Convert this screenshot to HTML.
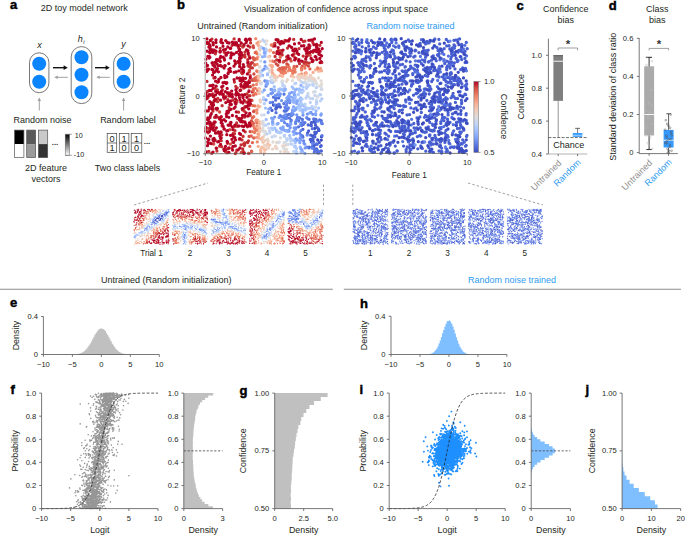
<!DOCTYPE html>
<html><head><meta charset="utf-8"><style>
html,body{margin:0;padding:0;background:#fff;width:685px;height:535px;overflow:hidden}
svg{display:block}
text{font-family:"Liberation Sans",sans-serif}
</style></head><body>
<svg width="685" height="535" viewBox="0 0 685 535">
<rect width="685" height="535" fill="#fff"/>
<text x="10.00" y="9.30" font-size="13" text-anchor="start" fill="#000" font-weight="bold" stroke="#000" stroke-width="0.45">a</text>
<text x="40.80" y="10.90" font-size="9" text-anchor="start" fill="#231f20">2D toy model network</text>
<rect x="29.50" y="52.80" width="19.40" height="39.90" fill="#fff" stroke="#555" stroke-width="0.8" rx="9.7"/>
<circle cx="39.2" cy="63.8" r="7" fill="#0a84ff"/>
<circle cx="39.2" cy="81.7" r="7" fill="#0a84ff"/>
<rect x="71.20" y="46.60" width="20.60" height="57.00" fill="#fff" stroke="#555" stroke-width="0.8" rx="10.299999999999997"/>
<circle cx="81.5" cy="57.2" r="7" fill="#0a84ff"/>
<circle cx="81.5" cy="74.7" r="7" fill="#0a84ff"/>
<circle cx="81.5" cy="92.2" r="7" fill="#0a84ff"/>
<rect x="113.70" y="52.80" width="19.80" height="39.90" fill="#fff" stroke="#555" stroke-width="0.8" rx="9.899999999999999"/>
<circle cx="123.6" cy="63.8" r="7" fill="#0a84ff"/>
<circle cx="123.6" cy="81.7" r="7" fill="#0a84ff"/>
<line x1="53.00" y1="67.70" x2="65.28" y2="67.70" stroke="#111" stroke-width="1.4"/>
<path d="M67.80 67.70L63.60 65.30L63.60 70.10Z" fill="#111"/>
<line x1="95.00" y1="67.70" x2="107.28" y2="67.70" stroke="#111" stroke-width="1.4"/>
<path d="M109.80 67.70L105.60 65.30L105.60 70.10Z" fill="#111"/>
<line x1="67.80" y1="77.30" x2="56.36" y2="77.30" stroke="#a0a0a0" stroke-width="1.0"/>
<path d="M54.20 77.30L57.80 75.50L57.80 79.10Z" fill="#a0a0a0"/>
<line x1="109.80" y1="77.30" x2="98.36" y2="77.30" stroke="#a0a0a0" stroke-width="1.0"/>
<path d="M96.20 77.30L99.80 75.50L99.80 79.10Z" fill="#a0a0a0"/>
<line x1="39.30" y1="110.50" x2="39.30" y2="99.66" stroke="#a0a0a0" stroke-width="1.0"/>
<path d="M39.30 97.50L37.50 101.10L41.10 101.10Z" fill="#a0a0a0"/>
<line x1="123.60" y1="110.50" x2="123.60" y2="99.66" stroke="#a0a0a0" stroke-width="1.0"/>
<path d="M123.60 97.50L121.80 101.10L125.40 101.10Z" fill="#a0a0a0"/>
<text x="39.40" y="48.20" font-size="9" text-anchor="middle" fill="#231f20" font-style="italic">x</text>
<text x="80.20" y="41.60" font-size="9" text-anchor="middle" fill="#231f20" font-style="italic">h</text>
<text x="84.00" y="43.80" font-size="6" text-anchor="middle" fill="#231f20" font-style="italic">i</text>
<text x="123.60" y="47.20" font-size="9" text-anchor="middle" fill="#231f20" font-style="italic">y</text>
<text x="42.60" y="122.50" font-size="9" text-anchor="middle" fill="#231f20">Random noise</text>
<text x="127.90" y="122.50" font-size="9" text-anchor="middle" fill="#231f20">Random label</text>
<rect x="14.60" y="130.10" width="9.30" height="14.00" fill="#000"/>
<rect x="14.60" y="144.10" width="9.30" height="13.50" fill="#fff"/>
<rect x="14.60" y="130.10" width="9.30" height="27.50" fill="none" stroke="#555" stroke-width="0.7"/>
<rect x="26.70" y="130.10" width="8.90" height="14.00" fill="#5a5a5a"/>
<rect x="26.70" y="144.10" width="8.90" height="13.50" fill="#9b9b9b"/>
<rect x="26.70" y="130.10" width="8.90" height="27.50" fill="none" stroke="#555" stroke-width="0.7"/>
<rect x="38.40" y="130.10" width="9.30" height="14.00" fill="#c9c9c9"/>
<rect x="38.40" y="144.10" width="9.30" height="13.50" fill="#333"/>
<rect x="38.40" y="130.10" width="9.30" height="27.50" fill="none" stroke="#555" stroke-width="0.7"/>
<text x="55.00" y="145.00" font-size="8" text-anchor="middle" fill="#333" font-weight="bold">...</text>
<defs><linearGradient id="gk" x1="0" y1="0" x2="0" y2="1"><stop offset="0" stop-color="#000"/><stop offset="1" stop-color="#fff"/></linearGradient></defs>
<rect x="65.20" y="134.30" width="4.40" height="21.00" fill="url(#gk)" stroke="#666" stroke-width="0.5"/>
<line x1="65.20" y1="134.30" x2="71.90" y2="134.30" stroke="#666" stroke-width="0.6"/>
<line x1="65.20" y1="155.30" x2="71.90" y2="155.30" stroke="#666" stroke-width="0.6"/>
<text x="74.80" y="137.80" font-size="7.2" text-anchor="start" fill="#231f20">10</text>
<text x="73.80" y="157.30" font-size="7.2" text-anchor="start" fill="#231f20">-10</text>
<text x="46.00" y="171.30" font-size="9" text-anchor="middle" fill="#231f20">2D feature</text>
<text x="46.00" y="181.50" font-size="9" text-anchor="middle" fill="#231f20">vectors</text>
<rect x="107.20" y="133.60" width="9.50" height="18.70" fill="#fff" stroke="#444" stroke-width="0.7"/>
<line x1="107.20" y1="143.00" x2="116.70" y2="143.00" stroke="#444" stroke-width="0.7"/>
<text x="111.95" y="141.80" font-size="9.2" text-anchor="middle" fill="#231f20">0</text>
<text x="111.95" y="151.20" font-size="9.2" text-anchor="middle" fill="#231f20">1</text>
<rect x="119.30" y="133.60" width="9.60" height="18.70" fill="#fff" stroke="#444" stroke-width="0.7"/>
<line x1="119.30" y1="143.00" x2="128.90" y2="143.00" stroke="#444" stroke-width="0.7"/>
<text x="124.10" y="141.80" font-size="9.2" text-anchor="middle" fill="#231f20">1</text>
<text x="124.10" y="151.20" font-size="9.2" text-anchor="middle" fill="#231f20">0</text>
<rect x="131.20" y="133.60" width="10.60" height="18.70" fill="#fff" stroke="#444" stroke-width="0.7"/>
<line x1="131.20" y1="143.00" x2="141.80" y2="143.00" stroke="#444" stroke-width="0.7"/>
<text x="136.50" y="141.80" font-size="9.2" text-anchor="middle" fill="#231f20">1</text>
<text x="136.50" y="151.20" font-size="9.2" text-anchor="middle" fill="#231f20">0</text>
<text x="147.00" y="143.60" font-size="8" text-anchor="middle" fill="#333" font-weight="bold">...</text>
<text x="127.50" y="171.00" font-size="9" text-anchor="middle" fill="#231f20">Two class labels</text>
<text x="177.00" y="9.20" font-size="13" text-anchor="start" fill="#000" font-weight="bold" stroke="#000" stroke-width="0.45">b</text>
<text x="336.00" y="12.30" font-size="9" text-anchor="middle" fill="#231f20">Visualization of confidence across input space</text>
<text x="262.50" y="28.90" font-size="9" text-anchor="middle" fill="#231f20">Untrained (Random initialization)</text>
<text x="410.50" y="28.90" font-size="9" text-anchor="middle" fill="#2f9bf0">Random noise trained</text>
<path d="M277.0 148.6h0M319.8 85.8h0M276.1 80.3h0M318.5 78.0h0M276.6 142.6h0M282.7 81.0h0M259.9 66.7h0M260.2 54.7h0M264.7 134.7h0M288.2 152.6h0M321.7 84.1h0M307.1 78.6h0M274.5 81.4h0M285.2 149.9h0M260.1 50.5h0M267.5 139.2h0M259.5 67.2h0M292.5 80.6h0M263.5 136.9h0M286.4 81.6h0M267.7 143.3h0M286.5 149.5h0M265.4 131.3h0M321.1 81.0h0M315.6 81.4h0M322.0 89.3h0M262.9 141.5h0M280.5 151.5h0M262.9 128.1h0M302.9 77.7h0M299.5 78.1h0M269.7 72.0h0M286.0 151.6h0M273.0 142.0h0M284.6 142.3h0" stroke="#e2dad5" stroke-width="3.30" stroke-linecap="round"/>
<path d="M321.5 136.7h0M313.9 121.7h0M318.8 130.4h0M273.5 105.1h0M311.1 125.3h0M317.7 140.0h0M315.2 134.0h0M312.8 135.9h0M276.3 108.0h0M276.2 105.5h0M316.2 132.4h0M314.8 128.4h0M321.3 140.1h0" stroke="#3b4cc0" stroke-width="3.30" stroke-linecap="round"/>
<path d="M278.4 50.4h0M321.8 62.5h0M278.1 39.9h0M243.1 136.4h0M246.9 94.0h0M205.9 67.0h0M207.0 81.4h0M279.0 41.9h0M244.2 107.9h0M230.2 48.3h0M208.8 151.4h0M244.9 117.1h0M306.2 62.0h0M249.7 124.6h0M217.1 109.9h0M249.2 71.9h0M296.1 58.7h0M212.8 94.0h0M249.5 105.4h0M288.7 58.7h0M211.9 39.1h0M309.3 48.2h0M251.6 62.7h0M221.2 140.7h0M319.9 45.3h0M233.0 100.2h0M243.8 45.9h0M223.5 94.5h0M304.1 63.3h0M246.5 102.2h0M248.8 86.8h0M316.2 51.4h0M236.8 62.5h0M218.7 117.4h0M244.7 144.8h0M220.8 132.5h0M230.2 122.9h0M249.6 70.3h0M241.0 144.8h0M237.2 87.8h0M306.5 53.9h0M248.5 66.2h0M242.7 148.9h0M214.9 88.3h0M217.8 59.6h0M234.5 133.7h0M227.8 99.7h0M220.7 41.7h0M249.1 66.6h0M221.7 146.7h0M283.9 61.4h0M237.8 118.7h0M235.0 130.6h0M244.3 145.6h0M208.6 128.5h0M235.8 86.5h0M286.4 60.2h0M304.9 41.2h0M307.0 50.5h0M216.6 148.4h0M207.4 91.5h0M249.9 95.7h0M244.4 84.3h0M213.4 124.0h0M239.3 139.2h0M224.2 129.1h0M238.6 47.9h0M242.3 73.7h0M213.9 96.5h0M243.8 88.1h0M239.7 64.1h0M309.2 63.1h0M215.5 100.5h0M250.3 86.7h0M244.9 106.7h0M215.5 63.2h0M220.3 51.8h0M253.0 80.0h0M312.4 61.5h0M224.1 98.8h0M242.8 47.0h0M215.2 129.9h0M309.9 45.9h0M235.3 153.6h0M250.6 42.9h0M287.5 48.1h0M247.2 142.3h0M250.3 39.1h0M220.1 48.3h0M227.0 152.7h0M210.3 143.1h0M233.6 136.6h0M303.2 56.1h0M250.2 75.7h0M213.9 78.1h0M217.6 82.3h0M242.6 122.0h0M252.4 67.9h0M227.4 143.3h0M284.9 40.4h0M294.0 54.1h0M232.1 45.5h0M222.4 90.0h0M321.1 61.9h0M214.2 121.9h0M293.7 39.4h0M279.4 54.2h0M245.2 131.8h0M248.1 62.1h0M247.7 59.7h0M243.0 150.9h0M282.2 54.9h0M221.8 134.8h0M317.2 45.3h0M214.6 117.4h0M212.4 106.9h0M236.6 100.5h0M231.9 148.3h0M224.2 52.2h0M236.3 125.1h0M249.0 95.9h0M284.2 41.8h0M303.8 62.0h0M243.5 56.2h0M215.4 53.8h0M228.3 148.7h0M303.3 41.5h0M288.5 41.2h0M237.9 93.7h0M299.5 63.7h0M250.3 67.4h0M244.4 153.0h0M238.6 112.2h0M240.8 90.0h0M281.8 52.4h0M250.5 64.4h0M299.0 48.7h0M225.9 96.6h0M233.2 133.3h0M235.4 44.9h0M208.1 119.3h0M219.6 146.2h0M244.6 143.0h0M279.5 61.9h0M210.5 50.0h0M250.0 47.1h0M252.4 62.8h0M226.7 116.5h0M236.9 102.1h0M290.2 58.8h0M217.8 98.5h0M220.1 93.3h0M245.0 57.0h0M250.4 39.9h0M222.0 125.8h0M247.7 142.6h0M240.0 45.5h0M287.5 57.0h0M207.8 98.1h0M280.8 50.7h0M244.7 55.1h0M236.0 152.6h0M214.5 99.9h0M225.2 151.3h0M208.2 132.8h0M235.5 42.3h0M239.9 78.4h0M250.9 100.2h0M286.7 56.9h0M274.9 43.5h0M307.2 63.0h0M249.9 102.1h0M236.6 123.0h0M312.9 52.3h0M236.8 150.2h0M249.3 56.5h0M214.0 125.3h0M307.9 55.3h0M278.6 60.4h0M213.1 109.5h0M212.3 50.6h0M234.2 126.8h0M234.1 38.9h0M205.6 128.7h0M244.2 111.1h0M243.7 143.8h0M242.0 139.9h0M275.1 56.5h0M207.2 42.5h0M245.3 86.3h0M213.6 140.9h0M241.5 72.5h0M227.8 92.6h0M248.8 99.7h0M211.7 153.3h0M276.7 59.9h0M216.9 151.1h0M312.8 42.4h0M237.0 126.3h0M217.4 89.9h0M245.0 52.1h0M217.6 101.7h0M229.1 107.6h0M232.2 54.5h0M242.6 109.9h0M211.2 128.7h0M234.4 82.0h0M248.0 65.4h0M222.1 105.7h0M229.1 96.1h0M212.9 111.2h0M252.3 91.9h0M215.7 51.6h0M248.5 140.9h0" stroke="#c43032" stroke-width="3.30" stroke-linecap="round"/>
<path d="M318.5 129.0h0M272.0 110.4h0M308.6 131.0h0M311.3 122.7h0M313.0 139.5h0M307.5 133.1h0M280.4 107.0h0M315.2 122.8h0M287.0 109.1h0M313.4 142.0h0M313.1 145.6h0M314.8 136.9h0M311.3 141.8h0M315.0 149.9h0M318.8 130.4h0M316.5 148.8h0M313.6 147.4h0M313.2 137.4h0M310.3 139.5h0M309.2 147.1h0M321.2 145.7h0M314.8 132.2h0M317.7 152.8h0M285.8 111.1h0M315.9 119.4h0M315.5 125.2h0M311.8 122.6h0M275.8 109.0h0M308.2 124.9h0M312.5 139.0h0M286.0 115.1h0M278.6 97.9h0M310.7 135.2h0M321.3 151.0h0M320.5 146.5h0M301.4 123.4h0M316.0 132.8h0M311.2 125.7h0M278.9 104.3h0M302.9 129.3h0M317.1 127.4h0M319.3 142.5h0M314.4 145.2h0M278.1 106.6h0M317.1 144.3h0" stroke="#485fd1" stroke-width="3.30" stroke-linecap="round"/>
<path d="M302.4 135.9h0M283.9 119.1h0M275.9 98.5h0M284.2 111.0h0M289.7 102.5h0M272.6 102.3h0M312.3 128.7h0M314.4 149.1h0M317.8 150.7h0M281.0 116.5h0M273.5 97.2h0M299.9 117.9h0M322.0 135.7h0M321.3 120.7h0M287.5 115.0h0M289.4 118.1h0M317.5 152.0h0M279.0 104.4h0M316.2 150.2h0M314.3 152.2h0M287.9 99.5h0M307.9 118.8h0M316.2 121.0h0M319.1 151.7h0M286.9 110.0h0M313.7 119.0h0M298.6 126.8h0M302.4 119.4h0M284.0 94.2h0M316.5 143.8h0M309.2 119.3h0M319.6 119.9h0M287.5 109.2h0M303.4 124.4h0M319.0 152.9h0M302.9 137.2h0M280.2 115.6h0M304.9 122.6h0M301.6 125.6h0M298.8 121.0h0M297.4 117.7h0M276.0 112.7h0M315.6 119.5h0M291.2 120.2h0M289.0 114.3h0M312.1 146.9h0M309.0 147.9h0M322.2 123.7h0M283.8 103.6h0M275.6 100.2h0" stroke="#5572df" stroke-width="3.30" stroke-linecap="round"/>
<path d="M296.1 127.8h0M303.6 140.8h0M312.4 148.3h0M298.6 117.6h0M270.6 108.1h0M306.7 117.7h0M300.9 135.2h0M286.5 105.2h0M290.8 121.6h0M307.2 135.0h0M321.4 123.1h0M299.7 133.2h0M307.0 147.1h0M281.9 120.3h0M318.0 121.2h0M276.6 95.1h0M291.5 113.7h0M285.7 108.5h0M270.2 102.6h0M295.6 123.6h0M286.8 102.6h0M284.5 122.6h0M302.8 121.9h0M287.1 124.4h0M286.5 118.4h0M275.1 105.0h0M312.5 143.5h0M291.3 115.7h0M264.9 81.0h0M286.7 117.1h0M295.6 122.0h0M292.9 114.5h0M287.8 125.6h0M266.0 86.2h0M300.9 130.6h0M284.0 116.4h0M300.8 124.5h0M284.9 118.7h0M296.7 119.8h0M284.9 107.1h0M288.4 107.9h0M281.8 116.8h0" stroke="#6384eb" stroke-width="3.30" stroke-linecap="round"/>
<path d="M278.9 94.5h0M286.3 130.6h0M307.4 114.1h0M300.1 138.0h0M290.2 127.6h0M305.2 147.9h0M281.4 129.0h0M293.9 131.7h0M289.5 101.3h0M303.0 115.1h0M271.1 89.5h0M293.1 114.1h0M295.6 129.1h0M300.9 138.2h0M288.6 99.0h0M294.3 110.6h0M280.3 94.0h0M278.1 93.7h0M274.6 117.1h0M296.5 133.5h0M270.8 93.6h0M264.3 68.9h0M295.9 133.4h0M289.0 100.0h0M310.9 112.4h0M290.2 100.3h0M292.5 111.8h0M264.8 61.9h0M320.9 115.1h0M281.6 100.6h0M285.8 101.7h0M312.8 114.3h0M275.4 95.4h0M271.3 93.7h0M281.5 120.4h0M279.7 95.9h0M272.7 92.6h0M304.8 144.2h0M285.1 115.0h0M294.2 128.0h0M296.8 114.8h0M289.7 124.8h0M279.1 117.5h0M303.9 143.3h0M288.9 96.4h0M287.8 97.3h0" stroke="#7295f4" stroke-width="3.30" stroke-linecap="round"/>
<path d="M256.8 126.1h0M256.2 52.0h0M257.6 71.6h0M255.7 38.7h0M257.7 120.6h0M256.5 84.4h0M255.5 130.0h0M283.9 69.3h0M255.9 120.5h0M292.7 73.4h0M256.9 113.0h0M305.1 73.3h0M280.9 70.3h0M318.4 69.7h0M254.2 110.7h0M293.5 68.4h0M257.3 141.9h0M258.1 134.1h0M283.5 72.2h0M285.7 72.7h0M257.1 64.4h0M283.4 73.8h0M288.4 70.8h0M257.5 81.0h0M256.9 110.0h0" stroke="#f08b6e" stroke-width="3.30" stroke-linecap="round"/>
<path d="M264.9 56.2h0M264.7 53.4h0M298.1 94.7h0M279.6 132.5h0M302.5 110.3h0M296.2 108.2h0M278.8 92.0h0M293.8 134.6h0M302.0 109.9h0M295.1 101.0h0M288.3 131.2h0M295.2 97.5h0M284.7 88.1h0M285.6 89.3h0M316.0 110.8h0M284.4 90.7h0M287.0 131.3h0M293.1 102.0h0M301.0 90.4h0M285.0 130.6h0M262.5 56.8h0M274.6 89.8h0M302.9 112.6h0M293.4 99.6h0M302.5 151.6h0M274.9 90.7h0M282.7 128.8h0M272.7 123.8h0M293.4 97.8h0M272.4 121.5h0M296.6 89.2h0M294.4 92.4h0M294.5 102.1h0M277.1 124.2h0M300.9 85.3h0M282.9 90.1h0M262.6 75.4h0M276.8 130.8h0M300.2 147.1h0M264.5 50.5h0M295.4 90.1h0M300.6 148.4h0" stroke="#90b2fe" stroke-width="3.30" stroke-linecap="round"/>
<path d="M272.0 137.0h0M269.9 132.9h0M308.0 93.5h0M315.1 91.7h0M264.2 114.8h0M270.6 77.2h0M308.8 96.9h0M287.5 138.8h0M260.8 61.1h0M316.9 87.0h0M312.7 83.3h0M315.3 107.0h0M274.3 136.0h0M315.2 95.7h0M282.2 82.7h0M313.4 85.2h0M268.8 128.2h0M317.9 96.3h0M300.7 81.1h0M310.3 98.5h0M301.0 81.7h0M321.2 89.3h0M261.3 46.9h0M314.7 95.3h0M305.9 83.8h0M306.0 82.4h0M316.4 100.2h0M261.4 83.1h0M275.4 136.2h0M263.2 122.7h0" stroke="#cbd8ee" stroke-width="3.30" stroke-linecap="round"/>
<path d="M274.9 77.8h0M259.8 81.4h0M269.8 65.2h0M260.1 106.6h0M269.7 145.2h0M262.5 137.4h0M276.9 77.0h0M265.7 149.6h0M291.6 75.6h0M264.4 152.8h0M265.1 140.6h0M260.1 100.2h0M263.8 147.9h0M259.1 88.9h0M268.3 148.0h0M272.3 75.2h0M299.7 77.0h0M277.2 77.3h0M258.8 46.1h0M293.9 77.1h0M273.4 75.8h0" stroke="#f2c9b4" stroke-width="3.30" stroke-linecap="round"/>
<path d="M298.6 99.8h0M300.8 110.0h0M292.2 86.9h0M276.8 131.7h0M312.9 109.1h0M274.7 128.1h0M300.9 102.5h0M300.4 99.7h0M266.6 67.9h0M293.1 140.3h0M300.4 106.4h0M293.5 88.7h0M272.9 124.5h0M301.0 152.1h0M299.7 91.3h0M299.4 89.0h0M306.4 108.8h0M295.3 142.5h0M300.6 97.8h0M267.4 73.8h0M278.9 89.4h0M289.7 135.6h0M267.5 74.7h0M296.7 100.4h0M296.9 140.6h0M295.0 96.1h0M276.3 130.9h0M307.9 108.6h0M297.6 107.1h0M274.9 128.3h0M305.4 110.0h0M304.9 108.7h0M302.8 90.4h0M304.9 107.0h0M299.4 104.9h0M302.9 105.2h0M280.3 89.0h0M265.5 108.1h0M299.1 89.3h0M274.2 86.7h0M281.6 89.7h0M266.2 119.5h0M267.6 81.4h0" stroke="#9fbfff" stroke-width="3.30" stroke-linecap="round"/>
<path d="M258.3 81.1h0M258.3 42.2h0M272.1 67.1h0M256.5 137.5h0M321.3 70.8h0M256.8 119.9h0M320.5 68.5h0M255.4 131.0h0M256.9 119.9h0M257.8 120.7h0M257.9 56.9h0M258.1 105.9h0M301.5 73.8h0M270.5 50.4h0M292.6 74.1h0M306.0 72.7h0M257.3 76.5h0M258.0 137.4h0M257.4 122.2h0M257.0 59.2h0M257.5 71.6h0M256.9 43.3h0" stroke="#f59d7e" stroke-width="3.30" stroke-linecap="round"/>
<path d="M248.5 153.3h0M254.3 59.9h0M253.5 47.5h0M308.4 66.1h0M302.3 66.1h0M253.9 74.0h0M288.0 65.0h0M249.4 80.4h0M277.9 65.3h0M274.2 61.3h0M252.5 122.6h0M253.0 57.7h0M252.0 100.4h0M253.2 46.0h0M274.0 44.2h0M253.6 111.6h0M283.2 62.1h0M219.6 112.0h0M232.7 141.9h0M252.3 80.3h0M248.9 153.4h0M310.2 55.3h0M249.7 115.6h0M250.3 115.4h0M293.3 56.0h0M251.7 151.4h0M296.8 66.3h0M291.1 60.9h0M230.3 144.1h0M229.9 129.7h0M247.4 126.8h0M273.2 46.2h0M249.1 136.4h0M250.1 131.6h0M213.7 144.0h0M286.9 63.9h0M250.8 124.7h0M249.3 70.8h0M253.3 123.5h0M251.4 121.0h0M225.9 55.0h0M253.9 59.6h0M306.0 64.6h0M249.7 105.0h0M276.2 63.8h0M252.8 123.0h0M241.2 152.5h0" stroke="#d24b40" stroke-width="3.30" stroke-linecap="round"/>
<path d="M260.7 150.0h0M260.8 152.0h0M258.9 134.9h0M269.7 56.3h0M258.5 54.4h0M259.8 129.0h0M259.0 88.8h0M258.3 45.2h0M257.1 130.7h0M271.2 65.5h0M257.6 127.8h0M279.9 75.6h0M282.5 76.2h0M321.2 70.7h0M259.3 123.3h0M258.9 71.6h0M258.5 107.0h0M258.2 146.4h0M272.5 72.8h0M315.5 69.8h0M272.6 65.9h0M313.1 72.4h0M269.8 50.2h0M259.0 138.2h0M306.3 73.6h0M272.0 70.4h0" stroke="#f7ad90" stroke-width="3.30" stroke-linecap="round"/>
<path d="M253.4 126.1h0M255.4 93.4h0M284.4 71.2h0M271.3 45.0h0M285.0 69.0h0M272.6 61.2h0M293.1 72.3h0M254.5 132.6h0M254.8 64.9h0M256.9 80.1h0M304.9 66.7h0M279.7 68.5h0M286.9 66.6h0M256.2 130.1h0M278.3 69.7h0M255.5 77.7h0M254.9 105.9h0M280.1 71.0h0M301.4 67.8h0M301.6 69.9h0M317.6 68.0h0M253.8 116.7h0M256.7 122.9h0M282.2 67.6h0M291.3 70.6h0M256.1 94.1h0M256.7 70.9h0M255.3 88.3h0M281.6 68.3h0M304.8 68.2h0M289.2 67.4h0M289.4 68.9h0M292.8 71.5h0M281.4 72.6h0M253.2 88.9h0M254.5 128.4h0M294.8 69.2h0M252.4 131.6h0M257.6 90.6h0M256.8 53.6h0M295.2 72.0h0M256.7 58.7h0M285.7 68.8h0" stroke="#e9785d" stroke-width="3.30" stroke-linecap="round"/>
<path d="M274.4 75.0h0M258.7 78.1h0M270.1 60.8h0M301.1 75.7h0M310.4 75.4h0M298.8 74.7h0M258.6 77.5h0M261.4 139.3h0M318.5 71.3h0M259.1 93.5h0M259.6 132.0h0M259.4 126.7h0M304.9 75.3h0M258.8 75.9h0M267.9 144.4h0M291.3 76.2h0M263.1 142.2h0M259.3 121.6h0M269.7 51.0h0M264.7 150.1h0M259.0 88.8h0M260.8 149.9h0M282.1 76.3h0M259.5 48.9h0M261.8 147.1h0" stroke="#f6bda2" stroke-width="3.30" stroke-linecap="round"/>
<path d="M259.8 48.1h0M307.6 77.5h0M260.0 90.7h0M300.3 78.0h0M272.5 149.1h0M298.8 79.5h0M275.5 146.1h0M287.5 79.6h0M259.8 82.3h0M285.5 145.3h0M263.2 130.9h0M313.3 78.2h0M264.6 145.1h0M269.1 69.3h0M260.4 102.1h0M277.6 142.1h0M260.4 41.5h0M268.4 147.1h0M267.7 147.9h0M299.9 77.1h0M263.2 140.1h0M305.1 79.2h0M282.7 146.0h0M259.9 71.1h0M300.2 76.7h0M284.3 151.7h0M268.1 141.0h0M312.6 79.9h0M260.3 73.6h0M266.9 40.9h0M261.4 123.5h0M297.3 76.9h0M259.7 54.4h0M310.1 77.8h0M275.8 148.0h0M304.4 77.9h0M260.5 130.6h0M314.8 79.6h0M268.3 57.0h0M276.3 147.3h0M310.8 76.0h0M266.6 146.0h0" stroke="#ecd3c5" stroke-width="3.30" stroke-linecap="round"/>
<path d="M316.7 102.5h0M266.3 50.5h0M277.8 132.2h0M280.3 132.5h0M295.3 145.9h0M302.1 99.2h0M305.2 107.3h0M296.7 152.2h0M264.3 103.6h0M272.7 129.5h0M309.9 108.3h0M265.7 53.2h0M307.5 86.7h0M312.3 107.8h0M294.7 146.8h0M290.4 137.9h0M272.7 82.7h0M281.1 132.2h0M262.5 92.1h0M299.8 92.2h0M298.3 94.6h0M263.7 98.5h0M296.4 151.7h0M301.3 103.9h0M267.0 68.2h0M284.2 135.6h0M294.8 139.6h0M296.4 148.4h0M303.0 87.2h0M263.4 99.6h0M302.6 91.1h0M291.1 139.3h0M294.7 146.1h0M295.7 83.3h0M302.0 92.5h0M271.6 128.2h0M284.6 135.3h0M299.8 110.0h0M268.5 123.8h0M318.6 108.1h0M265.8 49.0h0M306.5 88.3h0M307.5 108.2h0M296.5 153.3h0M299.5 108.0h0M271.0 82.2h0M270.7 80.8h0M303.2 90.8h0M321.9 98.8h0" stroke="#afcafc" stroke-width="3.30" stroke-linecap="round"/>
<path d="M263.4 125.2h0M308.7 79.9h0M266.1 44.2h0M272.4 80.2h0M269.4 70.6h0M283.5 148.0h0M316.7 83.7h0M288.0 144.5h0M310.3 80.5h0M279.4 142.1h0M321.2 87.0h0M317.6 97.0h0M259.8 54.8h0M278.2 142.5h0M284.0 142.8h0M263.6 125.3h0M263.0 121.3h0M264.5 131.3h0M313.4 92.0h0M304.9 81.8h0M261.6 115.1h0M263.5 131.0h0M314.0 82.4h0M262.7 121.4h0M285.7 143.7h0M308.9 80.8h0M312.9 81.6h0M280.4 137.8h0M260.5 73.1h0M271.8 76.7h0M260.8 84.0h0M281.9 81.3h0" stroke="#d7dce3" stroke-width="3.30" stroke-linecap="round"/>
<path d="M284.4 136.3h0M316.2 87.7h0M320.0 94.4h0M290.7 140.7h0M306.0 98.0h0M312.9 85.0h0M316.5 103.8h0M290.8 143.9h0M306.0 87.0h0M284.6 86.5h0M282.9 84.6h0M294.8 83.7h0M269.7 130.9h0M286.7 138.9h0M320.4 100.8h0M308.3 84.9h0M262.9 39.8h0M309.4 84.9h0M261.3 75.9h0M265.9 125.2h0M263.5 97.6h0M305.1 104.2h0M282.8 85.8h0M307.1 95.9h0M310.3 102.5h0M287.0 140.4h0M264.3 41.4h0M261.6 47.5h0M320.7 94.8h0M303.0 82.8h0M267.1 133.8h0M312.6 98.6h0M293.8 151.3h0M261.0 72.3h0M292.0 144.3h0M312.0 106.3h0" stroke="#bed2f6" stroke-width="3.30" stroke-linecap="round"/>
<path d="M240.4 53.2h0M205.9 59.2h0M240.8 121.7h0M235.1 102.5h0M230.5 135.3h0M209.5 94.4h0M206.7 131.6h0M236.6 52.4h0M216.0 91.4h0M247.6 84.8h0M212.2 109.1h0M220.7 56.4h0M315.9 49.7h0M227.8 46.9h0M209.8 52.8h0M243.0 67.2h0M208.2 110.9h0M208.9 139.6h0M294.8 49.1h0M223.0 46.3h0M228.5 111.9h0M226.3 113.9h0M245.1 122.4h0M213.3 104.2h0M234.7 60.9h0M229.0 147.9h0M241.2 43.0h0M212.5 106.3h0M294.7 59.9h0M312.2 61.4h0M234.9 125.1h0M227.2 88.4h0M209.9 85.7h0M224.7 75.7h0M207.8 118.0h0M299.1 43.2h0M218.5 81.6h0M220.4 65.4h0M301.7 61.2h0M243.6 70.6h0M306.8 50.9h0M224.2 150.6h0M220.9 77.5h0M248.8 91.6h0M230.5 125.2h0M243.9 101.1h0M214.8 67.1h0M214.4 65.9h0M220.6 138.4h0M220.6 144.3h0M241.2 57.8h0M216.6 70.0h0M236.4 92.0h0M292.9 50.5h0M220.0 132.5h0M289.7 39.0h0M315.2 56.7h0M209.2 56.5h0M249.9 58.1h0M221.4 66.2h0M216.0 40.0h0M219.0 133.3h0M242.0 117.8h0M234.1 108.3h0M231.9 139.3h0M209.2 95.8h0M219.7 133.4h0M226.8 76.6h0M236.4 93.0h0M238.4 94.3h0M232.3 42.1h0M229.6 95.4h0M210.0 117.4h0M288.1 55.9h0M240.6 134.4h0M216.0 42.6h0M238.3 61.4h0M212.9 69.9h0M207.1 43.4h0M228.2 52.6h0M228.4 101.4h0M209.3 108.8h0M239.5 120.0h0M249.4 123.0h0M249.0 90.9h0M228.9 117.3h0M211.9 69.4h0M212.6 75.1h0M234.1 79.6h0M235.5 98.9h0M229.1 43.0h0M239.1 118.5h0M235.3 145.9h0M221.3 116.7h0M235.4 103.3h0M221.2 137.8h0M225.6 121.1h0M226.8 134.7h0M226.8 82.7h0M313.4 50.9h0M316.8 51.7h0M209.1 58.1h0M312.4 39.8h0M244.6 94.7h0M207.5 70.4h0M240.9 102.2h0M205.7 63.1h0M234.0 137.3h0M215.2 122.1h0M241.9 81.3h0M239.6 66.5h0M208.4 42.9h0M231.0 122.5h0M225.5 146.4h0M291.7 47.5h0M219.9 51.9h0M213.1 85.2h0M206.0 93.7h0M213.9 123.2h0M224.7 82.4h0M248.9 91.4h0M304.7 48.9h0M210.5 115.4h0M225.3 97.6h0M246.7 40.7h0M221.6 121.0h0M211.4 128.8h0M220.5 100.2h0M247.0 86.2h0M238.2 149.8h0M244.0 66.8h0M235.2 107.1h0M309.1 48.0h0M241.6 69.0h0M234.9 137.6h0M216.1 115.5h0M213.1 88.3h0M296.9 51.1h0M250.5 103.9h0M232.2 126.8h0M243.1 80.5h0M227.1 141.5h0M240.0 80.5h0M209.3 107.2h0M246.0 83.5h0M276.1 39.7h0M243.7 153.2h0M209.4 90.4h0M214.2 130.4h0M208.9 47.0h0M234.0 43.1h0M216.2 117.1h0M208.3 139.2h0M223.5 49.8h0M244.5 115.4h0M215.4 62.1h0M316.7 59.6h0M207.1 51.2h0M213.1 138.8h0M226.0 149.6h0M233.9 54.0h0M242.4 121.4h0M211.7 94.9h0M316.6 44.5h0M219.9 136.2h0M211.9 124.6h0M239.9 78.1h0M225.6 49.3h0M239.2 61.3h0M238.9 70.8h0M249.7 113.4h0M283.6 42.9h0M320.1 51.3h0M307.0 52.7h0M228.7 93.9h0M220.3 61.5h0M206.9 123.4h0M221.0 132.0h0M221.3 39.7h0M208.7 119.1h0M215.4 99.4h0M218.0 60.4h0M221.4 91.3h0M211.1 90.5h0M227.0 111.4h0M240.9 84.4h0M301.5 45.9h0M206.0 110.9h0M239.1 50.7h0M215.0 140.0h0M222.6 94.6h0M240.0 90.5h0M292.3 55.1h0M212.2 85.5h0M236.4 116.3h0M227.9 112.0h0M211.5 103.0h0M277.1 51.7h0M220.2 58.1h0M240.1 56.2h0M213.0 42.6h0M215.5 94.9h0M235.9 89.7h0M215.1 71.8h0M239.6 50.1h0M306.3 56.8h0M322.2 48.7h0M247.9 116.0h0M210.7 126.5h0M289.4 45.8h0M214.1 72.3h0M277.2 39.8h0M245.5 82.4h0M281.4 43.2h0M221.5 42.6h0M279.6 53.5h0M243.5 72.2h0M236.2 95.2h0M212.5 62.7h0M242.9 77.9h0M215.1 77.4h0M215.6 91.3h0M278.2 47.6h0M243.0 97.5h0M245.7 83.8h0M207.4 96.3h0M231.0 109.3h0M220.2 51.1h0M288.8 40.2h0M247.8 62.7h0M221.7 87.0h0M221.0 120.0h0M301.2 39.5h0M276.9 53.4h0M248.6 81.9h0M299.0 59.6h0M315.9 57.0h0M244.8 116.1h0M223.5 97.1h0M248.4 105.2h0M230.8 95.2h0M216.1 108.5h0M241.3 118.6h0M221.5 42.5h0M217.7 141.8h0M246.1 106.8h0M223.9 149.2h0M227.5 142.0h0M206.7 71.4h0M235.3 63.9h0M213.4 96.7h0M228.1 125.1h0M242.2 108.7h0M217.6 132.9h0M241.5 121.3h0M240.1 61.3h0M246.1 112.8h0M205.6 137.9h0M227.3 42.5h0M233.0 146.4h0M227.6 130.7h0M207.8 141.8h0M305.7 58.9h0M298.7 54.4h0M295.1 58.0h0M250.2 100.4h0M243.1 70.4h0M206.0 127.2h0M231.3 53.0h0M224.1 128.9h0M249.4 82.4h0M235.5 139.9h0M209.5 131.4h0M225.4 91.7h0M245.5 78.3h0M234.1 72.3h0M213.3 44.8h0M236.3 111.9h0M209.8 101.7h0M228.9 152.3h0M211.5 50.0h0M224.9 77.5h0M232.2 94.5h0M208.1 122.8h0M239.2 39.4h0M223.2 57.1h0M228.3 72.6h0M228.9 69.5h0M216.2 86.2h0M224.1 119.7h0M229.3 93.1h0M241.9 126.1h0M233.3 44.2h0M213.3 130.1h0M237.9 45.9h0M216.0 51.2h0M217.4 108.3h0M308.9 44.9h0M311.1 58.4h0M232.6 150.0h0M243.4 130.3h0M206.9 96.3h0M214.2 50.1h0M246.5 50.0h0M245.4 39.8h0M230.8 101.0h0M239.8 59.2h0M216.5 46.9h0M250.2 126.0h0M239.5 133.5h0M311.1 51.6h0M247.4 73.9h0M246.2 42.6h0M245.3 87.1h0M239.5 57.9h0M244.2 100.4h0M321.3 42.4h0M209.7 45.0h0M288.7 58.5h0M297.2 53.2h0M246.8 106.5h0M232.4 115.5h0M218.0 65.6h0M236.6 94.0h0M234.0 66.2h0M311.2 58.5h0M291.6 47.4h0M213.0 65.1h0M240.0 99.9h0M239.4 97.5h0M224.7 65.7h0M241.0 86.3h0M222.3 123.8h0M248.3 102.5h0M232.3 135.1h0M281.5 41.4h0M231.1 55.6h0M232.4 97.0h0M228.8 63.6h0M214.1 138.4h0M206.9 38.9h0M241.9 95.0h0M209.9 57.3h0M207.5 145.7h0M242.0 54.6h0M229.9 104.6h0M218.8 79.4h0M215.5 133.0h0M218.7 141.5h0M248.7 108.8h0M229.6 93.7h0M210.0 49.1h0M278.2 52.8h0M207.9 56.4h0M213.0 139.8h0M208.2 143.5h0M226.3 55.0h0M245.7 123.9h0M321.0 61.6h0M222.7 43.1h0M245.8 39.2h0M215.6 81.2h0M295.8 49.2h0M248.0 45.8h0M248.2 54.1h0M226.8 131.0h0M233.6 142.4h0M243.3 64.6h0M239.7 49.4h0M321.6 55.8h0M225.2 65.7h0M212.7 50.0h0M231.7 91.1h0M246.5 125.2h0M240.0 148.0h0M235.1 44.0h0M206.2 70.0h0M318.8 54.0h0M237.5 45.1h0M239.1 40.6h0M217.6 92.7h0M218.2 131.9h0M232.8 42.9h0M210.7 128.0h0M217.5 68.6h0M231.2 96.3h0M243.7 126.5h0M225.7 40.6h0M316.5 47.0h0M240.5 78.7h0M223.0 82.7h0M213.0 152.1h0M313.8 50.5h0M210.4 122.9h0M226.0 53.2h0M221.2 122.7h0M320.1 62.6h0M213.5 72.3h0M239.9 138.7h0M207.6 119.7h0M306.0 51.1h0M228.1 112.9h0M310.5 40.2h0M314.5 38.9h0M207.5 65.5h0M223.2 126.4h0M275.0 45.9h0M306.9 50.2h0M238.8 126.0h0M307.2 47.9h0M248.3 53.0h0M235.7 94.4h0M217.1 63.9h0M225.8 102.6h0M298.6 61.0h0M230.7 57.9h0M294.1 51.2h0M224.1 68.0h0M212.8 52.4h0M246.9 97.3h0M231.3 104.5h0M279.5 60.3h0M206.5 43.0h0M230.5 71.4h0M236.0 72.0h0M218.5 71.8h0M309.6 52.7h0M205.5 131.2h0M318.6 51.9h0M226.2 83.5h0M238.9 94.7h0M313.1 60.4h0M237.1 78.0h0M216.2 148.1h0M294.5 43.9h0M210.4 136.1h0M244.0 44.7h0M242.9 103.1h0M236.5 43.0h0M208.5 69.2h0M209.8 52.2h0M308.8 40.3h0M227.6 93.3h0M318.5 48.9h0M219.8 94.0h0M219.6 119.0h0M214.2 140.9h0M230.1 68.4h0M235.8 104.1h0M286.3 40.8h0M283.0 50.1h0M212.1 62.9h0M289.0 45.9h0M244.8 121.8h0M230.3 104.0h0M224.2 58.4h0M228.5 125.3h0M232.9 129.7h0M242.5 115.3h0M226.6 116.6h0M303.9 45.7h0M239.3 54.4h0M213.3 127.4h0M222.9 86.1h0M280.2 44.0h0M250.3 77.7h0M218.3 92.5h0M216.4 127.8h0M278.2 41.8h0M222.4 94.0h0M313.9 44.7h0M319.9 54.7h0M213.5 104.9h0M209.9 122.2h0M241.3 52.6h0M211.3 113.7h0M228.1 73.7h0M230.7 48.3h0M239.6 62.9h0M214.1 101.2h0M211.3 104.2h0M249.2 39.1h0M216.5 59.7h0M211.3 143.7h0M319.8 58.5h0M247.5 126.2h0M224.5 60.0h0M210.2 46.5h0M206.1 151.9h0M210.4 40.5h0M228.8 110.7h0M247.9 50.6h0M306.5 50.9h0M206.3 98.8h0M219.5 92.8h0M226.8 76.8h0M230.4 48.4h0M210.0 124.5h0M243.5 86.5h0" stroke="#b40426" stroke-width="3.30" stroke-linecap="round"/>
<path d="M264.3 90.0h0M273.0 119.2h0M268.8 109.1h0M293.1 131.8h0M263.5 48.4h0M283.6 129.6h0M289.6 93.5h0M292.4 109.9h0M266.7 81.1h0M300.7 140.2h0M288.8 130.1h0M293.6 106.9h0M266.3 84.5h0M297.3 101.6h0M288.7 95.9h0M283.1 120.4h0M264.4 52.7h0M290.9 124.1h0M289.0 131.0h0M265.2 66.2h0M309.8 112.9h0M280.7 128.2h0M315.7 114.8h0M294.3 94.7h0M296.0 138.9h0M272.8 122.4h0M296.7 103.4h0M268.2 112.5h0M315.6 113.7h0M283.1 127.0h0M271.6 118.2h0M299.9 140.6h0M267.5 83.9h0M272.2 89.8h0M301.8 149.7h0M295.8 109.6h0M304.9 153.3h0M321.2 113.8h0M293.4 110.5h0M268.1 95.4h0M286.8 98.2h0M291.2 97.1h0M299.8 142.7h0M297.1 139.8h0M278.1 123.3h0M266.0 100.0h0M262.8 70.1h0M291.7 92.4h0" stroke="#81a4fb" stroke-width="3.30" stroke-linecap="round"/>
<path d="M280.1 68.3h0M252.4 142.6h0M255.2 52.6h0M294.2 66.5h0M254.5 58.4h0M252.8 105.6h0M251.2 136.0h0M252.4 117.9h0M253.3 90.8h0M251.5 151.1h0M254.6 64.9h0M280.3 57.2h0M254.0 78.9h0M253.2 85.1h0M309.9 68.9h0M249.8 146.3h0M282.7 69.2h0M283.1 68.0h0M254.9 80.5h0M253.8 138.0h0M285.2 67.6h0M253.4 95.2h0M273.6 52.6h0M252.9 122.8h0M253.6 58.7h0" stroke="#df634e" stroke-width="3.30" stroke-linecap="round"/>
<line x1="205.30" y1="38.60" x2="205.30" y2="153.70" stroke="#c2c2c2" stroke-width="1.4"/>
<line x1="205.30" y1="153.70" x2="322.30" y2="153.70" stroke="#555555" stroke-width="0.8"/>
<line x1="203.10" y1="153.70" x2="205.30" y2="153.70" stroke="#555555" stroke-width="0.8"/>
<text x="199.70" y="156.30" font-size="7.6" text-anchor="end" fill="#231f20">−10</text>
<line x1="205.30" y1="153.70" x2="205.30" y2="155.90" stroke="#555555" stroke-width="0.8"/>
<text x="205.30" y="165.30" font-size="7.6" text-anchor="middle" fill="#231f20">−10</text>
<line x1="203.10" y1="96.15" x2="205.30" y2="96.15" stroke="#555555" stroke-width="0.8"/>
<text x="199.70" y="98.75" font-size="7.6" text-anchor="end" fill="#231f20">0</text>
<line x1="263.80" y1="153.70" x2="263.80" y2="155.90" stroke="#555555" stroke-width="0.8"/>
<text x="263.80" y="165.30" font-size="7.6" text-anchor="middle" fill="#231f20">0</text>
<line x1="203.10" y1="38.60" x2="205.30" y2="38.60" stroke="#555555" stroke-width="0.8"/>
<text x="199.70" y="41.20" font-size="7.6" text-anchor="end" fill="#231f20">10</text>
<line x1="322.30" y1="153.70" x2="322.30" y2="155.90" stroke="#555555" stroke-width="0.8"/>
<text x="322.30" y="165.30" font-size="7.6" text-anchor="middle" fill="#231f20">10</text>
<text x="263.80" y="175.20" font-size="8.2" text-anchor="middle" fill="#231f20">Feature 1</text>
<text x="184.60" y="95.90" font-size="8.6" text-anchor="middle" fill="#231f20" transform="rotate(-90 184.60 95.90)">Feature 2</text>
<path d="M441.2 127.5h0M409.7 89.9h0M405.3 48.1h0M394.0 153.0h0M358.0 108.9h0M464.8 85.7h0M366.4 56.4h0M354.6 139.3h0M351.7 67.0h0M399.8 59.8h0M437.4 86.7h0M398.9 47.5h0M359.1 104.0h0M380.3 60.9h0M389.8 107.7h0M448.7 140.5h0M386.7 43.0h0M439.9 59.8h0M355.6 85.6h0M445.4 77.9h0M364.2 81.5h0M421.9 142.4h0M389.1 70.5h0M451.9 50.9h0M366.6 77.4h0M394.3 91.5h0M360.1 65.8h0M456.4 122.5h0M441.3 58.6h0M434.9 39.0h0M439.4 66.4h0M414.8 70.6h0M457.9 108.9h0M438.3 131.5h0M384.0 94.1h0M424.1 91.8h0M452.6 132.8h0M464.9 45.3h0M415.4 60.8h0M430.8 145.0h0M451.8 117.5h0M433.2 64.9h0M408.0 137.1h0M402.4 79.9h0M429.9 87.9h0M411.1 149.4h0M354.2 42.9h0M371.2 146.2h0M405.2 128.8h0M351.8 93.5h0M415.1 130.7h0M418.8 97.0h0M394.4 91.2h0M392.2 40.7h0M445.0 117.7h0M438.8 106.7h0M366.4 41.7h0M445.6 106.2h0M405.9 101.9h0M439.5 110.4h0M421.4 39.7h0M362.3 148.1h0M409.7 103.4h0M365.6 136.0h0M452.1 52.6h0M418.9 104.9h0M455.0 108.2h0M429.3 142.6h0M367.0 39.7h0M354.5 118.9h0M367.1 91.2h0M451.5 108.6h0M466.4 70.8h0M358.0 85.4h0M357.3 102.9h0M385.6 56.1h0M358.8 42.6h0M457.5 61.5h0M381.5 89.6h0M396.1 42.9h0M455.4 139.3h0M422.5 39.8h0M408.4 121.1h0M448.4 56.1h0M388.5 77.8h0M367.4 86.8h0M366.7 119.8h0M397.0 150.8h0M443.8 126.6h0M444.1 59.6h0M409.9 131.0h0M386.8 118.3h0M466.2 70.6h0M369.6 148.9h0M460.8 114.6h0M359.9 121.6h0M391.6 112.6h0M413.2 144.1h0M443.9 54.4h0M404.7 123.1h0M424.2 89.2h0M358.2 106.7h0M394.9 82.3h0M432.4 124.2h0M411.3 124.9h0M377.8 94.3h0M403.9 106.8h0M369.8 119.5h0M429.5 41.8h0M359.9 50.1h0M392.0 50.0h0M361.1 53.8h0M464.1 152.6h0M385.4 59.1h0M431.7 118.2h0M385.1 57.8h0M355.5 45.0h0M446.5 103.7h0M442.3 53.2h0M378.0 115.3h0M445.9 81.0h0M457.6 79.8h0M384.9 97.3h0M453.3 124.7h0M437.7 80.5h0M396.0 64.3h0M438.7 68.3h0M368.0 123.6h0M447.7 151.3h0M417.8 72.7h0M441.0 109.4h0M429.5 135.3h0M352.7 38.9h0M387.5 54.5h0M375.2 93.5h0M423.5 52.7h0M425.0 95.8h0M358.8 139.5h0M436.5 115.5h0M408.8 99.5h0M402.7 141.6h0M394.6 136.2h0M393.5 45.8h0M385.6 45.5h0M466.6 55.8h0M407.0 47.5h0M363.4 92.5h0M449.9 143.9h0M438.1 114.3h0M376.8 96.2h0M389.3 126.3h0M358.8 151.8h0M449.5 77.8h0M404.8 121.4h0M452.0 50.2h0M452.3 62.9h0M393.8 53.0h0M371.4 102.4h0M443.8 60.9h0M417.2 76.6h0M422.5 77.2h0M394.8 56.5h0M451.0 83.6h0M446.0 85.2h0M444.5 104.7h0M364.2 71.7h0M371.6 55.0h0M371.8 83.4h0M404.5 88.7h0M458.2 60.4h0M451.1 64.5h0M379.9 126.6h0M355.5 52.2h0M387.6 139.7h0M420.4 56.4h0M420.8 136.0h0M398.2 122.8h0M445.9 124.3h0M373.2 93.1h0M463.5 48.9h0M427.4 76.2h0M431.6 40.8h0M415.1 71.9h0M394.3 99.5h0M448.1 105.0h0M374.1 125.1h0M372.3 116.4h0M359.0 127.2h0M422.0 59.8h0M402.4 59.2h0M425.5 44.0h0M402.9 80.9h0M368.1 93.9h0M440.4 71.9h0M441.9 119.6h0M422.1 130.5h0M385.2 62.9h0M409.9 50.5h0M394.7 39.1h0M367.7 105.5h0M440.6 90.0h0M411.6 119.3h0M361.5 51.6h0" stroke="#5572df" stroke-width="3.30" stroke-linecap="round"/>
<path d="M423.7 50.4h0M386.0 53.1h0M443.7 99.7h0M386.3 121.4h0M466.8 62.4h0M376.1 135.0h0M422.3 148.4h0M355.2 94.3h0M424.2 94.4h0M408.8 125.0h0M431.5 130.4h0M447.6 135.7h0M382.2 52.3h0M410.3 56.1h0M425.4 68.2h0M361.7 91.3h0M410.1 53.4h0M388.6 136.2h0M446.0 109.8h0M429.7 136.1h0M402.3 125.9h0M452.7 77.4h0M460.9 49.6h0M417.3 136.7h0M373.5 46.9h0M415.3 132.7h0M453.8 79.7h0M398.9 125.9h0M354.0 110.7h0M400.9 93.3h0M452.5 113.9h0M392.4 93.8h0M440.0 49.0h0M368.7 46.2h0M352.8 81.3h0M443.2 94.5h0M374.2 111.7h0M371.9 113.7h0M461.3 87.6h0M390.6 122.2h0M461.7 102.4h0M465.0 94.2h0M400.7 52.6h0M429.7 71.1h0M424.3 41.9h0M374.7 147.6h0M375.8 48.3h0M405.2 81.3h0M424.9 132.3h0M435.9 140.4h0M457.2 61.3h0M453.1 93.3h0M354.6 151.1h0M380.5 124.9h0M353.5 117.7h0M460.1 91.6h0M422.1 131.4h0M417.8 148.8h0M450.3 147.6h0M443.8 117.4h0M451.4 61.9h0M366.1 65.4h0M453.7 130.8h0M417.8 80.1h0M427.9 80.9h0M446.8 61.2h0M369.9 150.3h0M395.2 124.4h0M404.1 77.9h0M362.8 109.7h0M376.1 125.0h0M389.4 100.9h0M360.6 67.0h0M366.3 144.1h0M386.7 57.8h0M423.1 131.9h0M362.3 69.9h0M429.4 110.8h0M358.6 93.8h0M382.0 91.9h0M438.1 50.5h0M365.7 132.2h0M444.0 79.4h0M425.6 132.2h0M434.9 102.3h0M395.0 105.2h0M355.0 56.5h0M414.1 108.9h0M395.4 58.0h0M367.1 66.1h0M466.5 136.4h0M433.9 58.7h0M458.1 139.2h0M361.8 40.0h0M364.7 133.1h0M457.4 128.5h0M440.5 145.6h0M406.1 149.7h0M387.6 117.6h0M454.4 48.2h0M379.8 108.2h0M365.4 133.2h0M451.1 97.8h0M372.4 76.5h0M366.9 140.4h0M377.9 42.1h0M375.2 95.3h0M408.9 48.4h0M355.8 117.2h0M420.8 145.8h0M378.6 100.0h0M447.4 66.0h0M433.3 55.9h0M430.3 68.9h0M386.2 134.2h0M389.4 45.9h0M369.1 94.3h0M361.7 42.6h0M418.0 61.1h0M432.8 79.5h0M461.6 103.6h0M399.3 73.9h0M448.1 114.9h0M428.9 129.4h0M415.2 65.1h0M358.7 69.8h0M352.9 43.4h0M405.6 106.4h0M416.5 89.3h0M403.7 81.0h0M420.0 127.9h0M374.1 101.2h0M438.3 72.2h0M405.2 82.2h0M425.7 106.8h0M416.0 107.9h0M437.6 109.7h0M405.3 66.7h0M409.6 114.6h0M447.2 109.7h0M449.3 63.3h0M403.1 71.6h0M355.1 108.7h0M429.8 86.4h0M385.1 119.8h0M392.1 102.0h0M394.3 86.7h0M461.2 51.3h0M394.9 122.8h0M453.9 96.7h0M408.6 130.7h0M447.3 99.0h0M440.3 100.8h0M394.5 90.7h0M374.5 117.1h0M357.7 69.3h0M358.4 75.0h0M379.7 79.5h0M394.9 80.3h0M381.1 98.7h0M374.7 43.0h0M384.7 118.3h0M380.9 145.7h0M400.2 64.8h0M433.6 130.9h0M367.0 116.5h0M440.4 97.4h0M458.4 78.0h0M438.3 113.9h0M381.0 103.2h0M366.9 137.6h0M371.3 120.9h0M462.9 150.4h0M406.2 151.7h0M404.3 134.7h0M382.4 62.4h0M372.5 82.6h0M398.3 105.5h0M446.0 134.9h0M458.4 50.8h0M428.8 147.7h0M428.2 84.5h0M440.8 128.9h0M461.9 51.7h0M364.4 117.2h0M354.9 58.0h0M457.4 39.8h0M461.8 83.6h0M390.1 94.5h0M353.3 70.3h0M431.7 105.1h0M450.0 66.7h0M390.2 144.5h0M366.5 132.2h0M386.4 102.0h0M458.9 121.4h0M450.3 107.1h0M351.5 63.1h0M379.6 137.0h0M460.2 122.6h0M432.7 138.5h0M445.8 139.9h0M415.0 56.2h0M387.4 81.2h0M403.9 54.4h0M385.1 66.4h0M425.0 68.4h0M434.0 129.9h0M436.0 121.4h0M405.6 54.7h0M403.2 120.3h0M436.9 47.5h0M382.8 87.7h0M410.0 144.8h0M406.2 61.0h0M451.6 53.9h0M394.0 66.1h0M359.6 123.0h0M445.5 99.5h0M403.8 42.2h0M388.3 148.6h0M396.7 135.8h0M360.6 88.2h0M426.3 116.2h0M417.5 67.0h0M419.6 61.2h0M446.0 137.9h0M414.4 69.2h0M430.9 89.2h0M363.5 59.5h0M458.5 141.8h0M380.1 133.5h0M449.8 48.9h0M356.2 115.2h0M458.2 145.3h0M371.0 97.5h0M412.0 67.8h0M438.3 140.0h0M441.9 151.9h0M404.1 77.4h0M367.3 120.7h0M357.2 128.5h0M366.2 100.0h0M392.5 86.0h0M389.6 66.7h0M380.8 107.0h0M454.2 48.0h0M387.2 68.9h0M380.5 137.4h0M402.0 84.2h0M433.9 98.8h0M361.9 115.3h0M460.1 149.6h0M457.8 83.2h0M358.9 88.1h0M436.8 75.5h0M467.0 135.4h0M442.1 51.0h0M403.7 45.2h0M460.4 106.8h0M394.6 66.5h0M396.0 103.7h0M367.3 146.4h0M429.2 61.3h0M377.8 126.6h0M383.4 118.5h0M355.1 107.0h0M391.6 83.4h0M419.6 135.7h0M433.2 144.2h0M463.8 130.2h0M380.6 130.4h0M466.3 120.5h0M461.5 148.5h0M411.7 84.4h0M432.7 114.8h0M355.2 90.3h0M389.8 145.3h0M354.7 47.0h0M401.7 129.9h0M433.4 152.3h0M379.6 43.1h0M455.4 80.4h0M354.3 128.2h0M354.1 138.9h0M390.1 115.2h0M361.2 62.0h0M429.7 90.6h0M461.7 59.6h0M425.6 93.8h0M352.9 51.1h0M431.6 60.2h0M442.5 101.5h0M371.7 149.3h0M379.5 54.0h0M397.9 117.7h0M433.9 95.7h0M452.1 50.5h0M466.2 86.9h0M461.6 44.5h0M398.5 57.7h0M423.6 69.6h0M446.1 151.8h0M432.3 131.1h0M413.7 146.9h0M400.9 77.6h0M385.5 78.0h0M371.2 49.3h0M405.2 54.7h0M384.8 61.2h0M384.5 70.7h0M428.9 42.9h0M465.1 51.3h0M444.8 133.0h0M463.8 130.1h0M423.4 93.6h0M374.4 93.8h0M366.0 61.4h0M458.3 137.1h0M352.6 123.1h0M401.0 129.8h0M428.3 120.2h0M397.5 100.2h0M456.2 125.1h0M434.6 117.9h0M409.8 52.7h0M369.9 128.9h0M361.1 99.2h0M419.9 116.9h0M363.7 60.3h0M410.5 140.3h0M416.6 65.4h0M441.7 133.2h0M411.1 53.2h0M405.6 100.0h0M384.2 47.9h0M387.9 73.6h0M398.7 46.0h0M466.7 84.0h0M359.7 96.3h0M372.6 111.2h0M446.7 45.9h0M389.3 88.0h0M462.7 139.8h0M452.2 78.5h0M385.3 64.1h0M384.7 50.7h0M360.7 139.7h0M438.3 101.8h0M368.2 94.5h0M385.6 90.3h0M437.5 55.0h0M440.5 142.2h0M454.3 63.0h0M452.1 146.8h0M434.2 130.8h0M419.8 81.3h0M446.2 90.3h0M410.6 66.1h0M453.4 84.7h0M395.8 86.5h0M419.3 44.2h0M445.8 97.7h0M463.1 121.0h0M361.2 63.1h0M453.0 118.6h0M366.0 51.7h0M408.3 39.8h0M361.2 94.8h0M457.3 107.6h0M388.3 47.0h0M361.0 129.7h0M360.8 71.7h0M385.2 50.1h0M454.9 45.9h0M380.9 153.3h0M439.8 146.6h0M451.4 56.8h0M392.7 142.0h0M435.6 137.7h0M395.7 39.1h0M416.1 93.5h0M461.2 120.8h0M467.2 48.7h0M393.4 115.8h0M372.7 152.4h0M454.5 84.7h0M429.2 69.2h0M409.2 147.6h0M409.7 68.9h0M413.1 147.7h0M460.2 133.7h0M398.7 90.6h0M434.6 45.8h0M436.7 113.5h0M359.9 72.2h0M431.0 108.4h0M434.2 99.8h0M399.1 111.4h0M402.3 119.7h0M391.1 82.3h0M426.7 43.2h0M367.2 42.6h0M428.5 62.0h0M424.9 53.5h0M389.0 72.1h0M430.3 130.3h0M358.2 62.6h0M445.1 77.0h0M360.8 77.3h0M418.1 82.5h0M403.0 127.6h0M435.4 100.1h0M437.7 111.6h0M361.3 91.1h0M454.3 146.8h0M440.8 123.4h0M412.7 73.7h0M425.2 75.5h0M395.7 75.6h0M391.2 83.7h0M404.5 88.8h0M376.7 109.1h0M359.7 78.0h0M454.9 112.7h0M365.9 51.0h0M365.3 111.9h0M401.4 120.3h0M446.6 67.7h0M446.3 39.5h0M422.2 53.3h0M465.5 68.4h0M426.0 128.0h0M458.7 118.7h0M432.1 102.5h0M427.8 76.1h0M405.1 131.7h0M397.9 67.9h0M373.1 143.1h0M404.9 126.5h0M460.9 57.0h0M426.3 131.9h0M446.7 69.8h0M437.9 73.3h0M447.5 119.2h0M429.2 94.0h0M369.2 97.0h0M393.9 105.0h0M450.1 75.2h0M361.9 108.3h0M461.5 143.5h0M439.1 54.0h0M410.2 61.8h0M466.0 114.9h0M367.2 42.5h0M450.3 79.1h0M400.8 130.8h0M391.7 106.7h0M368.1 89.9h0M373.1 141.7h0M426.9 100.5h0M380.9 63.8h0M407.9 91.9h0M404.2 75.8h0M466.1 61.8h0M359.1 96.6h0M378.3 141.6h0M373.8 124.9h0M462.6 67.9h0M450.2 73.2h0M387.8 108.5h0M402.3 119.7h0M400.1 64.9h0M406.8 75.8h0M426.2 70.2h0M363.3 132.6h0M438.9 39.4h0M430.5 149.6h0M385.7 61.2h0M458.5 85.1h0M390.7 131.5h0M450.0 81.7h0M466.2 145.4h0M393.6 62.1h0M397.7 80.2h0M405.3 71.0h0M378.6 146.2h0M373.3 130.4h0M399.3 116.5h0M353.6 141.5h0M445.0 92.1h0M414.1 128.0h0M450.8 58.8h0M407.0 114.9h0M367.5 134.5h0M462.2 45.3h0M429.8 122.4h0M394.4 153.1h0M360.3 117.2h0M388.7 70.3h0M439.5 94.5h0M395.2 115.4h0M408.9 130.7h0M404.4 71.5h0M438.5 55.9h0M434.9 135.4h0M381.1 139.6h0M397.2 151.1h0M427.4 67.5h0M425.6 57.2h0M355.3 131.2h0M382.2 100.4h0M371.1 91.5h0M391.1 78.2h0M412.8 74.6h0M379.7 72.2h0M436.5 70.5h0M359.1 44.8h0M381.9 111.7h0M441.8 103.2h0M355.6 101.5h0M374.5 152.0h0M357.3 50.0h0M459.8 132.0h0M399.7 110.5h0M370.5 77.4h0M432.8 109.0h0M353.8 122.6h0M377.5 148.0h0M368.9 57.0h0M373.9 72.5h0M361.9 86.1h0M441.9 100.2h0M408.9 97.5h0M381.9 124.9h0M442.1 140.3h0M375.0 93.0h0M387.4 125.8h0M450.2 104.0h0M403.6 105.7h0M428.0 85.7h0M383.5 45.8h0M398.7 85.0h0M361.7 51.1h0M363.1 108.2h0M454.0 44.9h0M456.1 58.4h0M403.6 146.1h0M462.7 152.5h0M431.0 110.9h0M448.9 61.9h0M389.0 56.1h0M459.1 82.2h0M460.7 113.5h0M428.3 126.8h0M417.0 118.0h0M457.9 114.1h0M390.9 39.8h0M376.5 100.8h0M362.2 46.8h0M448.1 137.0h0M395.7 125.8h0M385.0 133.2h0M392.9 73.8h0M408.1 121.2h0M391.7 42.6h0M460.9 119.2h0M436.3 60.8h0M448.4 41.5h0M402.1 70.8h0M441.6 151.4h0M460.6 125.0h0M455.0 68.9h0M389.8 100.3h0M448.1 112.4h0M444.7 63.6h0M405.6 50.5h0M395.8 67.3h0M425.4 115.4h0M412.9 83.8h0M466.3 42.4h0M412.9 139.0h0M456.9 122.4h0M392.4 106.3h0M389.9 152.7h0M400.7 88.2h0M438.6 99.5h0M415.8 50.4h0M382.2 93.8h0M431.0 143.4h0M462.9 96.1h0M379.6 66.1h0M412.4 68.1h0M456.3 58.4h0M436.8 47.3h0M358.8 65.0h0M405.0 67.1h0M385.5 99.7h0M446.9 149.4h0M450.0 122.4h0M386.3 89.8h0M427.1 52.4h0M455.4 98.4h0M457.6 138.7h0M370.4 65.7h0M386.6 86.2h0M408.9 136.7h0M444.1 48.7h0M452.2 95.8h0M371.6 96.5h0M377.9 134.8h0M395.3 146.1h0M405.8 73.5h0M426.8 41.4h0M454.0 80.6h0M455.4 102.4h0M443.9 120.7h0M420.7 95.2h0M442.6 117.5h0M378.8 133.1h0M381.0 44.9h0M353.9 119.1h0M365.3 145.9h0M460.6 69.7h0M416.6 93.6h0M431.7 81.5h0M390.2 142.8h0M374.4 63.5h0M424.8 61.9h0M356.3 50.0h0M395.5 47.1h0M420.2 90.6h0M446.2 81.6h0M421.3 112.5h0M359.9 138.1h0M406.9 123.3h0M387.5 94.9h0M375.5 129.4h0M355.6 57.3h0M392.9 126.5h0M372.4 116.3h0M442.4 76.8h0M353.3 145.4h0M436.5 76.1h0M375.5 104.4h0M364.5 79.3h0M361.2 132.8h0M440.1 96.0h0M428.0 69.1h0M432.3 140.1h0M382.5 102.0h0M394.2 108.6h0M355.8 49.1h0M466.2 113.6h0M435.4 58.7h0M426.8 120.2h0M363.5 98.3h0M353.7 56.4h0M441.6 148.1h0M409.7 41.4h0M450.0 68.1h0M418.0 92.5h0M354.0 143.2h0M371.9 55.0h0M405.2 54.3h0M410.3 80.9h0M391.3 123.7h0M434.6 68.9h0M436.3 139.1h0M367.7 125.5h0M368.4 43.1h0M391.3 39.2h0M438.6 97.7h0M393.2 142.3h0M361.3 81.1h0M451.1 72.6h0M432.7 56.9h0M413.5 95.2h0M393.7 54.1h0M440.8 121.8h0M379.3 142.1h0M388.8 64.5h0M353.6 98.0h0M385.3 49.3h0M370.8 65.7h0M403.5 133.8h0M465.7 94.7h0M377.3 91.0h0M432.0 98.0h0M392.1 125.0h0M385.6 147.7h0M380.7 44.0h0M352.0 69.9h0M442.8 106.9h0M420.3 128.0h0M428.7 72.1h0M436.5 96.9h0M417.6 75.1h0M383.0 45.1h0M426.1 50.7h0M384.6 40.6h0M363.9 131.6h0M395.6 131.4h0M390.2 55.1h0M428.4 67.9h0M438.0 71.4h0M359.5 143.8h0M440.9 83.2h0M381.6 152.3h0M413.1 143.0h0M444.9 142.4h0M408.5 141.9h0M430.3 114.8h0M450.5 109.8h0M465.5 146.2h0M400.4 80.4h0M356.4 127.7h0M363.2 68.5h0M459.8 95.1h0M446.5 123.2h0M360.2 99.8h0M370.9 151.1h0M458.0 81.5h0M439.6 92.2h0M371.4 40.6h0M447.2 92.4h0M386.0 78.6h0M448.2 82.7h0M458.8 50.4h0M356.1 122.7h0M396.3 124.4h0M371.7 53.1h0M354.0 132.5h0M439.4 127.8h0M381.1 42.3h0M366.9 122.5h0M465.1 62.6h0M359.2 72.3h0M394.8 70.8h0M385.4 138.5h0M353.4 119.5h0M451.1 51.1h0M430.5 67.5h0M373.7 112.7h0M455.6 40.2h0M402.6 64.3h0M459.6 38.9h0M368.9 126.2h0M420.2 43.5h0M452.3 47.9h0M395.4 102.0h0M416.9 128.0h0M382.2 122.8h0M381.3 94.2h0M415.0 50.9h0M442.3 139.5h0M429.9 135.0h0M405.9 73.0h0M458.0 52.2h0M445.0 109.8h0M412.5 133.5h0M439.3 51.1h0M369.8 67.9h0M457.6 98.4h0M382.4 149.9h0M421.6 107.8h0M435.0 124.6h0M358.5 52.4h0M459.8 79.5h0M421.5 105.3h0M392.4 97.2h0M376.9 104.3h0M410.1 149.8h0M424.8 60.2h0M461.0 132.6h0M352.3 43.0h0M381.6 71.9h0M439.0 151.0h0M460.7 81.3h0M457.2 146.6h0M454.7 52.7h0M433.0 125.4h0M413.8 123.5h0M351.3 130.9h0M359.7 125.1h0M411.4 86.1h0M453.0 55.3h0M463.7 51.9h0M462.2 127.1h0M446.0 130.4h0M400.0 128.2h0M451.1 82.3h0M424.4 117.3h0M439.9 69.1h0M467.0 89.2h0M399.3 59.6h0M415.2 50.2h0M408.3 141.2h0M382.7 77.9h0M395.2 104.9h0M397.8 131.4h0M429.2 116.2h0M404.2 46.0h0M423.9 60.3h0M439.7 43.9h0M358.9 109.3h0M461.4 100.1h0M461.2 132.2h0M358.1 50.6h0M398.9 95.1h0M459.9 128.2h0M463.6 107.9h0M411.3 99.8h0M454.1 147.6h0M356.2 135.9h0M421.5 63.7h0M406.9 82.9h0M425.8 151.2h0M408.3 127.9h0M351.4 128.4h0M403.1 90.5h0M406.2 149.6h0M406.5 72.2h0M389.7 110.9h0M411.1 49.0h0M353.0 42.5h0M404.5 137.9h0M453.9 40.3h0M418.9 52.6h0M390.8 86.2h0M365.5 93.8h0M359.3 140.6h0M365.3 118.8h0M387.1 72.5h0M359.9 140.6h0M433.7 70.7h0M437.2 144.0h0M381.3 103.9h0M448.0 77.6h0M402.8 122.0h0M444.6 78.0h0M428.3 50.1h0M449.0 143.0h0M357.8 62.8h0M390.3 121.6h0M375.9 103.9h0M369.9 58.3h0M464.3 142.2h0M357.5 153.0h0M459.4 144.9h0M430.1 118.5h0M431.2 151.3h0M451.6 88.2h0M388.1 115.1h0M413.7 57.0h0M425.6 88.9h0M408.0 75.3h0M452.6 108.0h0M449.1 45.7h0M439.1 77.0h0M384.9 54.3h0M407.2 146.9h0M441.6 153.0h0M462.1 144.0h0M410.9 107.9h0M398.4 122.6h0M402.9 71.6h0M395.8 77.6h0M364.0 92.4h0M362.1 127.6h0M467.2 123.5h0M402.4 109.8h0M416.4 82.1h0M421.6 147.1h0M374.8 107.5h0M359.3 104.7h0M377.8 54.5h0M444.3 89.2h0M356.9 128.4h0M386.9 52.5h0M357.1 113.5h0M373.7 73.6h0M451.4 73.5h0M376.3 48.3h0M448.3 90.7h0M357.1 104.0h0M430.2 106.9h0M393.5 65.3h0M362.2 59.6h0M429.1 103.4h0M433.6 107.7h0M357.1 143.4h0M374.8 95.9h0M464.9 58.4h0M455.9 75.9h0M419.6 86.6h0M370.2 59.9h0M355.9 46.5h0M426.8 89.6h0M351.9 151.6h0M397.8 91.8h0M429.8 142.0h0M436.9 92.2h0M430.9 68.7h0M393.4 50.6h0M412.0 145.7h0M445.8 148.1h0M365.2 92.6h0M372.4 76.7h0M427.0 116.6h0M376.0 48.3h0M389.1 86.3h0M417.4 70.3h0M433.0 97.2h0" stroke="#485fd1" stroke-width="3.30" stroke-linecap="round"/>
<path d="M351.7 59.1h0M380.7 102.3h0M423.4 39.9h0M352.5 131.3h0M393.1 84.7h0M421.4 80.2h0M397.9 142.3h0M463.6 128.7h0M429.2 118.9h0M417.3 110.2h0M355.5 52.8h0M405.5 90.5h0M388.5 67.1h0M463.5 77.9h0M419.7 74.9h0M445.3 137.7h0M435.4 127.4h0M411.7 50.5h0M411.5 44.2h0M421.3 98.4h0M420.2 77.7h0M358.3 106.2h0M457.5 148.0h0M372.9 88.3h0M370.4 75.6h0M444.3 43.2h0M390.5 116.9h0M426.7 128.8h0M416.6 44.9h0M447.6 110.1h0M418.4 119.0h0M366.3 138.1h0M401.6 51.9h0M394.7 71.8h0M439.1 131.5h0M460.2 56.6h0M441.4 108.1h0M417.9 102.2h0M434.7 101.2h0M357.7 39.1h0M377.5 139.1h0M354.9 95.6h0M382.0 92.9h0M397.1 62.6h0M453.5 66.0h0M439.0 134.4h0M457.9 84.9h0M383.9 61.4h0M434.8 93.3h0M436.0 143.7h0M459.4 148.9h0M373.8 52.5h0M446.3 75.6h0M451.1 86.9h0M415.9 77.1h0M400.0 132.3h0M401.2 38.7h0M399.9 58.3h0M446.1 102.3h0M412.1 81.0h0M423.2 65.3h0M372.5 134.5h0M422.2 76.9h0M455.5 75.3h0M444.0 74.6h0M375.8 122.7h0M360.9 121.9h0M440.0 83.6h0M395.1 70.2h0M432.3 108.9h0M386.6 144.6h0M376.6 122.3h0M365.6 51.8h0M358.8 85.1h0M461.9 86.9h0M370.4 82.3h0M397.9 122.4h0M373.5 99.5h0M402.0 137.2h0M452.3 134.8h0M410.1 134.4h0M383.7 149.5h0M459.8 136.7h0M431.9 138.6h0M456.3 141.6h0M404.4 88.7h0M466.4 122.9h0M461.0 110.6h0M438.7 88.6h0M388.7 80.4h0M372.8 141.2h0M432.1 66.6h0M418.3 124.3h0M389.2 152.9h0M359.9 130.2h0M361.9 116.9h0M369.2 49.8h0M422.9 141.9h0M381.3 86.4h0M358.9 138.6h0M409.8 152.5h0M402.5 130.5h0M387.9 121.2h0M460.2 95.5h0M357.4 94.7h0M418.0 129.3h0M405.8 41.5h0M357.7 124.4h0M353.2 91.4h0M395.4 95.6h0M462.7 96.8h0M389.9 84.2h0M458.7 147.2h0M444.9 91.2h0M395.1 113.2h0M359.2 123.7h0M423.5 142.2h0M384.9 138.9h0M366.7 131.7h0M462.5 151.7h0M444.6 88.9h0M424.3 104.2h0M436.1 123.9h0M400.3 105.8h0M425.4 70.9h0M461.3 150.0h0M356.8 90.4h0M386.5 84.3h0M351.8 110.7h0M465.4 100.6h0M452.6 86.6h0M382.0 116.1h0M459.3 151.9h0M373.6 111.8h0M427.2 120.1h0M361.2 100.3h0M390.4 106.6h0M422.4 51.6h0M433.2 99.3h0M365.9 58.1h0M421.9 95.0h0M406.9 139.1h0M409.0 125.1h0M398.5 79.9h0M369.8 98.6h0M432.7 48.1h0M463.5 71.2h0M365.8 48.3h0M356.1 142.9h0M427.5 82.6h0M356.5 126.2h0M464.1 151.4h0M441.1 133.2h0M404.5 93.4h0M379.2 136.4h0M455.9 112.2h0M415.6 102.5h0M381.8 95.0h0M423.5 47.6h0M432.1 109.8h0M388.5 97.3h0M353.1 96.1h0M363.3 82.2h0M408.6 139.9h0M388.1 121.8h0M434.0 40.2h0M393.3 62.6h0M394.1 81.8h0M390.4 115.9h0M430.1 40.4h0M376.4 95.1h0M402.3 112.8h0M377.7 45.5h0M363.4 141.5h0M458.4 91.8h0M352.5 71.3h0M387.0 121.1h0M424.7 54.2h0M351.4 137.6h0M427.9 145.7h0M431.0 101.5h0M373.0 42.5h0M393.2 59.6h0M402.1 122.7h0M388.5 150.6h0M454.2 119.1h0M427.4 54.9h0M407.9 56.7h0M440.2 57.9h0M395.7 100.2h0M463.5 69.6h0M447.9 121.7h0M455.3 55.3h0M377.0 52.9h0M369.8 128.6h0M403.2 120.4h0M395.8 115.2h0M443.5 94.5h0M441.2 138.6h0M418.1 122.1h0M401.5 94.0h0M464.6 119.7h0M413.6 112.3h0M442.0 66.2h0M429.6 151.4h0M403.3 56.9h0M384.8 39.4h0M399.5 78.8h0M369.9 52.2h0M374.5 69.4h0M448.6 124.1h0M409.1 98.4h0M394.5 95.8h0M378.9 44.1h0M359.1 129.9h0M378.2 149.7h0M388.9 130.1h0M352.7 96.1h0M373.9 148.4h0M419.9 89.6h0M456.2 51.5h0M390.8 87.0h0M445.1 140.3h0M433.7 41.2h0M383.4 93.5h0M376.0 143.8h0M413.5 140.7h0M434.0 58.4h0M413.6 147.7h0M446.7 73.7h0M363.7 65.5h0M384.2 112.0h0M420.4 104.9h0M457.6 143.2h0M421.1 108.8h0M417.5 89.7h0M446.7 125.3h0M393.8 102.3h0M412.3 40.9h0M376.7 55.5h0M378.0 96.9h0M440.0 139.3h0M397.8 62.7h0M466.2 89.2h0M450.1 153.0h0M421.6 130.7h0M364.4 141.2h0M426.9 68.2h0M418.5 46.2h0M437.8 74.0h0M365.8 93.1h0M448.1 87.0h0M428.0 128.6h0M434.4 67.3h0M423.9 97.7h0M432.0 116.9h0M418.0 123.6h0M406.7 46.9h0M390.5 56.9h0M395.9 39.9h0M455.2 77.7h0M447.7 90.9h0M466.0 61.5h0M417.9 65.8h0M441.0 49.2h0M457.9 135.6h0M455.8 135.0h0M372.5 130.8h0M417.7 121.3h0M421.1 147.7h0M453.0 108.5h0M358.5 50.0h0M463.9 53.9h0M439.9 145.8h0M430.9 72.7h0M466.3 150.7h0M441.8 89.1h0M378.4 42.9h0M460.6 119.3h0M436.5 119.9h0M426.7 72.5h0M399.2 137.7h0M461.6 47.0h0M368.7 82.6h0M434.2 114.1h0M432.1 63.9h0M439.7 101.9h0M385.5 78.3h0M396.4 100.0h0M353.3 65.4h0M432.0 56.9h0M420.4 45.9h0M405.9 130.3h0M398.8 123.3h0M450.0 108.5h0M384.4 125.8h0M362.8 63.8h0M425.7 137.6h0M398.6 88.7h0M447.9 90.3h0M376.3 57.8h0M450.1 106.9h0M431.8 149.2h0M442.0 114.6h0M410.8 131.0h0M444.8 76.9h0M458.2 72.3h0M396.8 120.7h0M422.4 124.0h0M456.2 125.5h0M402.7 76.4h0M376.2 71.3h0M466.2 80.9h0M424.2 104.1h0M428.7 73.7h0M448.0 129.0h0M403.4 137.1h0M423.4 123.0h0M384.5 94.5h0M362.0 147.8h0M379.7 38.9h0M389.5 44.7h0M388.5 103.0h0M382.1 43.0h0M354.3 69.1h0M389.3 143.5h0M428.1 90.0h0M375.7 68.3h0M373.5 92.5h0M402.2 53.6h0M406.2 83.9h0M434.2 45.9h0M457.1 106.2h0M378.5 129.5h0M427.2 81.2h0M405.0 48.9h0M408.2 70.1h0M418.3 141.7h0M362.6 150.8h0M423.4 106.4h0M457.9 42.4h0M368.6 86.0h0M382.6 126.0h0M363.1 89.8h0M390.6 52.1h0M444.6 107.8h0M423.5 41.8h0M418.7 75.7h0M458.9 44.7h0M464.9 54.7h0M363.3 101.5h0M388.1 109.7h0M380.0 81.9h0M408.6 122.5h0M416.1 80.6h0M355.7 122.0h0M359.8 101.0h0M402.1 58.7h0M421.0 100.0h0M393.0 126.0h0M358.7 111.0h0M399.0 58.7h0M356.2 40.5h0M466.3 139.8h0M466.9 98.7h0M374.4 110.5h0M434.2 96.3h0M451.6 50.9h0M352.1 98.6h0M355.7 124.2h0M394.0 140.6h0M386.8 152.2h0M413.0 81.2h0M402.4 43.3h0" stroke="#3b4cc0" stroke-width="3.30" stroke-linecap="round"/>
<path d="M385.5 80.4h0M424.7 141.9h0M450.0 41.2h0M351.8 127.0h0M445.4 76.6h0M431.2 114.9h0M438.6 110.4h0M445.4 146.8h0" stroke="#6384eb" stroke-width="3.30" stroke-linecap="round"/>
<path d="M415.1 144.9h0" stroke="#7295f4" stroke-width="3.30" stroke-linecap="round"/>
<line x1="351.10" y1="38.60" x2="351.10" y2="153.40" stroke="#555555" stroke-width="0.8"/>
<line x1="351.10" y1="153.40" x2="467.30" y2="153.40" stroke="#555555" stroke-width="0.8"/>
<line x1="348.90" y1="153.40" x2="351.10" y2="153.40" stroke="#555555" stroke-width="0.8"/>
<text x="345.50" y="156.00" font-size="7.6" text-anchor="end" fill="#231f20">−10</text>
<line x1="351.10" y1="153.40" x2="351.10" y2="155.60" stroke="#555555" stroke-width="0.8"/>
<text x="351.10" y="165.00" font-size="7.6" text-anchor="middle" fill="#231f20">−10</text>
<line x1="348.90" y1="96.00" x2="351.10" y2="96.00" stroke="#555555" stroke-width="0.8"/>
<text x="345.50" y="98.60" font-size="7.6" text-anchor="end" fill="#231f20">0</text>
<line x1="409.20" y1="153.40" x2="409.20" y2="155.60" stroke="#555555" stroke-width="0.8"/>
<text x="409.20" y="165.00" font-size="7.6" text-anchor="middle" fill="#231f20">0</text>
<line x1="348.90" y1="38.60" x2="351.10" y2="38.60" stroke="#555555" stroke-width="0.8"/>
<text x="345.50" y="41.20" font-size="7.6" text-anchor="end" fill="#231f20">10</text>
<line x1="467.30" y1="153.40" x2="467.30" y2="155.60" stroke="#555555" stroke-width="0.8"/>
<text x="467.30" y="165.00" font-size="7.6" text-anchor="middle" fill="#231f20">10</text>
<text x="409.20" y="177.50" font-size="8.2" text-anchor="middle" fill="#231f20">Feature 1</text>
<defs><linearGradient id="gcw" x1="0" y1="1" x2="0" y2="0"><stop offset="0.00" stop-color="#3b4cc0"/><stop offset="0.10" stop-color="#5977e3"/><stop offset="0.20" stop-color="#7b9ff9"/><stop offset="0.30" stop-color="#9ebeff"/><stop offset="0.40" stop-color="#c0d4f5"/><stop offset="0.50" stop-color="#dddcdc"/><stop offset="0.60" stop-color="#f2cbb7"/><stop offset="0.70" stop-color="#f7ac8e"/><stop offset="0.80" stop-color="#ee8468"/><stop offset="0.90" stop-color="#d65244"/><stop offset="1.00" stop-color="#b40426"/></linearGradient></defs>
<rect x="473.90" y="81.60" width="4.50" height="70.80" fill="url(#gcw)" stroke="#666" stroke-width="0.5"/>
<line x1="478.40" y1="81.60" x2="480.60" y2="81.60" stroke="#555555" stroke-width="0.6"/>
<line x1="478.40" y1="152.40" x2="480.60" y2="152.40" stroke="#555555" stroke-width="0.6"/>
<text x="484.00" y="84.30" font-size="7.6" text-anchor="start" fill="#231f20">1.0</text>
<text x="484.00" y="155.20" font-size="7.6" text-anchor="start" fill="#231f20">0.5</text>
<text x="501.20" y="116.50" font-size="9" text-anchor="middle" fill="#231f20" transform="rotate(90 501.20 116.50)">Confidence</text>
<text x="516.50" y="9.80" font-size="13" text-anchor="start" fill="#000" font-weight="bold" stroke="#000" stroke-width="0.45">c</text>
<text x="565.70" y="12.40" font-size="9" text-anchor="middle" fill="#231f20">Confidence</text>
<text x="565.70" y="22.80" font-size="9" text-anchor="middle" fill="#231f20">bias</text>
<line x1="548.40" y1="38.70" x2="548.40" y2="154.00" stroke="#555555" stroke-width="0.8"/>
<line x1="548.40" y1="154.00" x2="587.40" y2="154.00" stroke="#aaaaaa" stroke-width="0.9"/>
<line x1="546.00" y1="154.00" x2="548.40" y2="154.00" stroke="#555555" stroke-width="0.8"/>
<text x="542.00" y="156.60" font-size="7.6" text-anchor="end" fill="#231f20">0.4</text>
<line x1="546.00" y1="121.10" x2="548.40" y2="121.10" stroke="#555555" stroke-width="0.8"/>
<text x="542.00" y="123.70" font-size="7.6" text-anchor="end" fill="#231f20">0.6</text>
<line x1="546.00" y1="88.20" x2="548.40" y2="88.20" stroke="#555555" stroke-width="0.8"/>
<text x="542.00" y="90.80" font-size="7.6" text-anchor="end" fill="#231f20">0.8</text>
<line x1="546.00" y1="55.30" x2="548.40" y2="55.30" stroke="#555555" stroke-width="0.8"/>
<text x="542.00" y="57.90" font-size="7.6" text-anchor="end" fill="#231f20">1.0</text>
<line x1="558.20" y1="154.00" x2="558.20" y2="156.20" stroke="#555555" stroke-width="0.8"/>
<line x1="577.60" y1="154.00" x2="577.60" y2="156.20" stroke="#555555" stroke-width="0.8"/>
<line x1="558.20" y1="100.87" x2="558.20" y2="137.55" stroke="#8a8a8a" stroke-width="0.9"/>
<rect x="553.40" y="55.30" width="9.60" height="45.57" fill="#7f7f7f"/>
<line x1="553.40" y1="55.70" x2="563.00" y2="55.70" stroke="#555" stroke-width="0.9"/>
<line x1="553.40" y1="61.22" x2="563.00" y2="61.22" stroke="#fff" stroke-width="0.9"/>
<line x1="577.60" y1="128.34" x2="577.60" y2="133.11" stroke="#555" stroke-width="0.8"/>
<line x1="575.20" y1="128.34" x2="580.00" y2="128.34" stroke="#555" stroke-width="0.9"/>
<rect x="572.80" y="133.11" width="9.50" height="3.68" fill="#1e90ff"/>
<line x1="572.80" y1="135.20" x2="582.30" y2="135.20" stroke="#fff" stroke-width="0.7"/>
<line x1="548.40" y1="137.55" x2="587.40" y2="137.55" stroke="#333" stroke-width="0.7" stroke-dasharray="3,1.4"/>
<text x="568.80" y="147.80" font-size="9" text-anchor="middle" fill="#231f20">Chance</text>
<path d="M558.1 50.4V48.0H577.6V50.4" fill="none" stroke="#777" stroke-width="0.7"/>
<text x="568.00" y="47.60" font-size="11.5" text-anchor="middle" fill="#333" font-weight="bold">*</text>
<text x="524.00" y="96.80" font-size="9" text-anchor="middle" fill="#231f20" transform="rotate(-90 524.00 96.80)">Confidence</text>
<text x="562.00" y="163.60" font-size="9" text-anchor="end" fill="#8e8e8e" transform="rotate(-45 562.00 163.60)">Untrained</text>
<text x="581.20" y="163.00" font-size="9" text-anchor="end" fill="#2f9bf0" transform="rotate(-45 581.20 163.00)">Random</text>
<text x="608.80" y="9.80" font-size="13" text-anchor="start" fill="#000" font-weight="bold" stroke="#000" stroke-width="0.45">d</text>
<text x="657.30" y="12.40" font-size="9" text-anchor="middle" fill="#231f20">Class</text>
<text x="657.30" y="22.80" font-size="9" text-anchor="middle" fill="#231f20">bias</text>
<line x1="639.20" y1="38.00" x2="639.20" y2="153.60" stroke="#555555" stroke-width="0.8"/>
<line x1="639.20" y1="153.60" x2="677.80" y2="153.60" stroke="#555555" stroke-width="0.8"/>
<line x1="636.80" y1="152.60" x2="639.20" y2="152.60" stroke="#555555" stroke-width="0.8"/>
<text x="633.40" y="155.20" font-size="7.6" text-anchor="end" fill="#231f20">0</text>
<line x1="636.80" y1="114.50" x2="639.20" y2="114.50" stroke="#555555" stroke-width="0.8"/>
<text x="633.40" y="117.10" font-size="7.6" text-anchor="end" fill="#231f20">0.2</text>
<line x1="636.80" y1="76.40" x2="639.20" y2="76.40" stroke="#555555" stroke-width="0.8"/>
<text x="633.40" y="79.00" font-size="7.6" text-anchor="end" fill="#231f20">0.4</text>
<line x1="636.80" y1="38.30" x2="639.20" y2="38.30" stroke="#555555" stroke-width="0.8"/>
<text x="633.40" y="40.90" font-size="7.6" text-anchor="end" fill="#231f20">0.6</text>
<line x1="649.10" y1="153.60" x2="649.10" y2="155.80" stroke="#555555" stroke-width="0.8"/>
<line x1="668.60" y1="153.60" x2="668.60" y2="155.80" stroke="#555555" stroke-width="0.8"/>
<rect x="644.20" y="66.30" width="9.90" height="69.15" fill="#aaaaaa"/>
<line x1="649.10" y1="57.35" x2="649.10" y2="66.30" stroke="#333" stroke-width="1.0"/>
<line x1="646.10" y1="57.35" x2="652.00" y2="57.35" stroke="#333" stroke-width="1.1"/>
<line x1="649.10" y1="135.45" x2="649.10" y2="149.55" stroke="#333" stroke-width="1.0"/>
<line x1="646.30" y1="149.55" x2="651.90" y2="149.55" stroke="#333" stroke-width="1.0"/>
<line x1="644.20" y1="114.50" x2="654.10" y2="114.50" stroke="#fff" stroke-width="0.9"/>
<rect x="663.60" y="129.93" width="10.00" height="17.53" fill="#3399ff"/>
<line x1="668.60" y1="113.74" x2="668.60" y2="129.93" stroke="#333" stroke-width="0.8"/>
<line x1="666.30" y1="113.74" x2="670.90" y2="113.74" stroke="#333" stroke-width="0.8"/>
<line x1="668.60" y1="147.46" x2="668.60" y2="152.60" stroke="#333" stroke-width="0.8"/>
<line x1="663.60" y1="140.22" x2="673.60" y2="140.22" stroke="#fff" stroke-width="0.9"/>
<circle cx="646.6" cy="57.3" r="0.9" fill="none" stroke="#bbb" stroke-width="0.5"/>
<circle cx="652.0" cy="61.2" r="0.9" fill="none" stroke="#bbb" stroke-width="0.5"/>
<circle cx="646.5" cy="65.0" r="0.9" fill="none" stroke="#bbb" stroke-width="0.5"/>
<circle cx="652.5" cy="68.8" r="0.9" fill="none" stroke="#bbb" stroke-width="0.5"/>
<circle cx="651.5" cy="89.7" r="0.9" fill="none" stroke="#bbb" stroke-width="0.5"/>
<circle cx="648.7" cy="103.1" r="0.9" fill="none" stroke="#bbb" stroke-width="0.5"/>
<circle cx="651.6" cy="105.0" r="0.9" fill="none" stroke="#bbb" stroke-width="0.5"/>
<circle cx="646.1" cy="110.7" r="0.9" fill="none" stroke="#bbb" stroke-width="0.5"/>
<circle cx="649.5" cy="112.6" r="0.9" fill="none" stroke="#bbb" stroke-width="0.5"/>
<circle cx="648.1" cy="116.4" r="0.9" fill="none" stroke="#bbb" stroke-width="0.5"/>
<circle cx="647.7" cy="118.3" r="0.9" fill="none" stroke="#bbb" stroke-width="0.5"/>
<circle cx="651.9" cy="124.0" r="0.9" fill="none" stroke="#bbb" stroke-width="0.5"/>
<circle cx="645.9" cy="127.8" r="0.9" fill="none" stroke="#bbb" stroke-width="0.5"/>
<circle cx="651.6" cy="133.5" r="0.9" fill="none" stroke="#bbb" stroke-width="0.5"/>
<circle cx="646.2" cy="135.5" r="0.9" fill="none" stroke="#bbb" stroke-width="0.5"/>
<circle cx="650.3" cy="137.4" r="0.9" fill="none" stroke="#bbb" stroke-width="0.5"/>
<circle cx="647.6" cy="143.1" r="0.9" fill="none" stroke="#bbb" stroke-width="0.5"/>
<circle cx="649.3" cy="145.0" r="0.9" fill="none" stroke="#bbb" stroke-width="0.5"/>
<circle cx="652.1" cy="148.8" r="0.9" fill="none" stroke="#bbb" stroke-width="0.5"/>
<circle cx="670.7" cy="114.5" r="0.9" fill="none" stroke="#555" stroke-width="0.5"/>
<circle cx="665.8" cy="120.2" r="0.9" fill="none" stroke="#555" stroke-width="0.5"/>
<circle cx="667.2" cy="124.0" r="0.9" fill="none" stroke="#555" stroke-width="0.5"/>
<circle cx="668.5" cy="125.9" r="0.9" fill="none" stroke="#555" stroke-width="0.5"/>
<circle cx="670.1" cy="127.8" r="0.9" fill="none" stroke="#555" stroke-width="0.5"/>
<circle cx="665.1" cy="129.7" r="0.9" fill="none" stroke="#555" stroke-width="0.5"/>
<circle cx="671.1" cy="131.6" r="0.9" fill="none" stroke="#555" stroke-width="0.5"/>
<circle cx="671.0" cy="133.5" r="0.9" fill="none" stroke="#555" stroke-width="0.5"/>
<circle cx="671.8" cy="135.5" r="0.9" fill="none" stroke="#555" stroke-width="0.5"/>
<circle cx="666.5" cy="135.5" r="0.9" fill="none" stroke="#555" stroke-width="0.5"/>
<circle cx="666.6" cy="137.4" r="0.9" fill="none" stroke="#555" stroke-width="0.5"/>
<circle cx="670.9" cy="139.3" r="0.9" fill="none" stroke="#555" stroke-width="0.5"/>
<circle cx="668.7" cy="139.3" r="0.9" fill="none" stroke="#555" stroke-width="0.5"/>
<circle cx="666.8" cy="141.2" r="0.9" fill="none" stroke="#555" stroke-width="0.5"/>
<circle cx="665.2" cy="143.1" r="0.9" fill="none" stroke="#555" stroke-width="0.5"/>
<circle cx="666.6" cy="143.1" r="0.9" fill="none" stroke="#555" stroke-width="0.5"/>
<circle cx="669.8" cy="145.0" r="0.9" fill="none" stroke="#555" stroke-width="0.5"/>
<circle cx="670.2" cy="146.9" r="0.9" fill="none" stroke="#555" stroke-width="0.5"/>
<circle cx="667.6" cy="148.8" r="0.9" fill="none" stroke="#555" stroke-width="0.5"/>
<circle cx="671.5" cy="150.7" r="0.9" fill="none" stroke="#555" stroke-width="0.5"/>
<circle cx="668.7" cy="150.7" r="0.9" fill="none" stroke="#555" stroke-width="0.5"/>
<circle cx="668.7" cy="152.6" r="0.9" fill="none" stroke="#555" stroke-width="0.5"/>
<circle cx="667.9" cy="152.6" r="0.9" fill="none" stroke="#555" stroke-width="0.5"/>
<path d="M649.1 50.4V48.4H668.6V50.4" fill="none" stroke="#777" stroke-width="0.7"/>
<text x="659.00" y="47.80" font-size="11.5" text-anchor="middle" fill="#333" font-weight="bold">*</text>
<text x="616.00" y="96.80" font-size="9" text-anchor="middle" fill="#231f20" transform="rotate(-90 616.00 96.80)">Standard deviation of class ratio</text>
<text x="652.90" y="163.40" font-size="9" text-anchor="end" fill="#8e8e8e" transform="rotate(-45 652.90 163.40)">Untrained</text>
<text x="672.40" y="162.80" font-size="9" text-anchor="end" fill="#2f9bf0" transform="rotate(-45 672.40 162.80)">Random</text>
<path d="M162.9 215.9h0M161.4 216.4h0M155.2 220.9h0M159.1 220.2h0M162.2 216.5h0M155.5 219.7h0M161.4 218.3h0M164.8 213.1h0M156.8 220.9h0M158.8 218.5h0M154.8 222.7h0M164.3 214.6h0M154.9 220.6h0M151.9 224.7h0M156.9 221.4h0M160.7 219.3h0M157.7 221.8h0M160.1 219.8h0M156.3 219.0h0M156.9 218.3h0M158.9 218.7h0M161.4 215.5h0M166.3 213.0h0M159.7 217.3h0M158.6 218.8h0M162.5 215.3h0M161.4 218.4h0M157.5 218.5h0M159.1 216.8h0M157.2 217.5h0M165.0 214.3h0M162.6 218.1h0M161.3 216.7h0M160.5 218.7h0M162.9 214.0h0M160.2 220.4h0M158.6 218.6h0M161.4 218.4h0M159.8 215.7h0M153.9 222.9h0M155.6 219.9h0" stroke="#3b4cc0" stroke-width="1.20" stroke-linecap="round"/>
<path d="M159.1 215.9h0M154.3 218.2h0M167.4 212.9h0M156.4 218.0h0M154.7 220.1h0M153.9 221.9h0M158.1 217.2h0M166.3 214.1h0M165.0 215.4h0M167.6 212.4h0M156.7 223.2h0M166.3 212.2h0M164.1 214.3h0M149.4 226.5h0M153.0 221.2h0M166.7 213.4h0M155.5 223.6h0M164.8 214.7h0M144.5 230.1h0M154.8 224.1h0M146.3 228.0h0M165.2 215.1h0" stroke="#4f69d9" stroke-width="1.20" stroke-linecap="round"/>
<path d="M165.9 212.2h0M152.9 222.7h0M152.4 222.0h0M147.3 227.0h0M151.8 223.0h0M162.6 219.7h0M146.0 228.9h0M155.0 217.7h0M145.6 228.7h0M158.4 216.3h0M168.0 211.9h0M163.2 217.3h0M166.7 214.4h0M168.5 211.1h0M146.8 227.7h0M165.7 212.8h0M153.5 219.7h0M153.0 222.0h0M165.1 216.4h0M153.7 221.8h0M152.0 222.9h0" stroke="#6485ec" stroke-width="1.20" stroke-linecap="round"/>
<path d="M144.9 228.6h0M134.2 237.4h0M140.1 232.9h0M168.8 212.7h0M152.1 222.7h0M168.9 211.6h0M166.1 211.5h0M155.5 217.5h0M146.8 229.8h0M158.2 222.4h0M155.7 216.6h0M148.2 225.9h0M153.5 219.9h0M153.5 220.0h0M157.8 215.3h0M152.9 220.4h0M135.0 237.2h0M165.4 218.4h0M151.4 227.0h0M159.1 214.3h0M134.3 236.5h0M149.5 227.1h0M155.9 223.6h0M159.2 214.1h0M135.3 236.3h0M168.7 209.7h0M151.9 226.9h0M150.9 224.6h0M147.4 228.8h0M146.1 230.3h0M161.0 213.7h0" stroke="#7b9ff9" stroke-width="1.20" stroke-linecap="round"/>
<path d="M141.2 232.4h0M147.8 229.0h0M136.7 234.3h0M141.1 231.2h0M148.3 225.8h0M160.4 214.4h0M155.6 216.5h0M142.3 231.7h0M142.2 232.1h0M167.4 215.1h0M166.4 215.5h0M158.0 215.2h0M149.9 227.9h0M143.1 231.6h0M152.7 219.4h0M137.7 234.6h0M139.1 232.9h0M163.2 220.4h0M141.1 233.1h0M163.7 219.8h0M166.4 211.2h0M147.1 225.9h0M166.8 215.3h0M135.7 235.4h0M161.5 221.1h0" stroke="#93b5fe" stroke-width="1.20" stroke-linecap="round"/>
<path d="M153.3 218.2h0M138.8 232.8h0M135.5 237.5h0M164.1 218.9h0M162.8 211.4h0M142.8 232.0h0M146.3 230.3h0M134.8 236.2h0M138.2 235.4h0M161.0 212.6h0M151.0 228.6h0M157.2 214.4h0M142.3 232.3h0M134.6 235.5h0M136.4 236.1h0M147.5 225.3h0M141.7 232.9h0M165.4 218.5h0M152.5 227.3h0M154.7 216.4h0M148.1 224.3h0M136.9 235.2h0M150.6 222.6h0M149.1 223.8h0M147.2 230.3h0M150.5 228.0h0M154.4 225.4h0M140.4 232.3h0M144.3 232.0h0M162.9 221.4h0M150.1 228.9h0M163.6 210.4h0M135.1 238.0h0M156.4 225.0h0M152.3 219.3h0" stroke="#aac7fd" stroke-width="1.20" stroke-linecap="round"/>
<path d="M145.4 232.7h0M166.3 217.0h0M166.1 210.1h0M139.6 235.3h0M167.3 209.7h0M146.1 226.8h0M143.6 228.1h0M153.8 216.8h0M139.4 235.0h0M156.5 214.7h0M158.6 224.7h0M156.4 214.7h0M147.8 232.4h0M152.1 229.1h0M150.1 221.3h0M166.1 217.7h0M159.2 212.1h0M152.3 227.8h0M156.8 225.1h0M152.1 219.7h0M168.2 216.6h0M163.9 211.0h0M157.8 224.8h0M153.6 216.0h0M148.9 229.8h0M156.8 213.5h0M161.4 222.8h0M147.7 232.3h0M148.8 229.9h0M153.3 227.2h0M149.3 230.1h0M160.4 212.0h0M151.6 227.9h0M144.4 227.6h0M135.6 233.9h0M168.1 215.7h0M148.4 231.4h0" stroke="#c0d4f5" stroke-width="1.20" stroke-linecap="round"/>
<path d="M142.0 236.0h0M162.6 210.5h0M158.9 211.9h0M144.9 233.4h0M147.2 231.6h0M148.5 223.9h0M151.1 219.8h0M144.6 225.5h0M156.4 213.4h0M141.3 234.3h0M161.1 223.9h0M158.4 212.5h0M142.3 234.0h0M135.4 241.5h0M164.0 210.3h0M134.9 233.8h0M135.3 238.8h0M145.5 225.5h0M151.0 218.4h0M141.0 234.9h0M149.5 219.1h0M150.3 229.1h0M163.9 222.3h0M164.1 221.2h0M150.2 220.2h0M164.8 220.6h0M162.6 222.0h0M153.6 214.6h0M144.0 233.6h0M168.2 216.7h0M160.0 223.9h0M162.8 223.2h0M142.6 227.5h0" stroke="#d4dbe6" stroke-width="1.20" stroke-linecap="round"/>
<path d="M148.7 232.6h0M150.3 219.2h0M143.6 225.4h0M156.8 225.6h0M147.4 223.3h0M141.2 236.2h0M155.3 213.6h0M141.1 228.7h0M140.3 236.4h0M146.2 224.1h0M161.1 224.1h0M154.4 226.9h0M150.2 218.6h0M141.2 228.8h0M137.1 238.3h0M149.9 219.9h0M148.2 221.7h0M143.3 233.6h0M158.9 225.1h0M153.0 216.1h0M151.6 229.5h0M160.4 210.9h0M144.0 225.1h0M143.3 226.2h0M156.3 226.7h0M152.3 215.1h0M148.2 233.6h0M151.2 230.3h0M149.1 220.1h0M137.6 239.0h0M153.4 227.3h0M161.9 224.1h0M143.4 226.7h0M153.6 227.8h0M149.7 218.9h0M154.3 213.2h0M142.4 228.2h0M139.8 230.0h0M160.2 224.7h0M138.8 229.7h0M160.5 210.4h0M136.3 240.5h0M158.2 227.0h0M155.6 211.9h0" stroke="#e5d8d1" stroke-width="1.20" stroke-linecap="round"/>
<path d="M137.6 240.4h0M158.1 212.0h0M154.1 213.0h0M153.7 228.5h0M159.3 210.2h0M147.4 219.0h0M149.9 214.5h0M150.5 233.4h0M142.6 227.6h0M137.2 242.5h0M135.4 241.2h0M139.5 243.4h0M156.3 212.8h0M163.4 223.5h0M148.3 219.3h0M144.6 234.9h0M149.8 233.7h0M134.0 233.3h0M137.9 240.4h0M147.4 233.3h0M143.7 226.2h0M153.5 229.9h0M165.6 222.9h0M156.7 227.5h0M147.1 235.3h0M141.0 228.0h0M160.5 225.6h0M149.3 217.3h0M157.2 211.4h0M144.3 235.8h0M141.8 236.1h0M142.6 235.1h0M168.1 219.1h0M135.5 242.7h0M144.1 235.4h0M139.0 239.0h0M139.9 236.9h0M149.2 219.0h0" stroke="#f2cbb7" stroke-width="1.20" stroke-linecap="round"/>
<path d="M148.1 233.9h0M166.5 221.3h0M156.4 228.6h0M135.8 232.5h0M146.8 218.0h0M137.2 229.4h0M167.0 219.8h0M149.1 216.3h0M138.5 242.5h0M167.5 220.9h0M156.9 228.3h0M155.4 212.3h0M154.6 230.0h0M136.2 243.3h0M146.5 222.8h0M138.1 229.6h0M167.8 220.3h0M142.6 239.3h0M151.3 231.1h0M156.8 227.8h0M139.8 241.6h0M140.3 241.4h0M142.6 221.7h0M167.4 221.0h0M157.2 228.8h0M141.6 239.8h0M157.4 211.3h0M136.6 241.5h0M146.2 236.3h0M146.4 235.3h0M153.7 228.7h0M141.5 242.1h0M168.1 218.6h0M155.7 211.0h0M154.8 212.3h0M135.6 243.2h0M161.3 209.6h0M144.8 223.8h0M147.4 235.4h0M155.9 227.7h0M151.5 235.2h0M158.9 209.4h0M154.1 229.4h0M154.2 213.7h0M141.6 227.3h0M156.0 212.0h0M146.3 219.5h0M148.5 236.5h0M134.4 244.1h0M139.1 229.6h0M142.1 226.2h0M152.6 230.4h0M147.9 221.5h0M165.0 223.8h0" stroke="#f7b89c" stroke-width="1.20" stroke-linecap="round"/>
<path d="M146.0 237.8h0M156.2 229.0h0M157.2 229.9h0M139.5 227.2h0M143.7 241.5h0M148.0 235.8h0M143.4 243.5h0M138.0 229.4h0M149.3 215.0h0M155.9 230.8h0M163.4 226.4h0M141.8 224.6h0M137.5 242.9h0M138.5 243.0h0M146.8 215.6h0M153.4 232.2h0M141.6 226.1h0M153.8 229.2h0M146.7 214.1h0M159.8 227.0h0M153.6 231.2h0M136.5 243.4h0M166.2 223.6h0M136.9 243.6h0M157.5 231.4h0M164.2 224.6h0M164.7 224.4h0M153.2 211.6h0M152.4 212.4h0M166.7 222.1h0M141.8 225.8h0M157.8 228.2h0M166.3 222.1h0M164.5 227.0h0M136.7 229.9h0M142.7 238.6h0M139.7 243.4h0M146.4 218.9h0M156.3 210.5h0M141.8 242.7h0M134.5 231.8h0M139.8 228.6h0M152.3 212.3h0" stroke="#f5a081" stroke-width="1.20" stroke-linecap="round"/>
<path d="M151.0 236.9h0M155.8 209.8h0M163.3 228.0h0M142.8 222.7h0M134.1 229.5h0M154.7 210.3h0M140.8 223.3h0M154.0 233.5h0M147.6 211.3h0M142.3 224.7h0M144.9 218.0h0M153.8 233.0h0M142.6 218.4h0M149.1 237.9h0M144.8 217.8h0M153.7 231.6h0M163.1 226.9h0M145.6 240.0h0M153.5 210.9h0M158.3 232.9h0M166.4 224.1h0M146.8 240.2h0M157.5 228.7h0M153.9 211.1h0M145.8 217.2h0M135.2 229.2h0M164.8 226.3h0M153.4 232.5h0M148.2 239.1h0M140.6 222.5h0M151.1 235.9h0M148.9 213.3h0M146.9 241.5h0M156.8 232.1h0M159.5 227.7h0M152.1 211.2h0M155.1 232.0h0M148.5 238.1h0M154.7 229.8h0M141.5 223.2h0M143.7 218.6h0M150.4 235.7h0M166.6 225.1h0" stroke="#ee8468" stroke-width="1.20" stroke-linecap="round"/>
<path d="M146.5 241.7h0M160.2 229.4h0M155.4 233.2h0M162.7 232.4h0M154.9 234.8h0M162.5 231.1h0M156.7 236.6h0M138.5 223.5h0M143.6 219.1h0M158.1 230.6h0M153.6 235.3h0M148.1 212.6h0M160.4 229.3h0M167.2 226.8h0M155.6 237.4h0M144.4 212.8h0M144.0 216.7h0M134.4 217.7h0M166.9 237.4h0M149.3 241.6h0M148.3 211.0h0M159.5 232.5h0M147.1 213.7h0M146.4 211.9h0M152.3 210.2h0M150.1 210.9h0M134.3 230.2h0M161.9 233.8h0M143.6 220.4h0M155.9 236.2h0M155.3 209.6h0M150.5 211.4h0M144.1 220.2h0M152.2 235.3h0M151.6 239.8h0M159.6 233.3h0M139.0 224.4h0M166.7 228.6h0M135.1 210.8h0M140.3 223.3h0M135.4 228.4h0M147.1 211.6h0M157.9 237.4h0M153.8 233.9h0M149.3 210.8h0M141.2 220.8h0M143.3 219.1h0M153.3 236.2h0M156.4 233.8h0M146.3 213.6h0M144.0 243.2h0M167.2 226.9h0M139.6 222.1h0M147.0 240.7h0M145.5 243.5h0M151.3 209.7h0M147.2 240.2h0M144.0 218.8h0M157.5 231.1h0M143.3 244.0h0M141.0 221.2h0M157.3 231.9h0M137.1 222.1h0M160.4 230.6h0M142.9 222.5h0M164.9 229.2h0M164.1 226.8h0M152.6 209.3h0M150.2 239.0h0M156.4 230.3h0M139.6 223.0h0M162.4 228.7h0M140.0 224.9h0M160.5 231.6h0M156.7 242.4h0M160.9 229.6h0M156.8 234.2h0M139.5 219.7h0M167.5 222.6h0M156.5 232.7h0M146.2 243.3h0M144.8 241.9h0M145.1 212.0h0M146.9 239.2h0M151.0 210.5h0M163.5 237.3h0M151.6 239.6h0" stroke="#e0654f" stroke-width="1.20" stroke-linecap="round"/>
<path d="M149.4 242.1h0M167.7 242.2h0M137.5 211.0h0M141.4 215.7h0M164.8 231.4h0M153.4 238.7h0M168.6 231.0h0M168.3 239.7h0M155.5 233.0h0M159.2 232.6h0M156.7 243.3h0M136.8 227.0h0M138.1 210.0h0M136.7 220.3h0M139.4 212.5h0M142.5 216.2h0M146.0 213.2h0M167.3 227.6h0M140.7 220.6h0M134.8 220.3h0M167.4 235.3h0M168.3 242.1h0M141.2 210.8h0M165.9 237.7h0M140.1 220.6h0M143.5 213.0h0M140.0 218.7h0M138.1 216.7h0M165.6 231.8h0M141.3 210.2h0M165.5 230.5h0M151.8 237.8h0M163.4 229.1h0M164.1 231.0h0M140.1 220.1h0M165.3 229.4h0M147.8 242.4h0M138.7 220.9h0M166.1 236.6h0M145.0 215.7h0M168.1 243.8h0M146.5 242.4h0M158.3 232.1h0M159.4 235.4h0M150.5 243.3h0M162.5 232.1h0M135.0 217.6h0M168.5 224.5h0M135.4 225.1h0M158.5 241.3h0M155.5 237.4h0M155.4 243.4h0M166.0 237.7h0M159.2 232.9h0M151.7 236.2h0M168.7 236.1h0M149.2 241.4h0M140.2 212.1h0M141.6 212.0h0M159.1 236.6h0M162.6 232.9h0M163.8 233.0h0M168.0 230.5h0M140.9 216.4h0M134.2 225.5h0M167.2 225.4h0M163.8 243.7h0M143.2 220.3h0M153.9 232.2h0M144.3 210.5h0M158.1 233.6h0M166.0 240.8h0M136.7 225.0h0M167.0 226.9h0M136.2 224.1h0M138.8 225.0h0M165.7 228.8h0M155.0 243.4h0M163.5 232.4h0M134.2 222.4h0M157.8 241.9h0M161.2 239.1h0M137.4 220.2h0M139.1 214.8h0M158.3 233.1h0M143.9 213.7h0M135.6 227.6h0M167.1 233.7h0M148.7 209.4h0M160.6 234.0h0M154.8 237.0h0M147.7 241.5h0M162.1 233.3h0M135.7 217.2h0M147.4 243.4h0M147.5 242.2h0M168.1 228.0h0M168.2 228.0h0M156.8 235.0h0M141.2 220.6h0M158.3 233.8h0M168.8 238.9h0M167.8 230.6h0M137.9 218.6h0M161.4 231.0h0M142.7 218.3h0M140.8 217.7h0M155.5 235.8h0M140.3 213.9h0M151.8 243.1h0M150.7 237.7h0M153.8 236.9h0M144.4 210.4h0M145.5 210.6h0M139.7 218.2h0M141.5 222.5h0M144.5 209.4h0M168.7 240.4h0M156.1 234.5h0M141.6 214.8h0M165.7 236.5h0M138.3 210.2h0M163.0 237.3h0" stroke="#cc403a" stroke-width="1.20" stroke-linecap="round"/>
<path d="M149.2 242.1h0M134.4 219.2h0M166.1 232.6h0M158.5 239.9h0M157.6 239.2h0M138.7 209.3h0M135.9 220.0h0M137.2 211.2h0M160.9 233.8h0M163.9 234.7h0M141.7 215.4h0M139.0 213.5h0M168.7 241.5h0M158.4 243.2h0M167.8 233.0h0M156.6 241.8h0M158.5 237.6h0M158.9 242.2h0M135.4 212.3h0M164.3 242.7h0M167.2 242.2h0M142.5 215.4h0M133.9 221.4h0M161.2 236.9h0M162.7 244.0h0M155.3 240.2h0M162.9 242.6h0M166.8 240.0h0M165.5 236.8h0M141.2 209.2h0M143.5 210.2h0M144.0 212.0h0M162.9 238.4h0M160.9 244.1h0M153.7 240.2h0M168.1 236.1h0M138.3 217.0h0M157.9 242.3h0M162.2 237.7h0M140.3 211.3h0M138.6 214.8h0M168.7 227.5h0M166.7 241.9h0M168.6 242.9h0M167.4 230.2h0M139.1 214.2h0M162.0 241.8h0M150.1 243.1h0M164.3 230.6h0M166.0 233.7h0M137.6 216.1h0M168.1 236.0h0M136.8 219.8h0M140.8 213.9h0M157.9 242.8h0M143.3 210.0h0M157.9 240.6h0M159.5 235.4h0M168.3 235.0h0M135.1 212.9h0M159.3 236.9h0M153.7 242.3h0M162.5 238.6h0M139.9 212.2h0M136.7 222.9h0M160.9 239.4h0M166.0 242.1h0M157.5 239.2h0M151.7 209.3h0M137.2 209.3h0M156.9 243.5h0M152.5 239.8h0M168.0 232.9h0M160.0 237.9h0M166.9 235.5h0M167.0 229.2h0M167.0 241.1h0M169.0 240.7h0M139.3 218.8h0M143.5 216.0h0M159.2 238.3h0M159.0 240.7h0M164.1 242.9h0M149.3 241.0h0M167.9 233.1h0M141.3 215.9h0M161.9 237.1h0M168.1 236.9h0M161.5 233.9h0M154.5 240.6h0M157.2 235.0h0M166.3 233.5h0M163.4 234.6h0M166.6 243.2h0M163.1 236.9h0M168.1 231.2h0M154.6 238.8h0M159.5 244.0h0M135.8 217.4h0M162.8 239.9h0M156.8 239.7h0M138.5 220.9h0M140.2 211.4h0M167.1 236.0h0M151.1 243.6h0M136.2 213.2h0M163.8 242.3h0M138.0 217.6h0M156.2 241.4h0M141.1 216.8h0M157.6 233.8h0M158.8 236.2h0M140.8 213.4h0M149.3 209.7h0M162.8 237.0h0M138.0 216.4h0M160.2 242.5h0M168.0 236.6h0M166.5 236.3h0M153.6 241.2h0M134.3 210.2h0M162.1 241.0h0M159.6 233.6h0M145.5 210.8h0M138.2 210.7h0M157.9 239.8h0M139.1 215.6h0M152.7 240.3h0M156.8 239.8h0M137.4 211.9h0M135.5 211.2h0M134.5 212.9h0M139.3 211.9h0M168.5 234.0h0M137.3 219.1h0M167.6 236.4h0M141.7 222.5h0M164.3 233.5h0M135.5 220.1h0M154.7 242.2h0M147.6 209.6h0M151.7 242.8h0M137.4 212.4h0" stroke="#b40426" stroke-width="1.20" stroke-linecap="round"/>
<path d="M184.5 234.5h0M183.9 239.5h0M184.7 226.1h0M179.7 226.3h0M205.1 231.9h0M187.0 226.2h0M184.5 238.1h0M205.2 232.0h0" stroke="#4f69d9" stroke-width="1.20" stroke-linecap="round"/>
<path d="M191.8 227.3h0M183.9 241.1h0M185.0 236.1h0M196.7 229.1h0M185.4 234.1h0M204.5 231.8h0M184.4 235.8h0M183.5 236.8h0M200.7 230.3h0M199.8 229.6h0M184.4 234.8h0M181.7 226.8h0M183.6 237.2h0M184.5 225.9h0M184.9 229.4h0M199.0 229.3h0M184.5 237.3h0M183.8 243.7h0M173.9 226.3h0M185.4 229.6h0M192.3 226.6h0M184.5 242.2h0" stroke="#6485ec" stroke-width="1.20" stroke-linecap="round"/>
<path d="M183.0 226.3h0M185.7 244.0h0M184.3 225.3h0M197.3 227.5h0M184.9 240.9h0M185.5 235.1h0M188.5 226.6h0M184.3 226.8h0M186.1 228.5h0M182.8 239.0h0M175.7 226.6h0M174.7 226.8h0M206.7 233.0h0M192.1 228.0h0M201.4 230.2h0M202.1 231.6h0M174.9 224.9h0M190.3 228.6h0M183.7 226.1h0M183.7 236.0h0M202.8 230.3h0M195.6 228.6h0M185.3 225.7h0M186.2 225.4h0M201.0 229.4h0M194.4 227.0h0M183.7 232.0h0M182.3 224.6h0M192.5 226.4h0M185.2 228.4h0M202.2 229.6h0M205.7 232.9h0M191.4 227.8h0M185.9 232.7h0M195.3 228.7h0M185.5 227.4h0M203.6 230.4h0M180.5 226.5h0M204.4 231.0h0M199.9 228.7h0M201.7 229.5h0M184.6 235.6h0" stroke="#7b9ff9" stroke-width="1.20" stroke-linecap="round"/>
<path d="M203.8 232.4h0M185.8 238.3h0M185.4 235.2h0M186.6 229.8h0M186.8 229.9h0M194.9 225.8h0M173.9 227.4h0M191.1 225.7h0M175.2 224.6h0M179.4 225.1h0M183.5 233.4h0M202.5 229.4h0M188.6 227.8h0M172.9 225.3h0M206.6 233.8h0M185.4 226.2h0M188.3 227.4h0M201.1 229.2h0M183.9 232.1h0M190.4 227.5h0M197.9 227.0h0M196.2 229.3h0M190.7 226.5h0M185.3 240.6h0M200.2 228.9h0M190.7 228.1h0M187.0 227.4h0M200.0 230.8h0M183.2 228.4h0M177.2 226.7h0M183.0 244.0h0M184.6 224.6h0" stroke="#93b5fe" stroke-width="1.20" stroke-linecap="round"/>
<path d="M174.4 225.3h0M186.6 236.9h0M204.7 230.4h0M185.0 224.8h0M193.1 225.4h0M185.3 242.9h0M197.6 226.9h0M173.5 227.7h0M181.0 227.6h0M202.6 229.4h0M195.9 225.9h0M177.3 228.6h0M203.6 229.4h0M204.2 230.2h0M183.4 224.7h0M192.4 229.8h0M177.1 224.1h0M190.0 228.0h0M186.5 237.8h0M175.3 228.6h0M202.6 233.8h0M186.2 235.2h0M189.9 224.8h0M190.8 225.8h0M177.0 227.6h0M199.4 230.8h0M183.1 234.7h0M182.3 235.2h0M179.0 228.4h0M182.8 236.4h0M183.3 224.8h0M200.9 227.0h0M185.2 226.9h0M186.4 237.0h0M186.1 237.0h0M186.1 235.0h0M175.0 224.6h0M186.2 231.0h0" stroke="#aac7fd" stroke-width="1.20" stroke-linecap="round"/>
<path d="M190.3 229.4h0M188.5 224.1h0M182.1 237.3h0M202.0 227.9h0M182.4 238.3h0M187.1 223.4h0M186.0 241.5h0M192.5 224.7h0M182.0 236.0h0M197.4 225.6h0M203.4 233.1h0M206.1 234.7h0M175.1 224.3h0M204.0 228.8h0M174.3 229.4h0M191.5 229.0h0M186.5 223.5h0M205.2 228.8h0M182.6 234.4h0M188.9 228.8h0M188.0 224.1h0M186.8 241.8h0M186.7 242.1h0M186.5 223.2h0M205.9 229.8h0M172.8 228.9h0M186.6 232.6h0M206.7 230.1h0M185.7 238.7h0M187.9 223.9h0M186.6 238.4h0M176.9 228.1h0M197.7 231.0h0M190.6 223.7h0M187.4 232.2h0M206.1 234.4h0" stroke="#c0d4f5" stroke-width="1.20" stroke-linecap="round"/>
<path d="M202.2 233.5h0M190.4 230.1h0M188.0 235.6h0M179.3 223.3h0M181.6 237.6h0M189.9 223.5h0M182.0 236.5h0M173.2 224.1h0M182.7 229.3h0M199.7 232.5h0M173.6 229.3h0M187.4 231.1h0M198.1 232.2h0M188.0 230.7h0M191.4 229.1h0M197.5 224.3h0M181.3 229.2h0M203.8 227.2h0M185.2 224.0h0M187.0 242.1h0M202.8 233.0h0M202.6 227.1h0M205.2 229.1h0M172.7 229.4h0M200.7 227.0h0M198.7 225.2h0M181.0 241.0h0M185.9 222.8h0M183.0 230.9h0M193.7 230.2h0M197.1 224.9h0M196.0 230.5h0M180.5 238.8h0M198.4 224.7h0M181.7 235.8h0M182.2 239.9h0M183.5 223.8h0M200.8 232.9h0M187.2 237.2h0M191.3 224.0h0M191.4 224.5h0M202.2 234.0h0M205.2 235.1h0M182.3 232.3h0M181.0 236.4h0" stroke="#d4dbe6" stroke-width="1.20" stroke-linecap="round"/>
<path d="M173.6 230.1h0M179.3 222.7h0M175.6 230.3h0M194.9 230.7h0M207.5 236.9h0M175.3 224.3h0M173.9 223.5h0M174.9 222.5h0M205.0 227.5h0M193.8 223.1h0M201.3 224.8h0M187.9 239.5h0M195.9 232.1h0M181.5 231.1h0M203.2 227.6h0M205.5 236.3h0M177.6 230.1h0M207.5 236.3h0M203.8 235.3h0M180.8 241.6h0M192.8 224.2h0M196.7 224.3h0M189.2 240.7h0M186.5 222.3h0M181.7 232.2h0M202.7 225.6h0M174.5 223.9h0M178.9 223.0h0M177.3 222.4h0M204.8 235.3h0M188.3 233.2h0M194.6 231.3h0M174.2 222.9h0M177.2 230.8h0M192.9 223.0h0" stroke="#e5d8d1" stroke-width="1.20" stroke-linecap="round"/>
<path d="M180.0 221.5h0M179.8 234.2h0M173.1 222.3h0M177.1 230.7h0M202.8 234.9h0M177.2 222.5h0M196.1 223.4h0M184.3 221.3h0M204.7 226.7h0M188.1 239.6h0M190.2 222.5h0M203.1 225.7h0M188.6 235.5h0M194.7 223.7h0M180.6 237.1h0M180.5 221.8h0M204.9 236.4h0M203.2 235.5h0M188.6 235.3h0M173.5 222.7h0M199.7 222.1h0M181.8 232.6h0M175.3 222.5h0M190.9 231.2h0M204.5 226.2h0M176.3 231.3h0M203.7 236.3h0M177.3 223.8h0M189.3 232.6h0M197.6 233.3h0M203.5 225.9h0M177.4 222.5h0M179.8 239.5h0M187.2 222.7h0M199.9 222.4h0M180.6 240.6h0M204.0 235.7h0M195.7 222.1h0M190.0 236.9h0M180.5 221.9h0M181.0 232.9h0M190.4 232.5h0M204.4 235.3h0M202.7 224.1h0M179.6 234.1h0M173.9 230.8h0M193.4 231.8h0" stroke="#f2cbb7" stroke-width="1.20" stroke-linecap="round"/>
<path d="M184.8 220.2h0M203.0 225.0h0M188.9 231.6h0M201.4 222.1h0M205.1 227.2h0M202.5 224.9h0M175.4 230.0h0M189.8 242.2h0M195.0 233.4h0M198.6 222.7h0M173.3 219.7h0M194.8 221.8h0M199.7 234.7h0M190.6 239.6h0M178.7 242.5h0M200.8 234.7h0M188.9 234.9h0M174.9 231.4h0M174.0 232.0h0M198.8 221.5h0M197.8 221.3h0M199.9 223.8h0M204.7 236.5h0M178.3 240.0h0M189.3 241.9h0M178.3 231.7h0M206.7 228.0h0M197.3 222.8h0M176.0 231.6h0M177.2 221.3h0M176.6 220.2h0M201.0 222.4h0M199.9 221.7h0M190.2 240.2h0M201.6 221.4h0M179.8 233.2h0M191.9 222.9h0M185.6 219.9h0M179.7 237.9h0M202.4 235.3h0M194.2 222.7h0M197.0 220.8h0M205.2 237.6h0M201.6 221.7h0" stroke="#f7b89c" stroke-width="1.20" stroke-linecap="round"/>
<path d="M179.0 221.3h0M178.5 242.1h0M178.9 235.9h0M199.0 219.1h0M191.7 220.3h0M176.6 220.7h0M192.1 233.1h0M202.4 236.0h0M190.4 236.4h0M194.2 222.6h0M178.5 234.6h0M174.0 220.9h0M199.2 234.2h0M191.9 220.0h0M182.5 219.7h0M199.0 221.2h0M189.8 242.9h0M203.5 225.5h0M196.6 220.5h0M188.1 219.1h0M189.2 241.4h0M178.6 219.0h0M179.1 243.0h0M176.6 220.3h0M193.9 221.7h0M201.7 222.6h0M205.1 224.7h0M190.2 232.2h0M186.0 221.4h0M179.2 231.4h0M196.7 233.6h0M190.9 233.4h0M203.6 239.2h0M198.9 236.5h0M190.7 239.8h0M178.3 234.1h0M199.6 238.4h0M190.6 236.5h0M190.5 220.9h0M199.4 220.4h0M176.8 231.9h0M177.9 237.9h0M172.6 233.0h0M173.0 219.3h0M184.2 219.4h0M204.2 224.3h0M189.8 232.1h0M204.5 239.2h0M189.8 243.9h0M203.8 237.8h0M184.9 219.8h0M186.4 218.7h0M207.0 239.1h0M179.5 220.5h0M189.0 221.6h0M198.4 235.4h0M200.8 215.5h0M194.9 220.9h0M205.8 238.7h0" stroke="#f5a081" stroke-width="1.20" stroke-linecap="round"/>
<path d="M201.4 218.6h0M177.3 231.8h0M203.0 222.0h0M175.5 241.3h0M173.2 220.0h0M200.1 236.9h0M178.1 243.1h0M192.4 234.4h0M195.3 221.0h0M189.0 219.2h0M189.2 217.3h0M176.4 241.0h0M191.1 236.4h0M204.2 238.4h0M174.2 240.1h0M203.5 217.9h0M198.7 219.3h0M202.0 217.4h0M203.0 241.4h0M175.9 239.6h0M182.2 218.5h0M177.2 243.0h0M176.3 243.4h0M176.5 232.9h0M175.7 237.6h0M203.4 239.3h0M192.9 233.9h0M175.5 231.6h0M173.0 232.5h0M186.9 216.0h0M174.5 243.3h0M201.7 219.2h0M175.5 243.2h0M185.7 215.5h0M191.5 241.8h0M176.7 242.0h0M194.4 220.6h0M205.5 221.1h0M198.8 222.0h0M207.0 224.5h0M190.9 242.1h0M177.2 238.8h0M204.3 220.9h0M178.8 238.8h0M200.1 237.7h0M193.3 234.7h0M194.8 236.6h0M176.8 233.4h0M174.5 234.0h0M192.5 220.4h0M192.3 219.8h0M192.2 243.0h0M204.7 237.4h0M204.6 222.0h0M195.6 233.5h0M172.6 233.3h0M202.4 237.7h0M194.8 233.9h0M203.0 238.8h0M205.8 225.3h0M205.1 239.7h0M201.9 221.1h0M177.9 236.5h0M195.0 235.3h0M200.9 218.6h0M192.3 219.4h0M200.9 238.3h0M179.2 231.8h0M176.8 233.3h0M195.4 235.2h0M197.6 218.0h0" stroke="#ee8468" stroke-width="1.20" stroke-linecap="round"/>
<path d="M185.0 217.3h0M197.4 218.7h0M175.4 238.6h0M177.0 243.0h0M193.3 215.3h0M203.4 219.4h0M196.7 220.5h0M183.6 217.5h0M199.8 237.1h0M178.1 214.6h0M181.9 218.0h0M181.7 218.6h0M172.5 234.5h0M177.8 237.7h0M195.6 217.5h0M195.9 216.7h0M192.6 239.5h0M174.8 209.6h0M177.3 233.5h0M197.4 238.8h0M197.6 236.8h0M193.8 215.4h0M182.3 219.9h0M193.6 214.9h0M195.4 239.4h0M193.7 217.1h0M195.7 220.4h0M193.2 214.1h0M197.9 237.4h0M178.1 216.8h0M192.8 242.2h0M174.8 234.2h0M180.7 216.7h0M175.1 234.8h0M201.4 217.6h0M195.9 217.5h0M174.3 209.4h0M205.8 240.5h0M181.9 217.1h0M200.7 241.1h0M176.6 240.2h0M178.2 218.3h0M192.7 241.3h0M193.4 239.5h0M194.9 240.4h0M193.9 239.4h0M184.9 217.8h0M172.8 238.6h0M181.9 212.9h0M195.4 240.0h0M177.6 216.3h0M197.5 212.9h0M201.1 240.1h0M191.3 219.6h0M188.6 213.1h0M174.5 234.3h0M205.6 220.6h0M193.5 241.5h0M191.3 243.9h0M175.9 240.3h0M199.4 217.7h0M175.6 242.5h0M190.0 219.5h0M204.7 239.1h0M184.1 217.0h0M197.9 217.1h0M176.6 239.4h0M174.5 217.0h0M186.3 218.1h0M175.4 233.9h0M192.4 211.9h0M176.1 243.5h0M202.1 239.3h0M192.1 217.6h0M199.5 239.0h0M191.5 241.9h0M201.8 213.4h0M173.3 234.8h0M174.6 215.4h0M174.5 234.8h0M199.7 240.7h0M193.5 237.6h0M202.8 218.4h0M183.2 216.1h0M205.5 242.4h0M204.3 242.3h0M180.0 217.2h0M197.3 234.6h0M174.9 240.8h0M192.6 219.5h0M174.8 238.2h0M191.2 242.6h0M176.2 243.3h0M193.0 234.9h0M175.6 219.5h0M177.3 216.3h0M180.8 218.6h0M195.7 237.3h0M193.6 241.1h0M187.3 215.6h0" stroke="#e0654f" stroke-width="1.20" stroke-linecap="round"/>
<path d="M206.7 218.3h0M179.3 211.3h0M183.4 212.0h0M204.1 215.1h0M191.7 215.9h0M204.0 211.2h0M205.2 215.8h0M177.1 215.3h0M206.6 212.8h0M172.9 241.1h0M178.3 215.7h0M207.0 214.4h0M190.1 209.3h0M204.2 241.2h0M179.8 213.0h0M177.7 216.0h0M202.6 209.5h0M186.4 212.4h0M196.5 218.5h0M203.9 217.9h0M184.0 209.8h0M200.6 241.0h0M175.3 217.1h0M192.9 212.6h0M198.0 213.9h0M180.9 210.6h0M202.9 241.1h0M180.3 216.9h0M195.0 238.7h0M205.4 215.8h0M199.4 214.2h0M204.2 240.7h0M206.1 218.2h0M199.0 217.0h0M189.7 216.2h0M205.8 214.9h0M200.0 211.9h0M185.6 214.6h0M205.5 217.9h0M191.2 217.3h0M173.1 214.0h0M189.7 216.5h0M182.5 216.9h0M205.4 215.7h0M181.6 214.2h0M173.6 240.1h0M200.9 213.0h0M187.7 217.0h0M181.8 217.0h0M207.1 214.3h0M190.7 211.1h0M196.4 239.5h0M184.4 216.8h0M203.0 239.1h0M199.6 216.0h0M205.7 241.9h0M198.9 215.4h0M201.6 217.5h0M207.5 218.6h0M181.6 212.9h0M203.7 243.2h0M195.3 236.4h0M196.6 241.0h0M201.0 242.5h0M176.7 213.3h0M175.5 210.1h0M179.0 216.9h0M196.9 210.8h0M174.2 241.8h0M201.3 243.8h0M206.6 241.5h0M183.4 214.4h0M188.5 216.1h0M204.8 214.2h0M206.1 214.7h0M192.2 217.7h0M175.6 213.1h0M175.0 217.9h0M172.8 214.8h0M194.3 239.2h0M184.9 211.9h0M176.6 212.6h0M192.5 210.8h0M192.4 213.3h0M199.3 237.2h0M203.4 213.7h0M203.2 241.1h0M207.4 222.4h0M193.3 238.1h0M203.3 216.0h0M184.5 215.0h0M205.6 221.4h0M196.5 241.5h0M180.1 209.6h0M195.7 243.4h0M191.8 211.5h0M194.9 214.1h0M187.9 211.9h0M195.3 237.2h0M189.9 214.7h0M173.8 215.0h0M179.0 210.9h0M185.8 217.9h0M194.9 240.9h0M183.0 214.9h0M176.5 211.4h0M179.9 212.8h0M186.6 210.3h0M199.0 213.9h0M199.4 241.5h0M205.6 209.7h0M199.4 238.7h0M197.7 238.4h0M193.9 213.7h0M192.5 209.6h0M183.4 211.9h0M189.9 216.4h0M189.9 211.9h0M175.1 214.4h0M173.8 238.9h0M197.3 241.1h0M185.4 216.8h0" stroke="#cc403a" stroke-width="1.20" stroke-linecap="round"/>
<path d="M181.0 210.7h0M178.0 210.3h0M197.4 243.0h0M174.7 235.3h0M204.1 215.7h0M206.9 216.9h0M207.5 212.2h0M200.6 211.0h0M172.8 239.1h0M192.8 210.0h0M195.6 238.6h0M196.0 211.0h0M177.0 216.5h0M185.4 211.1h0M205.7 215.3h0M182.4 210.0h0M200.3 242.0h0M190.8 209.6h0M198.1 243.4h0M192.4 212.1h0M193.1 212.3h0M199.7 243.2h0M174.7 209.8h0M205.1 215.5h0M173.4 212.4h0M192.3 212.1h0M196.8 212.7h0M191.3 211.6h0M204.4 212.4h0M205.5 212.5h0M197.9 210.0h0M178.9 209.6h0M197.5 212.5h0M180.0 209.4h0M184.6 210.3h0M179.9 215.0h0M203.5 243.9h0M192.9 209.6h0M173.6 243.9h0M198.0 214.7h0M205.9 212.9h0M200.7 215.1h0M188.6 212.6h0M189.5 214.0h0M191.8 209.6h0M190.9 212.3h0M178.2 211.0h0M207.3 222.7h0M205.3 214.4h0M181.6 213.0h0M194.9 239.1h0M197.1 209.1h0M192.5 215.3h0M182.7 210.4h0M180.1 210.3h0M199.5 239.6h0M186.5 216.5h0M200.9 211.3h0M205.7 211.1h0M207.3 219.7h0M205.4 214.1h0M198.4 240.7h0M192.7 209.8h0M196.1 213.0h0M204.7 213.8h0M177.1 210.7h0M206.5 212.2h0M177.4 211.2h0M187.4 209.8h0M203.9 216.3h0M197.2 213.4h0M197.1 241.5h0M181.2 215.8h0M206.0 213.2h0M205.1 212.3h0M184.3 210.0h0M173.5 216.7h0M195.7 238.5h0M202.8 214.0h0M202.3 218.1h0M178.9 210.6h0M192.3 210.2h0M197.4 243.6h0M201.3 210.7h0M205.8 209.6h0M190.8 211.5h0M183.5 213.0h0M206.7 222.0h0M187.8 213.0h0M195.9 241.6h0M183.2 213.1h0M183.0 214.4h0M194.8 210.7h0M193.5 214.2h0M204.9 209.5h0M190.2 212.5h0M207.5 213.4h0M179.7 213.9h0M204.4 210.1h0M199.6 209.6h0M201.7 211.9h0M172.9 214.6h0M198.1 212.5h0M193.7 210.8h0M188.8 210.8h0M172.6 212.9h0M193.7 215.1h0M184.8 212.1h0M177.6 212.9h0M205.4 210.4h0M195.7 212.2h0M200.4 212.3h0M173.3 213.0h0M187.3 215.2h0M174.1 211.2h0M189.7 215.0h0M187.1 211.5h0M193.6 210.0h0M197.4 244.1h0" stroke="#b40426" stroke-width="1.20" stroke-linecap="round"/>
<path d="M226.1 221.9h0M212.9 219.4h0" stroke="#3b4cc0" stroke-width="1.20" stroke-linecap="round"/>
<path d="M221.0 222.8h0M217.5 228.8h0M220.0 222.4h0M243.9 230.7h0M213.2 231.2h0M214.0 220.2h0M216.6 221.3h0M216.6 221.3h0M216.5 222.1h0M217.6 222.2h0M211.6 219.0h0M232.8 227.0h0M230.9 226.8h0" stroke="#4f69d9" stroke-width="1.20" stroke-linecap="round"/>
<path d="M229.1 223.9h0M222.3 223.0h0M224.0 215.1h0M238.2 228.0h0M219.8 222.0h0M232.5 228.1h0M211.2 219.4h0M236.1 226.4h0M230.9 227.1h0M229.7 226.3h0M230.2 226.7h0M223.2 210.1h0M224.9 223.3h0M214.7 221.5h0M234.4 228.7h0M219.2 222.5h0M225.6 222.4h0M215.3 219.6h0M219.4 221.8h0M230.0 226.6h0M226.3 222.8h0M223.4 210.0h0M220.9 223.1h0M234.7 228.0h0M238.6 228.0h0M223.8 209.5h0M216.5 230.2h0M219.6 228.5h0M213.5 219.3h0M217.9 222.1h0M235.7 228.3h0M223.0 210.0h0M225.6 223.9h0M219.1 222.7h0M211.6 219.0h0M223.4 209.1h0M223.4 210.2h0M227.6 221.9h0M220.5 222.4h0M231.4 226.8h0M224.5 213.1h0M222.1 222.5h0M214.3 219.6h0M225.3 217.6h0" stroke="#6485ec" stroke-width="1.20" stroke-linecap="round"/>
<path d="M221.6 222.9h0M215.6 229.4h0M224.5 214.2h0M233.9 226.1h0M228.2 224.0h0M227.9 224.6h0M220.0 227.5h0M245.3 230.6h0M223.4 224.4h0M231.0 226.8h0M225.0 215.6h0M218.4 230.2h0M218.7 222.5h0M223.1 222.6h0M227.1 223.5h0M223.3 213.9h0M212.2 220.1h0M236.6 229.5h0M215.0 219.4h0M215.6 221.2h0M223.8 223.0h0M223.8 225.3h0M241.0 230.7h0M222.3 228.2h0M225.3 223.8h0M215.2 222.4h0M240.7 227.7h0M241.8 231.3h0M213.3 232.6h0M216.8 230.7h0M215.5 222.0h0M232.3 227.7h0M227.2 221.2h0M226.0 225.4h0M214.2 231.9h0M218.7 229.6h0M212.2 220.7h0M222.2 211.2h0M232.8 226.6h0M223.4 211.9h0M224.3 227.1h0M229.0 224.4h0M224.3 227.6h0M236.6 228.6h0M222.2 224.2h0" stroke="#7b9ff9" stroke-width="1.20" stroke-linecap="round"/>
<path d="M233.5 228.6h0M221.8 209.9h0M223.5 214.7h0M238.6 230.6h0M226.3 217.4h0M229.2 226.4h0M223.6 217.4h0M237.7 229.9h0M223.6 218.8h0M241.2 228.8h0M228.5 227.1h0M221.8 210.1h0M234.4 229.0h0M221.7 226.8h0M213.9 221.1h0M218.1 227.0h0M213.3 220.7h0M224.8 228.4h0M237.5 230.5h0M245.1 229.6h0M212.5 230.5h0M218.9 230.3h0M211.9 233.6h0M245.3 230.3h0M226.8 218.7h0M235.7 225.8h0M227.8 219.4h0M214.0 228.7h0M244.2 228.9h0M214.7 218.8h0M224.0 217.4h0M214.3 228.9h0M212.1 230.8h0M222.5 222.0h0M227.0 221.4h0M233.7 228.5h0M226.7 216.5h0M225.1 221.2h0M223.7 226.0h0M221.4 224.6h0M237.9 229.4h0M237.6 229.8h0M230.1 227.3h0M226.0 216.4h0M217.6 227.4h0M215.7 231.7h0M216.0 231.7h0M239.8 230.8h0M214.0 229.4h0M227.4 223.8h0M224.1 222.5h0" stroke="#93b5fe" stroke-width="1.20" stroke-linecap="round"/>
<path d="M234.5 225.6h0M238.4 230.1h0M224.8 222.7h0M225.0 227.2h0M222.5 214.1h0M236.9 230.3h0M217.2 231.7h0M230.8 228.3h0M215.4 223.8h0M245.2 233.1h0M225.3 226.1h0M230.1 227.9h0M220.1 230.2h0M218.6 231.0h0M213.3 222.2h0M228.4 223.4h0M230.3 227.0h0M223.2 221.9h0M227.1 215.6h0M225.5 213.3h0M215.6 223.3h0M229.3 222.9h0M217.6 227.1h0M214.2 218.1h0M218.1 230.9h0M235.2 229.7h0M222.1 213.1h0M229.4 223.2h0M226.2 215.8h0M219.9 220.4h0M225.5 228.2h0M216.4 223.8h0M238.7 226.1h0M244.2 229.1h0M227.6 220.2h0M241.4 227.6h0M223.0 217.7h0M218.5 231.1h0M217.3 219.2h0M242.9 232.5h0M225.5 227.5h0M238.3 230.7h0" stroke="#aac7fd" stroke-width="1.20" stroke-linecap="round"/>
<path d="M215.4 218.0h0M217.7 224.4h0M213.8 233.7h0M214.8 227.2h0M232.1 223.7h0M225.9 228.6h0M231.7 229.6h0M242.7 228.4h0M234.7 224.3h0M232.6 223.2h0M217.9 224.6h0M231.2 224.8h0M230.7 223.0h0M236.1 224.5h0M225.4 209.8h0M240.9 227.5h0M245.9 228.6h0M222.5 230.2h0M211.3 229.3h0M241.0 232.1h0M213.9 227.3h0M238.5 226.3h0M211.7 233.8h0M219.6 224.8h0M211.7 235.0h0M236.3 224.0h0M216.7 232.5h0M222.8 217.5h0M214.7 227.5h0M215.0 233.5h0M244.5 233.5h0M215.2 223.5h0M234.4 229.8h0M242.4 228.0h0M222.1 229.9h0M232.6 224.5h0M244.2 233.0h0M245.6 234.2h0M221.1 211.0h0M221.2 220.1h0M241.2 227.2h0M221.1 210.1h0M218.9 231.9h0" stroke="#c0d4f5" stroke-width="1.20" stroke-linecap="round"/>
<path d="M237.7 231.7h0M219.6 219.6h0M213.1 217.1h0M243.4 226.5h0M217.7 232.6h0M216.1 226.4h0M214.0 227.4h0M226.3 210.3h0M222.3 220.2h0M229.0 221.2h0M229.2 228.3h0M222.5 219.3h0M234.7 224.9h0M211.3 223.0h0M211.1 222.2h0M245.2 229.1h0M234.8 231.1h0M212.6 234.0h0M229.3 222.0h0M228.5 217.1h0M239.8 225.4h0M234.2 223.4h0M222.9 220.4h0M228.9 228.5h0M214.9 225.3h0M213.1 233.8h0M229.2 218.8h0M244.1 228.0h0M213.6 227.9h0M222.5 231.0h0M229.4 221.0h0M236.2 231.0h0M211.7 223.0h0M232.1 230.3h0M237.8 231.5h0" stroke="#d4dbe6" stroke-width="1.20" stroke-linecap="round"/>
<path d="M229.8 217.8h0M244.3 226.4h0M218.9 233.9h0M244.8 225.4h0M218.0 233.5h0M219.9 231.8h0M211.9 226.2h0M231.4 230.6h0M220.7 233.0h0M229.2 215.5h0M229.6 220.6h0M221.8 214.6h0M227.5 229.8h0M234.7 230.8h0M231.1 230.1h0M224.9 230.2h0M217.0 225.7h0M229.7 230.0h0M243.5 225.0h0M218.7 211.6h0M224.8 230.2h0M216.3 233.0h0M244.4 234.3h0M238.5 223.9h0M239.3 232.7h0M223.0 219.7h0M239.0 232.9h0M239.1 231.7h0M218.5 217.7h0M233.7 231.4h0M232.3 220.7h0M237.9 223.1h0M239.2 223.5h0M219.9 211.6h0M218.4 219.0h0M219.7 210.4h0M212.1 215.9h0M213.0 224.9h0M231.6 230.4h0M219.3 210.0h0M229.4 216.5h0M215.7 235.1h0M219.9 218.5h0M230.3 221.9h0M232.2 230.8h0M214.6 225.2h0M212.7 235.6h0M215.6 225.3h0M223.8 231.5h0M221.1 232.7h0M211.1 223.1h0M218.6 225.0h0M218.0 232.6h0" stroke="#e5d8d1" stroke-width="1.20" stroke-linecap="round"/>
<path d="M219.3 213.6h0M227.0 209.9h0M238.4 223.1h0M214.8 215.2h0M245.4 234.8h0M220.6 213.7h0M217.4 217.3h0M212.9 236.1h0M230.8 214.4h0M241.0 233.9h0M231.7 221.3h0M240.2 223.9h0M229.4 218.3h0M219.6 212.4h0M212.6 226.2h0M219.6 218.0h0M219.5 210.6h0M245.6 235.2h0M220.5 217.0h0M214.5 226.0h0M228.6 214.1h0M235.4 222.0h0M212.8 223.8h0M235.1 222.6h0M231.0 216.8h0M236.9 233.9h0M240.9 234.5h0M222.6 231.8h0M212.8 235.3h0M240.4 234.2h0M231.7 216.3h0M230.6 231.1h0M218.0 216.3h0M212.1 226.3h0M238.8 224.6h0M214.2 216.3h0M232.2 230.9h0M228.2 228.7h0M238.2 217.5h0M220.5 215.3h0M215.9 234.1h0M221.5 232.1h0M241.5 225.3h0M218.8 234.6h0M212.4 215.7h0" stroke="#f2cbb7" stroke-width="1.20" stroke-linecap="round"/>
<path d="M218.9 233.6h0M215.4 214.6h0M242.3 235.3h0M235.9 220.7h0M229.2 213.2h0M227.9 231.5h0M211.6 225.6h0M232.0 216.1h0M225.6 231.4h0M222.6 232.2h0M240.5 222.6h0M231.2 231.9h0M230.2 212.1h0M231.9 219.6h0M238.7 233.7h0M233.1 232.0h0M233.6 217.1h0M233.1 220.1h0M217.6 216.1h0M231.2 217.4h0M230.2 213.9h0M217.5 215.0h0M230.5 216.3h0M234.0 214.0h0M234.9 218.9h0M231.1 219.2h0M233.6 217.1h0M211.8 225.5h0M219.3 215.5h0M237.1 220.2h0M219.0 234.1h0M235.5 233.0h0M218.5 210.8h0M238.2 232.8h0M219.1 212.6h0M240.9 223.0h0M229.5 211.8h0M234.7 218.2h0M219.4 211.9h0M240.4 234.9h0M240.4 236.8h0M240.0 219.2h0M233.3 214.5h0M216.3 235.9h0M218.9 234.5h0M219.8 217.8h0M229.2 231.2h0M243.9 236.7h0M243.9 223.4h0" stroke="#f7b89c" stroke-width="1.20" stroke-linecap="round"/>
<path d="M217.3 213.4h0M243.3 224.8h0M233.7 220.0h0M221.7 233.0h0M227.8 230.5h0M218.9 234.8h0M230.2 231.6h0M219.2 215.4h0M215.0 236.6h0M215.1 236.7h0M229.3 209.1h0M227.5 230.2h0M232.9 234.6h0M231.1 213.1h0M233.5 232.4h0M243.9 223.0h0M217.7 234.9h0M243.1 236.6h0M232.5 210.1h0M244.6 237.6h0M232.8 232.8h0M240.9 223.4h0M240.7 235.7h0M217.3 236.5h0M244.7 237.1h0M238.4 234.3h0M214.8 213.9h0M235.4 233.6h0M242.8 218.7h0M241.3 222.0h0M238.4 210.4h0M231.0 211.2h0M214.9 235.8h0M236.1 234.8h0M243.5 236.7h0M243.1 222.1h0M237.1 234.1h0M244.7 236.0h0M229.9 211.9h0M233.3 234.0h0M217.9 209.4h0M217.2 215.1h0M212.3 213.3h0M221.4 234.0h0M237.4 235.9h0M239.5 217.2h0M227.8 210.4h0M237.9 219.0h0M238.2 220.8h0M213.3 212.3h0M222.8 233.7h0M233.6 213.6h0M224.4 233.4h0M213.4 237.3h0M236.1 233.0h0M229.6 213.9h0M233.5 218.9h0M219.9 234.6h0M240.7 222.0h0M239.1 220.2h0M230.9 213.1h0M238.4 233.9h0M238.3 216.6h0M218.8 213.5h0M231.4 233.3h0" stroke="#f5a081" stroke-width="1.20" stroke-linecap="round"/>
<path d="M245.2 217.1h0M243.3 223.0h0M233.2 210.8h0M242.3 218.3h0M235.3 212.7h0M218.4 237.7h0M223.5 231.9h0M233.7 214.5h0M211.0 241.4h0M241.9 217.5h0M230.7 210.2h0M232.2 234.9h0M215.7 214.6h0M216.6 210.2h0M225.2 235.2h0M244.8 218.1h0M240.5 210.2h0M238.9 237.2h0M212.2 213.3h0M242.9 219.5h0M236.2 216.2h0M242.4 238.8h0M244.8 222.8h0M217.3 236.5h0M235.2 217.0h0M241.5 217.2h0M214.6 213.8h0M230.6 213.4h0M231.9 234.8h0M226.9 232.7h0M234.7 213.8h0M244.8 221.2h0M220.1 235.3h0M215.3 213.6h0M229.2 209.9h0M242.7 218.8h0M240.9 219.8h0M237.6 235.9h0M224.8 234.2h0M231.8 209.3h0M229.3 233.1h0M232.6 235.2h0M235.9 214.1h0M241.1 217.9h0M238.3 236.8h0M229.0 236.7h0M233.8 213.3h0M239.7 215.9h0M226.5 232.9h0M237.8 214.5h0M223.2 233.4h0M217.6 211.3h0M237.2 216.4h0M211.5 212.1h0M220.8 237.7h0M214.0 237.8h0M239.2 237.9h0M239.3 218.2h0M239.1 236.7h0M238.2 216.5h0M240.4 217.3h0M216.8 236.1h0M237.9 219.1h0M216.1 210.1h0M226.5 232.8h0M214.2 237.8h0M238.0 218.0h0M236.6 235.5h0M236.6 209.9h0M233.0 212.4h0M231.3 235.4h0M238.8 217.6h0M227.4 233.5h0M236.3 236.0h0M227.9 235.1h0M239.5 237.9h0M214.2 213.0h0M234.9 237.3h0M231.1 209.8h0" stroke="#ee8468" stroke-width="1.20" stroke-linecap="round"/>
<path d="M240.2 216.7h0M244.1 240.8h0M211.5 211.3h0M243.1 239.0h0M240.3 212.6h0M220.2 237.1h0M214.5 240.7h0M213.9 241.3h0M237.6 212.8h0M228.7 235.7h0M233.4 234.0h0M240.2 214.9h0M242.1 215.8h0M228.7 233.9h0M238.5 213.2h0M217.8 237.6h0M235.4 236.0h0M211.2 210.2h0M218.0 238.5h0M217.6 237.7h0M214.8 238.3h0M222.3 233.9h0M244.1 215.2h0M235.2 236.6h0M213.4 211.8h0M213.6 239.2h0M241.8 238.5h0M232.4 209.7h0M214.7 238.2h0M229.2 237.5h0M213.0 239.5h0M240.3 240.9h0M240.0 212.8h0M223.9 238.2h0M213.4 242.4h0M226.4 236.7h0M214.9 236.8h0M233.7 243.6h0M232.1 233.9h0M230.3 237.3h0M215.8 213.0h0M225.3 235.6h0M240.0 215.9h0M239.1 213.1h0M233.7 211.9h0M244.8 220.5h0M212.7 239.0h0M214.3 211.7h0M225.5 239.2h0M220.0 236.7h0M213.4 242.2h0M242.8 211.6h0M219.9 236.7h0M219.0 239.3h0M233.4 211.1h0M220.0 238.5h0M220.0 236.3h0M233.3 234.1h0M223.5 237.9h0M232.0 209.2h0M233.0 210.2h0M245.0 214.3h0M231.1 239.0h0M237.5 237.1h0M215.8 212.4h0M226.8 232.9h0M225.3 236.9h0M242.9 217.1h0M211.9 239.6h0M221.6 238.0h0M219.5 239.3h0M236.2 213.0h0M235.9 212.6h0M242.1 214.1h0M211.6 241.1h0M244.0 241.6h0M243.1 219.4h0M219.5 236.5h0M244.6 239.7h0M238.8 239.8h0M237.4 211.8h0M235.4 237.3h0M242.9 219.4h0M235.2 217.4h0M221.8 236.3h0M238.4 211.3h0M237.2 211.7h0M222.3 238.5h0M243.8 217.9h0M234.6 210.1h0M242.2 237.9h0M246.1 212.4h0M245.1 219.9h0M216.4 211.5h0M236.0 239.3h0M215.3 212.0h0M244.4 243.4h0M244.5 212.4h0M216.4 239.2h0M216.0 212.7h0M215.8 238.6h0M243.0 238.5h0M238.9 236.4h0M246.0 222.5h0M220.9 236.7h0" stroke="#e0654f" stroke-width="1.20" stroke-linecap="round"/>
<path d="M219.0 241.3h0M235.7 243.1h0M229.5 243.7h0M236.2 242.5h0M227.8 238.2h0M240.8 214.0h0M236.4 239.5h0M217.6 240.3h0M244.4 214.5h0M239.2 241.4h0M218.8 239.7h0M242.1 211.9h0M219.0 240.3h0M221.7 237.7h0M212.8 244.1h0M216.9 240.0h0M232.4 240.9h0M236.6 239.3h0M243.2 242.3h0M241.6 242.5h0M219.2 239.2h0M230.0 235.0h0M234.9 243.2h0M240.8 214.4h0M224.5 238.5h0M230.9 242.2h0M217.5 237.5h0M243.5 216.4h0M243.0 211.2h0M220.4 239.8h0M240.1 212.4h0M231.0 237.2h0M238.4 241.0h0M239.8 210.1h0M233.6 213.5h0M234.9 237.2h0M228.2 235.3h0M234.6 240.2h0M212.9 241.2h0M234.9 209.6h0M232.6 242.4h0M241.8 213.8h0M212.1 210.5h0M234.9 209.9h0M237.6 242.3h0M239.2 242.4h0M223.7 242.0h0M221.8 237.2h0M236.9 209.3h0M244.6 210.4h0M242.9 209.8h0M228.2 242.5h0M215.9 209.1h0M222.3 240.9h0M214.2 243.4h0M228.5 241.2h0M234.0 239.1h0M242.4 212.8h0M215.1 240.7h0M245.6 218.3h0M224.5 237.3h0M225.5 238.6h0M226.7 239.8h0M239.3 236.6h0M227.4 244.1h0M233.4 243.6h0M243.5 211.1h0M236.0 239.8h0M234.3 238.4h0M244.3 243.3h0M239.6 242.8h0M226.0 242.4h0M217.2 240.9h0M245.0 241.7h0M211.0 240.7h0M220.4 242.2h0M226.5 238.6h0M234.7 239.0h0M242.5 210.5h0M216.8 241.7h0M227.8 242.7h0M239.3 243.2h0M239.5 239.1h0M246.1 242.2h0M221.8 243.6h0M239.7 212.5h0M224.9 237.2h0M235.9 238.7h0M226.1 242.3h0M237.6 213.0h0M238.5 238.4h0M242.5 238.1h0" stroke="#cc403a" stroke-width="1.20" stroke-linecap="round"/>
<path d="M242.3 243.6h0M219.0 240.5h0M235.5 243.9h0M220.8 242.8h0M245.8 209.6h0M232.8 242.1h0M230.6 240.5h0M238.0 242.7h0M233.8 243.9h0M226.6 242.0h0M219.3 243.7h0M227.1 241.3h0M230.6 238.8h0M219.7 243.9h0M227.8 243.5h0M222.7 241.4h0M232.9 240.4h0M216.2 243.7h0M236.6 243.3h0M235.1 238.3h0M243.8 211.9h0M217.2 241.9h0M231.5 242.6h0M236.7 239.4h0M228.6 238.9h0M222.3 242.9h0M245.6 209.9h0M213.4 243.7h0M239.5 241.2h0M219.1 242.1h0M225.0 242.5h0M237.0 242.6h0M232.2 243.4h0M242.3 241.1h0M226.3 242.3h0M237.3 244.1h0M234.6 239.4h0M223.6 240.4h0M226.8 240.9h0M241.8 243.5h0M217.7 240.2h0M239.3 240.3h0M219.9 242.1h0M226.5 239.2h0M230.9 243.6h0M241.6 241.0h0M229.1 243.2h0M243.4 243.1h0M233.2 241.1h0M226.1 242.6h0M228.2 242.9h0M219.7 243.2h0M233.4 241.0h0M237.3 240.9h0M224.6 242.0h0M230.2 243.9h0M243.0 241.9h0" stroke="#b40426" stroke-width="1.20" stroke-linecap="round"/>
<path d="M283.9 214.0h0" stroke="#3b4cc0" stroke-width="1.20" stroke-linecap="round"/>
<path d="M272.8 225.2h0M283.8 213.9h0M269.3 229.7h0M283.7 214.2h0M266.2 234.6h0M267.6 229.5h0M264.4 237.9h0M282.6 214.1h0M273.7 223.6h0M269.6 228.1h0M280.9 216.5h0M269.9 228.0h0M267.0 233.7h0M280.5 216.8h0M282.3 215.0h0" stroke="#4f69d9" stroke-width="1.20" stroke-linecap="round"/>
<path d="M264.2 236.5h0M264.7 235.6h0M266.8 234.2h0M283.5 215.4h0M272.3 226.7h0M270.4 229.9h0M278.0 218.7h0M273.5 224.9h0M278.2 218.5h0M266.6 235.1h0M276.5 220.4h0M276.2 221.3h0M265.3 236.4h0M284.5 213.0h0M279.6 216.5h0M266.8 231.5h0M271.9 225.0h0M266.0 235.8h0M263.8 236.9h0M282.4 214.5h0M266.5 235.9h0M283.5 213.7h0M271.2 228.1h0M270.3 230.5h0M282.2 216.4h0M270.1 228.8h0M270.8 228.2h0M278.0 218.1h0M284.2 212.6h0" stroke="#6485ec" stroke-width="1.20" stroke-linecap="round"/>
<path d="M272.2 226.9h0M275.7 221.6h0M265.9 237.8h0M277.3 218.9h0M264.1 234.9h0M262.9 238.4h0M273.5 226.6h0M276.1 224.3h0M267.5 236.8h0M273.7 226.4h0M284.3 214.3h0M267.4 230.1h0M280.2 219.4h0M277.3 220.1h0M272.6 227.8h0M265.3 232.0h0M283.5 213.1h0M269.3 233.1h0M272.2 223.9h0M263.2 236.8h0M268.4 231.8h0M279.2 218.4h0M283.9 212.2h0" stroke="#7b9ff9" stroke-width="1.20" stroke-linecap="round"/>
<path d="M284.3 211.6h0M267.0 237.4h0M269.3 232.6h0M273.5 226.6h0M266.3 237.5h0M273.4 227.3h0M278.6 221.9h0M277.7 217.1h0M279.0 215.7h0M280.6 219.2h0M271.8 229.6h0M268.6 235.3h0M268.8 233.2h0M266.3 238.0h0M262.7 237.1h0M266.9 230.0h0M270.1 224.8h0M278.8 221.2h0M262.4 238.4h0M278.3 222.0h0M273.1 222.1h0M278.1 216.9h0M271.5 232.1h0M266.7 230.0h0M265.9 238.9h0M267.4 231.3h0M284.4 214.9h0" stroke="#93b5fe" stroke-width="1.20" stroke-linecap="round"/>
<path d="M277.1 215.9h0M279.5 215.1h0M272.9 228.7h0M269.4 234.7h0M274.6 226.4h0M264.9 232.4h0M279.1 214.2h0M263.6 235.5h0M265.3 232.3h0M269.4 235.4h0M281.4 219.7h0M275.9 225.6h0M279.8 214.3h0M262.9 234.7h0M283.0 217.4h0M262.2 239.2h0M269.2 234.2h0M279.1 222.1h0M281.3 213.4h0M266.2 239.3h0M267.1 228.8h0M275.7 225.5h0M269.5 235.6h0M277.7 216.3h0M268.3 236.6h0M282.6 212.8h0M271.2 232.4h0M283.1 216.5h0M267.4 228.2h0M277.7 223.3h0M274.8 225.3h0M272.9 221.6h0M283.9 217.5h0M266.3 238.7h0M262.5 237.7h0M262.3 239.2h0M261.4 237.1h0" stroke="#aac7fd" stroke-width="1.20" stroke-linecap="round"/>
<path d="M273.4 221.9h0M270.1 234.9h0M261.5 237.5h0M264.3 232.4h0M261.4 236.8h0M275.1 228.1h0M270.8 233.7h0M269.9 223.9h0M270.1 235.9h0M280.5 211.7h0M279.3 222.5h0M261.2 238.0h0M276.9 224.2h0M268.3 225.0h0M267.1 227.8h0M269.6 236.1h0M270.7 234.2h0M277.4 223.8h0M274.6 218.5h0M268.4 236.6h0M273.1 230.7h0M281.3 221.9h0M277.6 216.1h0M282.5 219.8h0M271.4 232.1h0M284.6 218.1h0M269.2 223.4h0M268.4 224.7h0" stroke="#c0d4f5" stroke-width="1.20" stroke-linecap="round"/>
<path d="M269.8 223.0h0M278.0 224.9h0M263.9 233.5h0M267.3 226.4h0M275.1 216.9h0M263.9 229.8h0M280.3 221.2h0M268.1 237.9h0M271.3 235.4h0M282.8 210.3h0M267.4 225.5h0M270.1 221.6h0M263.6 228.9h0M269.7 222.4h0M264.9 230.1h0M267.8 240.0h0M262.7 240.1h0M274.4 229.4h0M263.7 241.1h0M272.0 235.3h0M275.9 213.5h0M271.5 231.9h0M275.3 217.7h0M283.7 219.7h0M267.2 226.1h0M263.7 242.1h0M261.5 236.6h0M261.4 234.5h0M271.5 233.2h0M265.2 241.1h0M264.6 227.6h0M282.5 211.5h0M269.4 238.3h0M281.4 221.5h0M281.0 211.7h0M278.2 214.6h0M279.8 223.2h0M271.4 221.4h0M283.9 219.5h0M270.4 238.0h0M263.2 231.8h0M262.8 231.7h0M271.5 222.7h0" stroke="#d4dbe6" stroke-width="1.20" stroke-linecap="round"/>
<path d="M269.0 240.1h0M268.9 221.3h0M283.2 220.2h0M262.3 232.1h0M275.1 232.7h0M264.4 243.5h0M264.5 224.6h0M268.3 240.7h0M265.5 241.6h0M272.5 218.5h0M280.4 224.6h0M264.2 241.7h0M277.6 214.6h0M275.0 217.7h0M277.6 226.3h0M273.4 216.3h0M271.5 220.2h0M275.6 230.4h0M268.1 237.3h0M261.4 234.3h0M260.4 236.5h0M277.2 215.0h0M275.4 231.7h0M276.6 212.9h0M272.5 239.9h0M276.4 232.6h0M280.3 222.3h0M280.7 223.6h0M281.5 209.6h0M281.6 221.0h0M278.8 210.5h0M275.8 214.3h0M261.5 232.9h0M271.1 235.5h0M280.3 223.6h0M272.2 234.3h0M272.6 219.9h0M259.5 237.6h0M267.7 242.3h0M270.6 235.5h0M263.8 229.0h0M277.2 227.1h0M260.7 235.2h0M274.7 214.5h0M261.2 235.9h0M276.2 213.8h0M261.0 234.7h0" stroke="#e5d8d1" stroke-width="1.20" stroke-linecap="round"/>
<path d="M275.5 213.4h0M272.8 218.1h0M283.2 222.0h0M261.1 242.3h0M273.9 233.0h0M259.7 236.3h0M266.3 225.4h0M270.7 237.6h0M275.3 215.1h0M279.7 224.8h0M279.4 226.5h0M266.5 241.9h0M267.0 243.1h0M268.2 240.8h0M264.5 226.8h0M259.7 235.4h0M284.1 220.2h0M267.8 241.8h0M263.5 230.1h0M275.9 230.2h0M268.4 221.1h0M268.2 240.9h0M270.7 241.7h0M275.1 237.2h0M265.9 242.0h0M277.3 232.9h0M263.1 243.3h0M272.6 217.9h0M283.0 222.2h0M260.4 237.2h0M273.3 235.9h0M281.9 223.6h0M261.0 235.4h0M279.5 224.8h0M264.5 228.1h0M264.1 229.5h0M266.7 224.1h0M274.2 235.5h0M273.8 236.0h0M275.7 214.0h0M273.6 235.0h0M271.2 241.0h0M277.2 239.1h0M270.1 221.5h0" stroke="#f2cbb7" stroke-width="1.20" stroke-linecap="round"/>
<path d="M265.5 225.3h0M277.9 227.8h0M278.4 238.0h0M272.9 236.4h0M258.2 237.3h0M259.7 233.7h0M278.7 210.0h0M272.8 218.2h0M263.0 228.3h0M278.9 231.5h0M273.0 216.6h0M261.8 227.9h0M281.3 238.5h0M274.1 239.5h0M258.3 232.7h0M275.1 238.9h0M269.3 242.1h0M271.8 217.2h0M260.0 230.0h0M272.5 214.4h0M283.9 222.0h0M269.8 220.0h0M267.1 222.1h0M274.8 238.2h0M262.9 225.9h0M269.8 241.6h0M268.7 240.5h0M278.7 209.2h0M281.3 241.3h0M278.9 228.5h0M264.8 224.7h0M282.8 226.6h0M274.3 212.2h0M273.6 235.4h0M259.0 235.0h0M257.2 239.4h0M271.5 241.5h0M280.6 237.6h0M281.3 226.6h0M271.1 218.4h0M275.4 231.1h0M270.3 240.4h0M277.1 236.9h0M267.6 243.2h0M272.6 213.7h0M281.0 225.2h0M259.6 227.9h0M271.3 219.0h0M267.4 222.8h0M270.7 241.0h0M275.7 233.1h0M274.4 237.1h0M281.7 226.2h0M268.6 220.2h0M257.9 236.0h0M280.5 227.1h0M280.3 229.2h0M274.5 234.4h0M278.3 231.7h0M268.2 219.7h0M278.4 210.3h0M258.9 233.2h0M262.6 226.3h0M274.0 236.6h0M276.6 234.9h0M283.7 223.1h0M265.5 222.5h0M279.0 237.2h0M263.2 226.5h0M267.3 242.8h0M267.4 242.7h0M263.1 227.6h0M270.6 239.5h0M279.0 231.0h0M257.9 238.0h0M271.1 240.2h0" stroke="#f7b89c" stroke-width="1.20" stroke-linecap="round"/>
<path d="M256.3 235.1h0M263.1 224.1h0M278.0 234.8h0M271.8 214.9h0M259.7 227.2h0M258.9 235.4h0M258.7 240.7h0M271.5 244.1h0M276.3 210.3h0M266.2 221.5h0M270.8 243.5h0M284.3 240.6h0M274.0 238.8h0M276.0 240.6h0M277.6 238.8h0M280.9 236.0h0M274.7 242.6h0M282.5 227.1h0M276.1 235.9h0M283.1 224.7h0M261.5 243.3h0M280.3 235.6h0M262.1 225.1h0M278.8 232.0h0M266.1 219.1h0M273.9 213.1h0M277.9 231.4h0M273.8 213.5h0M276.1 239.8h0M269.2 217.4h0M280.9 232.5h0M260.9 231.2h0M284.2 224.5h0M271.6 241.6h0M256.0 237.4h0M257.4 233.7h0M280.4 238.8h0M282.5 225.2h0M262.3 224.7h0M280.0 235.7h0M256.8 233.1h0M281.6 239.1h0M281.4 237.8h0M279.9 241.6h0M257.6 226.5h0M269.6 242.7h0M269.4 244.0h0M280.4 227.6h0M281.6 235.0h0M278.4 240.6h0M261.3 229.6h0M282.6 236.1h0M273.3 213.3h0M283.7 230.5h0M276.8 236.3h0M279.8 234.9h0M276.9 231.8h0M268.1 219.9h0M278.5 233.8h0M279.5 237.9h0M274.7 237.7h0M281.3 229.0h0M283.7 240.9h0M269.4 243.2h0M282.5 224.2h0M274.2 211.5h0M281.6 240.0h0M276.6 210.1h0M269.5 242.5h0M258.1 238.4h0M284.0 232.9h0M279.4 237.2h0M272.6 210.9h0M265.5 225.5h0M275.5 236.0h0M274.8 233.5h0M278.3 234.5h0M257.0 226.1h0M260.4 228.4h0M279.8 228.7h0M281.8 225.5h0" stroke="#f5a081" stroke-width="1.20" stroke-linecap="round"/>
<path d="M256.9 231.3h0M264.7 220.2h0M259.0 225.3h0M282.7 238.2h0M281.4 241.2h0M278.9 240.2h0M274.2 243.7h0M254.0 238.4h0M283.1 240.5h0M255.6 234.5h0M270.9 243.3h0M267.6 219.0h0M250.4 231.5h0M282.5 243.9h0M273.3 211.1h0M268.3 213.5h0M282.0 230.3h0M281.1 232.8h0M266.5 220.0h0M268.5 217.8h0M284.4 240.8h0M272.1 213.4h0M252.8 233.3h0M258.0 234.3h0M278.1 238.5h0M276.0 238.6h0M258.1 226.8h0M284.6 233.9h0M258.8 242.8h0M259.2 223.5h0M281.3 231.6h0M259.0 226.1h0M272.2 214.4h0M283.6 235.4h0M263.2 223.3h0M258.1 230.0h0M271.9 211.0h0M271.0 242.5h0M256.9 243.6h0M257.1 231.1h0M262.8 219.4h0M256.7 225.7h0M255.6 243.7h0M262.5 221.9h0M254.3 239.5h0M256.7 231.1h0M282.7 238.8h0M282.7 240.8h0M283.9 227.2h0M270.0 216.9h0M281.7 230.2h0M268.1 215.9h0M270.7 216.3h0M275.2 243.7h0M282.3 239.8h0M282.9 237.6h0M282.1 237.1h0M256.6 226.8h0M283.4 223.5h0M283.3 241.6h0M281.4 231.3h0M280.7 232.4h0M259.4 222.5h0M276.9 241.8h0M277.4 240.1h0M255.3 233.9h0M284.3 232.6h0M279.5 243.0h0M267.8 219.3h0M281.7 228.4h0M255.4 230.3h0M283.1 229.2h0M274.5 209.9h0M254.4 242.5h0M261.0 243.9h0M257.3 234.2h0M255.4 237.8h0M255.9 241.3h0M265.7 220.7h0M280.3 241.1h0M256.2 241.4h0M262.3 223.9h0M283.2 229.2h0M281.9 238.6h0M279.4 236.0h0M255.8 227.5h0M282.5 233.5h0M281.5 238.8h0M276.1 209.4h0M255.8 241.0h0" stroke="#ee8468" stroke-width="1.20" stroke-linecap="round"/>
<path d="M254.6 229.5h0M261.4 222.3h0M253.4 237.8h0M255.1 215.5h0M274.0 243.9h0M255.7 224.2h0M268.4 218.8h0M251.2 231.2h0M282.3 232.4h0M254.0 238.0h0M254.3 234.3h0M268.3 214.6h0M254.7 243.6h0M255.6 236.7h0M256.0 230.6h0M256.3 223.4h0M284.4 241.5h0M256.5 225.3h0M268.8 215.2h0M254.7 226.1h0M255.2 236.6h0M263.4 221.0h0M255.6 230.7h0M283.3 243.3h0M254.7 228.6h0M258.4 228.7h0M282.4 238.8h0M283.1 238.9h0M261.2 220.1h0M261.3 217.8h0M277.0 240.1h0M249.5 234.6h0M252.2 223.1h0M266.4 217.7h0M255.1 240.2h0M256.5 232.4h0M258.3 216.5h0M266.5 220.9h0M263.7 210.0h0M280.5 243.3h0M253.9 235.1h0M271.5 210.6h0M254.5 234.9h0M264.4 213.5h0M253.6 235.5h0M266.9 215.8h0M253.7 236.5h0M268.1 211.8h0M256.4 223.2h0M284.3 232.4h0M259.6 221.5h0M283.6 231.7h0M258.4 226.0h0M249.8 243.5h0M254.1 234.3h0M260.4 216.2h0M266.0 209.2h0M260.6 215.0h0M260.7 211.5h0M254.7 223.4h0M283.6 229.8h0M261.1 222.6h0M256.9 222.8h0M283.6 241.4h0M253.5 239.5h0M277.5 243.7h0M266.3 216.3h0M258.7 226.1h0M269.5 215.7h0M257.2 229.9h0M256.0 223.5h0M255.4 241.9h0M254.6 241.7h0M253.8 209.9h0M284.2 242.4h0M252.8 233.0h0M271.5 212.6h0M262.8 220.9h0M282.0 232.9h0M251.8 234.6h0M254.4 235.2h0M264.0 218.4h0M255.5 225.4h0M271.9 210.0h0M264.9 217.1h0M256.3 241.9h0M259.8 221.3h0M269.7 214.0h0" stroke="#e0654f" stroke-width="1.20" stroke-linecap="round"/>
<path d="M259.0 218.0h0M252.2 223.9h0M260.4 214.2h0M263.4 209.9h0M254.1 226.9h0M265.2 209.8h0M262.3 215.7h0M259.6 213.3h0M255.8 216.2h0M249.9 229.0h0M251.9 243.5h0M258.0 223.4h0M249.9 234.4h0M254.2 242.5h0M257.0 219.9h0M265.7 214.3h0M250.8 232.7h0M250.4 211.1h0M256.5 214.9h0M252.6 243.4h0M251.9 228.6h0M256.0 226.4h0M265.3 210.4h0M256.9 225.3h0M250.1 231.5h0M257.0 221.0h0M252.0 235.5h0M253.6 240.8h0M254.6 218.3h0M254.0 232.2h0M250.8 235.9h0M252.1 225.9h0M251.9 231.2h0M250.5 226.4h0M257.0 219.4h0M252.2 224.9h0M267.9 215.9h0M263.8 218.4h0M251.3 219.7h0M250.3 210.2h0M256.6 222.0h0M251.2 239.9h0M253.0 242.5h0M260.1 217.8h0M251.6 232.2h0M257.3 220.8h0M251.2 233.6h0M254.5 215.5h0M263.6 216.3h0M254.1 219.9h0M269.2 209.1h0M252.8 226.0h0M264.6 219.3h0M266.8 213.7h0M252.7 222.5h0M249.7 211.9h0M251.6 228.4h0M283.0 243.2h0M250.6 235.1h0M259.6 211.7h0M268.4 211.6h0M253.3 237.4h0M250.3 229.9h0M271.1 210.6h0M253.5 223.8h0M263.2 210.7h0M260.1 217.4h0M255.9 222.6h0M259.3 219.6h0M259.9 221.7h0M250.2 230.4h0M272.5 209.1h0M263.5 212.4h0M259.2 220.8h0M258.1 220.2h0M259.5 221.3h0M251.1 225.5h0M264.9 218.3h0M255.2 211.9h0M266.3 212.3h0M249.9 241.3h0M249.8 238.3h0M256.7 209.3h0M261.4 214.4h0M259.9 221.8h0M253.9 217.5h0M251.6 238.2h0" stroke="#cc403a" stroke-width="1.20" stroke-linecap="round"/>
<path d="M254.2 243.7h0M262.5 214.9h0M250.7 223.6h0M258.5 214.7h0M256.8 210.0h0M254.0 227.1h0M254.9 220.3h0M253.4 218.2h0M249.6 243.2h0M250.4 214.6h0M257.1 218.3h0M251.7 221.1h0M253.7 218.4h0M265.3 215.0h0M253.6 239.5h0M261.1 217.7h0M250.7 227.7h0M255.9 210.8h0M253.3 218.1h0M262.4 215.0h0M262.1 213.6h0M251.8 215.3h0M250.6 209.8h0M252.9 212.8h0M254.1 220.4h0M267.3 210.2h0M250.0 211.6h0M250.7 213.3h0M256.9 219.8h0M258.3 222.7h0M256.1 216.3h0M252.5 229.0h0M264.8 218.4h0M249.6 223.2h0M249.4 212.9h0M250.4 212.5h0M249.8 221.4h0M250.5 216.3h0M258.9 211.9h0M258.7 209.5h0M259.3 211.3h0M265.8 213.8h0M265.0 217.2h0M250.1 213.9h0M263.3 209.7h0M260.3 210.8h0M256.5 214.6h0M249.5 225.0h0M252.2 229.9h0M265.7 212.7h0M253.0 224.1h0M249.6 240.1h0M252.0 215.5h0M252.4 221.8h0M258.5 217.0h0M267.9 214.9h0M250.2 221.0h0M252.0 235.4h0M265.6 210.6h0M263.4 215.4h0M268.0 212.7h0M253.6 209.5h0M251.8 233.9h0M256.6 217.2h0M259.4 213.2h0M256.3 211.3h0M254.9 218.6h0M250.8 241.1h0M258.3 211.7h0M256.6 215.2h0M252.1 214.6h0M252.7 210.2h0M252.2 221.8h0M252.7 230.8h0M250.2 224.4h0M255.2 215.4h0M251.6 213.2h0M256.4 224.7h0M249.8 223.4h0M250.0 220.2h0M254.7 219.1h0M253.7 212.7h0M264.8 211.0h0M254.9 211.1h0M261.6 212.4h0M254.9 212.7h0M256.7 212.3h0M252.6 230.8h0M264.1 212.9h0M264.7 210.9h0M251.2 222.9h0M254.5 229.7h0M251.3 223.3h0M266.5 210.3h0M250.1 224.3h0M250.7 235.8h0M256.5 211.8h0M251.6 210.3h0M253.0 213.6h0M252.9 213.5h0M252.5 238.3h0M257.6 213.2h0M250.1 230.9h0M255.5 219.6h0" stroke="#b40426" stroke-width="1.20" stroke-linecap="round"/>
<path d="M317.1 220.4h0M296.5 218.4h0M290.1 220.6h0M298.9 214.0h0M319.5 217.3h0M317.1 220.5h0M289.2 216.6h0M291.7 216.9h0M293.6 215.6h0M320.9 215.2h0" stroke="#3b4cc0" stroke-width="1.20" stroke-linecap="round"/>
<path d="M297.3 217.9h0M296.6 216.4h0M319.8 216.3h0M296.0 212.9h0M315.7 220.3h0M321.6 213.6h0M292.4 210.1h0M290.2 218.3h0M291.1 213.8h0M287.9 218.9h0M289.9 215.8h0M322.6 212.1h0M313.8 222.6h0M298.1 219.2h0M295.6 216.9h0M319.4 217.8h0M309.3 226.1h0M295.4 216.6h0M293.7 215.3h0M292.8 221.9h0M300.0 221.6h0M290.0 212.8h0M299.6 212.5h0M294.8 209.7h0M306.9 226.4h0M295.3 214.3h0M291.6 219.4h0M295.5 211.8h0M321.9 213.8h0M294.1 219.2h0M317.2 221.0h0M317.5 218.8h0M303.8 224.5h0M314.6 220.8h0M296.3 218.5h0M299.5 214.9h0M293.5 209.9h0M295.3 216.0h0M293.8 210.5h0M298.3 223.1h0M290.8 212.9h0M303.6 223.7h0M296.4 219.3h0M301.7 221.9h0M296.8 219.1h0M289.8 211.3h0" stroke="#4f69d9" stroke-width="1.20" stroke-linecap="round"/>
<path d="M297.7 215.8h0M295.1 220.4h0M315.9 222.6h0M296.8 221.1h0M308.5 226.3h0M296.8 219.1h0M298.3 219.1h0M295.7 219.4h0M294.7 215.4h0M313.3 221.3h0M291.4 212.3h0M319.9 214.3h0M304.6 225.8h0M316.8 218.7h0M300.0 209.2h0M297.6 222.1h0M292.2 218.7h0M303.6 223.7h0M300.1 222.5h0M288.8 212.9h0M290.1 213.3h0M289.5 218.8h0M294.3 218.9h0M293.5 211.1h0M288.6 221.2h0M291.8 219.5h0M295.0 218.8h0M300.1 216.3h0M298.4 214.4h0M297.4 213.7h0M316.1 220.6h0M293.0 219.1h0M290.0 216.5h0M291.3 213.3h0M289.3 215.6h0M293.8 221.7h0M292.8 214.3h0M298.3 218.1h0M288.9 220.3h0M298.9 210.1h0M289.8 220.6h0M295.8 222.0h0M294.7 213.4h0M300.1 209.4h0M292.9 219.6h0M302.5 221.8h0M292.3 219.0h0M307.9 225.9h0M310.1 223.5h0M292.6 210.7h0M294.8 211.9h0M298.3 214.7h0M298.2 212.3h0M296.2 220.9h0M288.5 218.3h0M296.3 222.6h0M321.2 216.1h0M312.2 224.4h0M299.3 214.9h0M293.7 218.4h0M298.9 218.5h0M295.3 211.1h0M294.3 210.3h0M292.1 217.2h0" stroke="#6485ec" stroke-width="1.20" stroke-linecap="round"/>
<path d="M322.8 213.6h0M306.7 225.0h0M295.8 215.1h0M292.4 213.5h0M291.6 220.7h0M295.0 213.2h0M314.7 220.9h0M294.3 218.3h0M294.0 219.0h0M311.9 222.7h0M308.2 224.9h0M294.1 218.9h0M321.4 216.5h0M299.0 211.0h0M298.3 215.8h0M306.9 227.5h0M311.6 225.8h0M297.3 210.4h0M312.2 224.4h0M305.0 225.8h0M288.2 212.2h0M293.1 218.1h0M292.5 209.6h0M294.7 210.2h0M294.3 213.0h0M314.5 223.5h0M290.1 220.9h0M311.1 223.0h0M315.6 219.0h0M294.1 216.4h0M289.7 222.7h0M296.9 212.8h0M296.1 214.1h0M290.9 218.3h0M289.5 212.3h0M292.2 222.9h0M288.8 221.6h0M316.9 218.1h0M299.6 211.7h0M292.6 214.8h0M297.0 219.5h0M321.0 212.7h0M294.5 217.6h0M290.2 211.6h0M297.2 216.7h0M301.2 221.2h0M295.2 223.0h0M295.9 215.3h0" stroke="#7b9ff9" stroke-width="1.20" stroke-linecap="round"/>
<path d="M322.5 211.1h0M316.9 218.4h0M302.9 221.9h0M304.2 222.2h0M316.1 219.8h0M315.5 224.2h0M300.9 224.2h0M314.2 224.1h0M305.9 226.6h0M322.2 211.1h0M311.9 225.8h0M314.1 220.9h0M309.7 226.5h0M323.0 210.5h0M317.8 223.0h0M313.6 220.2h0M322.2 215.7h0M313.7 224.3h0M317.6 216.5h0M310.9 227.0h0M294.7 214.8h0M306.4 227.9h0M318.8 221.4h0M307.5 228.4h0M305.5 226.9h0M318.8 220.3h0" stroke="#93b5fe" stroke-width="1.20" stroke-linecap="round"/>
<path d="M322.2 217.0h0M304.9 223.1h0M316.2 217.6h0M311.9 220.6h0M304.8 221.4h0M307.1 223.5h0M305.1 223.0h0M322.8 210.0h0M317.0 216.2h0M320.0 221.6h0M319.6 212.1h0M310.3 222.9h0M304.3 221.9h0M302.6 221.3h0M315.2 217.0h0M301.0 218.7h0M321.0 218.6h0M318.7 221.4h0M305.2 222.2h0M306.1 223.8h0M304.5 221.7h0M302.6 220.2h0M315.3 217.4h0M302.1 220.0h0M309.8 227.9h0M302.6 219.9h0M306.0 228.5h0M308.6 228.0h0M317.8 222.8h0M320.5 213.0h0M321.4 216.8h0M317.1 215.0h0" stroke="#aac7fd" stroke-width="1.20" stroke-linecap="round"/>
<path d="M303.9 220.8h0M318.0 223.1h0M307.9 223.4h0M322.0 210.5h0M319.8 222.2h0M317.5 223.8h0M315.4 226.0h0M316.6 215.1h0M322.6 210.0h0M311.5 226.7h0M299.9 223.8h0M299.7 224.1h0M322.1 210.9h0M317.8 213.4h0M312.6 219.5h0M305.9 221.7h0M310.1 227.6h0M313.8 219.6h0M303.9 219.2h0M320.5 211.9h0M319.3 221.7h0M311.2 228.4h0M306.5 229.3h0M313.1 219.2h0" stroke="#c0d4f5" stroke-width="1.20" stroke-linecap="round"/>
<path d="M315.5 225.1h0M302.4 219.1h0M306.6 221.5h0M309.9 220.4h0M318.6 211.7h0M302.2 218.7h0M302.2 218.4h0M313.3 217.5h0M303.8 218.6h0M318.0 223.7h0M316.0 225.7h0M312.6 218.5h0M303.3 217.9h0M316.7 224.6h0M318.8 223.7h0M314.4 216.7h0M321.4 209.9h0M302.0 217.9h0M308.3 221.3h0M318.7 223.4h0M310.6 220.3h0M314.2 216.6h0M318.3 212.7h0M302.2 218.6h0M307.9 229.8h0M310.9 220.2h0" stroke="#d4dbe6" stroke-width="1.20" stroke-linecap="round"/>
<path d="M302.6 227.7h0M306.5 220.8h0M314.2 216.0h0M306.6 219.4h0M310.3 215.2h0M313.1 227.5h0M300.1 223.4h0M320.0 221.8h0M317.1 211.9h0M298.0 225.1h0M306.4 221.1h0M313.3 213.3h0M322.8 219.5h0M318.8 223.7h0M305.4 219.4h0M308.4 219.3h0M318.2 212.8h0M314.2 215.9h0M321.6 220.5h0M305.3 219.4h0M310.6 217.4h0M306.2 222.3h0M316.1 214.2h0M312.1 215.3h0M310.9 220.8h0M314.3 214.8h0M311.6 216.0h0" stroke="#e5d8d1" stroke-width="1.20" stroke-linecap="round"/>
<path d="M317.9 210.9h0M316.6 212.1h0M300.7 215.7h0M312.6 213.5h0M309.6 217.4h0M309.7 230.0h0M317.0 226.2h0M306.5 230.8h0M313.2 227.5h0M312.9 214.5h0M319.0 210.2h0M311.7 217.0h0M311.1 229.7h0M317.6 211.2h0M315.6 212.0h0M312.6 212.5h0M319.0 224.6h0M307.6 218.6h0M316.2 227.3h0M305.2 219.9h0M313.7 212.0h0M304.3 214.5h0M296.6 224.3h0M311.6 212.7h0M302.2 228.7h0M306.9 222.1h0M306.3 219.2h0M313.7 212.3h0M306.2 230.3h0M305.5 216.2h0M307.8 214.1h0M311.6 215.7h0M309.5 231.5h0M303.5 215.4h0M298.7 225.8h0M322.8 219.2h0M311.5 229.1h0M321.0 221.4h0M318.0 212.3h0M320.8 223.2h0M301.5 226.7h0M302.1 227.4h0" stroke="#f2cbb7" stroke-width="1.20" stroke-linecap="round"/>
<path d="M301.2 228.4h0M313.6 210.2h0M304.3 230.8h0M314.7 231.9h0M307.7 218.2h0M307.3 213.2h0M305.0 217.1h0M321.0 223.9h0M303.3 215.8h0M308.6 214.8h0M305.0 214.4h0M304.2 215.0h0M318.7 209.1h0M319.8 226.6h0M303.3 214.0h0M321.2 224.3h0M296.1 223.6h0M314.0 210.1h0M304.2 216.2h0M314.8 213.1h0M312.6 229.1h0M315.8 227.2h0M302.3 214.4h0M317.6 230.6h0M308.5 216.4h0M297.2 224.3h0M304.9 217.4h0M313.5 232.1h0M318.4 226.4h0M300.2 213.4h0M302.2 214.7h0M316.7 234.2h0M307.2 231.7h0M306.7 231.6h0M303.0 229.9h0M302.6 215.7h0M307.3 214.8h0M307.2 232.0h0M314.0 212.0h0M312.6 211.6h0M305.7 214.8h0M299.4 226.5h0M317.0 227.5h0M318.5 227.7h0M304.4 230.5h0M309.9 233.1h0M313.2 209.8h0M305.7 231.2h0M309.1 211.9h0M307.5 210.8h0M302.6 229.8h0" stroke="#f7b89c" stroke-width="1.20" stroke-linecap="round"/>
<path d="M304.9 210.9h0M306.9 214.3h0M315.4 229.7h0M306.9 214.8h0M298.3 226.6h0M304.9 230.5h0M311.3 230.4h0M313.9 233.6h0M301.7 213.1h0M311.0 232.9h0M321.4 225.0h0M314.0 210.0h0M317.5 231.5h0M316.1 230.0h0M320.2 235.1h0M309.8 211.7h0M319.2 229.1h0M310.7 231.8h0M296.5 226.8h0M299.9 228.1h0M314.3 239.7h0M301.8 229.8h0M320.5 226.2h0M314.2 211.9h0M315.1 235.6h0M317.6 236.8h0M321.5 223.2h0M319.3 230.2h0M303.3 231.2h0M308.3 232.7h0M320.5 225.2h0M307.2 218.9h0M315.6 231.9h0M313.0 209.4h0M307.6 214.6h0M308.8 214.2h0M309.0 211.5h0M299.2 228.2h0M316.5 237.2h0M320.1 238.5h0M305.2 211.5h0M317.9 227.0h0M307.8 232.5h0M317.6 228.6h0M307.9 219.4h0M304.8 213.5h0M311.3 236.9h0M309.8 211.3h0M300.9 228.3h0M312.3 232.5h0M302.4 230.6h0" stroke="#f5a081" stroke-width="1.20" stroke-linecap="round"/>
<path d="M314.7 235.0h0M320.7 233.3h0M320.8 231.6h0M306.0 211.6h0M301.8 212.1h0M304.2 212.5h0M297.4 226.7h0M321.4 235.3h0M319.6 231.6h0M313.3 236.6h0M315.5 235.9h0M322.3 237.6h0M300.5 230.7h0M297.0 226.8h0M321.8 228.9h0M312.8 240.5h0M315.6 232.4h0M305.1 214.1h0M308.1 213.0h0M319.7 233.2h0M310.1 209.3h0M317.6 236.3h0M312.8 238.5h0M306.1 211.7h0M316.4 234.0h0M308.4 233.5h0M293.0 226.7h0M306.8 235.1h0M303.3 212.0h0M320.0 236.0h0M308.1 234.3h0M314.9 237.1h0M309.1 209.5h0M302.0 229.1h0M316.4 228.9h0M321.7 225.8h0M306.6 209.6h0M314.9 229.7h0M318.4 227.6h0M322.1 227.0h0M306.3 214.3h0M318.3 229.8h0M303.0 233.6h0M321.3 224.6h0M308.8 210.0h0M314.0 234.2h0M314.9 239.3h0M306.7 213.2h0M309.1 234.1h0M313.9 233.2h0M313.5 235.3h0M317.1 234.1h0M316.9 235.7h0M307.2 212.8h0M321.2 234.7h0M307.6 235.4h0M311.2 237.3h0M319.5 239.2h0M313.0 231.9h0M314.6 234.6h0M302.0 229.6h0M314.0 234.1h0M322.0 231.4h0M322.7 228.8h0M322.4 225.5h0M321.2 229.4h0M303.9 233.5h0M311.4 238.2h0M305.9 233.3h0M315.6 232.8h0M299.2 228.8h0M302.4 230.9h0M300.0 229.1h0M316.3 233.9h0M314.9 236.0h0M303.0 236.2h0M302.1 229.7h0M312.9 238.2h0M311.0 209.5h0" stroke="#ee8468" stroke-width="1.20" stroke-linecap="round"/>
<path d="M300.2 240.3h0M292.8 228.5h0M320.5 233.0h0M311.7 234.7h0M316.9 238.3h0M321.5 235.2h0M293.9 224.3h0M306.4 212.2h0M319.7 229.0h0M319.6 237.2h0M290.2 224.5h0M320.6 229.8h0M305.3 235.8h0M288.2 223.4h0M311.2 235.9h0M310.6 237.6h0M308.1 242.5h0M320.1 238.4h0M308.9 235.2h0M311.9 238.3h0M319.6 232.0h0M302.9 234.0h0M296.7 227.7h0M309.5 232.9h0M321.0 230.8h0M321.1 229.2h0M314.1 235.7h0M289.2 232.2h0M316.2 241.8h0M313.5 238.9h0M320.7 239.2h0M310.0 238.1h0M315.7 231.9h0M320.8 232.8h0M301.5 237.3h0M296.0 230.6h0M302.2 209.3h0M301.0 211.3h0M319.3 240.6h0M297.7 238.6h0M298.5 230.2h0M315.0 231.6h0M307.0 236.7h0M322.2 226.6h0M315.5 239.4h0M303.1 234.3h0M290.0 225.8h0M302.3 233.3h0M306.6 210.8h0M301.2 211.6h0M311.5 238.9h0M301.2 210.1h0M297.4 230.6h0M320.1 229.5h0M289.6 231.6h0M300.4 232.8h0M307.2 242.6h0M298.1 228.7h0M322.7 226.2h0M303.8 235.6h0M321.6 238.4h0M315.6 236.3h0M303.5 210.1h0M315.6 230.9h0M321.2 236.2h0M294.4 226.7h0M300.9 233.1h0M309.5 209.2h0M313.8 241.6h0M316.8 241.3h0M317.9 235.3h0M304.3 210.9h0M317.3 241.4h0M298.3 232.8h0M293.7 227.0h0M300.7 231.1h0M309.8 238.5h0M299.3 230.1h0M314.7 238.2h0M306.4 234.5h0M321.3 227.7h0M293.8 224.8h0M300.6 235.0h0" stroke="#e0654f" stroke-width="1.20" stroke-linecap="round"/>
<path d="M290.5 234.8h0M304.3 242.1h0M299.6 233.0h0M293.0 228.4h0M295.0 237.9h0M291.5 225.8h0M291.2 233.7h0M289.3 232.2h0M306.6 241.3h0M305.4 237.1h0M300.6 240.8h0M294.4 226.5h0M313.6 241.4h0M295.2 239.9h0M322.4 243.7h0M291.1 230.1h0M315.3 242.9h0M299.9 233.5h0M298.6 240.2h0M299.2 238.9h0M321.8 236.8h0M315.9 237.8h0M295.1 236.0h0M298.0 233.5h0M297.1 238.5h0M312.7 243.5h0M299.5 232.1h0M297.8 233.6h0M301.1 238.8h0M289.8 232.9h0M293.4 241.0h0M322.0 231.0h0M295.0 233.5h0M312.1 240.1h0M308.0 243.7h0M296.6 235.1h0M319.6 239.8h0M294.2 238.1h0M322.3 241.4h0M323.0 235.4h0M291.1 228.6h0M301.0 243.4h0M315.9 237.0h0M322.9 227.6h0M312.7 237.8h0M299.5 241.9h0M293.5 234.7h0M321.2 243.5h0M302.3 237.7h0M289.6 236.1h0M297.9 239.7h0M315.7 243.4h0M290.7 224.7h0M309.4 236.1h0M321.9 239.6h0M311.7 242.7h0M313.6 243.9h0M300.4 239.4h0M299.0 236.5h0M307.2 242.5h0M291.4 226.9h0M317.9 239.2h0M296.8 231.0h0M295.2 238.5h0M297.5 234.4h0M290.8 224.3h0M308.3 239.0h0M295.8 239.0h0M290.2 243.3h0M296.9 243.6h0M292.6 229.7h0M294.3 239.1h0M295.5 241.7h0M292.0 243.7h0M289.2 235.8h0M299.8 236.6h0M305.3 237.7h0M311.4 238.8h0M315.0 242.4h0M306.3 238.0h0M293.5 232.1h0M288.7 236.9h0M311.7 243.2h0M294.9 239.5h0M313.9 237.8h0M288.9 223.4h0M301.4 241.1h0M318.6 239.4h0M294.0 230.5h0M316.3 239.1h0M310.9 238.6h0M291.4 227.9h0M312.0 241.2h0M291.3 233.9h0M301.1 239.8h0M290.7 244.0h0M292.9 243.0h0M298.3 238.7h0M320.0 242.8h0M288.9 236.2h0M289.4 240.9h0M296.5 232.9h0M309.8 242.1h0M317.6 241.4h0" stroke="#cc403a" stroke-width="1.20" stroke-linecap="round"/>
<path d="M289.0 232.9h0M297.9 241.8h0M295.4 238.6h0M291.2 230.6h0M302.7 237.8h0M294.9 242.6h0M309.3 243.1h0M292.9 229.2h0M292.7 242.3h0M292.0 240.9h0M299.5 237.7h0M302.1 239.9h0M306.6 237.9h0M293.0 240.5h0M294.1 242.0h0M293.8 237.2h0M291.3 241.6h0M295.5 243.1h0M308.5 239.6h0M297.7 232.1h0M300.3 241.6h0M288.7 232.9h0M291.3 235.6h0M289.9 229.2h0M306.6 239.1h0M293.0 241.8h0M295.0 239.5h0M298.1 239.5h0M302.8 238.2h0M302.4 242.7h0M288.9 228.5h0M294.7 242.0h0M307.5 241.4h0M288.7 236.0h0M296.2 242.9h0M293.0 241.7h0M300.1 243.5h0M301.5 240.8h0M288.9 236.3h0M296.5 238.3h0M291.0 231.4h0M292.3 238.2h0M290.6 231.2h0M289.5 236.6h0M289.7 233.3h0M290.3 241.1h0M297.4 239.1h0M290.4 230.3h0M294.1 240.2h0M307.0 240.0h0M322.6 243.6h0M289.5 227.7h0M289.9 231.8h0M300.5 243.1h0M305.5 240.4h0M293.9 241.8h0M289.3 239.1h0M288.0 231.6h0M291.7 241.7h0M303.2 237.8h0M290.9 230.5h0M293.8 234.1h0M307.1 244.1h0M296.8 237.8h0M298.2 242.2h0M303.6 239.3h0M300.1 240.5h0M296.7 242.0h0M306.1 236.1h0M292.6 236.4h0M290.9 242.3h0M297.0 244.1h0M291.7 238.2h0M289.1 240.0h0M305.6 240.3h0M289.9 237.4h0M299.9 243.3h0M290.4 237.4h0M293.2 242.7h0M310.1 243.4h0M318.0 241.5h0M293.4 236.1h0M303.3 240.1h0M317.0 242.7h0M302.5 240.1h0M287.9 235.5h0M304.9 244.1h0M298.7 236.7h0M303.6 243.6h0M311.0 243.0h0M293.0 242.4h0M291.5 238.4h0M304.9 243.1h0M289.4 231.4h0M294.1 237.2h0M290.0 243.7h0M299.9 240.4h0M310.1 243.0h0M303.4 240.1h0M296.4 242.0h0M296.6 236.2h0M318.7 240.9h0M288.2 229.6h0M306.4 243.3h0M297.7 237.6h0M288.4 239.2h0M288.6 231.7h0" stroke="#b40426" stroke-width="1.20" stroke-linecap="round"/>
<path d="M374.4 219.9h0M381.9 222.8h0M386.9 236.2h0M371.6 237.9h0M363.3 240.9h0M358.7 229.2h0M365.1 237.5h0M371.8 217.8h0M367.3 216.3h0M372.6 235.8h0M372.3 221.0h0M377.9 218.5h0M381.1 218.9h0M377.8 241.2h0M353.6 242.8h0M372.3 235.1h0M353.9 225.2h0M362.5 213.6h0M382.5 211.2h0M376.0 241.8h0M383.9 238.4h0M372.4 238.5h0M378.5 230.9h0M372.6 221.0h0M383.2 226.1h0M353.6 210.7h0M370.9 243.1h0M353.1 240.7h0M381.7 239.7h0M377.0 226.8h0M359.9 230.9h0M358.9 220.0h0M368.0 219.6h0M364.1 230.6h0M380.6 221.2h0M371.7 215.7h0M374.8 225.5h0M388.0 228.4h0M363.9 216.1h0M379.5 217.8h0M381.0 218.5h0M357.6 240.9h0M355.7 240.4h0M373.2 224.5h0M369.1 235.0h0M383.8 228.7h0M381.9 234.1h0M365.7 219.0h0M370.4 238.3h0M362.3 226.9h0M354.2 237.2h0M358.1 221.5h0M358.6 234.6h0M361.3 229.1h0M355.3 222.1h0M362.9 219.5h0M354.4 216.2h0M371.1 219.4h0M360.8 241.5h0M365.3 221.9h0M362.1 213.4h0M373.0 226.6h0M353.8 218.5h0M362.6 243.4h0M380.5 219.7h0M363.3 227.6h0M380.4 219.6h0M374.3 223.3h0M379.1 209.9h0M382.7 227.0h0M375.9 233.3h0M374.1 229.6h0M377.5 226.0h0M365.8 211.9h0M362.2 240.0h0M363.1 226.1h0M375.1 232.5h0M354.4 232.7h0M360.8 213.9h0M374.6 216.1h0M362.0 214.1h0M381.7 210.9h0M370.2 242.4h0M370.9 219.1h0M382.4 223.6h0M364.5 243.8h0M377.6 214.1h0M377.9 232.2h0M354.0 243.4h0M357.8 233.7h0M377.0 217.3h0M356.0 243.3h0M361.1 232.8h0M370.6 236.1h0" stroke="#3b4cc0" stroke-width="1.20" stroke-linecap="round"/>
<path d="M377.7 215.2h0M376.0 239.9h0M381.7 228.7h0M358.0 214.1h0M374.2 235.8h0M353.2 229.1h0M386.2 228.0h0M356.1 230.0h0M363.3 216.5h0M364.2 241.5h0M382.9 218.4h0M360.9 213.7h0M362.0 220.6h0M379.4 233.8h0M366.7 224.7h0M356.0 210.0h0M380.4 240.6h0M359.9 217.4h0M383.6 242.0h0M357.1 217.5h0M361.4 212.2h0M367.3 214.9h0M365.9 231.5h0M374.9 238.5h0M375.5 220.0h0M362.4 233.3h0M372.6 226.8h0M381.0 240.2h0M382.1 234.5h0M385.1 211.8h0M379.7 243.8h0M372.2 216.6h0M383.1 244.0h0M383.6 241.7h0M381.3 226.7h0M358.8 235.6h0M359.0 241.0h0M363.6 221.5h0M355.5 212.8h0M385.3 223.3h0M376.3 209.2h0M367.9 223.4h0M369.9 226.9h0M353.6 210.5h0M360.3 231.9h0M368.7 219.2h0M361.6 211.0h0M381.7 229.8h0M383.9 212.4h0M364.7 234.3h0M360.3 223.0h0M368.2 240.1h0M378.4 216.0h0M379.1 213.4h0M378.9 242.6h0M355.3 233.0h0M385.6 214.1h0M381.4 234.0h0M381.1 230.9h0M375.4 239.7h0M362.0 237.0h0M355.2 236.2h0M355.5 238.6h0M367.4 214.4h0M358.9 243.4h0M364.1 213.2h0M366.3 222.0h0M374.1 238.8h0M358.9 221.0h0M379.0 221.6h0M362.3 233.3h0M361.3 226.0h0M380.7 242.4h0M376.7 241.7h0M362.2 213.2h0M381.0 233.0h0M381.1 231.1h0M377.1 232.7h0M368.2 234.3h0M356.8 237.1h0M371.0 218.8h0M386.7 235.3h0M364.0 239.7h0M373.5 231.0h0M375.4 220.3h0M364.9 235.9h0M354.8 220.6h0M384.9 236.1h0M373.9 235.6h0M360.1 230.8h0M385.7 209.6h0M380.2 238.8h0M362.7 237.9h0M385.1 228.6h0M354.5 226.8h0M373.9 231.7h0M374.6 243.7h0M374.6 212.7h0M386.2 224.7h0M385.2 238.2h0M359.5 240.9h0M365.1 215.8h0M353.8 212.0h0M385.2 233.0h0M365.5 238.2h0M363.7 242.1h0M370.3 230.3h0M355.3 226.9h0M370.5 239.5h0M369.7 222.0h0M357.2 236.3h0M384.2 216.4h0M354.6 238.7h0M375.7 238.7h0M366.2 215.4h0M353.7 226.5h0M363.7 214.2h0M354.7 213.3h0M382.2 219.8h0M367.1 215.2h0M361.9 219.8h0M377.6 210.7h0M370.6 226.4h0M373.9 217.7h0M382.4 209.3h0M386.3 235.7h0M362.8 241.8h0M385.4 210.2h0M386.4 239.1h0M380.3 221.5h0M385.2 217.0h0M370.8 235.7h0M362.1 224.6h0M387.5 209.3h0M366.0 242.9h0M378.9 234.9h0M387.5 241.4h0M386.0 220.5h0M358.0 212.0h0M376.7 236.3h0M374.9 242.7h0M384.8 211.8h0M372.7 237.8h0M374.6 226.1h0M375.6 220.2h0M358.3 224.1h0M369.1 238.1h0M353.9 215.0h0M358.2 236.2h0M369.1 227.2h0M355.0 226.4h0M365.4 220.8h0M363.6 219.2h0M369.3 232.4h0M354.0 227.1h0M376.9 239.0h0M359.1 227.6h0M384.9 224.5h0M354.3 224.0h0M386.2 229.4h0M356.6 230.3h0M357.6 238.6h0M384.2 220.1h0M359.4 235.5h0M384.2 219.7h0M359.3 232.7h0M360.5 217.3h0M362.5 217.3h0M363.4 235.1h0M376.4 212.2h0M364.9 241.7h0M380.9 232.3h0M384.4 226.9h0M385.5 227.5h0M377.6 212.1h0M379.0 231.2h0M387.6 214.0h0M383.8 219.8h0M368.8 220.9h0M378.8 229.2h0M355.6 214.3h0M376.4 220.6h0M367.5 227.7h0M370.0 223.1h0M368.1 242.3h0M368.3 216.0h0M368.1 232.7h0M359.8 225.3h0M355.0 236.6h0M378.4 242.8h0M353.6 226.4h0M364.7 218.5h0M357.4 241.0h0M362.4 236.2h0M359.4 218.7h0M368.2 219.8h0M368.9 229.0h0M366.3 240.9h0M386.4 211.1h0M387.9 244.0h0M356.6 237.8h0M375.6 236.0h0M381.3 240.0h0M365.8 218.9h0M353.1 217.6h0M387.9 211.8h0" stroke="#445acc" stroke-width="1.20" stroke-linecap="round"/>
<path d="M355.0 221.6h0M362.6 228.6h0M382.9 226.5h0M358.2 243.3h0M366.0 217.5h0M376.8 235.6h0M381.9 233.3h0M353.3 222.0h0M359.1 236.8h0M377.0 241.3h0M381.4 214.9h0M362.1 214.1h0M367.0 238.7h0M387.3 212.0h0M372.6 212.2h0M362.8 241.0h0M364.9 231.7h0M387.0 233.2h0M360.4 218.2h0M386.8 232.5h0M369.1 226.3h0M360.4 240.7h0M381.5 230.3h0M358.4 212.5h0M353.2 231.4h0M384.8 241.6h0M378.6 212.7h0M366.4 224.1h0M364.7 234.1h0M353.2 210.9h0M366.4 222.9h0M363.8 226.2h0M357.5 232.2h0M367.4 235.0h0M381.5 211.2h0M364.2 243.9h0M372.3 240.1h0M384.4 227.4h0M356.0 239.2h0M372.3 209.1h0M360.5 217.5h0M354.1 226.9h0M367.5 232.3h0M370.7 243.5h0M372.3 239.4h0M380.9 236.8h0M371.0 239.1h0M387.2 234.2h0M361.0 227.7h0M387.9 232.7h0M355.1 228.9h0M365.3 212.4h0M387.3 210.0h0M380.6 219.8h0M358.0 228.2h0M369.5 240.3h0M362.1 235.5h0M375.1 235.1h0M381.8 215.0h0M359.3 239.9h0M385.8 210.4h0M361.3 239.8h0M375.2 214.9h0M382.5 213.2h0M359.8 210.8h0M378.4 213.0h0M358.8 232.7h0M366.2 224.2h0M353.1 218.9h0M383.9 240.2h0M373.1 243.0h0M358.3 235.9h0M354.6 210.6h0M381.8 220.0h0M381.0 211.6h0M380.7 232.9h0M379.3 225.7h0M372.3 241.7h0M358.2 222.8h0M377.4 224.7h0M383.0 242.1h0M381.2 235.5h0M368.6 235.7h0M379.4 210.7h0M377.4 217.4h0M374.1 239.5h0M371.1 216.4h0M376.0 213.9h0M382.0 232.1h0M382.8 228.0h0M387.3 229.5h0M377.2 213.3h0M371.8 237.1h0M374.5 222.7h0M366.9 233.7h0M379.0 221.3h0M362.0 216.4h0M376.6 229.4h0M380.3 216.6h0M374.0 223.4h0M359.8 232.6h0M380.6 210.5h0M361.9 210.9h0M378.0 226.8h0M373.6 230.8h0M372.6 215.8h0M385.7 220.9h0M380.7 230.1h0M363.1 239.0h0M367.9 225.7h0M360.5 222.9h0M365.3 219.5h0M387.6 239.5h0M379.8 228.0h0M361.8 227.6h0M370.9 230.8h0M381.0 223.3h0M366.8 221.3h0M357.4 234.7h0M386.2 242.3h0M353.4 223.1h0M367.5 224.2h0M366.4 243.1h0M361.5 218.9h0M382.4 216.0h0M361.3 227.2h0M370.7 242.5h0M354.9 229.9h0M375.8 230.7h0M383.3 228.3h0M381.5 240.6h0M356.9 241.0h0M381.4 226.0h0M372.4 211.2h0M371.8 213.0h0M360.4 210.0h0M360.8 229.7h0M356.2 209.2h0M367.9 233.4h0M378.5 211.2h0M363.3 217.9h0M377.6 218.1h0M363.5 220.8h0M367.0 235.9h0M371.0 209.8h0M371.7 240.7h0M381.8 227.3h0M356.2 213.4h0M372.0 237.1h0M355.3 237.8h0M372.7 238.4h0M383.9 226.0h0M358.1 243.8h0M383.2 244.0h0M356.3 233.5h0M369.3 227.4h0M353.7 237.8h0M373.5 231.2h0M388.0 234.6h0M368.5 213.0h0M364.7 212.1h0M367.5 214.1h0M357.4 209.4h0M386.1 236.3h0M358.1 231.6h0M384.7 235.9h0M364.4 216.0h0M379.6 235.1h0M376.5 223.7h0M357.3 238.1h0M366.1 214.9h0M379.2 216.1h0M359.1 241.8h0M377.5 237.5h0M357.6 232.3h0M364.0 221.1h0M367.4 223.3h0M358.7 234.0h0M386.5 238.9h0M365.9 222.4h0M375.6 211.3h0M371.3 243.7h0M373.8 221.1h0M360.7 221.4h0M386.6 211.2h0M379.8 209.9h0" stroke="#4e68d8" stroke-width="1.20" stroke-linecap="round"/>
<path d="M382.5 223.7h0M354.9 225.1h0M364.1 214.0h0M383.7 221.4h0M384.6 224.6h0M366.8 236.7h0M363.1 226.2h0M383.0 220.4h0M385.0 230.0h0M368.1 222.3h0M377.9 219.6h0M385.3 241.0h0M383.4 227.6h0M368.6 222.5h0M377.5 217.1h0M355.5 242.5h0M374.5 224.4h0M355.5 236.8h0M379.1 225.9h0M360.6 225.9h0M385.2 229.3h0M381.2 214.2h0M386.7 211.7h0M366.1 225.0h0M370.4 237.7h0M377.4 219.7h0M376.7 221.7h0M379.8 224.0h0M380.9 217.4h0M354.8 235.3h0M381.9 241.1h0M364.5 232.1h0M374.6 220.6h0M355.2 212.2h0M357.6 236.2h0M368.8 209.7h0M380.7 218.9h0M367.9 210.0h0M375.8 238.7h0M367.7 236.1h0M356.7 215.6h0M378.7 222.2h0M361.4 243.2h0M352.8 213.1h0M371.0 237.1h0M359.0 232.5h0M380.7 210.8h0M360.2 212.2h0M370.4 238.8h0M375.8 219.6h0M370.3 244.0h0M384.5 216.8h0M384.6 239.8h0M354.8 227.4h0M368.2 229.4h0M364.0 242.5h0M367.7 215.3h0M375.6 213.0h0M365.5 238.8h0M359.2 212.6h0M357.1 243.7h0M370.0 228.4h0M378.7 225.3h0M366.6 218.5h0M379.7 241.1h0M377.0 224.7h0M381.2 227.2h0M354.6 238.9h0M368.1 237.4h0M357.6 217.5h0M364.9 231.9h0M376.2 223.7h0M371.8 213.6h0M370.3 229.2h0M382.2 216.4h0M356.0 243.9h0M357.2 222.1h0M372.4 243.5h0M369.7 215.6h0M357.5 216.6h0M387.6 243.4h0M368.7 221.0h0M353.4 211.8h0M358.8 217.1h0M384.2 216.1h0M381.6 225.7h0M356.7 216.7h0M357.8 230.7h0M360.4 239.3h0M377.9 213.5h0M377.5 234.9h0M380.1 236.8h0M363.7 241.5h0M353.3 232.0h0M382.6 217.1h0M360.6 229.1h0M381.3 229.7h0M362.6 238.4h0M373.4 211.0h0M373.7 221.1h0M368.5 233.5h0M363.7 224.0h0M364.6 235.2h0M371.3 225.8h0M370.6 241.2h0M353.5 213.8h0M385.4 242.8h0M364.0 217.9h0M354.3 229.8h0M367.2 242.0h0M366.8 216.5h0M386.7 214.4h0M357.4 242.9h0M381.6 236.1h0M376.3 216.9h0M360.0 213.5h0M374.1 212.2h0M356.9 243.3h0M362.1 218.4h0M376.3 228.4h0M378.6 211.3h0M380.2 219.5h0M353.9 231.7h0M377.2 210.0h0M353.4 241.8h0M363.5 220.5h0M354.6 216.8h0" stroke="#5875e1" stroke-width="1.20" stroke-linecap="round"/>
<path d="M353.6 224.5h0M377.0 209.3h0M385.4 212.6h0M357.3 215.1h0M384.6 237.4h0M357.9 211.7h0M356.9 216.5h0M376.9 237.5h0M355.2 214.2h0M385.8 241.1h0M380.6 221.4h0M374.2 213.7h0M355.2 211.8h0M360.5 231.3h0M379.0 213.1h0M375.1 228.5h0M384.0 229.0h0M372.0 232.5h0M378.7 221.0h0M372.7 231.2h0M379.4 232.9h0M363.9 231.8h0M364.4 239.6h0M382.8 231.4h0M374.0 224.5h0M356.3 236.4h0M362.0 211.1h0M380.8 219.7h0M385.8 212.5h0M374.6 228.2h0M359.2 225.1h0M359.5 231.4h0M357.8 240.5h0M371.3 219.7h0M379.7 209.5h0M374.4 218.1h0M357.6 229.2h0M359.5 236.3h0M380.9 210.8h0M354.1 225.4h0M362.5 234.7h0M362.9 210.6h0M355.2 216.1h0M353.3 221.5h0M359.3 239.8h0M373.4 233.2h0M365.9 244.0h0M385.5 236.1h0M387.4 225.2h0M385.1 214.6h0M358.3 239.5h0M382.1 242.4h0M367.4 231.9h0M372.5 213.1h0M382.2 242.1h0M374.3 240.7h0M375.9 223.6h0M376.7 237.4h0M387.3 219.8h0M371.0 217.4h0M365.9 240.3h0M361.8 231.4h0M362.7 233.4h0M355.9 223.2h0M369.7 212.7h0M369.0 224.9h0M365.1 225.0h0M375.1 216.0h0M387.8 239.3h0M385.5 219.2h0M362.9 213.1h0M362.5 217.7h0M367.3 226.9h0M379.5 211.5h0M369.9 243.0h0M360.7 218.7h0M377.1 221.4h0M373.6 228.8h0M362.8 239.9h0M384.2 236.1h0M361.1 237.1h0M384.3 238.8h0M372.0 214.6h0M358.0 243.8h0M358.9 209.9h0M367.5 236.2h0M355.1 211.0h0M374.1 240.8h0M383.4 238.1h0M360.4 240.3h0M388.0 221.6h0M362.7 228.7h0M359.9 240.2h0M362.6 222.2h0M362.5 224.2h0M372.9 214.5h0M357.4 242.9h0M355.5 239.2h0" stroke="#6384eb" stroke-width="1.20" stroke-linecap="round"/>
<path d="M385.1 229.9h0M368.3 239.3h0M354.5 231.1h0M376.0 216.0h0M370.7 234.1h0M376.0 231.0h0M378.5 232.2h0M355.4 222.1h0M384.3 216.2h0M371.1 233.6h0M374.3 224.7h0M386.2 216.7h0M385.6 234.6h0M368.6 220.8h0M363.4 214.1h0M385.1 231.5h0M364.4 234.8h0M364.3 239.2h0M375.8 240.1h0M377.7 243.2h0M370.3 227.4h0M367.1 218.2h0M355.4 214.7h0M362.0 228.3h0M372.6 221.6h0M360.3 225.0h0M377.7 227.5h0M362.1 235.2h0M366.4 233.5h0M367.2 218.0h0M359.0 214.7h0M383.6 224.1h0M369.5 218.1h0M365.3 236.9h0M387.1 228.2h0M370.9 230.4h0M375.5 217.2h0M376.4 236.6h0M384.8 212.9h0M363.8 231.9h0M360.7 222.0h0M383.7 229.2h0M370.1 238.8h0M383.1 223.4h0M386.2 237.2h0M372.3 215.6h0M380.5 218.0h0M372.2 219.6h0M354.1 221.2h0M359.7 217.8h0M383.7 240.5h0M354.7 239.5h0M385.9 243.1h0M369.5 220.6h0" stroke="#6e90f2" stroke-width="1.20" stroke-linecap="round"/>
<path d="M356.5 238.9h0M363.1 237.3h0M355.1 241.3h0M368.5 240.4h0M358.9 229.5h0M357.1 238.3h0M359.7 237.1h0M353.7 243.5h0M380.8 218.1h0M354.5 224.2h0M372.3 240.0h0M366.0 241.5h0M387.5 215.7h0M372.9 238.8h0M363.1 244.1h0M377.5 214.0h0M386.7 236.9h0M380.2 230.0h0M363.3 234.6h0M365.3 241.5h0M376.1 235.7h0M366.4 232.6h0M385.0 220.8h0M385.1 225.7h0M379.1 236.4h0M377.5 239.5h0M367.8 237.4h0" stroke="#799cf8" stroke-width="1.20" stroke-linecap="round"/>
<path d="M378.8 224.3h0M377.9 215.6h0M383.3 216.1h0M385.4 240.9h0M355.6 243.8h0M384.3 236.5h0M387.8 226.5h0M381.8 210.8h0M366.6 223.0h0M364.2 239.8h0M356.7 237.6h0M372.2 228.7h0M353.3 229.0h0M386.7 238.8h0M357.9 213.0h0" stroke="#84a7fc" stroke-width="1.20" stroke-linecap="round"/>
<path d="M426.6 235.0h0M426.1 220.6h0M397.2 220.6h0M394.5 231.4h0M408.6 213.8h0M396.8 235.5h0M398.0 230.9h0M414.6 212.4h0M419.0 216.8h0M401.2 224.3h0M425.2 232.1h0M419.3 218.5h0M407.2 221.8h0M394.6 233.7h0M412.1 213.4h0M401.0 231.5h0M409.0 237.9h0M417.3 235.8h0M423.1 242.0h0M409.1 218.0h0M393.5 213.6h0M396.1 209.3h0M406.2 236.8h0M398.6 228.3h0M395.1 227.9h0M424.0 212.8h0M398.0 222.4h0M426.0 226.8h0M393.9 214.1h0M407.4 227.9h0M418.3 220.0h0M426.4 237.0h0M402.9 230.4h0M422.6 231.7h0M424.8 210.7h0M418.5 231.0h0M392.9 214.8h0M392.4 222.8h0M408.6 227.4h0M406.2 212.7h0M406.8 225.7h0M424.7 221.0h0M423.5 233.8h0M395.3 219.8h0M418.8 237.5h0M402.4 212.2h0M424.2 223.8h0M407.1 226.1h0M426.5 230.6h0M394.7 219.0h0M417.8 220.9h0M412.0 239.0h0M405.2 236.5h0M425.5 229.5h0M424.1 227.3h0M413.0 235.6h0M414.5 221.5h0M404.7 224.7h0M414.4 243.0h0M402.7 228.3h0M395.1 227.9h0M394.3 232.4h0M407.0 239.5h0M403.0 213.4h0M420.0 221.4h0M399.8 224.5h0M411.0 212.5h0M392.4 234.6h0M421.3 209.2h0M413.7 234.5h0M393.6 209.1h0M393.4 233.9h0M410.4 234.6h0M397.8 212.0h0M416.9 230.7h0M421.0 228.7h0M411.9 232.9h0M401.2 230.4h0M394.6 213.3h0M417.0 232.0h0M397.7 216.2h0M418.8 217.8h0M408.5 235.0h0M411.6 222.9h0M404.4 228.7h0M426.2 209.7h0M408.1 233.8h0M408.0 213.1h0M410.2 222.5h0M392.3 236.1h0M423.3 223.4h0M415.6 232.5h0M420.9 238.6h0M423.5 225.0h0M414.3 234.6h0M403.1 222.1h0M399.9 236.7h0M406.3 241.5h0M411.3 229.5h0M405.1 237.4h0M419.1 238.3h0M425.7 240.3h0" stroke="#3b4cc0" stroke-width="1.20" stroke-linecap="round"/>
<path d="M408.0 222.7h0M393.5 213.1h0M404.9 230.9h0M397.9 238.9h0M395.5 221.6h0M414.7 215.0h0M400.1 231.3h0M407.2 243.3h0M400.9 211.5h0M397.4 213.6h0M398.9 219.1h0M391.8 219.3h0M418.5 236.1h0M416.0 221.9h0M409.6 232.5h0M394.0 235.8h0M425.8 232.9h0M395.3 233.0h0M393.2 241.3h0M406.6 210.4h0M409.6 238.0h0M404.6 226.2h0M391.7 237.5h0M421.2 224.5h0M407.9 239.5h0M424.9 219.2h0M422.1 209.7h0M404.7 221.3h0M426.2 209.6h0M404.8 210.2h0M413.2 219.8h0M396.3 218.7h0M418.0 220.8h0M419.9 231.8h0M425.9 240.9h0M392.0 241.6h0M414.2 236.3h0M404.8 235.5h0M398.7 219.8h0M424.0 231.1h0M403.5 211.6h0M408.5 235.5h0M413.9 233.2h0M424.3 222.1h0M423.2 225.3h0M411.6 216.0h0M395.3 209.3h0M420.5 238.2h0M402.7 232.0h0M414.7 215.1h0M395.5 237.8h0M414.7 210.2h0M405.1 214.0h0M398.0 227.6h0M415.1 227.0h0M426.5 222.2h0M398.3 232.7h0M425.5 241.9h0M404.7 235.9h0M396.2 231.4h0M414.2 230.9h0M402.8 227.2h0M400.5 231.0h0M421.9 214.2h0M396.0 244.0h0M394.0 217.8h0M399.8 214.4h0M420.0 221.7h0M422.9 224.0h0M420.9 234.2h0M415.4 215.1h0M415.9 228.8h0M421.9 237.1h0M399.6 238.0h0M404.7 216.5h0M418.6 239.3h0M423.4 243.4h0M401.1 230.8h0M405.8 239.3h0M397.8 232.7h0M401.2 233.4h0M401.4 216.4h0M398.9 231.0h0M412.1 227.9h0M404.9 217.4h0M411.2 237.5h0M393.7 228.2h0M409.0 226.5h0M402.0 226.0h0M392.1 239.9h0M410.8 228.3h0M421.8 242.5h0M397.0 222.7h0M414.5 223.8h0M393.1 228.5h0M410.7 239.3h0M402.8 243.4h0M426.2 241.6h0M412.4 224.3h0M423.9 218.1h0M411.8 233.3h0M417.7 237.4h0M425.9 217.7h0M396.4 229.5h0M406.7 230.1h0M413.5 231.1h0M392.7 238.3h0M403.2 227.7h0M399.8 241.1h0M415.7 231.5h0M391.5 233.0h0M403.7 212.5h0M393.3 213.2h0M396.9 221.4h0M395.9 232.3h0M414.0 228.2h0M424.7 227.8h0M422.0 213.4h0M406.6 242.3h0M400.7 221.9h0M405.1 239.0h0M404.3 229.6h0M411.3 235.4h0M395.8 218.1h0M400.7 228.2h0M418.8 209.4h0M423.8 240.2h0M397.7 209.9h0M416.6 218.4h0M414.2 211.6h0M422.8 232.5h0M416.3 209.3h0M398.9 224.3h0M405.6 214.2h0M391.6 242.7h0M407.8 213.7h0M402.9 231.8h0M407.8 223.1h0M403.3 222.0h0M417.2 232.2h0M419.2 227.8h0M392.8 213.3h0M393.5 222.2h0M407.5 215.0h0M398.1 237.0h0M410.5 210.6h0M405.6 235.4h0M425.0 224.3h0M410.8 219.9h0M425.8 231.9h0M416.7 239.6h0M420.1 215.9h0M424.8 229.0h0M396.3 228.4h0M410.2 238.8h0M396.3 243.0h0M419.1 234.4h0M408.6 212.2h0M405.5 240.5h0M403.4 230.7h0M392.0 215.0h0M412.4 224.4h0M412.9 209.1h0M399.2 222.9h0M408.4 241.5h0M422.2 213.7h0M422.4 241.7h0M417.6 241.1h0M418.0 241.4h0M401.2 236.4h0M395.9 236.0h0M394.3 225.3h0M423.8 238.9h0M425.1 223.3h0M405.0 214.7h0M401.5 227.7h0M398.2 211.2h0M402.0 224.1h0M394.7 227.1h0M422.2 216.5h0M420.5 236.1h0M400.5 236.6h0M406.8 215.1h0M398.2 210.5h0M414.6 232.0h0M394.0 215.0h0M398.7 214.7h0M426.1 234.2h0M423.2 213.5h0M393.8 228.8h0M419.2 244.1h0M405.8 221.3h0M419.0 212.9h0M412.6 236.3h0M422.7 238.7h0M410.3 231.7h0M420.1 222.3h0M408.9 223.0h0M418.1 239.6h0M421.4 215.3h0M403.3 226.3h0M423.3 217.9h0M400.6 239.5h0M418.8 209.3h0M414.9 216.8h0M420.5 228.8h0" stroke="#445acc" stroke-width="1.20" stroke-linecap="round"/>
<path d="M418.6 220.3h0M425.7 220.0h0M407.0 225.0h0M422.3 212.7h0M422.1 229.7h0M392.9 224.1h0M400.1 210.1h0M412.2 234.9h0M414.8 226.0h0M403.2 221.6h0M392.9 217.7h0M426.1 243.5h0M395.5 242.3h0M404.6 225.4h0M410.0 212.4h0M392.2 235.5h0M425.5 239.4h0M404.1 239.7h0M412.1 242.0h0M413.4 216.8h0M403.7 222.9h0M405.4 237.3h0M410.7 219.8h0M396.5 220.7h0M399.7 225.8h0M411.2 243.1h0M421.3 223.2h0M395.9 236.4h0M391.9 234.5h0M420.8 214.8h0M425.2 217.9h0M406.6 241.0h0M422.0 220.7h0M395.2 223.1h0M420.8 230.1h0M426.4 221.7h0M417.8 224.3h0M402.0 209.4h0M410.5 243.0h0M418.4 239.3h0M407.0 232.1h0M391.5 236.3h0M417.5 214.3h0M394.8 215.7h0M418.6 228.5h0M413.2 237.1h0M404.6 218.7h0M410.6 224.6h0M397.7 229.2h0M394.2 231.7h0M416.5 222.8h0M411.8 239.6h0M391.9 214.7h0M410.6 221.9h0M420.1 230.5h0M414.2 225.9h0M392.3 222.5h0M409.4 243.9h0M420.6 217.0h0M420.7 242.8h0M416.7 209.4h0M394.7 226.3h0M422.7 224.1h0M398.7 232.1h0M393.3 227.6h0M419.7 223.0h0M419.8 238.7h0M400.7 238.8h0M409.8 233.2h0M392.8 210.1h0M393.7 225.8h0M413.9 237.5h0M397.1 212.0h0M422.4 235.6h0M393.0 226.4h0M418.8 213.6h0M397.3 238.1h0M415.8 226.1h0M417.5 238.0h0M421.8 229.0h0M405.0 239.2h0M391.6 236.1h0M395.5 226.4h0M404.7 236.7h0M392.6 230.1h0M410.4 218.8h0M395.9 227.1h0M407.0 218.8h0M399.1 209.8h0M400.3 213.5h0M412.9 209.6h0M418.2 227.5h0M412.4 214.1h0M404.5 218.4h0M420.5 240.3h0M412.3 227.6h0M418.1 226.7h0M397.5 237.0h0M420.8 236.4h0M399.3 212.3h0M397.7 229.4h0M423.4 216.1h0M410.5 237.9h0M415.5 229.2h0M401.1 223.2h0M404.2 229.2h0M392.7 226.0h0M414.1 226.6h0M418.9 242.3h0M396.3 229.9h0M413.9 229.0h0M416.6 233.5h0M419.3 241.5h0M392.9 229.7h0M415.5 210.0h0M417.3 212.8h0M404.3 227.8h0M407.3 218.2h0M408.8 241.2h0M418.6 240.4h0M404.6 213.1h0M396.0 242.9h0M400.0 211.2h0M426.2 237.5h0M393.6 220.0h0M405.0 242.5h0M420.3 222.6h0M405.6 236.9h0M395.8 214.8h0M426.1 210.3h0M423.3 210.3h0M391.9 225.9h0M406.4 234.1h0M410.3 218.2h0M410.3 212.9h0M423.2 223.9h0M421.6 236.8h0M411.3 242.0h0M420.6 239.4h0M416.2 237.4h0M418.9 210.6h0M416.9 217.0h0M404.6 211.4h0M411.2 222.1h0M404.3 235.8h0M412.5 210.5h0M421.0 211.6h0M396.1 233.4h0M395.6 236.7h0M398.3 234.1h0M396.0 225.1h0M424.6 238.3h0M398.9 238.9h0M409.6 223.1h0M396.9 224.3h0M408.4 211.2h0M423.5 215.8h0M414.1 216.3h0M420.3 226.5h0M394.5 231.1h0M425.8 216.5h0M405.4 230.8h0M409.6 210.8h0M421.5 210.9h0M412.0 231.0h0M425.3 241.5h0M392.8 217.9h0M394.8 237.9h0" stroke="#4e68d8" stroke-width="1.20" stroke-linecap="round"/>
<path d="M403.3 234.5h0M409.7 216.8h0M405.1 222.1h0M402.2 234.3h0M413.7 231.9h0M393.7 237.6h0M406.3 222.1h0M400.0 219.5h0M420.8 229.0h0M391.9 223.4h0M402.2 215.1h0M424.3 243.9h0M423.5 222.1h0M395.0 212.4h0M414.7 225.6h0M422.4 239.2h0M422.0 232.8h0M418.7 234.7h0M422.4 236.1h0M402.2 243.1h0M410.6 236.1h0M423.0 217.5h0M406.1 236.0h0M425.6 222.2h0M418.3 227.7h0M399.6 238.4h0M396.8 221.1h0M399.0 214.1h0M425.0 233.4h0M416.9 222.9h0M409.1 224.5h0M395.1 228.2h0M397.3 237.5h0M410.5 228.6h0M394.5 221.3h0M418.2 231.2h0M397.1 236.7h0M419.6 237.6h0M416.3 231.6h0M415.9 232.4h0M425.8 222.5h0M400.0 227.9h0M416.6 243.9h0M426.0 242.8h0M401.3 237.8h0M415.4 239.8h0M394.0 228.3h0M392.1 216.7h0M421.2 214.0h0M403.3 220.1h0M396.2 226.9h0M420.0 221.1h0M422.9 239.9h0M403.1 220.9h0M419.9 223.7h0M412.5 210.2h0M398.6 244.1h0M408.5 236.7h0M392.2 241.2h0M411.0 214.1h0M401.2 236.1h0M412.3 209.8h0M410.9 217.9h0M401.3 222.4h0M392.3 221.9h0M410.6 223.9h0M410.1 215.8h0M414.7 223.2h0M410.2 222.2h0M400.6 218.6h0M425.5 240.3h0M418.0 214.1h0M413.7 218.2h0M425.5 234.4h0M422.8 228.6h0M417.3 210.1h0M417.7 231.1h0M422.9 226.9h0M400.7 233.0h0M415.4 233.4h0M415.2 221.5h0M411.6 224.3h0M417.1 218.6h0M392.5 218.2h0M404.1 214.5h0M408.5 226.2h0M419.3 216.8h0M408.5 224.2h0M412.9 216.9h0M418.7 216.7h0M401.7 240.7h0M394.4 239.0h0M403.8 210.0h0M410.7 242.5h0M425.7 240.7h0M415.1 235.8h0M408.9 243.2h0M395.4 222.3h0M404.9 226.7h0M412.6 214.9h0M405.5 229.2h0M395.3 222.4h0M413.6 213.8h0M398.2 213.7h0M416.8 238.3h0M400.2 211.0h0M396.7 218.8h0M391.7 240.3h0M414.8 235.8h0M418.3 211.0h0M397.0 216.8h0M418.0 226.0h0M401.8 221.8h0M406.4 231.2h0M414.0 240.7h0M418.1 244.0h0M413.1 212.4h0M397.0 243.7h0M400.8 214.4h0M422.6 225.6h0M419.4 228.7h0M397.6 235.4h0M422.2 225.6h0M400.5 214.8h0M396.6 216.6h0M415.7 235.6h0M395.5 238.0h0M424.4 229.0h0M416.6 220.9h0M393.6 216.0h0M422.3 214.7h0M404.5 229.7h0M402.6 224.2h0M419.8 235.9h0M410.7 240.6h0M399.7 237.3h0M413.6 230.5h0M394.6 228.2h0M408.0 228.5h0M394.5 217.1h0M418.0 231.6h0" stroke="#5875e1" stroke-width="1.20" stroke-linecap="round"/>
<path d="M398.4 209.3h0M412.6 209.3h0M414.9 226.0h0M403.4 218.0h0M397.2 225.1h0M393.5 210.5h0M407.6 221.6h0M399.8 229.7h0M426.4 227.6h0M408.7 243.0h0M399.4 214.4h0M412.4 221.3h0M398.7 235.0h0M395.5 211.9h0M403.7 223.5h0M408.9 240.0h0M392.4 229.9h0M409.9 222.3h0M403.2 235.8h0M412.3 224.9h0M419.2 239.7h0M402.6 221.2h0M422.7 227.1h0M408.0 234.6h0M405.1 220.0h0M418.8 232.8h0M413.1 230.1h0M398.4 235.4h0M406.8 240.3h0M409.3 236.7h0M393.9 231.1h0M400.2 242.7h0M412.2 237.7h0M393.8 222.3h0M401.6 211.0h0M396.0 231.4h0M410.8 231.8h0M411.5 222.1h0M415.6 209.4h0M401.8 223.1h0M391.7 242.0h0M410.7 227.4h0M421.8 235.6h0M397.3 214.8h0M407.4 217.9h0M411.8 224.3h0M421.4 236.6h0M392.2 228.3h0M405.5 213.9h0M407.0 242.1h0M408.2 230.5h0M408.4 210.1h0M410.3 228.7h0M409.3 228.5h0M402.9 225.2h0M416.8 225.6h0M396.2 231.5h0M421.6 234.4h0M424.2 227.6h0M393.8 214.7h0M423.9 229.0h0M415.2 209.5h0M406.4 238.0h0M401.9 241.7h0M395.6 242.7h0M416.9 219.8h0M392.1 229.0h0M426.6 216.7h0M418.9 210.8h0M418.1 216.7h0M407.5 218.3h0M418.7 230.7h0M405.0 224.7h0M397.6 220.1h0M408.3 213.9h0M400.7 233.6h0M415.2 230.3h0M400.9 220.8h0M420.2 221.4h0M419.1 216.1h0M411.2 218.8h0M399.7 213.9h0M404.8 240.2h0M399.4 236.9h0M413.0 225.0h0M393.8 241.1h0M404.1 220.0h0" stroke="#6384eb" stroke-width="1.20" stroke-linecap="round"/>
<path d="M426.2 226.7h0M407.2 210.0h0M396.0 242.2h0M422.2 241.2h0M415.2 224.9h0M424.0 232.6h0M403.5 215.0h0M424.2 234.4h0M398.3 219.7h0M405.2 234.7h0M412.8 218.1h0M423.2 226.5h0M417.7 228.6h0M425.9 219.2h0M399.1 221.8h0M393.1 209.6h0M424.1 233.0h0M425.3 239.3h0M412.7 237.9h0M392.7 231.9h0M400.9 231.8h0M415.5 213.0h0M408.5 217.6h0M420.9 233.8h0M402.1 230.5h0M407.2 214.5h0M402.8 243.5h0M420.3 234.5h0M418.0 232.5h0M422.0 211.9h0M415.3 220.4h0M417.4 218.6h0M425.2 240.2h0M419.2 230.7h0M411.1 215.4h0M402.9 226.6h0M393.1 243.1h0M395.1 233.7h0M406.4 220.5h0M413.0 237.8h0M391.8 222.3h0M418.9 219.7h0M411.4 211.7h0M410.0 225.6h0M408.7 212.4h0M392.2 225.9h0M409.6 212.1h0M394.1 212.9h0M418.3 239.0h0M424.3 240.4h0M420.3 229.9h0" stroke="#6e90f2" stroke-width="1.20" stroke-linecap="round"/>
<path d="M421.6 221.8h0M394.4 229.9h0M400.8 243.2h0M398.4 225.0h0M399.7 216.8h0M394.2 209.8h0M400.8 236.3h0M418.3 235.1h0M416.6 210.0h0M400.8 216.3h0M420.4 221.6h0M422.3 210.2h0M404.1 213.0h0M425.5 215.0h0M410.0 228.1h0M417.4 218.4h0M394.3 235.2h0M391.4 214.6h0M407.1 232.9h0M394.8 209.6h0M409.0 228.7h0M394.3 218.3h0M416.6 213.1h0M419.8 229.0h0M421.8 222.5h0M426.6 237.3h0M413.1 215.7h0M397.4 238.0h0M411.8 228.4h0M416.7 243.3h0" stroke="#799cf8" stroke-width="1.20" stroke-linecap="round"/>
<path d="M407.1 236.3h0M398.4 228.3h0M426.6 222.4h0M423.6 232.4h0M416.0 220.5h0M417.6 235.1h0M400.4 231.2h0M423.9 220.9h0M408.1 223.0h0M407.4 230.9h0M421.0 219.4h0M408.6 226.8h0M407.1 238.5h0M421.6 219.0h0M414.6 236.0h0M417.0 242.6h0M416.0 241.5h0M418.5 238.9h0M402.1 215.5h0M419.4 242.1h0M420.0 239.5h0" stroke="#84a7fc" stroke-width="1.20" stroke-linecap="round"/>
<path d="M432.3 210.1h0M437.5 211.2h0M444.5 234.9h0M435.0 239.9h0M463.2 216.4h0M442.1 240.2h0M431.9 237.9h0M464.7 238.0h0M450.2 222.2h0M439.0 226.5h0M449.9 218.3h0M461.3 215.1h0M431.2 240.8h0M431.0 238.4h0M464.9 234.9h0M460.3 223.4h0M451.3 216.7h0M431.6 212.6h0M461.1 209.4h0M463.0 221.7h0M436.0 210.1h0M454.4 227.2h0M454.6 225.8h0M444.6 243.0h0M448.2 226.2h0M430.7 219.6h0M454.7 230.4h0M432.5 224.5h0M463.8 242.7h0M462.0 239.2h0M444.2 226.2h0M448.5 237.5h0M458.4 239.6h0M434.8 216.5h0M440.2 236.5h0M440.9 221.7h0M450.3 235.4h0M438.3 227.6h0M430.3 231.0h0M435.2 242.8h0M450.0 235.5h0M452.8 239.0h0M432.1 233.7h0M463.4 213.8h0M443.4 243.5h0M446.5 232.0h0M464.8 235.8h0M434.6 239.5h0M441.9 236.1h0M448.6 227.5h0M460.9 223.9h0M451.7 232.7h0M441.7 235.9h0M444.2 226.7h0M460.7 213.6h0M457.7 223.2h0M454.8 218.3h0M437.4 236.8h0M437.5 215.2h0M437.1 223.9h0M453.4 209.6h0M462.2 217.1h0M465.0 237.1h0M447.3 224.5h0M451.1 215.5h0M457.8 241.8h0M444.5 218.6h0M456.0 220.4h0M458.1 222.4h0M463.3 239.8h0M436.4 210.3h0M439.7 224.8h0M442.8 213.4h0M434.0 229.7h0M432.4 228.3h0M431.1 231.2h0M463.8 215.9h0M438.8 227.9h0M437.2 231.8h0M435.2 223.9h0M464.5 234.5h0M462.3 216.6h0M456.7 227.0h0M447.5 242.0h0M447.8 218.5h0M433.1 213.4h0M444.1 223.5h0M461.0 220.0h0M438.6 221.2h0M456.2 235.1h0M447.1 214.5h0M457.2 241.3h0M445.3 217.9h0M441.6 212.4h0M462.6 228.9h0M432.2 243.8h0M459.7 224.1h0M432.7 217.8h0M444.2 243.2h0M452.4 223.9h0M463.1 221.5h0M430.8 214.9h0M456.5 222.5h0M464.6 243.8h0M452.3 225.5h0M447.6 243.7h0M441.7 232.7h0M462.4 227.3h0M433.6 225.6h0M437.8 234.4h0M451.5 230.3h0M435.4 236.1h0M443.1 243.0h0M459.7 218.6h0M434.9 221.9h0M462.6 235.9h0" stroke="#3b4cc0" stroke-width="1.20" stroke-linecap="round"/>
<path d="M464.3 216.3h0M437.0 232.9h0M436.2 224.2h0M437.0 223.7h0M441.6 243.9h0M454.4 217.4h0M446.3 210.6h0M448.3 227.5h0M443.2 239.0h0M451.1 211.9h0M433.0 219.7h0M434.9 243.9h0M458.5 222.8h0M463.4 222.7h0M443.0 229.1h0M457.4 232.1h0M452.4 230.0h0M455.3 230.7h0M444.5 209.8h0M453.6 212.9h0M453.0 221.4h0M464.0 234.5h0M451.0 228.5h0M448.9 212.2h0M439.8 238.7h0M436.5 241.4h0M430.4 220.4h0M456.9 240.4h0M456.3 223.1h0M435.6 223.1h0M441.9 240.8h0M460.2 220.2h0M441.2 241.6h0M438.7 210.4h0M463.5 242.7h0M431.1 231.4h0M458.8 242.0h0M457.0 224.6h0M441.4 224.5h0M461.3 223.5h0M443.9 216.1h0M437.5 215.4h0M446.2 215.2h0M462.7 222.3h0M432.6 217.6h0M453.8 230.4h0M451.6 221.0h0M433.2 243.1h0M430.7 216.9h0M433.7 222.2h0M440.3 229.0h0M452.9 233.7h0M464.1 232.2h0M434.2 216.9h0M437.3 219.7h0M431.8 213.0h0M448.9 240.3h0M454.7 241.5h0M439.9 223.1h0M441.0 233.5h0M454.1 233.9h0M460.2 217.2h0M455.4 227.2h0M437.1 241.5h0M458.3 214.1h0M460.6 212.0h0M461.2 214.6h0M434.8 234.5h0M434.6 235.7h0M463.2 243.1h0M443.1 237.9h0M464.4 213.6h0M437.2 221.1h0M458.2 227.9h0M462.5 209.1h0M442.2 244.0h0M449.7 238.1h0M440.7 230.1h0M446.5 236.7h0M440.5 240.0h0M448.3 214.7h0M444.8 209.9h0M451.8 219.3h0M442.5 228.1h0M447.9 222.6h0M453.5 211.9h0M435.1 235.6h0M448.4 242.0h0M447.5 225.3h0M462.5 216.4h0M435.6 226.9h0M453.8 223.5h0M443.3 224.6h0M443.4 229.9h0M459.0 223.2h0M448.7 217.2h0M456.7 241.4h0M464.3 231.8h0M434.7 236.1h0M452.8 209.1h0M430.2 217.5h0M440.2 226.2h0M432.3 221.2h0M458.5 215.8h0M430.4 226.1h0M461.1 211.7h0M458.7 232.5h0M459.1 220.7h0M452.1 224.7h0M451.9 242.4h0M456.0 211.6h0M439.6 213.7h0M447.4 220.0h0M432.5 218.4h0M451.0 225.8h0M451.3 212.8h0M465.0 226.2h0M441.1 212.1h0M435.4 228.3h0M441.4 213.7h0M440.0 241.9h0M464.5 213.0h0M444.5 209.7h0M444.6 227.6h0M461.9 229.7h0M461.2 241.2h0M442.3 242.6h0M443.5 219.2h0M449.3 223.7h0M456.4 237.6h0M464.7 236.9h0M450.0 217.2h0M456.3 219.2h0M444.6 225.0h0M438.9 227.7h0M464.1 209.3h0M437.6 228.9h0M430.1 233.2h0M453.4 230.6h0M438.1 236.9h0M457.9 227.1h0M441.3 221.3h0M446.9 210.5h0M455.3 226.0h0M463.8 212.6h0M459.5 222.2h0M459.3 243.2h0M460.4 215.6h0M447.5 232.9h0M460.9 226.2h0M445.7 235.8h0M439.4 222.6h0M433.0 223.8h0M457.1 235.7h0M446.8 221.2h0M455.2 226.0h0M438.5 230.1h0M445.3 243.3h0M432.1 235.7h0M458.4 236.4h0M448.6 222.2h0M455.1 229.0h0M444.6 233.8h0M451.8 236.6h0M455.1 222.0h0M448.0 213.7h0M446.5 215.8h0M456.4 213.7h0M439.1 212.1h0M438.0 224.2h0M452.4 242.1h0M460.5 223.8h0M460.0 229.9h0M451.0 220.7h0M463.6 217.1h0M459.1 221.7h0M437.8 217.2h0M442.7 233.1h0M443.3 220.6h0M454.7 236.6h0M442.7 218.7h0M435.3 218.3h0M456.5 233.6h0M432.0 226.2h0M439.8 233.5h0M445.6 237.2h0" stroke="#445acc" stroke-width="1.20" stroke-linecap="round"/>
<path d="M456.9 240.9h0M440.7 224.8h0M436.7 215.1h0M463.9 233.6h0M444.3 226.3h0M433.0 219.7h0M452.3 209.7h0M447.2 222.4h0M443.9 239.6h0M444.8 220.3h0M462.7 231.2h0M435.4 228.4h0M441.9 212.3h0M464.5 212.6h0M437.4 217.2h0M443.8 234.9h0M443.0 215.7h0M444.0 240.5h0M443.9 224.3h0M449.5 211.5h0M444.2 227.3h0M437.3 238.4h0M452.8 242.6h0M442.2 231.0h0M435.4 233.4h0M452.9 234.4h0M463.6 217.3h0M451.5 238.7h0M442.2 237.9h0M441.6 230.1h0M434.5 218.5h0M460.6 216.4h0M436.0 218.8h0M441.8 211.7h0M443.9 217.2h0M440.2 232.7h0M430.8 240.6h0M445.0 213.6h0M454.9 230.1h0M455.1 227.6h0M459.4 241.5h0M462.6 221.5h0M453.7 242.3h0M435.3 241.2h0M449.1 217.9h0M451.6 216.0h0M458.4 226.3h0M433.1 234.1h0M461.6 237.5h0M447.0 218.3h0M461.3 237.2h0M441.8 214.8h0M431.3 218.1h0M437.9 242.4h0M464.8 228.5h0M464.8 219.8h0M460.2 231.2h0M431.8 215.8h0M435.6 228.6h0M447.0 228.1h0M431.9 212.8h0M435.0 242.9h0M463.2 235.3h0M438.5 224.1h0M439.3 211.6h0M461.5 210.7h0M431.2 212.1h0M446.8 209.4h0M452.4 212.9h0M456.3 214.7h0M449.6 242.7h0M432.3 235.9h0M457.5 232.2h0M446.5 212.1h0M447.9 213.9h0M431.6 228.4h0M456.2 217.8h0M448.7 210.8h0M437.4 242.3h0M453.6 229.5h0M440.1 243.7h0M440.3 229.4h0M435.7 230.1h0M463.5 221.2h0M455.9 217.7h0M463.9 231.5h0M454.9 238.7h0M439.4 227.6h0M445.6 232.7h0M440.2 212.9h0M462.6 230.3h0M439.4 236.8h0M451.8 218.7h0M460.0 227.7h0M448.6 238.2h0M456.4 241.3h0M456.5 211.1h0M442.6 227.9h0M460.4 211.9h0M436.1 235.5h0M462.0 222.1h0M461.1 214.8h0M459.1 227.1h0M435.0 226.1h0M459.2 243.9h0M462.8 243.9h0M449.6 227.6h0M449.3 211.9h0M451.2 243.6h0M431.7 224.5h0M451.9 228.6h0M452.2 221.7h0M451.8 233.0h0M458.2 211.4h0M447.9 212.7h0M447.3 225.1h0M464.2 235.5h0M435.2 236.2h0M441.7 223.1h0M444.9 241.2h0M440.3 227.0h0M430.2 242.1h0M438.3 230.2h0M446.9 229.3h0M432.0 212.5h0M448.4 223.9h0M455.6 227.8h0M436.1 234.0h0M441.8 227.4h0M437.6 241.2h0M445.5 233.0h0M457.7 219.2h0M434.3 239.7h0M451.9 222.9h0M458.3 242.5h0M456.7 213.8h0M439.4 238.4h0M451.0 241.1h0M454.7 214.5h0M450.4 216.7h0M449.0 211.4h0M440.2 220.4h0M437.1 213.7h0M451.7 212.0h0M449.7 225.9h0M460.6 242.6h0M433.4 236.3h0M436.8 228.8h0M445.0 225.3h0M440.2 227.0h0M453.6 221.3h0M454.6 212.6h0M437.9 239.5h0M447.7 217.5h0M431.0 213.4h0M443.7 212.9h0M445.0 235.2h0M452.8 211.3h0M446.9 211.3h0M449.3 228.2h0M464.7 236.2h0M458.2 220.2h0M452.2 232.6h0M433.1 228.9h0M441.8 226.5h0M460.4 209.7h0M431.6 236.6h0M444.4 233.1h0M456.5 225.9h0M452.9 238.8h0M439.4 215.3h0M461.5 231.9h0M463.8 243.4h0M462.6 232.0h0M448.2 224.8h0M439.0 235.4h0M460.1 237.0h0M432.7 211.7h0M450.2 226.9h0M463.6 235.2h0M446.0 238.3h0M436.7 230.9h0M463.6 210.5h0M456.1 226.9h0M444.3 226.4h0M454.7 216.0h0M435.9 231.3h0M454.8 216.4h0M442.2 218.0h0" stroke="#4e68d8" stroke-width="1.20" stroke-linecap="round"/>
<path d="M460.9 221.7h0M444.7 220.2h0M460.7 217.6h0M443.4 222.8h0M464.2 209.6h0M438.9 217.9h0M460.2 233.6h0M440.8 209.7h0M451.8 220.6h0M451.3 237.6h0M449.9 225.7h0M438.1 243.9h0M444.7 237.4h0M443.3 242.1h0M446.3 236.5h0M451.4 234.9h0M464.8 241.3h0M438.3 238.9h0M434.1 229.3h0M442.1 209.3h0M463.3 238.8h0M460.5 225.3h0M431.2 239.4h0M463.7 226.6h0M445.7 228.5h0M443.8 230.5h0M447.5 228.5h0M432.4 240.7h0M446.8 243.9h0M432.7 215.3h0M454.4 223.0h0M448.9 225.6h0M458.5 212.3h0M440.6 218.1h0M454.5 220.9h0M457.5 220.3h0M444.3 210.8h0M443.7 224.4h0M453.1 237.7h0M452.9 222.0h0M448.6 215.4h0M445.8 223.9h0M458.1 219.8h0M441.0 224.8h0M445.0 209.9h0M455.2 223.3h0M435.9 219.2h0M461.1 232.0h0M444.5 218.4h0M451.9 223.7h0M438.4 217.4h0M431.3 224.7h0M430.5 241.2h0M446.3 214.5h0M438.6 242.4h0M442.1 222.3h0M439.0 212.3h0M463.0 240.2h0M463.9 217.1h0M450.6 217.3h0M446.3 215.0h0M453.7 239.1h0M445.0 234.6h0M446.8 212.9h0M443.2 220.9h0M457.5 224.1h0M451.8 227.5h0M453.3 238.6h0M438.5 219.5h0M454.7 229.0h0M456.1 215.3h0M452.6 215.7h0M464.6 215.5h0M452.7 213.5h0M463.5 220.7h0M440.4 229.9h0M446.8 228.1h0M452.7 238.4h0M446.3 220.4h0M433.5 227.1h0M462.1 218.0h0M430.5 220.7h0M449.1 218.2h0M433.5 228.7h0M432.8 217.8h0M461.1 213.4h0M454.2 242.5h0M458.5 215.2h0M462.3 218.9h0M439.2 210.7h0M432.4 211.4h0M451.1 210.4h0M438.4 240.6h0M451.9 241.9h0M438.0 222.0h0M431.0 243.3h0M452.4 234.7h0M444.8 228.5h0M433.8 232.3h0M446.2 240.0h0M450.8 230.6h0M451.4 222.8h0M449.9 229.2h0M449.0 222.1h0M463.5 232.1h0M442.6 223.2h0M454.7 243.7h0M433.0 221.9h0M454.7 218.9h0M454.6 238.6h0M455.3 233.0h0M463.7 228.7h0M449.4 234.6h0M461.0 224.8h0M430.8 236.3h0M444.3 227.9h0M449.1 237.7h0M439.1 235.6h0M442.5 215.3h0M443.7 218.0h0M435.9 229.0h0M461.4 225.8h0M434.0 218.8h0" stroke="#5875e1" stroke-width="1.20" stroke-linecap="round"/>
<path d="M443.2 218.3h0M462.6 241.8h0M431.7 224.6h0M432.0 230.4h0M451.4 231.5h0M454.0 214.4h0M455.0 235.1h0M438.9 233.8h0M435.8 233.8h0M451.4 231.5h0M439.3 228.4h0M444.4 217.8h0M434.4 228.8h0M457.0 230.9h0M453.0 230.7h0M446.6 231.9h0M445.5 234.5h0M436.1 233.8h0M457.1 213.0h0M439.4 238.6h0M431.1 233.5h0M438.3 216.4h0M436.1 221.5h0M434.2 215.3h0M458.3 241.6h0M445.3 215.7h0M461.4 240.6h0M444.0 220.5h0M445.4 211.8h0M432.7 224.9h0M441.0 242.3h0M442.3 211.9h0M434.1 237.9h0M461.7 216.8h0M435.6 236.3h0M442.0 216.8h0M460.2 209.7h0M456.7 240.2h0M446.8 242.8h0M436.7 231.7h0M460.3 224.2h0M452.8 229.4h0M462.1 233.4h0M450.4 239.6h0M455.2 240.2h0M437.4 242.3h0M438.1 231.6h0M459.5 220.5h0M453.3 222.1h0M451.9 242.0h0M431.0 210.9h0M450.7 215.2h0M456.3 229.7h0M443.0 238.3h0M440.3 240.5h0M450.9 235.4h0M453.8 237.9h0M445.4 239.6h0M446.7 243.8h0M440.4 228.0h0M459.9 229.3h0M462.5 221.3h0M440.0 225.8h0M462.2 215.2h0M462.0 212.1h0M436.5 215.2h0M458.4 229.7h0M447.4 228.1h0M446.1 240.4h0M440.2 236.0h0M432.0 237.8h0M445.0 242.0h0M438.8 239.7h0M430.8 235.0h0M434.6 228.1h0M457.3 214.0h0M463.3 239.4h0M444.8 209.7h0M450.7 231.1h0M460.1 225.8h0M451.8 229.7h0M460.5 232.6h0M447.4 232.8h0M436.2 225.6h0M433.8 218.6h0M447.8 242.1h0M435.6 243.7h0M445.7 235.8h0" stroke="#6384eb" stroke-width="1.20" stroke-linecap="round"/>
<path d="M445.9 224.2h0M454.6 210.4h0M432.5 241.2h0M450.8 241.0h0M437.7 223.3h0M462.7 233.1h0M459.9 228.1h0M456.8 238.1h0M442.2 222.9h0M459.9 240.6h0M460.6 217.6h0M449.2 241.4h0M458.2 226.3h0M434.9 216.6h0M437.7 211.4h0M436.3 225.4h0M438.0 223.4h0M444.6 238.2h0M453.3 215.0h0M458.5 217.3h0M444.8 240.1h0M440.2 235.0h0M430.8 212.5h0M464.8 236.8h0M436.3 223.2h0M457.0 217.8h0M459.2 219.4h0M437.9 213.5h0M464.7 229.9h0M435.9 213.5h0M449.5 214.9h0M439.9 242.2h0M437.2 219.3h0M433.5 242.5h0M462.4 210.7h0M458.3 238.1h0M460.9 232.5h0M438.8 212.6h0M464.2 229.7h0M451.9 238.5h0M439.1 210.4h0M462.7 210.5h0M440.4 215.9h0M439.3 240.4h0M456.0 234.6h0M459.0 212.9h0M458.6 219.5h0M438.4 212.3h0M440.5 223.1h0M435.7 242.4h0M460.2 239.9h0M455.6 228.8h0M436.5 241.2h0M461.5 239.9h0M433.3 238.3h0M464.7 230.4h0M463.7 238.6h0M431.0 217.6h0M452.7 214.8h0M434.3 221.1h0M438.2 215.0h0M434.0 210.4h0M444.8 209.3h0M435.8 232.4h0" stroke="#6e90f2" stroke-width="1.20" stroke-linecap="round"/>
<path d="M445.4 216.0h0M447.8 240.8h0M451.8 233.1h0M449.4 243.7h0M447.5 211.1h0M437.6 234.1h0M457.6 213.5h0M430.1 237.6h0M462.4 220.9h0M432.7 223.1h0M443.3 235.2h0M437.5 216.6h0M456.3 211.4h0M464.0 217.5h0M460.3 231.8h0M446.6 237.6h0M436.2 226.5h0M433.3 230.0h0M455.8 221.1h0M437.5 228.1h0M455.4 229.9h0M433.9 238.8h0M441.9 238.2h0M450.5 211.9h0M436.1 212.4h0" stroke="#799cf8" stroke-width="1.20" stroke-linecap="round"/>
<path d="M460.2 219.2h0M436.4 217.7h0M450.9 215.1h0M454.0 215.8h0M444.0 237.4h0M436.1 219.6h0M464.7 237.7h0M447.3 219.0h0M442.5 219.2h0M445.1 231.4h0M456.6 221.9h0M438.5 214.5h0M464.5 229.6h0M457.5 242.1h0M443.3 229.8h0M460.1 234.0h0M440.6 240.6h0M435.5 234.3h0M436.9 214.5h0M439.3 238.4h0" stroke="#84a7fc" stroke-width="1.20" stroke-linecap="round"/>
<path d="M495.8 220.3h0M470.3 238.8h0M497.2 241.5h0M495.1 243.6h0M489.5 239.9h0M490.6 228.6h0M489.0 244.0h0M482.6 219.2h0M479.2 219.6h0M502.7 241.4h0M470.9 229.4h0M470.3 223.2h0M478.1 210.8h0M477.8 210.7h0M482.9 214.5h0M496.2 212.9h0M499.0 239.0h0M495.3 240.9h0M500.8 233.9h0M490.5 242.4h0M476.4 229.8h0M480.7 240.0h0M500.7 215.6h0M495.2 226.6h0M484.5 224.9h0M487.3 241.8h0M491.0 231.4h0M472.7 212.4h0M495.4 243.7h0M477.2 213.5h0M491.2 219.8h0M480.0 223.3h0M477.6 239.1h0M490.8 211.9h0M473.1 236.0h0M490.0 242.3h0M490.1 237.4h0M483.3 209.3h0M473.4 240.3h0M482.5 209.3h0M500.8 224.1h0M470.3 227.2h0M492.3 219.9h0M491.7 235.3h0M485.5 210.3h0M492.8 230.5h0M474.0 226.7h0M493.9 227.9h0M502.8 236.3h0M501.7 230.1h0M468.8 226.1h0M493.5 220.6h0M490.5 218.6h0M469.0 224.0h0M491.4 238.7h0M475.7 231.0h0M484.6 242.1h0M490.9 219.3h0M494.1 236.7h0M503.7 214.2h0M478.9 229.0h0M469.3 242.7h0M476.9 226.5h0M497.8 218.5h0M472.4 214.2h0M473.6 214.8h0M500.2 212.4h0M501.0 232.3h0M480.8 228.2h0M486.6 235.6h0M490.8 220.6h0M473.3 212.6h0M478.0 218.6h0M502.3 217.4h0M489.9 222.5h0M485.7 221.2h0M492.5 215.3h0M483.4 238.6h0M486.9 239.8h0M490.4 221.1h0M497.4 226.7h0M490.9 212.5h0M482.6 232.5h0M488.1 212.2h0M493.7 221.1h0M479.3 232.9h0M485.9 219.3h0M492.0 211.8h0M479.9 218.7h0M489.3 242.6h0M474.6 233.1h0M495.0 231.7h0M479.9 223.9h0M491.5 229.9h0M499.1 239.1h0M495.6 238.7h0M473.0 238.9h0M493.1 240.2h0M498.7 241.2h0M492.0 234.2h0M481.4 225.8h0M473.8 233.8h0M483.2 228.3h0M477.2 219.3h0M494.6 227.5h0M471.9 209.5h0M477.1 231.9h0M487.1 242.1h0M481.4 220.7h0" stroke="#3b4cc0" stroke-width="1.20" stroke-linecap="round"/>
<path d="M491.9 215.8h0M486.3 223.4h0M502.2 217.8h0M475.1 215.2h0M482.1 216.7h0M497.7 214.9h0M499.8 241.7h0M491.0 218.1h0M487.3 223.0h0M489.0 216.3h0M496.2 220.6h0M481.0 224.2h0M501.9 230.8h0M485.9 217.0h0M480.9 221.2h0M502.9 231.7h0M485.4 211.5h0M495.9 234.2h0M486.3 224.1h0M483.6 236.1h0M497.4 229.5h0M491.3 240.4h0M480.7 215.1h0M478.6 223.6h0M490.9 233.2h0M475.9 241.1h0M501.0 214.1h0M475.9 243.7h0M498.3 221.4h0M478.2 238.4h0M498.1 229.6h0M482.1 233.5h0M477.6 235.1h0M499.6 227.3h0M481.1 218.2h0M470.6 225.9h0M499.3 235.2h0M495.0 240.9h0M497.5 242.4h0M501.6 210.1h0M485.3 211.7h0M501.2 243.7h0M485.2 241.7h0M490.9 222.4h0M472.3 239.7h0M475.6 210.4h0M469.5 241.7h0M475.5 212.0h0M478.7 239.3h0M478.9 243.5h0M499.3 217.5h0M476.1 235.9h0M491.3 240.0h0M470.1 216.7h0M480.2 223.1h0M500.7 219.8h0M498.5 224.3h0M480.6 228.7h0M496.2 243.0h0M474.3 214.8h0M492.6 231.4h0M487.8 239.8h0M489.6 238.5h0M503.7 226.4h0M475.6 210.4h0M485.4 231.1h0M477.5 240.2h0M469.2 225.0h0M497.6 226.5h0M496.0 242.7h0M481.5 241.2h0M495.3 239.2h0M476.2 229.4h0M483.9 237.6h0M487.9 216.4h0M495.7 236.8h0M480.1 230.9h0M484.1 235.2h0M491.1 223.2h0M500.9 211.5h0M474.4 227.8h0M494.8 229.3h0M481.5 224.9h0M483.3 235.4h0M500.9 211.4h0M476.9 216.5h0M502.3 216.4h0M497.5 232.5h0M497.7 210.5h0M471.9 230.2h0M499.7 243.3h0M480.1 216.1h0M502.7 209.9h0M469.2 224.6h0M477.6 219.1h0M478.2 222.4h0M485.6 228.3h0M485.8 214.5h0M471.3 226.8h0M493.9 229.6h0M471.3 209.4h0M485.2 242.2h0M498.1 223.0h0M482.9 239.1h0M491.3 218.8h0M493.0 222.3h0M496.5 226.7h0M493.7 221.8h0M488.7 219.7h0M496.0 219.0h0M486.7 213.3h0M477.8 228.7h0M498.9 222.1h0M471.2 217.0h0M492.3 225.8h0M473.5 231.8h0M488.9 214.7h0M473.5 224.3h0M492.4 226.4h0M490.7 214.4h0M478.2 240.7h0M481.0 212.0h0M499.8 221.5h0M480.5 228.7h0M487.9 210.0h0M474.8 210.8h0M471.3 227.9h0M474.2 233.6h0M478.0 225.7h0M488.7 215.5h0M482.6 237.3h0M497.3 227.7h0M473.0 238.3h0M478.2 243.1h0M501.0 240.6h0M487.7 242.8h0M485.9 241.7h0M488.6 216.4h0M475.9 238.2h0M469.4 236.9h0M478.8 230.3h0M500.2 233.6h0M486.8 236.4h0M492.0 214.7h0M469.6 217.7h0M493.8 209.5h0M482.5 216.1h0M497.4 229.9h0M485.8 235.7h0M503.6 233.4h0M495.0 215.4h0M487.8 209.7h0M476.2 244.1h0M483.6 233.4h0M482.0 228.6h0M494.9 241.8h0M499.1 219.7h0M491.0 225.6h0M492.2 239.8h0M502.8 225.2h0M487.8 229.1h0M481.2 209.6h0M479.9 212.8h0M499.3 237.2h0M501.0 225.6h0M470.7 211.1h0M490.8 214.0h0M496.9 240.4h0M474.1 213.4h0M472.7 210.9h0M494.2 232.9h0M491.7 229.4h0M490.8 220.5h0M497.0 220.1h0M491.6 232.2h0M495.2 241.9h0M481.2 209.6h0M494.0 217.8h0M475.9 219.4h0M481.1 216.8h0M477.7 224.7h0M499.5 222.4h0M495.0 243.7h0M484.7 209.3h0M484.9 222.9h0" stroke="#445acc" stroke-width="1.20" stroke-linecap="round"/>
<path d="M497.2 239.7h0M486.1 232.3h0M503.0 241.2h0M481.9 230.0h0M475.3 226.0h0M485.6 237.5h0M478.4 220.2h0M483.0 217.3h0M492.2 223.2h0M473.9 210.2h0M494.3 241.0h0M480.6 227.7h0M481.9 220.0h0M469.7 218.3h0M500.7 242.4h0M471.9 224.1h0M479.7 224.9h0M480.4 210.7h0M480.3 220.7h0M483.0 243.6h0M495.4 213.2h0M482.4 215.2h0M472.6 213.9h0M500.3 231.9h0M500.7 224.4h0M496.4 230.0h0M477.7 218.7h0M477.7 235.1h0M477.8 239.0h0M478.7 238.4h0M480.7 232.2h0M490.1 241.7h0M492.9 239.7h0M498.4 235.2h0M497.2 219.4h0M478.3 213.9h0M485.6 211.6h0M489.5 219.7h0M487.9 229.1h0M499.6 239.8h0M478.4 243.7h0M485.1 223.5h0M491.0 230.2h0M501.6 224.7h0M490.8 225.5h0M494.0 217.3h0M481.5 240.7h0M495.6 218.5h0M485.5 219.6h0M483.1 240.0h0M468.8 241.7h0M500.2 232.6h0M472.0 217.4h0M498.9 232.7h0M489.7 226.0h0M483.5 217.4h0M495.4 234.2h0M470.3 219.9h0M492.1 233.4h0M468.7 212.7h0M487.4 225.0h0M491.5 211.7h0M501.8 211.0h0M484.8 231.5h0M471.2 216.4h0M482.2 234.0h0M496.5 216.8h0M482.7 230.4h0M472.5 211.7h0M486.5 235.0h0M492.7 244.1h0M490.3 232.8h0M492.4 233.4h0M502.5 223.7h0M498.0 237.8h0M485.7 210.3h0M491.6 240.2h0M490.4 234.6h0M480.8 234.9h0M468.7 225.8h0M487.6 224.8h0M483.3 242.4h0M500.0 232.7h0M489.6 237.1h0M469.3 209.5h0M476.0 243.4h0M472.2 225.8h0M493.0 235.7h0M484.4 236.2h0M485.7 209.9h0M474.3 214.5h0M498.2 239.4h0M503.4 211.8h0M473.6 218.1h0M499.9 236.4h0M483.6 235.3h0M503.4 242.8h0M471.4 225.3h0M501.7 225.5h0M488.9 218.9h0M501.8 233.9h0M475.1 227.2h0M488.5 232.9h0M474.1 231.3h0M469.7 230.3h0M495.7 218.9h0M470.2 223.7h0M499.7 230.1h0M468.9 224.4h0M474.6 219.1h0M498.8 214.2h0M473.9 230.4h0M498.6 209.4h0M486.7 229.2h0M488.1 241.9h0M492.4 222.3h0M474.5 238.2h0M499.5 230.7h0M490.7 233.6h0M501.6 228.0h0M494.8 223.6h0M490.0 221.7h0M496.4 239.9h0M492.2 233.4h0M489.8 221.5h0M492.0 214.2h0M487.5 213.9h0M478.7 210.6h0M470.4 235.0h0M476.5 212.6h0M493.1 219.1h0M478.5 225.6h0M496.8 224.7h0M491.9 218.7h0M493.0 237.5h0M492.7 221.0h0M484.2 222.4h0M499.1 231.5h0M470.3 217.1h0M474.1 238.5h0M483.5 218.0h0M476.1 226.9h0M488.3 209.5h0M490.5 212.2h0M470.0 231.5h0M483.5 210.9h0M491.1 241.8h0M496.9 225.6h0M489.2 209.4h0M471.6 234.8h0M494.7 231.0h0M485.1 216.0h0M493.6 220.3h0M495.1 224.7h0M499.2 226.5h0M501.1 211.5h0M502.0 225.1h0M473.2 241.4h0M481.8 212.0h0M502.1 228.0h0M501.2 210.8h0" stroke="#4e68d8" stroke-width="1.20" stroke-linecap="round"/>
<path d="M495.2 229.4h0M502.9 214.3h0M503.3 223.1h0M485.7 221.8h0M499.4 222.6h0M478.6 220.1h0M469.8 229.5h0M493.1 234.6h0M491.8 229.0h0M484.6 226.9h0M474.8 228.6h0M503.3 232.5h0M478.1 242.5h0M497.4 240.0h0M500.3 219.6h0M482.8 209.3h0M477.3 216.3h0M496.0 213.4h0M500.7 210.4h0M487.2 233.2h0M472.7 232.1h0M485.7 213.0h0M469.1 223.0h0M487.0 210.4h0M501.8 233.7h0M499.2 214.7h0M473.4 212.8h0M478.7 239.4h0M478.3 238.2h0M498.5 216.4h0M492.5 218.0h0M500.3 217.6h0M489.1 234.9h0M482.7 233.1h0M502.3 234.4h0M480.5 220.7h0M479.3 234.9h0M469.7 234.1h0M499.9 210.8h0M496.8 215.6h0M482.6 231.7h0M490.2 228.3h0M473.9 214.4h0M493.7 221.9h0M499.6 223.9h0M472.7 213.7h0M500.4 216.7h0M483.6 230.6h0M470.7 215.3h0M490.5 209.7h0M474.8 218.1h0M475.7 233.2h0M496.2 235.4h0M497.7 231.5h0M497.5 210.0h0M472.6 218.9h0M482.0 216.3h0M487.1 216.2h0M501.9 243.4h0M469.0 232.8h0M499.2 226.6h0M500.4 214.0h0M502.6 215.9h0M477.6 241.6h0M477.7 212.1h0M493.3 243.4h0M486.5 228.0h0M486.6 234.3h0M476.6 214.1h0M482.9 243.2h0M491.5 224.0h0M476.5 213.3h0M469.4 242.3h0M476.2 231.1h0M490.5 213.4h0M473.5 237.2h0M488.6 211.3h0M499.7 239.6h0M474.2 229.7h0M476.4 235.5h0M489.5 235.6h0M494.4 235.2h0M499.2 211.4h0M472.7 223.0h0M473.5 226.7h0M496.9 238.6h0M499.5 231.0h0M473.0 223.4h0M501.5 223.8h0M486.1 243.3h0M481.1 240.4h0M482.5 228.7h0M493.4 214.7h0M501.3 230.7h0M474.3 221.0h0M473.3 229.0h0M499.6 240.6h0M497.7 221.8h0M468.7 219.1h0M494.0 213.3h0M502.2 219.7h0M490.5 242.1h0M495.5 229.2h0M498.4 213.7h0M485.2 226.1h0M477.5 225.6h0M502.5 228.1h0M496.6 213.5h0M499.0 226.2h0M498.5 227.8h0M495.4 224.7h0M494.4 211.6h0M487.9 236.6h0M476.9 224.1h0M490.0 229.3h0M492.6 239.2h0M495.4 214.0h0M491.3 214.3h0M468.8 212.0h0M475.4 234.0h0M472.4 235.4h0M482.6 227.8h0M490.4 234.7h0M498.4 213.5h0M476.3 218.0h0M503.1 221.3h0M470.1 243.3h0M494.3 234.3h0M488.7 240.8h0M468.8 216.5h0M486.6 230.0h0M487.7 231.5h0M477.3 227.3h0" stroke="#5875e1" stroke-width="1.20" stroke-linecap="round"/>
<path d="M475.2 225.3h0M490.3 228.6h0M479.4 230.8h0M501.0 209.1h0M495.7 234.8h0M501.1 243.6h0M496.7 228.3h0M480.6 221.2h0M503.4 231.5h0M476.7 241.5h0M474.0 231.7h0M485.2 243.1h0M476.8 240.4h0M495.1 239.0h0M482.3 211.3h0M475.0 224.6h0M497.4 232.1h0M471.8 226.4h0M488.4 234.9h0M503.3 241.5h0M473.6 241.9h0M487.0 240.5h0M469.0 223.7h0M480.5 234.7h0M494.7 225.0h0M487.7 229.6h0M473.3 218.0h0M497.1 212.3h0M471.3 215.9h0M483.7 236.1h0M498.0 217.3h0M486.2 231.9h0M475.9 220.1h0M488.2 219.4h0M479.0 210.8h0M497.5 213.1h0M491.8 222.6h0M493.8 213.7h0M499.0 230.7h0M498.4 222.9h0M473.2 239.7h0M474.8 211.9h0M471.2 231.8h0M469.3 229.6h0M472.4 214.4h0M494.8 213.9h0M500.2 218.8h0M496.3 210.9h0M486.0 234.7h0M489.6 224.8h0M496.8 235.7h0M468.8 228.4h0M492.0 235.5h0M502.7 226.3h0M490.7 214.6h0M493.4 228.1h0M481.6 232.5h0M487.4 241.4h0M500.3 214.9h0M477.9 227.7h0M472.1 234.1h0M478.2 223.8h0M481.0 234.7h0M500.5 232.5h0M485.9 229.3h0M473.9 221.4h0M497.1 236.5h0M502.7 218.6h0M483.8 218.2h0M487.3 219.0h0M469.3 214.0h0M480.1 209.9h0M473.5 221.6h0M498.9 211.0h0M493.4 228.8h0M472.9 225.3h0M476.4 216.4h0M477.0 231.4h0M469.1 219.9h0M483.3 237.9h0M469.2 222.8h0M482.9 221.1h0M493.4 210.1h0M486.1 229.7h0M478.4 234.1h0M486.4 222.9h0M480.5 240.1h0M501.6 241.6h0M503.7 222.1h0M488.3 225.8h0M503.7 217.3h0M478.8 228.5h0M491.6 242.0h0M483.7 218.8h0M499.9 229.5h0M475.7 217.3h0M472.1 220.1h0M476.8 218.6h0M493.0 242.8h0M489.1 241.7h0M476.5 227.2h0M478.7 243.2h0M474.3 243.7h0M495.5 226.1h0M483.3 213.8h0M473.0 233.9h0M489.2 214.6h0M476.3 220.8h0" stroke="#6384eb" stroke-width="1.20" stroke-linecap="round"/>
<path d="M497.1 213.6h0M486.3 217.0h0M493.7 221.6h0M495.1 226.6h0M486.8 236.8h0M488.7 237.2h0M484.9 240.4h0M478.2 233.7h0M478.8 216.8h0M480.1 229.7h0M501.0 222.0h0M500.4 234.0h0M469.1 219.4h0M485.2 218.7h0M472.4 231.9h0M491.4 211.2h0M478.6 232.8h0M472.5 240.0h0M494.9 225.0h0M493.5 242.2h0M500.1 223.3h0M493.6 216.3h0M470.3 222.0h0M480.7 228.5h0M481.4 212.4h0M471.4 217.6h0M499.4 221.9h0M470.7 242.2h0M494.5 223.0h0M469.7 210.3h0M495.6 224.2h0M498.8 230.9h0M492.9 210.7h0M486.6 242.9h0M501.0 234.3h0M489.0 242.2h0M476.9 213.8h0M488.3 223.3h0M476.9 215.4h0M489.3 241.3h0M473.4 214.8h0M488.1 227.6h0M491.1 234.4h0M481.1 232.9h0M471.4 226.1h0M469.6 226.2h0M478.1 237.2h0M493.2 216.5h0M483.5 228.3h0M489.1 220.3h0M490.8 217.7h0M473.1 227.8h0M488.6 221.3h0M499.2 216.0h0M472.2 210.0h0M495.6 230.5h0M490.9 234.2h0M500.9 213.9h0" stroke="#6e90f2" stroke-width="1.20" stroke-linecap="round"/>
<path d="M493.1 219.6h0M479.7 209.3h0M479.4 233.1h0M492.3 213.7h0M488.8 230.3h0M470.8 214.1h0M482.6 237.7h0M489.6 222.4h0M469.7 237.9h0M478.3 215.6h0M469.8 220.7h0M483.5 211.2h0M471.4 211.4h0M496.7 241.4h0M501.6 219.9h0M494.5 220.4h0M487.9 234.8h0M487.4 237.4h0M470.0 214.9h0M493.0 243.8h0M472.0 241.3h0M503.2 224.5h0M487.6 242.9h0M502.4 241.5h0M472.0 215.1h0M494.2 238.6h0M494.9 239.2h0M485.9 243.1h0M492.3 226.1h0M493.8 219.3h0M495.8 240.0h0M480.1 222.5h0M492.3 217.6h0M499.6 231.9h0M488.9 213.4h0M497.6 226.0h0M482.0 212.9h0" stroke="#799cf8" stroke-width="1.20" stroke-linecap="round"/>
<path d="M498.6 238.9h0M487.4 212.9h0M469.1 219.7h0M488.5 236.3h0M490.8 236.9h0M479.6 211.7h0M502.5 237.1h0M502.2 243.5h0M470.6 218.1h0M488.6 231.6h0M487.7 238.0h0M476.1 241.2h0" stroke="#84a7fc" stroke-width="1.20" stroke-linecap="round"/>
<path d="M528.4 216.9h0M519.7 239.2h0M518.9 222.2h0M540.3 237.1h0M531.8 241.0h0M527.6 223.3h0M540.5 236.9h0M523.3 217.8h0M527.7 236.2h0M532.1 239.2h0M531.9 217.1h0M537.1 223.9h0M539.9 212.8h0M521.8 226.2h0M516.2 229.8h0M515.8 221.6h0M507.6 229.3h0M539.6 225.0h0M527.3 237.1h0M528.5 225.3h0M519.9 224.3h0M526.1 221.1h0M515.6 218.1h0M520.9 234.3h0M519.2 241.9h0M528.3 226.1h0M535.5 223.2h0M510.1 242.7h0M518.5 243.2h0M512.5 233.5h0M526.5 219.5h0M529.0 213.7h0M536.7 230.8h0M509.1 239.9h0M538.3 230.8h0M516.4 212.2h0M525.0 215.7h0M540.9 227.0h0M529.0 223.3h0M524.0 224.3h0M539.3 225.2h0M538.1 221.0h0M510.5 218.7h0M537.6 225.1h0M520.0 229.5h0M533.9 209.6h0M532.0 212.9h0M509.8 220.5h0M517.1 220.7h0M538.8 234.1h0M535.5 236.6h0M525.9 243.4h0M518.0 233.5h0M530.0 220.0h0M521.7 215.8h0M525.3 238.6h0M529.6 226.6h0M520.0 228.1h0M519.3 236.2h0M539.4 239.7h0M519.3 221.3h0M528.8 213.8h0M529.7 220.2h0M517.3 224.7h0M516.8 241.4h0M528.3 229.2h0M515.4 235.4h0M536.8 219.7h0M519.0 238.5h0M522.8 225.8h0M523.8 232.9h0M526.3 216.5h0M540.5 210.2h0M522.0 224.5h0M516.8 236.3h0M513.0 237.4h0M511.8 210.8h0M521.8 214.5h0M533.6 210.8h0M515.8 214.3h0M510.2 219.9h0M537.9 238.9h0M509.7 236.5h0M525.8 216.8h0M534.7 209.8h0M516.4 215.9h0M527.3 240.9h0M512.3 242.9h0M537.3 216.0h0M518.2 230.2h0M507.5 238.3h0M527.5 222.7h0M528.0 233.1h0M523.8 236.5h0M524.4 214.8h0M540.6 234.9h0M525.6 238.5h0M508.1 228.9h0M513.1 223.3h0M528.8 218.9h0M514.6 234.7h0M510.6 240.9h0M522.8 240.1h0M518.7 243.6h0M522.0 222.8h0M527.3 233.0h0M539.1 226.7h0M534.0 217.9h0M525.0 228.7h0M512.5 220.7h0M512.1 238.5h0M509.6 233.2h0M527.2 235.7h0M540.3 239.4h0M519.1 230.8h0M542.0 231.0h0M521.6 225.9h0M525.4 212.0h0" stroke="#3b4cc0" stroke-width="1.20" stroke-linecap="round"/>
<path d="M519.3 237.7h0M524.1 214.8h0M535.0 222.3h0M526.8 212.0h0M522.2 235.1h0M524.9 222.4h0M535.0 232.7h0M533.5 243.8h0M537.3 219.3h0M540.4 227.0h0M509.5 217.1h0M529.7 211.2h0M516.6 220.0h0M538.6 240.8h0M514.0 210.7h0M539.6 243.1h0M532.9 216.8h0M512.6 236.2h0M533.2 240.3h0M528.7 227.9h0M526.0 238.0h0M527.0 211.1h0M511.8 215.6h0M513.2 238.2h0M511.1 214.5h0M520.1 217.1h0M531.2 221.1h0M520.2 229.6h0M516.5 223.5h0M535.5 243.6h0M512.4 235.9h0M527.0 229.3h0M534.4 235.0h0M523.8 235.0h0M511.3 224.1h0M527.9 240.8h0M507.3 241.8h0M529.7 214.7h0M518.9 224.7h0M518.2 237.0h0M526.8 233.2h0M535.1 213.0h0M515.9 228.1h0M510.3 210.9h0M538.6 211.9h0M511.0 225.7h0M530.1 210.0h0M534.1 222.5h0M529.7 231.7h0M515.1 223.6h0M512.6 243.3h0M533.6 220.5h0M531.4 239.1h0M525.9 214.4h0M517.3 234.3h0M531.8 242.1h0M514.3 241.8h0M534.0 225.7h0M517.5 220.8h0M532.3 221.7h0M508.4 229.9h0M525.8 244.0h0M540.9 227.2h0M522.6 209.8h0M527.2 210.4h0M508.9 228.4h0M526.5 236.6h0M519.4 216.4h0M533.7 221.0h0M527.7 225.2h0M508.9 233.9h0M520.0 212.9h0M511.7 231.4h0M507.3 242.0h0M539.7 211.6h0M542.2 231.8h0M532.1 231.7h0M538.9 234.1h0M516.4 218.8h0M510.2 222.2h0M540.3 209.5h0M541.6 234.0h0M525.4 241.8h0M516.9 227.9h0M528.5 220.9h0M542.1 216.4h0M534.6 210.9h0M509.2 240.6h0M530.3 224.8h0M542.0 221.6h0M525.2 243.7h0M538.0 222.3h0M530.8 222.5h0M535.8 239.9h0M512.5 215.0h0M531.6 243.2h0M533.2 214.0h0M516.0 228.3h0M538.2 210.4h0M518.6 239.4h0M507.8 238.9h0M525.9 216.9h0M525.6 224.0h0M507.8 218.1h0M514.4 241.1h0M530.2 241.2h0M510.5 226.4h0M519.9 242.2h0M542.0 230.6h0M531.8 217.1h0M515.8 223.6h0M521.4 230.6h0M534.2 242.6h0M508.0 220.3h0M531.6 217.9h0M513.0 210.5h0M538.7 237.4h0M508.0 225.7h0M510.6 219.5h0M509.2 231.4h0M513.4 224.5h0M537.4 210.2h0M511.2 235.8h0M531.7 224.2h0M532.9 214.4h0M510.7 220.7h0M520.0 234.0h0M514.2 226.9h0M527.1 233.5h0M528.7 236.8h0M534.8 237.3h0M541.7 236.4h0M507.7 236.2h0M540.0 227.1h0M535.0 210.6h0M533.4 241.6h0M520.9 220.0h0M511.5 227.9h0M524.7 239.3h0M519.9 217.5h0M516.2 227.5h0M520.4 241.0h0M533.6 232.4h0M531.1 234.0h0M518.1 237.1h0M537.7 226.6h0M524.7 218.2h0M533.4 242.7h0M519.6 215.3h0M531.5 218.7h0M535.1 232.5h0M524.0 242.4h0M517.7 226.5h0M512.8 219.9h0M535.9 242.1h0M516.6 238.2h0M509.6 227.6h0M524.9 243.6h0M530.8 219.9h0M536.8 226.1h0M511.3 233.2h0M534.9 222.2h0M521.1 242.3h0M521.0 222.4h0M508.2 233.9h0M533.5 223.1h0M539.6 219.1h0M537.6 220.5h0M535.3 238.1h0M519.4 239.0h0M523.9 238.0h0M527.6 216.3h0M511.6 214.4h0M540.9 243.2h0M529.4 217.2h0M536.1 235.1h0M533.8 237.5h0M528.4 242.4h0M530.7 229.4h0M514.3 238.3h0M512.1 222.6h0M535.8 237.3h0M512.3 236.7h0M529.1 232.1h0M540.6 210.9h0M539.7 235.5h0M537.7 216.8h0M519.2 215.2h0M512.0 219.9h0" stroke="#445acc" stroke-width="1.20" stroke-linecap="round"/>
<path d="M525.1 217.3h0M531.7 219.4h0M539.5 221.3h0M525.1 236.4h0M527.8 235.2h0M512.9 233.9h0M538.5 232.0h0M512.7 217.5h0M528.1 236.1h0M511.8 220.1h0M530.2 233.6h0M536.8 210.4h0M520.9 238.0h0M511.1 219.3h0M537.8 227.3h0M540.2 239.5h0M533.2 209.4h0M518.3 243.6h0M536.3 231.0h0M522.9 230.5h0M513.7 229.4h0M526.8 236.4h0M530.2 242.1h0M514.3 229.3h0M533.8 223.5h0M514.4 217.5h0M540.8 230.7h0M528.3 227.1h0M527.3 229.1h0M508.7 240.3h0M535.5 236.7h0M512.5 242.2h0M526.9 219.1h0M540.3 212.9h0M523.6 230.2h0M521.0 219.3h0M536.1 223.1h0M515.6 240.6h0M518.3 213.4h0M526.8 211.7h0M514.4 231.3h0M507.4 223.7h0M519.1 235.6h0M527.2 214.4h0M520.2 218.4h0M528.5 241.6h0M528.7 213.7h0M510.0 220.3h0M509.7 218.6h0M539.9 232.7h0M525.0 230.6h0M538.0 229.2h0M541.0 214.2h0M516.7 221.7h0M513.8 223.2h0M521.1 209.4h0M517.0 217.6h0M529.2 220.3h0M529.4 232.6h0M532.0 221.9h0M516.1 222.9h0M534.2 223.9h0M518.5 223.2h0M524.8 236.9h0M536.5 222.5h0M509.3 240.5h0M510.6 210.9h0M539.7 229.1h0M514.7 234.6h0M531.1 223.1h0M536.4 209.5h0M537.1 233.8h0M517.5 220.3h0M530.3 234.1h0M526.2 240.4h0M521.9 234.0h0M538.4 219.0h0M541.7 218.7h0M531.6 215.3h0M534.8 212.6h0M514.7 238.0h0M518.3 217.3h0M510.8 210.2h0M529.3 218.6h0M530.1 241.6h0M517.9 235.8h0M541.0 210.6h0M522.2 210.0h0M516.1 219.2h0M521.0 235.7h0M511.3 242.3h0M522.3 224.2h0M522.4 215.8h0M512.6 224.7h0M531.4 239.1h0M516.5 209.4h0M513.7 219.6h0M524.6 212.2h0M517.7 212.9h0M524.3 227.1h0M514.0 219.9h0M513.9 211.6h0M534.0 231.5h0M509.0 229.2h0M515.5 225.8h0M532.5 215.7h0M525.2 222.3h0M520.7 211.8h0M517.6 243.3h0M524.5 226.5h0M529.9 211.4h0M517.3 215.8h0M539.5 243.4h0M527.3 218.8h0M522.5 227.9h0M538.6 220.7h0M517.8 235.6h0M538.2 213.2h0M534.9 209.5h0M522.3 237.3h0M518.2 238.2h0M515.1 237.8h0M509.9 221.7h0M531.2 240.2h0M540.0 210.2h0M528.2 220.1h0M526.2 210.3h0M532.6 217.1h0M531.9 217.8h0M521.4 231.4h0M542.2 217.0h0M512.2 229.1h0M535.1 225.8h0M510.7 233.3h0M526.5 212.7h0M507.8 224.0h0M538.6 220.4h0M538.2 220.1h0M513.8 230.4h0M537.5 235.7h0M516.9 216.6h0M518.9 211.3h0M518.1 241.6h0M507.7 209.2h0M536.4 211.9h0M509.0 210.0h0M523.2 230.2h0M518.2 211.1h0M533.8 220.5h0M512.1 217.1h0M524.0 233.4h0M513.0 222.6h0M533.1 227.8h0M539.8 213.7h0M530.4 233.1h0M525.6 212.0h0M523.2 214.7h0M538.1 234.3h0M533.7 229.3h0M510.9 219.5h0M541.0 229.6h0M540.4 222.9h0M527.4 243.5h0M508.8 221.0h0M513.0 230.7h0M533.0 213.8h0M534.2 220.5h0M532.2 225.1h0M531.5 234.8h0M531.8 238.2h0M528.1 238.3h0M538.4 234.0h0M523.8 239.1h0M518.6 213.4h0" stroke="#4e68d8" stroke-width="1.20" stroke-linecap="round"/>
<path d="M527.4 223.8h0M525.3 210.8h0M521.7 222.4h0M530.6 215.5h0M510.0 210.6h0M517.0 216.9h0M520.1 230.2h0M522.7 230.9h0M519.5 230.2h0M514.4 239.8h0M537.8 231.4h0M516.0 216.2h0M530.6 212.3h0M512.4 212.6h0M540.8 235.0h0M533.3 234.5h0M512.8 210.1h0M518.0 213.1h0M532.2 242.4h0M517.2 237.4h0M515.7 233.8h0M507.4 221.3h0M533.6 234.4h0M517.0 220.3h0M523.5 239.4h0M509.1 217.2h0M515.0 228.9h0M528.8 218.5h0M515.4 235.5h0M522.2 224.7h0M523.8 227.9h0M525.5 228.3h0M541.1 233.8h0M526.7 226.7h0M542.3 233.6h0M513.4 242.7h0M520.7 234.3h0M517.5 238.1h0M528.4 232.4h0M525.2 224.1h0M526.2 238.1h0M540.0 210.2h0M514.4 228.0h0M508.8 223.4h0M517.2 218.4h0M537.0 229.4h0M515.2 231.5h0M522.8 235.9h0M511.9 218.9h0M535.8 228.7h0M520.9 242.1h0M533.5 218.4h0M539.8 213.1h0M514.2 218.5h0M529.0 221.4h0M521.7 242.8h0M522.8 209.5h0M533.3 236.3h0M522.0 234.6h0M521.4 240.9h0M528.4 220.1h0M535.5 237.3h0M522.6 217.6h0M517.6 215.2h0M517.3 228.4h0M514.1 209.7h0M532.8 220.8h0M507.9 240.6h0M531.0 221.1h0M514.7 211.3h0M522.2 233.0h0M507.9 209.9h0M536.2 224.7h0M527.0 235.8h0M522.9 231.4h0M524.3 217.3h0M534.3 212.5h0M523.5 222.3h0M540.8 210.1h0M536.2 236.3h0M538.2 220.7h0M515.0 216.6h0M539.9 237.7h0M527.0 228.7h0M524.5 219.2h0M520.7 234.1h0M541.2 209.3h0M529.9 223.9h0M512.8 219.4h0M529.1 221.0h0M523.0 230.0h0M510.2 210.9h0M538.5 212.6h0M518.0 212.0h0M516.5 224.3h0M529.8 227.8h0M520.1 239.6h0M531.1 244.0h0M537.7 218.8h0M532.2 225.2h0M539.1 210.9h0M539.4 238.9h0M511.6 212.1h0M537.7 216.0h0M523.1 214.0h0M509.1 233.7h0M510.8 229.0h0M536.7 209.9h0M538.7 231.5h0M519.4 239.4h0M521.0 213.9h0M515.9 215.0h0M524.7 212.2h0M522.9 211.4h0M522.7 238.1h0M510.9 240.7h0M527.8 216.4h0M516.3 234.7h0M537.8 239.6h0M522.4 211.0h0M518.0 215.4h0M538.1 225.7h0M513.1 214.1h0" stroke="#5875e1" stroke-width="1.20" stroke-linecap="round"/>
<path d="M520.9 223.0h0M508.3 233.7h0M511.3 234.8h0M529.7 234.1h0M540.3 217.6h0M525.1 229.5h0M534.2 236.4h0M542.4 238.6h0M526.4 222.6h0M535.3 230.9h0M539.4 235.4h0M511.6 237.0h0M525.7 232.6h0M511.8 224.1h0M521.2 222.6h0M510.8 227.5h0M529.1 220.0h0M514.4 217.7h0M514.7 229.3h0M535.1 215.5h0M510.4 230.7h0M528.8 220.6h0M519.5 239.3h0M528.9 229.9h0M508.1 243.9h0M518.5 241.0h0M524.2 229.3h0M537.1 237.6h0M531.6 228.1h0M542.2 215.9h0M513.0 209.3h0M524.1 233.7h0M528.9 243.1h0M539.6 221.5h0M529.5 235.5h0M540.1 243.6h0M513.6 217.7h0M530.8 242.2h0M511.3 228.5h0M527.9 219.6h0M514.7 223.3h0M518.9 240.4h0M520.8 243.0h0M508.6 217.3h0M534.3 209.9h0M511.9 222.4h0M517.2 217.7h0M513.6 215.5h0M520.3 235.2h0M518.0 235.8h0M517.1 217.4h0M517.8 224.3h0M537.2 236.0h0M534.7 229.4h0M530.1 220.6h0M514.3 239.2h0M529.3 240.1h0M530.9 211.2h0M523.2 227.8h0M517.1 243.3h0M517.4 232.3h0M509.3 209.2h0M528.7 221.3h0M520.4 234.6h0M511.4 213.8h0M526.0 213.3h0M517.3 225.3h0M508.6 212.7h0M539.1 238.5h0M537.7 209.3h0M536.7 211.9h0M525.7 222.2h0M528.5 222.5h0M519.0 219.9h0M522.8 221.7h0M539.5 242.9h0M508.2 220.5h0M521.8 237.0h0M519.5 220.5h0M517.5 223.6h0M527.1 228.3h0M514.9 226.4h0M528.3 230.4h0" stroke="#6384eb" stroke-width="1.20" stroke-linecap="round"/>
<path d="M513.0 235.0h0M539.7 241.4h0M522.9 240.4h0M508.9 231.8h0M521.7 230.0h0M517.4 223.1h0M533.3 214.7h0M538.9 215.2h0M512.8 234.1h0M538.9 221.0h0M541.9 218.2h0M520.3 225.3h0M512.5 216.5h0M513.3 237.1h0M516.6 210.4h0M535.1 240.8h0M536.5 218.0h0M516.3 209.5h0M533.6 243.2h0M535.9 225.4h0M541.6 211.2h0M521.2 218.7h0M525.5 212.1h0M527.2 231.4h0M524.4 243.9h0M518.1 239.5h0M516.2 236.0h0M527.0 221.3h0M514.9 237.2h0M538.9 220.7h0M541.5 216.6h0M522.1 219.9h0M521.6 227.2h0M530.3 229.7h0M518.0 234.6h0M512.2 228.6h0M513.8 237.6h0M533.2 218.8h0M537.6 228.0h0M531.9 209.9h0M539.8 221.4h0M532.3 242.6h0M523.4 233.8h0M538.5 242.4h0M509.7 227.5h0M513.9 235.6h0M539.1 227.5h0M522.0 222.7h0M536.1 220.6h0M539.7 226.6h0M527.4 211.7h0M526.2 242.8h0M532.4 210.3h0M527.6 228.6h0M525.8 237.3h0M529.8 230.9h0M518.5 224.9h0M540.8 238.5h0M529.3 210.0h0M523.5 212.8h0M531.2 229.4h0M532.7 219.5h0M526.1 242.8h0M522.1 213.6h0M531.0 212.2h0M529.9 227.1h0M541.6 243.8h0" stroke="#6e90f2" stroke-width="1.20" stroke-linecap="round"/>
<path d="M517.5 232.4h0M535.1 243.4h0M525.4 240.8h0M520.4 227.1h0M521.8 221.5h0M511.2 238.4h0M512.5 212.9h0M517.5 239.3h0M514.3 214.4h0M512.0 213.9h0M535.9 215.4h0M528.9 209.4h0M520.4 229.7h0M523.3 240.5h0M507.9 219.9h0M525.6 217.2h0M507.2 216.8h0M516.0 221.7h0M525.3 214.4h0M518.7 225.7h0M528.1 240.8h0M515.3 238.8h0M511.0 217.8h0M522.8 224.9h0M535.0 219.8h0M528.2 243.4h0M522.4 209.5h0M522.5 229.9h0" stroke="#799cf8" stroke-width="1.20" stroke-linecap="round"/>
<path d="M508.6 226.9h0M510.7 237.2h0M508.0 241.9h0M523.8 224.0h0M533.3 222.6h0M539.8 228.1h0M529.1 230.2h0M522.5 227.4h0M531.4 238.7h0M525.0 243.9h0M517.7 217.6h0M534.3 235.3h0M534.4 241.4h0M536.8 233.5h0M538.8 219.9h0M534.8 209.7h0M537.5 240.1h0" stroke="#84a7fc" stroke-width="1.20" stroke-linecap="round"/>
<text x="151.50" y="255.60" font-size="8.2" text-anchor="middle" fill="#231f20">Trial 1</text>
<text x="370.40" y="255.60" font-size="8.2" text-anchor="middle" fill="#231f20">1</text>
<text x="190.00" y="255.60" font-size="8.2" text-anchor="middle" fill="#231f20">2</text>
<text x="409.00" y="255.60" font-size="8.2" text-anchor="middle" fill="#231f20">2</text>
<text x="228.50" y="255.60" font-size="8.2" text-anchor="middle" fill="#231f20">3</text>
<text x="447.60" y="255.60" font-size="8.2" text-anchor="middle" fill="#231f20">3</text>
<text x="267.00" y="255.60" font-size="8.2" text-anchor="middle" fill="#231f20">4</text>
<text x="486.20" y="255.60" font-size="8.2" text-anchor="middle" fill="#231f20">4</text>
<text x="305.50" y="255.60" font-size="8.2" text-anchor="middle" fill="#231f20">5</text>
<text x="524.80" y="255.60" font-size="8.2" text-anchor="middle" fill="#231f20">5</text>
<line x1="134.00" y1="205.00" x2="208.00" y2="183.00" stroke="#8a8a8a" stroke-width="0.8" stroke-dasharray="2.5,2"/>
<line x1="323.50" y1="205.00" x2="323.50" y2="183.00" stroke="#8a8a8a" stroke-width="0.8" stroke-dasharray="2.5,2"/>
<line x1="352.80" y1="205.00" x2="352.80" y2="183.00" stroke="#8a8a8a" stroke-width="0.8" stroke-dasharray="2.5,2"/>
<line x1="468.00" y1="183.00" x2="543.00" y2="205.00" stroke="#8a8a8a" stroke-width="0.8" stroke-dasharray="2.5,2"/>
<text x="166.20" y="283.20" font-size="9" text-anchor="middle" fill="#231f20">Untrained (Random initialization)</text>
<text x="512.00" y="283.20" font-size="9" text-anchor="middle" fill="#2f9bf0">Random noise trained</text>
<line x1="0.00" y1="289.20" x2="332.80" y2="289.20" stroke="#8c8c8c" stroke-width="1.1"/>
<line x1="343.80" y1="289.20" x2="680.90" y2="289.20" stroke="#8c8c8c" stroke-width="1.1"/>
<text x="10.00" y="307.20" font-size="13" text-anchor="start" fill="#000" font-weight="bold" stroke="#000" stroke-width="0.45">e</text>
<path d="M43.40 354.50L43.40 354.50L44.56 354.50L44.56 354.50L45.72 354.50L45.72 354.50L46.88 354.50L46.88 354.50L48.04 354.50L48.04 354.50L49.20 354.50L49.20 354.50L50.35 354.50L50.35 354.50L51.51 354.50L51.51 354.50L52.67 354.50L52.67 354.50L53.83 354.50L53.83 354.50L54.99 354.50L54.99 354.50L56.15 354.50L56.15 354.50L57.31 354.50L57.31 354.50L58.47 354.50L58.47 354.50L59.63 354.50L59.63 354.50L60.78 354.50L60.78 354.50L61.94 354.50L61.94 354.50L63.10 354.50L63.10 354.50L64.26 354.50L64.26 354.50L65.42 354.50L65.42 354.49L66.58 354.49L66.58 354.49L67.74 354.49L67.74 354.49L68.90 354.49L68.90 354.47L70.06 354.47L70.06 354.46L71.22 354.46L71.22 354.43L72.38 354.43L72.38 354.41L73.53 354.41L73.53 354.36L74.69 354.36L74.69 354.28L75.85 354.28L75.85 354.21L77.01 354.21L77.01 354.03L78.17 354.03L78.17 353.78L79.33 353.78L79.33 353.52L80.49 353.52L80.49 353.06L81.65 353.06L81.65 352.46L82.81 352.46L82.81 351.76L83.97 351.76L83.97 351.06L85.12 351.06L85.12 349.83L86.28 349.83L86.28 348.61L87.44 348.61L87.44 346.86L88.60 346.86L88.60 345.34L89.76 345.34L89.76 343.40L90.92 343.40L90.92 341.56L92.08 341.56L92.08 339.31L93.24 339.31L93.24 336.99L94.40 336.99L94.40 334.76L95.56 334.76L95.56 333.02L96.71 333.02L96.71 331.32L97.87 331.32L97.87 329.81L99.03 329.81L99.03 329.04L100.19 329.04L100.19 328.55L101.35 328.55L101.35 328.56L102.51 328.56L102.51 328.94L103.67 328.94L103.67 329.70L104.83 329.70L104.83 330.98L105.99 330.98L105.99 333.10L107.15 333.10L107.15 335.05L108.30 335.05L108.30 336.88L109.46 336.88L109.46 339.20L110.62 339.20L110.62 341.27L111.78 341.27L111.78 343.75L112.94 343.75L112.94 345.18L114.10 345.18L114.10 346.94L115.26 346.94L115.26 348.66L116.42 348.66L116.42 349.76L117.58 349.76L117.58 350.88L118.74 350.88L118.74 351.96L119.89 351.96L119.89 352.53L121.05 352.53L121.05 353.12L122.21 353.12L122.21 353.52L123.37 353.52L123.37 353.74L124.53 353.74L124.53 354.06L125.69 354.06L125.69 354.14L126.85 354.14L126.85 354.26L128.01 354.26L128.01 354.37L129.17 354.37L129.17 354.41L130.33 354.41L130.33 354.46L131.48 354.46L131.48 354.47L132.64 354.47L132.64 354.48L133.80 354.48L133.80 354.49L134.96 354.49L134.96 354.50L136.12 354.50L136.12 354.50L137.28 354.50L137.28 354.50L138.44 354.50L138.44 354.50L139.60 354.50L139.60 354.50L140.76 354.50L140.76 354.50L141.91 354.50L141.91 354.50L143.07 354.50L143.07 354.50L144.23 354.50L144.23 354.50L145.39 354.50L145.39 354.50L146.55 354.50L146.55 354.50L147.71 354.50L147.71 354.50L148.87 354.50L148.87 354.50L150.03 354.50L150.03 354.50L151.19 354.50L151.19 354.50L152.35 354.50L152.35 354.50L153.50 354.50L153.50 354.50L154.66 354.50L154.66 354.50L155.82 354.50L155.82 354.50L156.98 354.50L156.98 354.50L158.14 354.50L158.14 354.50L159.30 354.50L159.30 354.50Z" fill="#c0c0c0"/>
<line x1="43.40" y1="316.50" x2="43.40" y2="354.50" stroke="#555555" stroke-width="0.8"/>
<line x1="43.40" y1="354.50" x2="159.30" y2="354.50" stroke="#555555" stroke-width="0.8"/>
<line x1="41.00" y1="316.50" x2="43.40" y2="316.50" stroke="#555555" stroke-width="0.8"/>
<text x="38.00" y="319.10" font-size="7.6" text-anchor="end" fill="#231f20">0.4</text>
<line x1="41.00" y1="354.50" x2="43.40" y2="354.50" stroke="#555555" stroke-width="0.8"/>
<text x="38.00" y="357.10" font-size="7.6" text-anchor="end" fill="#231f20">0</text>
<line x1="43.40" y1="354.50" x2="43.40" y2="356.90" stroke="#555555" stroke-width="0.8"/>
<text x="43.40" y="367.10" font-size="7.6" text-anchor="middle" fill="#231f20">−10</text>
<line x1="72.38" y1="354.50" x2="72.38" y2="356.90" stroke="#555555" stroke-width="0.8"/>
<text x="72.38" y="367.10" font-size="7.6" text-anchor="middle" fill="#231f20">−5</text>
<line x1="101.35" y1="354.50" x2="101.35" y2="356.90" stroke="#555555" stroke-width="0.8"/>
<text x="101.35" y="367.10" font-size="7.6" text-anchor="middle" fill="#231f20">0</text>
<line x1="130.33" y1="354.50" x2="130.33" y2="356.90" stroke="#555555" stroke-width="0.8"/>
<text x="130.33" y="367.10" font-size="7.6" text-anchor="middle" fill="#231f20">5</text>
<line x1="159.30" y1="354.50" x2="159.30" y2="356.90" stroke="#555555" stroke-width="0.8"/>
<text x="159.30" y="367.10" font-size="7.6" text-anchor="middle" fill="#231f20">10</text>
<text x="19.40" y="335.50" font-size="8.9" text-anchor="middle" fill="#231f20" transform="rotate(-90 19.40 335.50)">Density</text>
<text x="360.00" y="307.60" font-size="13" text-anchor="start" fill="#000" font-weight="bold" stroke="#000" stroke-width="0.45">h</text>
<path d="M391.00 354.50L391.00 354.50L392.16 354.50L392.16 354.50L393.32 354.50L393.32 354.50L394.48 354.50L394.48 354.50L395.64 354.50L395.64 354.50L396.80 354.50L396.80 354.50L397.95 354.50L397.95 354.50L399.11 354.50L399.11 354.50L400.27 354.50L400.27 354.50L401.43 354.50L401.43 354.50L402.59 354.50L402.59 354.50L403.75 354.50L403.75 354.50L404.91 354.50L404.91 354.50L406.07 354.50L406.07 354.50L407.23 354.50L407.23 354.50L408.38 354.50L408.38 354.50L409.54 354.50L409.54 354.50L410.70 354.50L410.70 354.50L411.86 354.50L411.86 354.50L413.02 354.50L413.02 354.50L414.18 354.50L414.18 354.50L415.34 354.50L415.34 354.50L416.50 354.50L416.50 354.50L417.66 354.50L417.66 354.50L418.82 354.50L418.82 354.50L419.98 354.50L419.98 354.50L421.13 354.50L421.13 354.50L422.29 354.50L422.29 354.48L423.45 354.48L423.45 354.48L424.61 354.48L424.61 354.46L425.77 354.46L425.77 354.41L426.93 354.41L426.93 354.34L428.09 354.34L428.09 354.26L429.25 354.26L429.25 354.08L430.41 354.08L430.41 353.72L431.56 353.72L431.56 353.33L432.72 353.33L432.72 352.57L433.88 352.57L433.88 351.57L435.04 351.57L435.04 350.32L436.20 350.32L436.20 348.67L437.36 348.67L437.36 346.50L438.52 346.50L438.52 343.53L439.68 343.53L439.68 340.45L440.84 340.45L440.84 337.11L442.00 337.11L442.00 333.22L443.15 333.22L443.15 329.89L444.31 329.89L444.31 326.69L445.47 326.69L445.47 323.66L446.63 323.66L446.63 321.26L447.79 321.26L447.79 320.90L448.95 320.90L448.95 320.33L450.11 320.33L450.11 321.82L451.27 321.82L451.27 323.69L452.43 323.69L452.43 326.43L453.59 326.43L453.59 329.75L454.75 329.75L454.75 333.53L455.90 333.53L455.90 337.24L457.06 337.24L457.06 340.53L458.22 340.53L458.22 343.82L459.38 343.82L459.38 346.51L460.54 346.51L460.54 348.53L461.70 348.53L461.70 350.27L462.86 350.27L462.86 351.63L464.02 351.63L464.02 352.55L465.18 352.55L465.18 353.37L466.33 353.37L466.33 353.77L467.49 353.77L467.49 354.10L468.65 354.10L468.65 354.25L469.81 354.25L469.81 354.38L470.97 354.38L470.97 354.43L472.13 354.43L472.13 354.44L473.29 354.44L473.29 354.48L474.45 354.48L474.45 354.50L475.61 354.50L475.61 354.49L476.77 354.49L476.77 354.50L477.92 354.50L477.92 354.50L479.08 354.50L479.08 354.50L480.24 354.50L480.24 354.50L481.40 354.50L481.40 354.50L482.56 354.50L482.56 354.50L483.72 354.50L483.72 354.50L484.88 354.50L484.88 354.50L486.04 354.50L486.04 354.50L487.20 354.50L487.20 354.50L488.36 354.50L488.36 354.50L489.51 354.50L489.51 354.50L490.67 354.50L490.67 354.50L491.83 354.50L491.83 354.50L492.99 354.50L492.99 354.50L494.15 354.50L494.15 354.50L495.31 354.50L495.31 354.50L496.47 354.50L496.47 354.50L497.63 354.50L497.63 354.50L498.79 354.50L498.79 354.50L499.95 354.50L499.95 354.50L501.10 354.50L501.10 354.50L502.26 354.50L502.26 354.50L503.42 354.50L503.42 354.50L504.58 354.50L504.58 354.50L505.74 354.50L505.74 354.50L506.90 354.50L506.90 354.50Z" fill="#80bfff"/>
<line x1="391.00" y1="316.20" x2="391.00" y2="354.50" stroke="#555555" stroke-width="0.8"/>
<line x1="391.00" y1="354.50" x2="506.90" y2="354.50" stroke="#555555" stroke-width="0.8"/>
<line x1="388.60" y1="316.20" x2="391.00" y2="316.20" stroke="#555555" stroke-width="0.8"/>
<text x="385.60" y="318.80" font-size="7.6" text-anchor="end" fill="#231f20">0.4</text>
<line x1="388.60" y1="354.50" x2="391.00" y2="354.50" stroke="#555555" stroke-width="0.8"/>
<text x="385.60" y="357.10" font-size="7.6" text-anchor="end" fill="#231f20">0</text>
<line x1="391.00" y1="354.50" x2="391.00" y2="356.90" stroke="#555555" stroke-width="0.8"/>
<text x="391.00" y="367.10" font-size="7.6" text-anchor="middle" fill="#231f20">−10</text>
<line x1="419.98" y1="354.50" x2="419.98" y2="356.90" stroke="#555555" stroke-width="0.8"/>
<text x="419.98" y="367.10" font-size="7.6" text-anchor="middle" fill="#231f20">−5</text>
<line x1="448.95" y1="354.50" x2="448.95" y2="356.90" stroke="#555555" stroke-width="0.8"/>
<text x="448.95" y="367.10" font-size="7.6" text-anchor="middle" fill="#231f20">0</text>
<line x1="477.92" y1="354.50" x2="477.92" y2="356.90" stroke="#555555" stroke-width="0.8"/>
<text x="477.92" y="367.10" font-size="7.6" text-anchor="middle" fill="#231f20">5</text>
<line x1="506.90" y1="354.50" x2="506.90" y2="356.90" stroke="#555555" stroke-width="0.8"/>
<text x="506.90" y="367.10" font-size="7.6" text-anchor="middle" fill="#231f20">10</text>
<text x="366.60" y="335.35" font-size="8.9" text-anchor="middle" fill="#231f20" transform="rotate(-90 366.60 335.35)">Density</text>
<text x="10.40" y="393.50" font-size="13" text-anchor="start" fill="#000" font-weight="bold" stroke="#000" stroke-width="0.45">f</text>
<path d="M91.4 478.8h0M86.7 445.3h0M108.4 460.1h0M93.8 453.0h0M97.1 461.8h0M88.9 507.7h0M95.7 498.9h0M89.6 507.7h0M98.1 440.9h0M108.9 409.2h0M92.5 451.1h0M86.6 507.8h0M89.8 482.1h0M104.0 414.8h0M102.1 430.4h0M109.3 416.1h0M110.6 413.5h0M92.5 501.7h0M97.1 444.2h0M95.3 439.8h0M90.5 500.7h0M96.4 489.7h0M86.5 467.2h0M111.4 395.0h0M123.5 405.8h0M101.1 457.5h0M86.3 455.1h0M85.0 506.3h0M90.1 456.2h0M96.6 406.7h0M104.1 481.6h0M106.8 425.2h0M113.8 399.3h0M84.7 476.4h0M85.1 505.9h0M95.8 464.6h0M94.1 467.5h0M112.9 393.4h0M96.4 463.9h0M97.6 465.0h0M110.7 406.3h0M86.0 494.1h0M89.3 477.9h0M91.0 467.8h0M96.0 469.6h0M102.0 434.1h0M105.0 447.5h0M100.0 508.2h0M104.5 403.8h0M92.3 483.7h0M113.7 417.4h0M98.6 452.5h0M110.8 421.4h0M106.2 400.0h0M95.5 469.8h0M90.9 482.9h0M106.9 433.1h0M97.4 463.9h0M115.5 395.6h0M95.7 471.2h0M101.1 488.4h0M121.4 394.6h0M96.3 491.8h0M102.5 412.9h0M90.4 488.6h0M100.0 417.7h0M96.5 396.8h0M114.5 398.7h0M95.8 479.3h0M100.1 421.6h0M107.8 401.3h0M104.0 446.8h0M107.0 395.0h0M107.6 396.7h0M103.4 395.7h0M102.7 452.4h0M101.2 428.7h0M100.1 502.4h0M87.7 496.3h0M101.6 419.3h0M94.0 491.3h0M106.5 450.8h0M90.5 500.1h0M84.7 490.7h0M91.4 502.4h0M95.9 433.8h0M97.0 491.7h0M96.6 444.3h0M100.6 418.6h0M100.1 475.2h0M100.3 452.0h0M106.1 393.8h0M96.9 420.2h0M113.4 396.3h0M112.9 397.0h0M111.9 407.8h0M116.3 421.0h0M94.5 506.0h0M106.2 422.9h0M85.8 498.4h0M83.3 503.8h0M102.3 457.3h0M107.2 401.5h0M107.7 417.9h0M113.8 412.5h0M112.6 410.5h0M111.4 410.6h0M97.0 499.6h0M83.6 500.4h0M99.1 446.9h0M105.5 403.4h0M98.3 455.1h0M94.7 491.8h0M97.7 483.8h0M86.3 480.9h0M92.2 488.5h0M84.7 500.3h0M105.8 396.1h0M104.3 440.5h0M90.4 506.2h0M96.2 440.6h0M100.3 421.0h0M96.2 408.4h0M82.8 499.0h0M90.3 507.1h0M111.8 393.7h0M101.4 503.3h0M94.2 504.5h0M104.6 440.9h0M113.7 402.0h0M111.3 404.4h0M94.3 494.3h0M97.0 451.3h0M102.5 491.8h0M96.8 453.2h0M95.1 489.8h0M104.4 393.5h0M109.8 400.7h0M106.0 465.4h0M102.4 462.1h0M107.6 398.0h0M91.8 490.3h0M99.2 469.8h0M102.8 480.8h0M103.2 451.3h0M106.4 395.5h0M91.5 488.6h0M97.4 502.8h0M100.1 501.2h0M90.1 487.8h0M80.9 504.4h0M78.8 502.8h0M89.5 495.2h0M94.9 422.8h0M103.0 436.8h0M79.8 475.5h0M97.1 429.8h0M99.6 450.7h0M99.1 460.9h0M90.0 496.4h0M100.0 410.2h0M90.4 455.6h0M95.1 467.0h0M97.7 476.0h0M98.4 443.8h0M95.0 459.6h0M93.2 502.7h0M96.8 487.2h0M94.8 502.2h0M90.9 508.5h0M87.9 503.6h0M113.1 393.4h0M87.5 506.9h0M102.2 461.1h0M110.8 412.0h0M95.7 465.2h0M103.8 461.1h0M95.4 499.5h0M77.4 492.0h0M101.7 491.6h0M93.1 502.1h0M97.3 463.8h0M101.5 416.9h0M105.6 407.0h0M112.2 395.5h0M107.9 418.3h0M106.1 393.2h0M107.0 441.1h0M96.9 500.7h0M85.5 504.8h0M101.6 435.4h0M90.5 407.9h0M103.4 405.3h0M95.4 449.3h0M112.7 398.3h0M102.0 447.3h0M85.9 475.4h0M88.5 461.5h0M97.8 444.9h0M106.8 415.4h0M90.4 502.2h0M102.0 499.4h0M106.5 400.3h0M100.6 473.8h0M101.9 400.2h0M103.7 414.0h0M104.1 430.8h0M102.3 399.7h0M100.6 460.4h0M105.2 413.4h0M107.1 407.9h0M107.3 402.2h0M101.0 496.8h0M93.4 451.9h0M116.8 396.4h0M112.1 410.9h0M100.3 397.6h0M116.4 396.1h0M86.8 484.1h0M85.3 450.7h0M114.1 396.8h0M105.1 417.7h0M95.1 494.5h0M109.8 421.8h0M107.2 424.2h0M96.0 481.0h0M95.1 473.6h0M113.4 404.7h0M105.7 410.8h0M90.3 499.8h0M94.7 495.6h0M80.8 469.3h0M98.2 448.4h0M101.9 454.5h0M93.0 493.5h0M119.4 429.3h0M91.2 507.5h0M101.6 494.1h0M100.5 448.7h0M101.4 450.6h0M91.7 457.9h0M103.0 427.9h0M96.7 438.7h0M92.8 470.9h0M103.3 395.9h0M94.0 457.3h0M110.7 393.4h0M88.3 506.2h0M111.3 406.0h0M80.5 502.7h0M89.9 506.4h0M93.8 497.8h0M96.1 508.5h0M101.2 482.0h0M85.3 457.4h0M87.0 498.7h0M94.6 479.7h0M104.1 423.3h0M100.7 487.3h0M111.0 405.1h0M95.1 491.1h0M103.3 394.6h0M94.7 452.9h0M92.9 503.7h0M105.9 411.7h0M93.7 435.5h0M94.7 505.2h0M104.3 394.3h0M98.2 478.1h0M103.8 417.4h0M113.8 393.3h0M92.9 489.0h0M85.6 490.3h0M97.3 422.4h0M92.7 508.1h0M111.6 401.5h0M95.8 495.1h0M105.4 397.0h0M109.6 399.2h0M95.0 500.6h0M94.2 503.4h0M109.3 398.8h0M98.5 502.3h0M100.8 448.4h0M103.0 421.5h0M114.3 406.2h0M94.1 446.8h0M95.3 492.8h0M109.5 407.0h0M96.2 421.2h0M106.7 401.0h0M93.1 498.9h0M103.2 396.0h0M107.9 418.5h0M94.5 470.3h0M98.2 414.6h0M95.6 455.9h0M94.4 507.0h0M97.0 487.5h0M99.5 428.1h0M103.9 431.7h0M103.2 435.1h0M85.8 491.7h0M90.7 499.1h0M100.3 477.6h0M114.0 438.3h0M89.1 457.9h0M112.3 428.9h0M91.9 489.0h0M94.5 485.2h0M90.5 486.2h0M94.2 469.8h0M92.2 486.1h0M104.1 455.2h0M100.8 479.6h0M114.5 398.0h0M103.6 490.5h0M101.8 497.3h0M106.4 424.7h0M108.0 395.5h0M96.6 461.6h0M96.7 502.2h0M115.8 410.0h0M83.0 499.6h0M99.2 455.4h0M95.5 469.0h0M94.3 501.8h0M104.7 408.5h0M99.9 429.6h0M97.3 461.9h0M104.8 433.4h0M92.6 501.8h0M98.8 471.2h0M98.0 430.7h0M110.0 412.4h0M83.5 507.1h0M107.4 423.3h0M78.2 499.9h0M94.5 507.8h0M107.2 408.8h0M102.4 401.7h0M100.2 499.5h0M103.4 408.8h0M105.2 447.7h0M115.7 409.2h0M100.4 394.5h0M124.4 399.4h0M103.7 440.4h0M90.0 501.4h0M92.1 490.8h0M91.3 472.1h0M87.8 487.0h0M103.9 428.2h0M103.9 416.1h0M105.6 394.6h0M102.7 400.4h0M92.9 503.2h0M113.4 393.4h0M92.3 451.7h0M99.1 477.2h0M86.2 506.8h0M96.8 441.8h0M101.4 393.6h0M98.3 450.9h0M99.1 417.6h0M108.0 423.7h0M100.1 402.0h0M84.1 490.5h0M83.9 493.1h0M102.0 413.1h0M100.3 403.6h0M87.5 487.9h0M98.6 424.3h0M110.3 402.7h0M104.1 426.0h0M105.8 476.2h0M113.0 393.9h0M104.4 396.5h0M103.6 413.0h0M92.9 459.1h0M93.0 502.7h0M96.2 477.4h0M102.2 446.6h0M87.8 497.3h0M95.9 402.0h0M89.2 502.5h0M122.4 395.4h0M89.4 475.0h0M94.5 492.1h0M92.7 468.2h0M103.0 419.1h0M105.1 401.8h0M95.4 500.2h0M119.6 412.8h0M94.1 478.1h0M91.6 503.8h0M83.7 501.3h0M105.7 399.3h0M83.0 504.0h0M93.5 487.1h0M107.6 448.2h0M106.9 396.3h0M90.2 507.9h0M100.6 440.9h0M101.2 439.8h0M86.5 506.4h0M99.3 479.1h0M92.7 472.6h0M103.9 417.8h0M97.8 472.2h0M89.1 483.9h0M98.0 437.9h0M105.4 401.7h0M82.8 503.8h0M93.4 448.4h0M96.5 467.0h0M100.2 455.8h0M112.6 405.2h0M94.2 487.0h0M95.3 505.4h0M102.2 466.7h0M91.7 503.5h0M109.2 395.6h0M115.2 397.5h0M92.3 500.5h0M106.1 452.3h0M91.9 506.3h0M99.9 464.4h0M97.8 481.4h0M110.2 394.4h0M101.1 421.8h0M95.4 436.5h0M112.1 401.0h0M97.7 477.2h0M99.1 412.9h0M97.2 490.1h0M94.7 486.5h0M108.7 394.3h0M85.2 508.5h0M112.0 415.7h0M92.3 492.4h0M108.8 404.8h0M94.3 492.9h0M97.0 440.6h0M77.4 504.2h0M107.8 401.3h0M93.3 492.2h0M88.6 505.1h0M83.1 508.5h0M92.5 507.2h0M108.5 411.8h0M91.6 503.6h0M95.2 504.2h0M104.3 451.6h0M93.2 464.3h0M99.4 444.5h0M84.6 472.6h0M111.5 394.7h0M104.6 502.2h0M85.3 490.8h0M114.3 470.2h0M104.7 419.4h0M106.3 396.6h0M98.5 450.7h0M108.0 408.7h0M106.9 426.2h0M98.4 393.2h0M86.9 489.6h0M92.2 397.4h0M97.5 454.3h0M94.9 435.6h0M105.1 412.6h0M105.1 398.8h0M97.3 490.0h0M92.9 461.6h0M107.5 498.0h0M97.9 508.4h0M104.6 393.9h0M104.2 441.5h0M98.0 456.5h0M93.5 495.0h0M92.7 468.6h0M105.5 428.3h0M100.8 399.3h0M100.6 433.0h0M100.5 443.0h0M94.0 500.9h0M88.4 488.2h0M98.5 451.8h0M84.7 507.4h0M97.9 483.7h0M100.4 450.4h0M108.2 395.7h0M96.2 506.9h0M89.2 504.5h0M115.7 409.1h0M95.3 508.3h0M107.8 393.7h0M95.3 438.5h0M107.8 405.7h0M100.6 416.9h0M92.3 506.7h0M95.9 416.7h0M100.1 498.6h0M101.3 467.1h0M102.9 452.2h0M103.0 437.9h0M95.7 409.2h0M116.4 449.9h0M102.5 400.8h0M107.9 432.0h0M86.6 485.3h0M80.2 423.9h0M93.6 479.5h0M109.6 408.5h0M82.7 476.6h0M95.6 474.5h0M106.1 403.9h0M89.8 507.2h0M101.5 423.2h0M101.8 482.9h0M99.6 412.4h0M100.5 415.4h0M103.7 498.2h0M101.3 423.2h0M109.8 395.7h0M81.9 477.2h0M106.9 410.1h0M107.9 393.5h0M88.6 507.4h0M83.3 467.2h0M111.5 394.6h0M98.4 463.2h0M93.2 461.9h0M103.0 500.1h0M93.2 508.4h0M105.8 410.4h0M120.6 414.7h0M110.1 398.6h0M98.1 417.7h0M97.8 499.6h0M73.9 507.5h0M104.5 435.9h0M109.2 396.8h0M103.9 426.3h0M102.5 419.6h0M101.4 395.0h0M87.7 483.2h0M100.6 464.6h0M104.3 404.7h0M103.2 479.2h0M86.4 492.7h0M88.0 479.3h0M104.5 414.1h0M100.7 493.6h0M92.2 475.1h0M103.7 433.4h0M85.3 496.4h0M89.6 485.8h0M96.7 439.6h0M98.7 436.9h0M96.7 494.0h0M95.4 486.0h0M108.7 405.8h0M94.6 481.8h0M99.5 455.3h0M102.7 462.4h0M93.6 490.1h0M102.6 412.7h0M100.5 472.0h0M89.7 506.9h0M114.0 395.7h0M97.8 469.9h0M102.6 444.1h0M96.4 433.3h0M91.5 480.4h0M92.3 501.3h0M97.1 498.4h0M79.9 488.1h0M106.2 414.4h0M98.1 474.9h0M103.6 424.1h0M92.4 508.2h0M96.7 499.8h0M96.5 447.4h0M90.8 501.9h0M111.2 412.5h0M91.2 468.8h0M82.5 473.8h0M95.7 500.0h0M94.9 467.3h0M90.2 505.7h0M111.0 406.7h0M103.3 434.7h0M91.0 474.8h0M90.0 501.4h0M96.4 427.3h0M99.3 496.6h0M110.4 404.1h0M112.5 415.2h0M100.0 492.8h0M95.6 468.9h0M96.1 395.1h0M109.9 417.4h0M113.7 405.2h0M89.1 485.6h0M102.2 411.7h0M93.2 504.1h0M109.4 416.4h0M118.3 405.7h0M98.7 469.8h0M99.9 426.7h0M102.8 478.3h0M103.7 472.9h0M107.4 438.8h0M100.0 427.0h0M105.7 444.7h0M102.5 425.3h0M105.6 500.1h0M95.1 505.5h0M98.7 426.6h0M90.1 508.2h0M76.6 506.6h0M96.1 504.5h0M97.3 412.6h0M103.0 416.3h0M107.1 393.2h0M90.7 474.2h0M101.3 476.3h0M100.3 463.6h0M90.4 504.9h0M113.3 404.8h0M90.6 498.0h0M100.9 495.1h0M107.4 442.8h0M99.1 485.1h0M104.1 424.0h0M108.0 413.1h0M107.8 411.5h0M103.4 457.0h0M86.5 496.8h0M94.8 456.5h0M83.6 501.6h0M104.1 505.9h0M90.9 506.2h0M101.3 404.9h0M92.2 505.0h0M106.5 401.7h0M96.5 460.4h0M91.6 477.5h0M97.9 452.0h0M101.6 396.2h0M94.9 505.3h0M105.2 426.9h0M93.0 483.6h0M92.5 501.0h0M90.6 507.9h0M100.2 499.4h0M96.0 499.4h0M97.4 454.6h0M108.0 408.8h0M107.6 429.5h0M95.0 472.4h0M107.8 395.5h0M91.6 489.4h0M117.5 452.5h0M86.0 476.2h0M106.4 415.8h0M103.6 424.7h0M116.5 456.0h0M97.0 417.7h0M102.5 435.7h0M90.6 490.4h0M101.8 405.7h0M98.2 483.6h0M85.3 489.2h0M111.0 412.9h0M105.5 482.8h0M101.2 451.6h0M111.7 393.4h0M105.2 407.6h0M93.4 483.9h0M96.4 484.5h0M106.0 404.4h0M113.8 430.0h0M95.1 497.2h0M89.5 414.8h0M91.4 506.1h0M105.5 398.8h0M112.2 399.2h0M110.1 395.7h0M91.0 503.5h0M103.8 416.1h0M104.2 394.3h0M111.9 424.8h0M84.6 463.4h0M128.9 398.3h0M89.0 504.7h0M101.9 457.8h0M112.3 424.5h0M108.0 479.7h0M107.7 447.6h0M113.7 405.5h0M109.4 408.1h0M81.0 455.3h0M93.6 502.1h0M95.5 505.5h0M90.5 496.6h0M84.0 483.1h0M91.6 492.3h0M109.7 393.3h0M97.5 465.0h0M95.0 461.0h0M102.7 415.2h0M97.8 503.5h0M82.4 485.6h0M102.0 417.0h0M91.1 490.7h0M110.2 403.6h0M102.8 487.8h0M101.0 436.7h0M107.6 397.0h0M105.6 401.7h0M100.1 442.3h0M97.8 442.2h0M103.7 411.3h0M86.4 476.9h0M101.9 500.2h0M99.6 403.8h0M105.1 401.0h0M106.5 433.1h0M95.2 466.2h0M98.3 500.8h0M93.5 486.7h0M93.1 473.2h0M103.7 434.0h0M104.3 407.7h0M101.1 447.4h0M97.5 426.3h0M97.0 503.1h0M104.4 443.1h0M110.0 400.5h0M89.4 488.8h0M89.4 507.2h0M108.6 413.2h0M101.4 396.7h0M112.9 411.5h0M82.9 480.7h0M101.5 416.6h0M100.3 507.7h0M95.4 446.6h0M85.0 491.3h0M105.0 401.2h0M94.1 498.1h0M109.3 394.1h0M111.5 393.6h0M111.6 394.4h0M105.0 403.9h0M75.7 490.9h0M103.9 469.9h0M104.2 404.2h0M102.6 427.1h0M92.8 487.0h0M80.6 466.2h0M94.3 493.6h0M103.2 426.7h0M100.5 455.9h0M114.4 398.9h0M115.0 411.7h0M105.2 473.8h0M104.1 397.7h0M95.1 508.0h0M81.8 504.6h0M97.8 485.6h0M110.6 419.6h0M128.7 394.6h0M109.3 409.1h0M100.0 432.4h0M95.7 451.9h0M82.5 506.7h0M94.6 485.6h0M109.7 402.1h0M103.8 430.5h0M97.5 485.3h0M109.2 453.4h0M97.1 488.1h0M86.9 507.3h0M103.3 466.0h0M88.0 487.5h0M92.2 502.5h0M94.8 464.6h0M98.4 471.9h0M100.2 441.4h0M88.8 450.6h0M91.6 440.2h0M102.1 467.1h0M91.6 491.6h0M103.5 459.2h0M96.3 453.0h0M116.2 405.0h0M98.5 449.3h0M106.5 489.9h0M98.1 409.3h0M101.0 454.6h0M104.8 409.0h0M106.7 394.0h0M107.3 409.5h0M86.5 503.0h0M97.7 497.0h0M93.5 421.4h0M84.6 506.2h0M104.3 480.8h0M107.5 438.6h0M99.1 482.2h0M90.8 495.5h0M106.6 456.5h0M102.0 476.6h0M99.4 483.5h0M107.6 421.8h0M88.2 489.2h0M96.2 468.4h0M109.8 399.8h0M106.2 407.9h0M98.6 451.3h0M93.9 465.7h0M101.2 436.0h0M93.0 438.0h0M87.1 503.3h0M106.8 492.9h0M96.0 402.1h0M85.9 497.8h0M102.3 395.8h0M89.2 413.7h0M114.4 454.4h0M105.8 480.6h0M87.3 444.3h0M107.4 409.5h0M100.9 423.5h0M112.1 398.4h0M105.5 422.6h0M89.5 487.7h0M104.0 418.3h0M107.5 410.6h0M95.5 457.5h0M94.3 495.8h0M93.4 492.0h0M103.7 417.9h0M92.7 495.3h0M110.3 395.0h0M112.6 410.5h0M87.2 506.8h0M95.5 499.7h0M102.9 446.2h0M91.1 502.5h0M95.5 460.8h0M96.2 406.2h0M99.2 414.8h0M99.7 499.9h0M105.5 410.5h0M110.3 403.7h0M95.5 490.0h0M95.5 415.2h0M93.9 486.3h0M95.2 503.4h0M115.6 400.2h0M104.6 401.0h0M93.6 496.7h0M94.4 508.3h0M99.9 403.4h0M98.0 486.2h0M103.3 428.2h0M81.5 503.4h0M105.0 421.4h0M113.6 402.1h0M95.0 442.2h0M100.3 409.1h0M96.9 431.5h0M107.1 404.5h0M100.3 483.3h0M98.1 484.6h0M96.8 507.4h0M70.9 478.9h0M92.9 471.2h0M87.6 501.2h0M107.5 403.7h0M99.8 469.4h0M109.4 393.2h0M117.1 417.2h0M99.2 493.9h0M112.4 452.5h0M96.4 411.7h0M111.5 402.3h0M106.4 396.8h0M100.5 479.3h0M105.2 403.9h0M101.9 454.8h0M102.6 405.1h0M102.5 459.7h0M104.2 454.5h0M101.1 430.1h0M100.9 487.7h0M96.6 451.6h0M97.3 427.3h0M95.9 506.9h0M94.6 482.4h0M91.6 480.2h0M88.6 403.6h0M103.5 442.1h0M96.2 452.6h0M94.8 491.0h0M110.6 424.5h0M94.2 470.8h0M106.3 404.5h0M95.5 469.1h0M90.0 454.5h0M109.3 416.6h0M110.6 423.3h0M89.8 505.5h0M100.8 438.4h0M92.8 455.0h0M102.1 507.0h0M91.2 502.2h0M106.8 405.1h0M109.1 429.7h0M93.7 479.9h0M104.4 405.3h0M88.7 506.6h0M109.6 397.9h0M84.0 484.6h0M111.7 396.8h0M98.6 476.3h0M95.7 481.8h0M103.8 432.5h0M94.6 468.0h0M113.7 403.2h0M109.2 409.0h0M83.9 472.9h0M103.1 463.5h0M98.9 451.1h0M114.3 395.2h0M105.1 453.2h0M108.5 403.0h0M100.3 453.3h0M95.5 493.9h0M94.0 506.0h0M95.0 436.1h0M109.4 421.9h0M103.1 435.3h0M109.8 398.9h0M109.2 411.5h0M119.5 394.8h0M107.8 415.3h0M92.0 496.0h0M125.8 401.2h0M90.5 499.4h0M95.0 460.3h0M83.1 503.0h0M109.9 405.6h0M107.2 397.4h0M96.0 503.9h0M90.0 495.8h0M93.1 490.3h0M90.5 507.2h0M100.6 461.0h0M88.4 470.6h0M82.2 504.5h0M87.8 508.1h0M96.5 505.4h0M92.7 438.6h0M103.1 505.8h0M97.7 455.8h0M101.1 440.8h0M101.1 415.4h0M94.1 461.0h0M99.8 441.5h0M105.1 397.5h0M97.8 488.3h0M90.5 454.7h0M116.3 400.0h0M87.9 502.4h0M109.3 418.2h0M81.6 508.4h0M96.4 506.3h0M94.8 506.2h0M102.7 468.5h0M97.4 456.9h0M100.0 508.1h0M116.9 395.0h0M107.4 394.1h0M98.3 399.9h0M103.5 467.4h0M99.6 424.5h0M88.0 491.3h0M99.6 485.9h0M85.7 493.2h0M105.6 434.2h0M85.7 484.0h0M97.3 481.1h0M101.7 395.1h0M93.2 474.3h0M104.4 417.4h0M100.2 428.1h0M83.4 480.1h0M91.2 478.5h0M111.1 401.4h0M95.6 483.4h0M99.1 414.4h0M95.4 478.6h0M128.9 475.7h0M113.9 397.0h0M85.7 506.6h0M77.7 490.7h0M99.1 486.7h0M107.6 426.5h0M93.4 490.0h0M106.9 445.7h0M107.5 414.6h0M105.7 394.4h0M110.9 405.2h0M91.1 504.5h0M103.1 395.4h0M103.3 453.1h0M83.8 498.3h0M110.6 438.3h0M99.2 498.6h0M108.6 477.4h0M97.2 496.9h0M95.6 482.3h0M105.3 508.3h0M107.6 399.5h0M112.0 450.2h0M98.7 409.3h0M103.8 429.3h0M104.4 460.3h0M108.2 398.6h0M113.4 399.1h0M91.6 476.4h0M101.1 410.1h0M88.0 476.0h0M91.5 482.9h0M86.7 426.6h0M100.8 449.2h0M104.2 462.1h0M85.5 507.7h0M95.0 495.9h0M95.1 448.0h0M109.4 414.6h0M114.4 416.4h0M113.7 486.0h0M107.7 425.2h0M89.0 503.2h0M104.2 426.8h0M104.5 394.9h0M81.9 469.4h0M92.7 499.8h0M106.8 403.7h0M107.1 462.8h0M97.9 454.4h0M92.8 421.5h0M100.2 475.1h0M100.6 413.9h0M95.0 491.9h0M95.6 493.3h0M96.9 435.9h0M86.3 427.0h0M104.0 440.1h0M109.2 415.9h0M103.0 458.2h0M103.6 489.6h0M106.3 425.3h0M94.9 505.9h0M101.0 454.7h0M111.2 405.9h0M105.7 420.6h0M103.6 401.9h0M94.0 469.9h0M97.6 469.7h0M86.2 482.3h0M91.3 483.1h0M97.3 440.5h0M93.2 405.2h0M94.9 456.5h0M98.5 396.5h0M108.8 424.6h0M88.2 507.6h0M106.7 415.6h0M101.3 481.4h0M99.5 447.1h0M98.6 491.6h0M92.9 484.1h0M107.3 394.2h0M107.6 403.4h0M98.9 474.9h0M94.2 492.2h0M96.0 475.9h0M98.5 487.4h0M101.6 416.5h0M105.0 401.3h0M98.9 505.6h0M106.9 424.4h0M97.8 456.6h0M100.7 469.2h0M101.1 409.8h0M97.7 491.8h0M93.1 494.6h0M102.4 458.0h0M93.3 490.8h0M96.3 482.4h0M107.3 408.9h0M96.9 503.1h0M106.7 399.4h0M111.0 398.0h0M106.1 471.6h0M108.9 413.9h0M90.2 499.1h0M93.4 467.6h0M99.5 477.5h0M96.0 493.0h0M80.2 404.1h0M106.0 426.4h0M106.4 403.9h0M90.4 505.2h0M107.6 456.3h0M96.1 475.4h0M87.0 505.0h0M107.1 401.3h0M105.6 442.2h0M105.8 425.1h0M103.2 396.2h0M114.3 479.9h0M108.6 395.7h0M95.1 506.7h0M105.0 397.0h0M108.3 407.0h0M95.1 500.3h0M80.4 501.9h0M116.2 393.4h0M100.3 482.3h0M110.8 398.9h0M102.7 421.8h0M105.6 437.5h0M97.6 455.5h0M95.1 501.3h0M93.3 499.9h0M95.8 490.9h0M107.6 403.6h0M88.2 507.0h0M82.2 498.3h0M108.1 421.6h0M98.5 454.1h0M93.4 477.5h0M91.2 496.8h0M94.0 506.4h0M90.6 490.6h0M98.8 500.6h0M89.1 480.1h0M81.4 496.6h0M94.0 505.2h0M105.9 397.9h0M93.0 507.6h0M109.0 408.9h0M97.3 477.2h0M94.9 484.9h0M89.8 502.3h0M85.1 497.3h0M99.9 478.8h0M91.2 507.7h0M102.3 403.7h0M108.5 442.0h0M100.2 454.5h0M97.5 456.1h0M105.2 402.0h0M108.2 454.1h0M118.1 411.1h0M104.9 489.0h0M109.3 395.3h0M80.0 489.3h0M96.1 500.1h0M99.6 489.6h0M103.4 406.4h0M117.6 396.2h0M96.1 429.6h0M121.7 394.0h0M89.2 499.4h0M103.4 492.2h0M101.0 481.7h0M111.2 398.8h0M93.0 497.6h0M101.1 453.5h0M96.2 502.0h0M107.8 440.6h0M95.0 495.7h0M110.6 393.2h0M108.8 410.4h0M94.7 483.6h0M105.1 408.7h0M98.6 457.3h0M88.3 488.2h0M104.0 422.0h0M95.2 505.3h0M109.7 397.0h0M98.7 399.7h0M92.6 501.2h0M95.2 462.7h0M91.6 507.3h0M111.1 420.0h0M103.0 433.5h0M96.5 438.3h0M93.2 484.6h0M92.2 457.4h0M85.5 490.5h0M102.9 468.5h0M82.9 490.3h0M93.1 489.3h0M89.5 490.7h0M97.4 508.3h0M96.8 494.5h0M110.9 407.9h0M104.0 397.4h0M92.3 486.6h0M95.3 450.5h0M106.5 399.2h0M93.0 506.2h0M104.9 429.3h0M88.6 506.7h0M107.2 428.7h0M102.5 468.4h0M104.7 461.8h0M85.3 469.6h0M108.1 394.5h0M89.5 508.4h0M96.2 505.0h0M102.1 439.4h0M100.8 437.9h0M96.5 492.8h0M102.9 431.7h0M103.7 454.7h0M107.5 447.2h0M123.4 401.4h0M89.0 496.6h0M91.3 440.0h0M100.9 406.4h0M117.7 485.8h0M104.5 399.8h0M86.4 496.3h0M86.5 506.5h0M90.8 501.2h0M86.8 448.7h0M117.3 404.1h0M96.5 478.1h0M97.7 458.5h0M105.5 457.0h0M108.9 417.4h0M91.4 499.5h0M93.6 463.3h0M93.5 498.1h0M97.0 425.9h0M110.8 409.2h0M87.6 508.1h0M90.2 440.7h0M101.1 467.8h0M101.4 413.4h0M85.8 493.3h0M101.9 453.4h0M93.5 503.2h0M90.7 411.0h0M109.0 393.7h0M112.6 438.1h0M116.5 396.5h0M104.6 396.5h0M103.2 471.3h0M100.6 448.6h0M105.6 443.4h0M128.1 403.4h0M85.2 490.8h0M109.1 412.4h0M94.3 496.2h0M103.9 415.8h0M99.9 456.1h0M88.2 506.8h0M102.1 478.6h0M101.6 423.8h0M94.3 465.1h0M114.4 437.9h0M106.8 393.8h0M96.7 503.8h0M90.3 492.5h0M89.0 493.8h0M88.1 453.7h0M93.7 482.7h0M98.1 468.6h0M86.6 495.5h0M96.0 493.5h0M107.8 394.6h0M103.4 393.5h0M79.8 465.0h0M104.5 448.1h0M88.6 506.6h0M92.6 478.8h0M109.9 411.8h0M98.3 427.3h0M96.9 467.8h0M107.9 394.9h0M108.7 393.2h0M100.9 466.2h0M95.1 500.1h0M106.3 417.1h0M104.3 407.5h0M84.2 496.2h0M92.0 457.6h0M96.9 402.1h0M98.9 427.8h0M91.7 496.1h0M104.4 406.8h0M83.1 495.2h0M109.4 396.4h0M88.8 453.6h0M86.0 507.3h0M98.4 496.2h0M104.4 409.7h0M96.6 394.8h0M104.1 429.4h0M108.0 471.8h0M111.3 393.7h0M95.9 504.0h0M105.3 403.1h0M90.9 505.8h0M102.2 506.9h0M94.0 500.8h0M107.3 408.9h0M100.8 436.3h0M98.5 466.2h0M101.7 426.2h0M97.5 491.6h0M101.2 396.5h0M90.0 446.2h0M113.0 420.2h0M91.7 503.9h0M98.6 458.0h0M99.6 502.8h0M112.7 413.8h0M87.2 506.3h0M110.1 411.7h0M102.4 402.9h0M103.4 418.8h0M100.5 399.1h0M109.9 396.4h0M109.1 472.0h0M99.1 482.2h0M86.6 481.6h0M83.7 453.8h0M106.1 467.1h0M108.4 468.3h0M105.2 395.3h0M103.2 448.5h0M92.4 479.9h0M104.6 396.8h0M93.3 501.6h0M104.1 458.2h0M104.4 419.7h0M109.6 415.1h0M91.2 503.4h0M92.4 504.5h0M93.2 502.9h0M87.7 495.5h0M104.5 400.7h0M95.0 459.9h0M93.0 431.7h0M91.6 496.0h0M93.3 484.9h0M101.1 416.1h0M112.8 431.3h0M100.4 472.5h0M110.1 405.1h0M87.1 487.4h0M89.3 486.0h0M99.6 480.6h0M69.5 487.9h0M109.8 409.9h0M93.1 505.4h0M107.4 426.9h0M93.1 507.3h0M90.9 506.9h0M102.9 454.9h0M107.8 435.5h0M95.0 464.2h0M96.3 507.7h0M106.8 401.0h0M97.8 402.6h0M88.9 496.1h0M104.2 399.0h0M96.5 488.2h0M97.3 451.8h0M91.6 494.2h0M85.5 499.9h0M88.3 505.8h0M96.9 472.9h0M106.0 415.7h0M97.5 477.3h0M102.3 417.6h0M109.9 408.6h0M104.6 396.9h0M110.3 403.9h0M101.1 451.2h0M96.0 436.7h0M95.8 462.6h0M93.4 495.6h0M93.2 502.6h0M112.6 395.5h0M95.0 496.7h0M98.9 419.7h0M110.9 397.1h0M98.7 439.3h0M99.6 485.3h0M109.3 428.5h0M109.1 396.4h0M90.6 497.8h0M96.4 496.6h0M94.1 482.9h0M104.1 410.7h0M112.5 409.6h0M94.0 485.6h0M84.4 447.8h0M111.7 406.8h0M94.3 502.1h0M101.4 461.7h0M107.6 426.0h0M98.8 413.6h0M103.8 414.0h0M86.0 504.7h0M98.0 457.7h0M92.8 485.9h0M101.1 437.6h0M97.9 425.7h0M99.7 459.6h0M106.0 437.3h0M103.3 393.9h0M100.7 394.8h0M108.1 405.3h0M94.5 448.9h0M107.2 394.2h0M96.5 488.1h0M92.7 506.8h0M98.8 465.3h0M91.7 497.4h0M88.4 508.1h0M93.1 500.6h0M92.9 478.1h0M96.7 480.5h0M113.3 429.8h0M105.9 417.1h0M107.4 417.5h0M76.8 501.7h0M108.3 412.5h0M105.7 396.1h0M93.9 469.2h0M94.7 468.2h0M93.8 424.2h0M99.0 417.6h0M99.7 452.0h0M112.4 427.6h0M93.3 498.0h0M84.3 506.9h0M98.6 487.4h0M89.2 478.7h0M101.0 459.5h0M87.9 485.4h0M95.8 498.1h0M96.0 441.2h0M107.8 424.1h0M97.2 471.7h0M93.5 478.3h0M94.7 450.4h0M88.5 486.0h0M103.2 424.6h0M81.9 485.4h0M94.4 507.5h0M109.8 395.0h0M100.4 429.4h0M99.1 407.4h0M97.7 466.4h0M95.5 463.7h0M95.0 449.0h0M111.4 445.1h0M95.5 462.6h0M103.5 495.6h0M119.8 417.9h0M103.5 449.7h0M117.3 394.5h0M104.7 494.0h0M105.4 476.3h0M97.8 456.9h0M100.0 507.4h0M75.8 495.7h0M84.7 507.5h0M92.0 489.1h0M98.4 443.9h0M96.6 445.0h0M114.2 403.4h0M103.5 438.4h0M106.7 404.2h0M112.0 420.9h0M92.1 508.0h0M98.3 443.1h0M100.9 505.6h0M111.2 415.5h0M111.5 399.3h0M120.9 398.2h0M98.6 431.0h0M96.7 451.4h0M88.1 504.2h0M107.6 411.7h0M104.3 437.8h0M95.6 470.2h0M92.1 503.6h0M80.9 504.2h0M91.8 481.8h0M105.2 409.2h0M88.8 454.7h0M93.9 496.0h0M108.0 410.4h0M106.9 402.7h0M95.4 437.2h0M91.9 468.3h0M105.4 435.4h0M94.2 461.9h0M99.7 419.6h0M102.6 500.5h0M118.9 400.0h0M103.5 449.7h0M116.7 393.7h0M97.3 507.8h0M98.1 495.7h0M93.7 505.4h0M109.6 450.7h0M104.3 427.9h0M84.8 486.4h0M90.1 441.2h0M110.8 439.9h0M95.5 493.6h0M101.4 455.8h0M94.6 501.7h0M97.7 480.2h0M95.3 486.4h0M86.3 491.1h0M98.0 500.6h0M108.6 432.4h0M90.2 456.3h0M125.6 395.1h0M90.6 507.8h0M97.7 461.3h0M96.2 448.8h0M113.7 420.9h0M99.7 437.7h0M107.5 393.7h0M88.0 492.9h0M89.4 506.3h0M119.0 420.1h0M96.2 495.4h0M117.7 444.1h0M102.4 472.8h0M116.6 394.2h0M82.6 498.9h0M114.0 396.2h0M102.9 426.0h0M118.3 441.4h0M102.7 446.0h0M104.0 499.6h0M96.4 451.2h0M97.8 444.7h0M98.6 475.9h0M81.4 503.0h0M92.0 484.8h0M101.1 469.1h0M101.5 465.2h0M91.2 504.8h0M104.4 443.9h0M105.7 401.7h0M87.3 464.1h0M110.2 397.5h0M99.7 435.6h0M98.9 480.4h0M95.1 499.2h0M95.0 502.6h0M96.4 491.6h0M107.3 466.0h0M88.3 500.4h0M99.2 471.0h0M104.6 395.3h0M87.4 507.4h0M102.8 436.6h0M101.2 443.9h0M103.9 430.0h0M101.8 432.7h0M99.2 454.5h0M95.7 475.1h0M98.4 467.9h0M81.9 496.7h0M97.2 491.0h0M99.8 447.6h0M83.8 448.4h0M101.7 442.1h0M99.4 491.5h0M102.8 502.3h0M107.6 394.1h0M93.0 422.6h0M108.8 407.2h0M93.7 437.2h0M108.9 411.9h0M102.1 404.0h0M114.8 398.1h0M95.2 456.2h0M117.9 420.2h0M108.8 407.9h0M89.8 505.5h0M96.8 451.5h0M100.7 428.6h0M94.5 496.2h0M92.0 486.0h0M112.1 401.3h0M113.1 425.0h0M101.5 455.5h0M93.4 483.0h0M85.1 440.2h0M105.7 393.2h0M81.8 442.8h0M93.6 498.2h0M82.5 506.1h0M108.5 402.3h0M109.4 421.1h0M100.1 496.7h0M105.4 397.7h0M108.8 398.9h0M92.5 491.7h0M96.6 490.5h0M100.5 425.7h0M103.7 453.1h0M110.8 421.2h0M110.2 402.0h0M108.0 485.2h0M99.3 433.0h0M91.5 503.2h0M113.5 415.1h0M110.2 402.3h0M90.7 508.4h0M88.5 501.9h0M103.7 429.8h0M90.6 505.9h0M107.6 449.5h0M100.7 417.6h0M105.4 443.6h0M115.4 412.9h0M101.2 457.6h0M103.6 402.3h0M93.1 470.9h0M101.4 480.6h0M82.0 496.9h0M85.0 506.8h0M98.2 460.8h0M103.1 450.3h0M87.0 465.4h0M86.9 498.2h0M94.9 478.3h0M108.8 404.7h0M106.5 439.6h0M106.9 400.1h0M104.0 425.3h0M94.8 478.6h0M117.2 393.8h0M101.1 496.5h0M94.4 506.2h0M98.7 487.5h0M103.8 436.7h0M122.8 410.0h0M99.4 435.1h0M103.1 484.4h0M98.1 397.6h0M109.9 428.2h0M98.8 438.5h0M97.2 480.2h0M115.5 395.3h0M108.4 399.0h0M97.3 494.3h0M106.3 399.7h0M99.6 433.1h0M99.1 467.0h0M109.9 400.3h0M93.9 486.1h0M97.8 443.2h0M109.8 399.0h0M107.3 436.5h0M82.9 503.7h0M98.5 486.9h0M99.3 434.1h0M98.2 489.1h0M99.8 448.2h0M101.8 411.6h0M92.9 482.9h0M101.7 502.2h0M113.8 428.1h0M112.8 395.4h0M80.1 457.8h0M100.9 422.6h0M103.1 417.1h0M102.1 427.5h0M88.4 501.7h0M102.1 420.7h0M110.6 416.4h0M86.5 490.8h0M107.6 422.6h0M93.1 491.3h0M95.0 498.8h0M95.2 493.5h0M103.9 400.9h0M107.0 404.9h0M103.4 437.7h0M105.5 395.4h0M95.2 489.6h0M106.0 405.2h0M95.8 476.5h0M93.3 507.6h0M110.3 407.2h0M102.0 430.3h0M92.7 504.2h0M94.8 473.1h0M100.0 420.3h0M92.6 472.0h0M105.4 408.9h0M92.5 505.2h0M114.1 393.8h0M99.4 458.5h0M100.7 490.0h0M95.0 481.4h0M89.0 487.6h0M89.5 505.8h0M86.1 500.4h0M107.7 438.4h0M110.0 408.4h0M95.7 501.6h0M105.2 426.3h0M91.2 476.1h0M109.0 393.8h0M105.5 414.7h0M112.8 409.7h0M94.9 428.1h0M101.6 421.0h0M95.9 464.2h0M103.8 491.8h0M103.9 395.6h0M109.1 397.2h0M111.3 401.5h0M91.5 498.7h0M98.2 450.3h0M108.3 411.7h0M97.2 443.2h0M89.2 506.6h0M100.2 451.8h0M82.8 503.4h0M82.3 500.2h0M105.4 418.3h0M86.7 508.5h0M108.6 400.8h0M84.4 498.9h0M91.6 480.3h0M108.0 462.4h0M94.4 476.0h0M95.2 467.5h0M78.7 491.8h0M93.7 442.4h0M106.8 500.0h0M103.1 457.3h0M106.2 450.8h0M102.4 467.9h0M111.9 400.0h0M96.3 462.2h0M86.6 483.7h0M109.0 393.9h0M118.4 397.1h0M104.2 416.9h0M95.5 468.4h0M93.6 396.3h0M112.5 429.1h0M77.6 459.8h0M95.4 459.3h0M110.8 404.9h0M109.0 431.1h0M92.9 485.0h0M88.4 507.8h0M105.2 409.9h0M81.8 445.5h0M115.5 407.4h0M88.2 434.8h0M110.5 403.6h0M106.6 419.5h0M103.7 452.1h0M105.3 461.7h0M91.7 507.1h0M97.4 505.3h0M106.1 394.1h0M95.5 494.8h0M93.5 488.6h0M109.7 394.1h0M103.6 432.8h0M79.7 507.4h0M93.1 508.3h0M89.9 506.4h0M99.3 477.5h0M105.9 408.2h0M102.9 424.6h0M89.1 483.0h0M110.5 408.3h0M83.5 504.5h0M98.3 474.6h0M117.5 401.6h0M112.4 393.3h0M93.8 489.2h0M93.2 499.4h0M98.4 437.3h0M102.4 435.0h0M112.0 409.9h0M108.5 417.5h0M120.2 395.7h0M113.5 394.4h0M105.4 412.2h0M87.1 497.4h0M89.3 466.4h0M97.0 437.6h0M105.9 463.5h0M108.7 399.4h0M107.5 411.9h0M104.6 430.9h0M100.8 446.3h0M105.0 403.8h0M101.8 490.2h0M87.6 501.4h0M109.2 476.4h0M87.7 498.0h0M83.6 480.7h0M80.7 508.2h0M105.3 454.1h0M101.9 488.1h0M116.6 410.1h0M114.0 403.5h0M112.6 415.6h0M93.4 505.6h0M103.6 436.7h0M102.7 430.9h0M86.5 500.0h0M97.8 420.9h0M97.8 493.4h0M93.5 505.1h0M109.2 423.8h0M96.1 480.6h0M108.8 393.9h0M91.5 435.9h0M97.3 481.3h0M104.8 440.0h0M103.7 448.9h0M96.1 459.5h0M89.4 495.6h0M77.6 492.1h0M101.5 396.1h0M98.9 492.3h0M107.8 395.5h0M97.7 492.3h0M100.9 407.8h0M103.5 449.7h0M116.4 397.4h0M102.8 441.8h0M101.9 446.2h0M87.6 480.7h0M94.9 433.9h0M110.0 414.8h0M107.1 405.4h0M100.9 461.7h0M100.3 451.6h0M99.7 459.0h0M98.4 507.6h0M103.1 435.3h0M100.0 501.7h0M101.6 447.8h0M86.8 483.5h0M106.3 480.3h0M101.7 454.7h0M98.0 502.4h0M89.4 449.5h0M90.5 396.0h0M103.7 395.8h0M109.4 394.8h0M120.3 400.0h0M103.8 422.1h0M104.8 394.3h0M111.8 449.9h0M109.7 404.5h0M98.7 415.1h0M97.9 435.4h0M97.1 492.8h0M100.1 428.2h0M109.7 394.4h0M99.5 425.7h0M100.7 467.7h0M107.4 433.2h0M91.3 470.2h0M100.0 451.5h0M97.7 491.4h0M118.0 408.7h0M94.2 469.5h0M96.9 457.8h0M105.7 451.5h0M91.2 505.4h0M107.9 396.6h0M113.2 395.0h0M99.5 485.6h0M113.7 393.4h0M96.9 442.1h0M74.8 474.8h0M102.0 428.7h0M107.0 421.1h0M102.7 480.4h0M97.2 422.5h0M86.3 502.3h0M106.0 408.6h0M91.5 484.9h0M91.7 504.5h0M102.0 450.9h0M93.0 502.2h0M105.0 404.2h0M109.6 396.1h0M89.0 500.3h0M93.6 479.6h0M84.5 501.1h0M91.6 501.3h0M88.7 495.1h0M99.6 456.2h0M93.9 504.4h0M108.0 408.8h0M114.4 393.7h0M93.1 497.7h0M99.7 448.2h0M101.8 482.5h0M82.8 508.3h0M91.5 507.3h0M112.7 394.9h0M99.3 453.7h0M107.9 395.8h0M122.1 444.3h0M105.9 406.0h0M99.7 400.9h0M88.3 479.5h0M105.1 397.2h0M111.0 397.9h0M104.6 466.0h0M108.5 443.7h0M94.5 500.5h0M113.6 395.6h0M99.2 495.8h0M93.4 444.1h0M91.6 481.6h0M88.0 475.1h0M108.0 404.0h0M99.8 436.0h0M105.4 400.0h0M113.2 447.7h0M106.9 400.2h0M82.4 498.6h0M94.7 489.2h0M93.0 508.6h0M107.6 399.2h0M109.3 402.1h0M94.3 503.3h0M96.2 496.6h0M113.0 455.2h0M85.3 498.5h0M113.9 398.1h0M107.0 394.9h0M97.6 432.2h0M106.9 429.2h0M103.5 464.0h0M96.5 503.2h0M82.8 505.2h0M84.6 490.0h0M93.3 457.2h0M110.2 399.7h0M86.4 488.7h0M101.6 424.2h0M109.7 394.3h0M117.5 394.5h0M99.5 402.4h0M98.9 403.8h0M86.4 508.1h0M94.9 477.5h0M100.6 431.3h0M100.5 448.2h0M108.6 408.3h0M103.4 402.4h0M103.8 417.1h0M92.2 498.4h0M88.0 478.0h0M92.4 496.0h0M105.4 401.1h0M111.2 424.7h0M103.9 398.4h0M103.3 438.2h0M92.6 498.8h0M99.0 457.6h0M86.8 497.5h0M91.2 504.5h0M89.1 505.9h0M103.8 404.4h0M90.4 469.8h0M89.4 499.6h0M110.9 486.0h0M95.2 452.6h0M98.8 461.9h0M93.8 470.3h0M98.6 484.3h0M113.6 409.4h0M99.8 475.0h0M111.5 394.8h0M91.1 495.4h0M100.0 508.4h0M108.1 495.4h0M90.8 418.4h0M119.1 431.0h0M109.6 413.0h0M108.2 409.3h0M100.7 395.0h0M100.4 481.9h0M110.5 400.7h0M103.3 435.9h0M95.8 462.6h0M113.4 395.7h0M106.4 396.5h0M92.6 505.3h0M93.7 403.7h0M102.3 406.2h0M110.4 501.9h0M87.5 489.5h0M99.0 463.5h0M100.0 461.1h0M107.8 402.3h0M114.6 399.4h0M98.8 503.1h0M91.6 508.4h0M115.8 493.1h0M103.7 425.5h0M101.6 427.5h0M119.3 397.2h0M109.6 398.0h0M113.8 399.5h0M95.4 499.2h0M110.4 397.1h0M95.5 494.6h0M103.9 395.2h0M110.9 402.4h0M113.1 414.4h0M114.3 407.8h0M108.3 413.3h0M102.2 455.9h0M92.0 502.9h0M113.2 404.2h0M107.1 413.9h0M102.2 412.8h0M98.9 464.1h0M107.0 402.5h0M86.4 482.8h0M90.8 502.5h0M109.5 400.3h0M91.9 462.7h0M95.4 484.2h0M90.3 474.6h0M108.4 395.8h0M105.4 424.9h0M97.9 475.1h0M87.3 497.0h0M95.6 492.8h0M114.0 455.6h0M94.5 504.5h0M104.5 469.7h0M99.2 468.3h0M96.8 501.4h0M99.0 473.6h0M95.9 494.9h0M102.4 442.6h0M105.2 395.9h0M103.1 394.7h0M92.3 498.0h0M99.0 457.3h0M112.5 416.1h0M99.4 471.2h0M82.8 504.8h0M93.4 489.0h0M87.4 496.5h0M91.5 500.2h0M101.6 438.6h0M85.8 453.6h0M88.5 494.4h0M99.5 396.0h0M97.1 465.5h0M112.1 395.3h0M94.1 471.7h0M102.8 435.3h0M85.7 474.1h0M98.4 466.5h0M89.1 498.2h0M90.1 503.1h0M98.7 497.6h0M106.1 411.9h0M111.5 408.5h0M113.2 407.7h0M89.5 503.3h0M97.2 397.0h0M99.6 424.7h0M85.3 497.7h0M89.7 468.9h0M99.3 459.4h0M99.6 437.5h0M98.9 507.5h0M94.9 505.3h0M109.6 416.1h0M104.2 420.3h0M93.7 497.4h0M98.1 457.3h0M103.6 406.2h0M107.3 449.0h0M94.2 471.4h0M96.2 506.6h0M78.0 500.8h0M97.4 424.4h0M109.1 449.9h0M103.8 427.0h0M98.7 500.2h0M90.2 508.2h0M97.3 487.9h0M98.9 480.1h0M99.3 472.1h0M117.7 397.9h0M104.0 398.6h0M97.5 431.5h0M100.4 448.0h0M108.4 432.6h0M94.9 464.1h0M110.4 402.2h0M91.0 506.0h0M100.3 409.6h0M102.5 430.4h0M109.5 470.6h0M88.3 505.7h0M97.7 432.5h0M90.4 500.7h0M86.1 502.2h0M91.6 462.3h0M102.9 467.5h0M88.5 455.3h0M85.7 492.6h0M98.6 458.1h0M118.4 395.6h0M96.2 454.5h0M85.6 497.5h0M92.0 494.8h0M93.4 488.4h0M105.4 397.3h0M106.5 422.7h0M112.0 397.5h0M98.6 427.8h0M114.4 395.7h0M85.6 506.9h0M87.5 505.9h0M99.9 439.9h0M106.2 422.5h0M100.6 501.7h0M90.5 477.3h0M105.0 481.8h0M104.5 415.5h0M94.5 495.5h0M90.0 500.6h0M95.9 487.1h0M93.8 495.5h0M106.2 446.6h0M94.7 458.9h0M107.5 409.7h0M96.4 486.6h0M104.3 477.9h0M93.0 496.0h0M112.3 394.1h0M91.9 493.7h0M102.5 417.6h0M101.9 420.8h0M87.7 499.3h0M100.5 410.9h0M102.7 426.4h0M97.5 492.6h0M89.4 505.6h0M98.3 477.8h0M91.0 483.6h0M88.3 499.5h0M99.6 496.7h0M109.3 425.3h0M93.7 493.8h0M87.2 500.6h0M85.9 445.9h0M111.9 398.7h0M90.6 500.2h0M89.6 502.0h0M110.7 398.7h0M86.5 507.8h0M94.4 473.9h0M94.8 399.4h0M103.4 462.5h0M87.3 488.1h0M98.2 452.7h0M105.0 415.6h0M87.2 491.9h0M95.7 456.7h0M89.4 483.4h0M118.5 426.3h0M108.7 435.8h0M117.2 490.4h0M81.8 460.7h0M95.6 441.7h0M111.4 400.0h0M96.1 456.0h0M100.4 494.3h0M99.4 447.2h0M95.4 394.3h0M108.3 399.1h0M111.8 397.9h0M95.8 504.1h0M110.1 394.4h0M114.7 421.7h0M101.1 432.1h0M97.6 446.7h0M108.8 419.9h0M95.2 507.5h0M107.4 404.1h0M89.1 504.1h0M121.6 395.5h0M102.3 432.4h0M87.6 488.6h0M90.9 498.6h0M89.3 468.4h0M103.7 396.5h0M102.9 453.1h0M106.6 444.9h0M97.6 493.8h0M108.9 396.4h0M87.0 470.2h0M92.9 489.0h0M95.0 430.1h0M94.7 487.1h0M103.7 467.8h0M94.3 506.3h0M88.0 506.1h0M107.9 420.6h0M99.3 494.1h0M104.8 421.5h0M111.0 425.9h0M111.4 413.9h0M104.6 415.3h0M97.0 402.6h0M94.5 462.9h0M86.0 474.7h0M107.4 403.0h0M84.5 501.2h0M93.8 497.4h0M96.0 503.2h0M85.9 493.8h0M103.3 399.9h0M103.4 398.4h0M96.3 480.0h0M89.4 505.0h0M75.1 492.8h0M102.5 440.4h0M104.5 396.4h0M93.2 466.9h0M110.9 405.7h0M107.0 410.0h0M84.2 504.9h0M111.6 401.1h0M113.1 398.9h0M109.4 418.6h0M106.0 457.9h0M104.6 400.0h0M114.5 418.2h0M89.7 440.0h0M109.7 423.8h0M112.9 397.0h0M92.5 497.5h0M105.5 464.7h0M96.3 480.2h0M102.5 434.5h0M100.6 440.9h0M102.6 474.7h0M98.7 434.7h0M100.3 459.2h0M104.9 399.0h0M107.0 401.6h0M94.7 453.9h0M103.8 444.8h0M100.3 471.1h0" stroke="#969696" stroke-width="1.60" stroke-linecap="round"/>
<path d="M41.60 508.59L42.18 508.59L42.77 508.59L43.35 508.59L43.94 508.59L44.52 508.59L45.11 508.59L45.69 508.59L46.28 508.59L46.86 508.59L47.45 508.59L48.03 508.58L48.62 508.58L49.20 508.58L49.79 508.58L50.37 508.58L50.96 508.57L51.54 508.57L52.13 508.57L52.71 508.56L53.30 508.56L53.88 508.56L54.47 508.55L55.05 508.55L55.64 508.54L56.22 508.54L56.81 508.53L57.39 508.52L57.98 508.51L58.56 508.50L59.15 508.49L59.73 508.48L60.32 508.47L60.90 508.46L61.49 508.44L62.07 508.42L62.66 508.40L63.24 508.38L63.83 508.36L64.41 508.34L65.00 508.31L65.58 508.28L66.17 508.24L66.75 508.21L67.34 508.16L67.92 508.12L68.51 508.07L69.09 508.01L69.68 507.95L70.26 507.88L70.85 507.81L71.43 507.72L72.02 507.63L72.60 507.53L73.19 507.42L73.77 507.30L74.36 507.16L74.94 507.01L75.53 506.84L76.11 506.66L76.70 506.46L77.28 506.24L77.87 505.99L78.45 505.73L79.04 505.43L79.62 505.11L80.21 504.75L80.79 504.36L81.37 503.93L81.96 503.45L82.54 502.94L83.13 502.37L83.71 501.75L84.30 501.07L84.88 500.33L85.47 499.53L86.05 498.65L86.64 497.70L87.22 496.67L87.81 495.55L88.39 494.34L88.98 493.03L89.56 491.63L90.15 490.12L90.73 488.51L91.32 486.78L91.90 484.95L92.49 483.00L93.07 480.95L93.66 478.78L94.24 476.50L94.83 474.12L95.41 471.64L96.00 469.07L96.58 466.42L97.17 463.69L97.75 460.90L98.34 458.07L98.92 455.19L99.51 452.30L100.09 449.40L100.68 446.51L101.26 443.63L101.85 440.80L102.43 438.01L103.02 435.28L103.60 432.63L104.19 430.06L104.77 427.58L105.36 425.20L105.94 422.92L106.53 420.75L107.11 418.70L107.70 416.75L108.28 414.92L108.87 413.19L109.45 411.58L110.04 410.07L110.62 408.67L111.21 407.36L111.79 406.15L112.38 405.03L112.96 404.00L113.55 403.05L114.13 402.17L114.72 401.37L115.30 400.63L115.89 399.95L116.47 399.33L117.06 398.76L117.64 398.25L118.23 397.77L118.81 397.34L119.39 396.95L119.98 396.59L120.56 396.27L121.15 395.97L121.73 395.71L122.32 395.46L122.90 395.24L123.49 395.04L124.07 394.86L124.66 394.69L125.24 394.54L125.83 394.40L126.41 394.28L127.00 394.17L127.58 394.07L128.17 393.98L128.75 393.89L129.34 393.82L129.92 393.75L130.51 393.69L131.09 393.63L131.68 393.58L132.26 393.54L132.85 393.49L133.43 393.46L134.02 393.42L134.60 393.39L135.19 393.36L135.77 393.34L136.36 393.32L136.94 393.30L137.53 393.28L138.11 393.26L138.70 393.24L139.28 393.23L139.87 393.22L140.45 393.21L141.04 393.20L141.62 393.19L142.21 393.18L142.79 393.17L143.38 393.16L143.96 393.16L144.55 393.15L145.13 393.15L145.72 393.14L146.30 393.14L146.89 393.14L147.47 393.13L148.06 393.13L148.64 393.13L149.23 393.12L149.81 393.12L150.40 393.12L150.98 393.12L151.57 393.12L152.15 393.11L152.74 393.11L153.32 393.11L153.91 393.11L154.49 393.11L155.08 393.11L155.66 393.11L156.25 393.11L156.83 393.11L157.42 393.11L158.00 393.11" fill="none" stroke="#222" stroke-width="0.8" stroke-dasharray="2.8,1.8"/>
<line x1="41.60" y1="393.10" x2="41.60" y2="508.60" stroke="#555555" stroke-width="0.8"/>
<line x1="41.60" y1="508.60" x2="158.00" y2="508.60" stroke="#555555" stroke-width="0.8"/>
<line x1="39.20" y1="508.60" x2="41.60" y2="508.60" stroke="#555555" stroke-width="0.8"/>
<text x="36.20" y="511.20" font-size="7.6" text-anchor="end" fill="#231f20">0</text>
<line x1="39.20" y1="485.50" x2="41.60" y2="485.50" stroke="#555555" stroke-width="0.8"/>
<text x="36.20" y="488.10" font-size="7.6" text-anchor="end" fill="#231f20">0.2</text>
<line x1="39.20" y1="462.40" x2="41.60" y2="462.40" stroke="#555555" stroke-width="0.8"/>
<text x="36.20" y="465.00" font-size="7.6" text-anchor="end" fill="#231f20">0.4</text>
<line x1="39.20" y1="439.30" x2="41.60" y2="439.30" stroke="#555555" stroke-width="0.8"/>
<text x="36.20" y="441.90" font-size="7.6" text-anchor="end" fill="#231f20">0.6</text>
<line x1="39.20" y1="416.20" x2="41.60" y2="416.20" stroke="#555555" stroke-width="0.8"/>
<text x="36.20" y="418.80" font-size="7.6" text-anchor="end" fill="#231f20">0.8</text>
<line x1="39.20" y1="393.10" x2="41.60" y2="393.10" stroke="#555555" stroke-width="0.8"/>
<text x="36.20" y="395.70" font-size="7.6" text-anchor="end" fill="#231f20">1.0</text>
<line x1="41.60" y1="508.60" x2="41.60" y2="511.00" stroke="#555555" stroke-width="0.8"/>
<text x="41.60" y="521.20" font-size="7.6" text-anchor="middle" fill="#231f20">−10</text>
<line x1="70.70" y1="508.60" x2="70.70" y2="511.00" stroke="#555555" stroke-width="0.8"/>
<text x="70.70" y="521.20" font-size="7.6" text-anchor="middle" fill="#231f20">−5</text>
<line x1="99.80" y1="508.60" x2="99.80" y2="511.00" stroke="#555555" stroke-width="0.8"/>
<text x="99.80" y="521.20" font-size="7.6" text-anchor="middle" fill="#231f20">0</text>
<line x1="128.90" y1="508.60" x2="128.90" y2="511.00" stroke="#555555" stroke-width="0.8"/>
<text x="128.90" y="521.20" font-size="7.6" text-anchor="middle" fill="#231f20">5</text>
<line x1="158.00" y1="508.60" x2="158.00" y2="511.00" stroke="#555555" stroke-width="0.8"/>
<text x="158.00" y="521.20" font-size="7.6" text-anchor="middle" fill="#231f20">10</text>
<text x="18.40" y="450.85" font-size="8.9" text-anchor="middle" fill="#231f20" transform="rotate(-90 18.40 450.85)">Probability</text>
<text x="99.80" y="533.00" font-size="8.9" text-anchor="middle" fill="#231f20">Logit</text>
<path d="M183.80 508.60L212.84 508.60L212.84 506.29L208.37 506.29L208.37 503.98L204.54 503.98L204.54 501.67L202.07 501.67L202.07 499.36L200.39 499.36L200.39 497.05L198.86 497.05L198.86 494.74L198.07 494.74L198.07 492.43L196.95 492.43L196.95 490.12L196.48 490.12L196.48 487.81L195.79 487.81L195.79 485.50L195.63 485.50L195.63 483.19L194.90 483.19L194.90 480.88L194.46 480.88L194.46 478.57L194.11 478.57L194.11 476.26L193.69 476.26L193.69 473.95L193.72 473.95L193.72 471.64L193.43 471.64L193.43 469.33L193.36 469.33L193.36 467.02L193.32 467.02L193.32 464.71L193.07 464.71L193.07 462.40L192.99 462.40L192.99 460.09L192.71 460.09L192.71 457.78L192.76 457.78L192.76 455.47L192.70 455.47L192.70 453.16L192.86 453.16L192.86 450.85L192.86 450.85L192.86 448.54L192.86 448.54L192.86 446.23L192.79 446.23L192.79 443.92L192.90 443.92L192.90 441.61L192.80 441.61L192.80 439.30L192.98 439.30L192.98 436.99L193.28 436.99L193.28 434.68L193.37 434.68L193.37 432.37L193.52 432.37L193.52 430.06L193.74 430.06L193.74 427.75L194.01 427.75L194.01 425.44L194.25 425.44L194.25 423.13L194.69 423.13L194.69 420.82L195.13 420.82L195.13 418.51L195.19 418.51L195.19 416.20L195.64 416.20L195.64 413.89L196.34 413.89L196.34 411.58L196.71 411.58L196.71 409.27L198.08 409.27L198.08 406.96L198.54 406.96L198.54 404.65L200.10 404.65L200.10 402.34L202.21 402.34L202.21 400.03L205.10 400.03L205.10 397.72L208.24 397.72L208.24 395.41L213.28 395.41L213.28 393.10L183.80 393.10Z" fill="#c0c0c0"/>
<line x1="183.80" y1="450.85" x2="222.60" y2="450.85" stroke="#444" stroke-width="0.8" stroke-dasharray="2.2,1.6"/>
<line x1="183.80" y1="393.10" x2="183.80" y2="508.60" stroke="#555555" stroke-width="0.8"/>
<line x1="183.80" y1="508.60" x2="222.60" y2="508.60" stroke="#555555" stroke-width="0.8"/>
<line x1="181.40" y1="508.60" x2="183.80" y2="508.60" stroke="#555555" stroke-width="0.8"/>
<text x="178.40" y="511.20" font-size="7.6" text-anchor="end" fill="#231f20">0</text>
<line x1="181.40" y1="485.50" x2="183.80" y2="485.50" stroke="#555555" stroke-width="0.8"/>
<text x="178.40" y="488.10" font-size="7.6" text-anchor="end" fill="#231f20">0.2</text>
<line x1="181.40" y1="462.40" x2="183.80" y2="462.40" stroke="#555555" stroke-width="0.8"/>
<text x="178.40" y="465.00" font-size="7.6" text-anchor="end" fill="#231f20">0.4</text>
<line x1="181.40" y1="439.30" x2="183.80" y2="439.30" stroke="#555555" stroke-width="0.8"/>
<text x="178.40" y="441.90" font-size="7.6" text-anchor="end" fill="#231f20">0.6</text>
<line x1="181.40" y1="416.20" x2="183.80" y2="416.20" stroke="#555555" stroke-width="0.8"/>
<text x="178.40" y="418.80" font-size="7.6" text-anchor="end" fill="#231f20">0.8</text>
<line x1="181.40" y1="393.10" x2="183.80" y2="393.10" stroke="#555555" stroke-width="0.8"/>
<text x="178.40" y="395.70" font-size="7.6" text-anchor="end" fill="#231f20">1.0</text>
<line x1="183.80" y1="508.60" x2="183.80" y2="511.00" stroke="#555555" stroke-width="0.8"/>
<text x="183.80" y="521.20" font-size="7.6" text-anchor="middle" fill="#231f20">0</text>
<line x1="222.60" y1="508.60" x2="222.60" y2="511.00" stroke="#555555" stroke-width="0.8"/>
<text x="222.60" y="521.20" font-size="7.6" text-anchor="middle" fill="#231f20">3</text>
<text x="203.20" y="533.00" font-size="8.9" text-anchor="middle" fill="#231f20">Density</text>
<text x="239.60" y="394.70" font-size="13" text-anchor="start" fill="#000" font-weight="bold" stroke="#000" stroke-width="0.45">g</text>
<path d="M274.70 508.60L290.97 508.60L290.97 504.62L290.71 504.62L290.71 500.63L291.00 500.63L291.00 496.65L290.65 496.65L290.65 492.67L291.05 492.67L291.05 488.69L290.89 488.69L290.89 484.70L291.34 484.70L291.34 480.72L291.72 480.72L291.72 476.74L291.76 476.74L291.76 472.76L292.17 472.76L292.17 468.77L292.30 468.77L292.30 464.79L292.57 464.79L292.57 460.81L292.74 460.81L292.74 456.82L293.48 456.82L293.48 452.84L294.04 452.84L294.04 448.86L294.84 448.86L294.84 444.88L295.15 444.88L295.15 440.89L295.89 440.89L295.89 436.91L296.54 436.91L296.54 432.93L297.54 432.93L297.54 428.94L298.39 428.94L298.39 424.96L300.43 424.96L300.43 420.98L301.27 420.98L301.27 417.00L303.50 417.00L303.50 413.01L306.29 413.01L306.29 409.03L309.48 409.03L309.48 405.05L314.05 405.05L314.05 401.07L320.76 401.07L320.76 397.08L327.59 397.08L327.59 393.10L274.70 393.10Z" fill="#c0c0c0"/>
<line x1="274.70" y1="393.10" x2="274.70" y2="508.60" stroke="#555555" stroke-width="0.8"/>
<line x1="274.70" y1="508.60" x2="332.70" y2="508.60" stroke="#555555" stroke-width="0.8"/>
<line x1="272.30" y1="393.10" x2="274.70" y2="393.10" stroke="#555555" stroke-width="0.8"/>
<text x="269.30" y="395.70" font-size="7.6" text-anchor="end" fill="#231f20">1.00</text>
<line x1="272.30" y1="450.85" x2="274.70" y2="450.85" stroke="#555555" stroke-width="0.8"/>
<text x="269.30" y="453.45" font-size="7.6" text-anchor="end" fill="#231f20">0.75</text>
<line x1="272.30" y1="508.60" x2="274.70" y2="508.60" stroke="#555555" stroke-width="0.8"/>
<text x="269.30" y="511.20" font-size="7.6" text-anchor="end" fill="#231f20">0.50</text>
<line x1="274.70" y1="508.60" x2="274.70" y2="511.00" stroke="#555555" stroke-width="0.8"/>
<text x="274.70" y="521.20" font-size="7.6" text-anchor="middle" fill="#231f20">0</text>
<line x1="303.70" y1="508.60" x2="303.70" y2="511.00" stroke="#555555" stroke-width="0.8"/>
<text x="303.70" y="521.20" font-size="7.6" text-anchor="middle" fill="#231f20">2.5</text>
<line x1="332.70" y1="508.60" x2="332.70" y2="511.00" stroke="#555555" stroke-width="0.8"/>
<text x="332.70" y="521.20" font-size="7.6" text-anchor="middle" fill="#231f20">5.0</text>
<text x="246.40" y="450.85" font-size="8.9" text-anchor="middle" fill="#231f20" transform="rotate(-90 246.40 450.85)">Confidence</text>
<text x="303.70" y="533.00" font-size="8.9" text-anchor="middle" fill="#231f20">Density</text>
<text x="359.60" y="393.50" font-size="13" text-anchor="start" fill="#000" font-weight="bold" stroke="#000" stroke-width="0.45">i</text>
<path d="M440.7 462.0h0M455.5 452.8h0M453.9 447.6h0M447.3 458.4h0M457.5 456.6h0M444.3 462.3h0M443.7 451.6h0M448.4 443.9h0M460.0 453.7h0M448.2 446.0h0M449.9 450.2h0M450.4 448.7h0M457.8 452.2h0M456.1 434.2h0M449.6 445.7h0M432.7 466.4h0M445.6 467.5h0M451.2 451.0h0M442.5 447.4h0M452.3 455.8h0M439.1 464.4h0M457.5 454.6h0M450.1 443.6h0M457.5 443.4h0M450.0 451.5h0M448.1 449.1h0M445.4 434.9h0M448.3 449.5h0M450.2 455.7h0M449.4 442.1h0M443.6 462.2h0M452.7 447.8h0M458.6 454.2h0M453.2 457.0h0M444.0 444.0h0M444.5 454.6h0M450.2 454.4h0M440.3 449.2h0M459.0 454.6h0M448.1 449.7h0M443.9 455.1h0M441.7 467.3h0M457.4 459.1h0M436.4 471.3h0M458.0 439.0h0M449.8 460.8h0M438.4 458.9h0M449.0 485.8h0M441.7 460.6h0M447.6 444.8h0M445.6 453.0h0M449.1 460.3h0M446.5 450.7h0M455.7 443.3h0M448.3 434.1h0M447.3 466.0h0M454.4 450.6h0M451.1 451.5h0M445.2 450.6h0M443.7 454.3h0M454.3 437.2h0M444.4 452.5h0M452.1 448.9h0M452.9 451.7h0M455.8 455.7h0M446.6 450.6h0M453.9 438.1h0M444.0 436.7h0M445.4 445.6h0M446.8 459.2h0M447.1 450.1h0M448.0 442.9h0M455.1 449.4h0M450.5 453.6h0M448.5 451.2h0M447.3 448.2h0M449.9 451.8h0M457.4 444.7h0M450.3 461.6h0M453.1 453.4h0M436.3 461.9h0M444.3 448.5h0M447.4 447.1h0M452.5 452.4h0M446.9 442.6h0M447.5 453.4h0M446.9 453.3h0M434.2 464.2h0M438.8 458.4h0M446.3 451.7h0M445.3 451.7h0M447.6 452.0h0M442.9 447.8h0M443.4 450.5h0M447.6 458.8h0M450.6 458.4h0M448.0 449.4h0M456.0 451.0h0M449.5 450.8h0M450.5 458.7h0M452.6 449.5h0M451.5 465.3h0M448.7 458.2h0M439.7 448.2h0M429.2 457.7h0M440.2 455.7h0M446.3 452.7h0M448.0 455.2h0M454.4 452.0h0M447.1 447.5h0M452.5 444.6h0M449.3 452.9h0M454.3 451.1h0M442.9 458.9h0M442.1 445.0h0M453.5 446.5h0M443.2 447.0h0M448.0 437.8h0M440.2 433.7h0M439.4 454.1h0M453.6 445.0h0M444.2 465.1h0M448.7 441.3h0M447.1 449.5h0M448.2 459.7h0M446.3 448.8h0M447.5 443.8h0M453.4 459.6h0M447.9 443.7h0M451.3 452.5h0M450.7 440.7h0M453.8 423.5h0M450.2 450.0h0M453.9 438.1h0M449.0 449.4h0M450.4 440.6h0M454.8 447.3h0M446.4 441.8h0M438.3 474.0h0M456.9 453.3h0M448.6 445.5h0M451.1 449.9h0M452.1 444.8h0M448.4 447.3h0M453.3 451.2h0M449.5 442.0h0M451.4 439.4h0M452.8 447.1h0M456.7 456.1h0M445.4 447.2h0M454.4 450.0h0M450.3 451.7h0M447.2 461.4h0M444.0 455.3h0M453.4 450.2h0M444.0 440.6h0M454.9 450.6h0M438.2 463.3h0M457.7 451.1h0M450.0 438.9h0M438.7 453.7h0M444.3 464.8h0M445.5 451.6h0M445.8 451.6h0M448.6 458.6h0M447.7 449.8h0M448.8 454.9h0M444.9 451.9h0M442.7 461.0h0M442.6 441.1h0M447.5 460.3h0M449.4 453.5h0M460.4 458.4h0M447.2 455.2h0M455.4 452.8h0M450.9 452.1h0M453.9 448.8h0M446.0 450.5h0M448.1 449.3h0M457.7 446.2h0M456.5 445.4h0M437.8 451.2h0M445.5 445.9h0M459.1 452.8h0M446.6 432.2h0M451.2 451.0h0M452.2 453.0h0M447.8 442.5h0M450.8 451.7h0M449.6 453.5h0M437.1 458.0h0M450.4 450.8h0M437.1 443.3h0M454.3 448.9h0M444.1 452.4h0M443.9 446.6h0M453.2 442.5h0M451.2 453.5h0M449.5 438.7h0M453.7 434.9h0M455.9 454.0h0M440.1 461.0h0M444.6 452.5h0M449.7 456.3h0M450.0 453.4h0M450.0 436.4h0M457.7 451.4h0M444.4 451.3h0M449.0 450.6h0M448.0 460.0h0M446.4 453.4h0M449.2 452.1h0M443.1 454.1h0M446.2 454.0h0M470.5 450.2h0M452.0 447.8h0M446.4 455.5h0M454.6 464.9h0M441.9 446.6h0M452.1 449.3h0M447.7 454.8h0M443.7 434.3h0M444.2 447.6h0M456.6 445.4h0M452.7 448.4h0M450.0 448.5h0M452.2 446.8h0M441.3 457.7h0M451.9 445.6h0M445.8 451.8h0M464.1 442.6h0M447.7 447.6h0M453.7 455.5h0M456.0 446.6h0M457.6 454.6h0M447.4 463.1h0M445.7 452.6h0M448.8 463.8h0M451.2 461.5h0M443.2 456.8h0M441.0 450.5h0M459.7 442.8h0M450.9 448.1h0M446.9 451.5h0M444.6 451.6h0M448.0 448.0h0M446.5 458.8h0M449.3 452.9h0M441.7 450.3h0M454.8 457.3h0M451.3 449.9h0M457.0 440.6h0M451.0 456.0h0M447.8 463.3h0M457.5 441.3h0M445.3 457.2h0M455.9 447.1h0M438.9 447.7h0M450.2 444.9h0M447.4 454.2h0M446.3 439.6h0M452.3 463.2h0M448.7 442.9h0M443.6 438.0h0M450.0 433.6h0M453.0 450.0h0M456.2 445.2h0M456.1 458.1h0M453.7 448.4h0M445.5 461.5h0M447.3 450.7h0M453.3 451.1h0M449.5 446.0h0M446.3 455.2h0M444.3 449.7h0M448.3 453.9h0M450.8 443.7h0M448.0 454.7h0M446.9 444.8h0M452.5 448.0h0M449.5 445.7h0M454.7 447.6h0M451.4 447.0h0M457.4 471.3h0M448.4 448.0h0M449.9 448.9h0M452.0 442.6h0M434.9 445.2h0M440.7 458.8h0M434.1 445.0h0M452.3 452.4h0M446.4 449.4h0M451.8 435.5h0M445.3 446.9h0M450.5 454.5h0M445.8 445.7h0M444.6 440.7h0M453.2 451.8h0M461.1 451.7h0M444.1 464.6h0M451.6 440.3h0M452.0 445.7h0M443.2 458.2h0M432.9 447.4h0M447.1 447.3h0M451.8 452.6h0M446.8 439.9h0M451.3 447.8h0M452.1 454.7h0M451.1 440.7h0M440.4 443.6h0M450.5 449.6h0M441.0 450.3h0M461.7 448.8h0M454.2 444.6h0M455.1 451.9h0M446.4 455.7h0M445.6 448.2h0M445.8 447.5h0M449.2 457.6h0M447.2 448.0h0M452.2 434.5h0M450.5 463.9h0M445.5 457.7h0M444.6 436.7h0M451.6 459.6h0M445.5 460.8h0M443.9 445.0h0M447.8 457.4h0M444.8 464.1h0M448.5 463.2h0M448.2 456.3h0M446.1 447.7h0M445.6 458.6h0M443.3 452.1h0M445.6 440.8h0M446.2 454.1h0M439.6 458.5h0M469.2 442.0h0M454.5 445.7h0M446.7 444.7h0M439.9 454.0h0M447.7 456.9h0M458.9 443.8h0M442.1 444.3h0M451.1 452.2h0M439.8 450.4h0M461.6 456.0h0M459.9 456.0h0M454.3 447.0h0M447.1 450.2h0M450.4 443.1h0M449.0 466.5h0M447.8 453.7h0M446.6 460.1h0M448.9 455.8h0M444.4 443.5h0M456.4 447.1h0M447.9 450.8h0M446.3 460.7h0M457.5 468.7h0M447.3 460.5h0M448.8 446.6h0M447.5 466.9h0M439.5 443.1h0M452.4 449.1h0M451.3 441.1h0M447.2 467.1h0M443.8 435.6h0M451.8 447.1h0M439.7 441.8h0M447.4 450.1h0M448.1 456.8h0M446.3 462.2h0M449.3 449.1h0M444.1 448.3h0M451.6 458.3h0M448.4 444.8h0M446.3 444.2h0M439.9 453.4h0M450.7 443.0h0M436.7 456.3h0M446.8 452.6h0M458.2 444.7h0M453.5 461.1h0M438.0 444.7h0M443.4 454.9h0M464.5 455.9h0M444.3 443.7h0M434.4 476.0h0M438.5 452.7h0M445.3 451.0h0M459.6 449.8h0M444.8 444.8h0M438.6 445.9h0M438.4 453.2h0M448.6 458.2h0M441.4 448.3h0M443.4 454.0h0M448.1 447.2h0M447.0 455.9h0M449.4 449.2h0M447.6 449.4h0M452.5 442.5h0M445.7 447.9h0M446.6 447.5h0M460.6 443.4h0M440.0 455.0h0M441.9 449.1h0M437.1 444.0h0M445.2 452.5h0M447.1 444.5h0M438.7 460.2h0M452.7 445.4h0M444.7 452.0h0M455.8 441.7h0M440.3 434.5h0M447.6 455.2h0M453.8 456.9h0M443.5 449.8h0M440.2 456.0h0M444.2 451.8h0M449.7 459.8h0M434.9 463.9h0M448.2 456.0h0M437.9 450.5h0M445.7 446.1h0M451.7 449.7h0M456.9 446.4h0M442.7 449.8h0M445.3 460.5h0M450.4 442.7h0M450.1 461.2h0M446.1 432.4h0M443.6 452.4h0M445.2 446.7h0M442.4 456.0h0M449.3 452.7h0M432.9 432.2h0M451.4 444.4h0M448.7 445.5h0M449.8 446.7h0M457.1 444.7h0M441.5 451.7h0M454.3 446.1h0M459.1 444.5h0M448.0 451.9h0M438.0 445.0h0M443.7 449.6h0M448.7 460.7h0M454.4 451.4h0M450.4 465.8h0M446.6 448.6h0M457.5 439.0h0M441.9 452.6h0M445.7 452.2h0M450.7 446.8h0M458.8 448.1h0M443.7 448.5h0M448.7 449.3h0M453.6 444.7h0M449.8 440.6h0M443.9 451.1h0M449.5 451.0h0M449.2 455.3h0M452.4 464.6h0M450.4 453.0h0M440.0 453.4h0M452.9 447.3h0M454.9 449.7h0M441.7 466.2h0M448.7 462.6h0M448.4 458.8h0M456.4 453.1h0M447.2 451.9h0M446.5 459.0h0M452.2 441.0h0M455.5 440.5h0M452.1 450.1h0M435.8 453.3h0M455.5 430.7h0M440.5 450.5h0M448.2 467.0h0M451.5 467.0h0M449.7 460.9h0M452.4 454.3h0M464.1 449.9h0M445.1 459.8h0M449.0 454.0h0M450.5 446.2h0M451.3 445.0h0M456.7 449.6h0M449.1 416.2h0M455.8 439.3h0M446.3 446.6h0M446.3 441.4h0M450.8 444.5h0M460.7 446.4h0M452.0 441.1h0M449.6 440.9h0M447.7 466.6h0M453.2 458.2h0M449.8 445.1h0M446.0 464.3h0M451.6 439.9h0M457.1 450.9h0M453.7 431.4h0M451.4 438.8h0M454.4 440.4h0M449.9 442.1h0M451.0 446.7h0M448.1 444.9h0M454.0 445.8h0M441.0 465.6h0M448.4 455.4h0M461.6 451.7h0M453.0 447.7h0M453.4 468.3h0M452.0 457.5h0M449.2 442.6h0M444.9 445.3h0M439.9 451.0h0M455.5 447.7h0M459.9 444.1h0M445.4 471.8h0M447.7 468.3h0M450.6 453.3h0M445.0 438.5h0M456.1 457.4h0M446.9 445.2h0M445.2 447.5h0M443.6 445.2h0M447.2 450.4h0M454.8 461.9h0M439.8 459.6h0M441.3 457.7h0M449.9 448.1h0M451.7 448.7h0M442.9 466.0h0M446.4 441.8h0M456.9 450.7h0M448.6 455.1h0M446.3 449.1h0M441.5 452.7h0M451.2 454.4h0M442.8 452.0h0M447.5 445.6h0M452.3 452.2h0M444.4 450.1h0M447.6 443.8h0M438.2 457.5h0M449.1 452.5h0M438.8 442.4h0M447.7 449.4h0M449.3 463.8h0M451.3 443.8h0M443.0 445.8h0M449.0 450.7h0M448.7 452.5h0M449.1 452.7h0M445.4 458.5h0M449.1 449.9h0M437.4 462.4h0M439.9 461.7h0M450.1 445.8h0M449.0 440.1h0M452.7 443.7h0M444.6 425.9h0M447.9 448.3h0M446.9 450.9h0M443.0 445.2h0M456.5 447.1h0M445.3 454.4h0M448.0 441.8h0M440.7 450.7h0M453.4 438.8h0M457.3 448.3h0M454.9 446.4h0M439.2 436.9h0M451.4 445.6h0M452.2 441.0h0M449.7 432.8h0M452.3 442.5h0M459.5 452.6h0M445.5 452.2h0M451.9 448.0h0M461.8 455.3h0M450.3 456.3h0M445.8 453.3h0M455.4 450.8h0M445.8 453.4h0M457.4 448.0h0M453.4 439.4h0M448.3 466.1h0M447.8 443.9h0M428.3 462.2h0M441.4 449.1h0M440.8 463.9h0M446.8 451.0h0M439.5 443.9h0M462.0 444.5h0M452.9 460.4h0M455.9 456.7h0M455.5 448.5h0M447.5 448.6h0M450.6 434.8h0M442.1 444.0h0M445.8 450.0h0M449.5 454.4h0M445.1 442.5h0M455.1 456.3h0M440.4 442.7h0M464.1 435.2h0M445.4 436.7h0M458.5 442.3h0M446.5 443.6h0M449.2 451.6h0M451.2 457.2h0M451.7 451.7h0M454.8 447.5h0M452.8 438.8h0M450.4 449.2h0M450.3 440.7h0M454.7 451.4h0M439.9 460.3h0M451.0 457.0h0M458.4 457.7h0M447.8 453.4h0M461.6 454.7h0M450.3 443.9h0M422.7 461.8h0M453.2 447.8h0M451.1 444.9h0M448.4 443.4h0M444.7 453.3h0M447.6 452.4h0M447.5 449.2h0M449.9 443.6h0M443.0 447.9h0M448.8 450.4h0M459.3 448.5h0M451.1 454.4h0M449.9 435.4h0M457.9 458.2h0M450.9 455.8h0M466.9 431.4h0M449.2 462.3h0M448.4 454.5h0M448.5 446.5h0M457.4 451.0h0M448.9 453.0h0M434.4 444.0h0M448.3 450.7h0M443.3 439.5h0M456.8 439.9h0M447.8 451.9h0M447.9 448.6h0M448.1 460.8h0M442.1 447.8h0M449.1 444.7h0M445.1 453.3h0M455.6 453.5h0M463.4 451.4h0M451.3 446.2h0M457.5 459.5h0M450.7 446.0h0M436.0 454.7h0M451.3 445.5h0M441.1 456.4h0M442.1 447.3h0M452.5 453.1h0M454.4 443.0h0M443.5 441.1h0M448.8 445.2h0M469.2 444.6h0M446.0 448.3h0M456.7 446.1h0M443.0 455.4h0M443.0 462.9h0M440.4 449.2h0M454.3 452.7h0M449.1 452.8h0M445.2 455.0h0M441.2 450.5h0M452.0 447.4h0M447.6 452.5h0M448.7 450.5h0M441.7 437.3h0M460.7 446.0h0M441.8 464.7h0M446.6 434.1h0M459.9 468.6h0M445.7 449.2h0M456.2 451.5h0M455.1 454.3h0M453.1 436.4h0M443.4 455.4h0M454.8 448.4h0M450.5 459.0h0M444.5 451.0h0M449.8 473.8h0M444.7 455.2h0M451.4 458.6h0M449.6 451.1h0M445.6 456.4h0M436.1 455.3h0M448.2 446.7h0M456.1 442.6h0M444.6 453.7h0M449.9 448.0h0M463.2 449.0h0M452.0 448.0h0M446.0 441.5h0M449.6 452.3h0M445.2 454.1h0M462.5 462.8h0M451.6 468.6h0M434.2 460.7h0M454.6 459.8h0M454.4 455.3h0M461.0 445.0h0M453.5 446.8h0M457.4 445.6h0M449.9 457.4h0M461.8 449.4h0M442.8 460.2h0M442.6 454.8h0M445.1 447.2h0M453.1 441.2h0M446.3 441.4h0M456.6 458.1h0M447.5 449.7h0M452.5 453.6h0M443.0 440.5h0M443.0 446.7h0M451.3 440.5h0M447.7 453.3h0M449.6 449.9h0M448.7 447.9h0M432.6 460.2h0M446.5 443.8h0M443.6 444.3h0M436.5 460.6h0M447.8 457.0h0M438.1 455.9h0M452.9 454.8h0M447.9 448.1h0M438.8 455.5h0M445.0 459.6h0M448.0 451.5h0M455.9 450.8h0M454.7 457.6h0M448.3 446.0h0M447.8 450.0h0M446.2 452.2h0M455.8 454.6h0M453.2 438.6h0M433.4 462.9h0M451.4 449.2h0M454.6 445.3h0M444.4 443.7h0M450.2 450.4h0M456.9 448.1h0M452.5 444.3h0M447.5 456.9h0M448.0 456.7h0M453.1 463.8h0M448.3 448.0h0M447.1 450.8h0M429.2 460.9h0M437.2 448.2h0M436.4 458.4h0M458.2 456.5h0M445.9 453.5h0M442.9 451.9h0M457.6 451.6h0M454.6 434.5h0M448.4 445.6h0M456.5 448.1h0M453.9 467.5h0M446.1 461.3h0M451.7 445.6h0M436.7 435.0h0M448.0 448.6h0M448.5 447.5h0M445.8 447.6h0M446.2 455.9h0M448.8 448.5h0M446.1 455.4h0M447.2 455.6h0M445.8 449.7h0M453.5 460.2h0M445.9 437.2h0M451.9 447.8h0M443.2 445.4h0M454.1 448.1h0M448.9 450.2h0M441.9 448.2h0M448.5 450.4h0M455.1 450.3h0M441.2 439.7h0M453.1 460.8h0M453.3 454.4h0M446.7 470.4h0M442.0 457.2h0M443.1 439.3h0M448.8 444.5h0M448.8 436.8h0M447.0 453.3h0M444.0 462.8h0M449.6 456.4h0M451.7 452.7h0M441.8 447.2h0M433.3 453.6h0M456.8 450.2h0M457.6 448.8h0M444.6 457.6h0M446.5 443.5h0M450.9 445.8h0M451.8 444.9h0M440.8 455.2h0M459.2 456.5h0M446.1 458.5h0M457.6 444.4h0M451.1 441.7h0M444.1 457.7h0M445.8 454.6h0M448.1 440.1h0M445.6 456.0h0M454.3 463.7h0M476.4 456.5h0M448.9 443.5h0M454.0 447.5h0M465.3 438.4h0M456.1 451.1h0M454.2 444.4h0M448.9 452.2h0M455.9 451.2h0M457.7 459.8h0M441.3 460.2h0M447.5 431.4h0M448.3 447.2h0M450.0 444.1h0M450.8 449.6h0M456.1 447.9h0M449.9 463.0h0M449.7 456.5h0M448.7 453.5h0M453.7 449.8h0M448.8 436.8h0M456.6 450.5h0M460.3 442.9h0M458.2 443.4h0M453.3 455.9h0M440.3 457.0h0M448.0 453.1h0M446.3 438.9h0M455.2 448.3h0M452.2 427.5h0M445.1 455.5h0M457.0 454.8h0M437.6 457.5h0M458.7 448.3h0M451.4 454.0h0M444.5 451.2h0M441.3 458.2h0M457.8 452.5h0M438.3 453.0h0M444.3 445.4h0M441.3 455.7h0M445.2 450.6h0M448.4 463.3h0M449.6 450.5h0M436.6 444.6h0M459.1 451.7h0M471.4 448.3h0M451.1 443.6h0M449.0 445.3h0M461.3 436.1h0M455.8 447.2h0M452.3 459.5h0M444.1 451.3h0M457.2 451.2h0M451.9 451.1h0M441.5 455.7h0M450.3 443.1h0M449.4 461.7h0M453.4 446.1h0M444.0 444.5h0M440.7 445.3h0M434.7 460.9h0M443.2 454.6h0M451.3 439.9h0M453.8 442.6h0M443.6 455.2h0M439.6 454.4h0M451.7 437.9h0M452.3 464.8h0M444.3 459.5h0M445.8 445.0h0M451.4 453.7h0M459.1 451.3h0M454.7 454.5h0M439.9 453.9h0M446.2 453.8h0M447.3 438.0h0M448.7 439.2h0M443.8 458.6h0M456.7 455.0h0M435.1 439.5h0M447.0 442.1h0M451.7 456.1h0M455.8 442.4h0M447.5 466.3h0M451.7 443.8h0M456.7 440.0h0M455.0 447.2h0M450.7 443.4h0M466.0 449.4h0M445.8 444.7h0M448.5 460.1h0M444.1 455.5h0M450.1 448.1h0M455.7 445.0h0M451.1 466.6h0M461.8 443.8h0M442.2 444.3h0M449.5 448.9h0M440.6 441.2h0M459.3 437.8h0M454.9 445.6h0M447.8 450.6h0M456.5 449.1h0M462.7 454.5h0M447.7 447.2h0M448.0 453.3h0M448.2 443.6h0M455.3 442.8h0M453.7 440.4h0M453.3 442.0h0M444.1 451.8h0M443.9 456.6h0M438.5 440.1h0M440.8 454.2h0M452.5 453.3h0M451.4 448.3h0M457.8 438.5h0M448.3 433.4h0M475.1 453.5h0M447.1 458.9h0M447.7 449.6h0M454.6 456.3h0M453.5 464.0h0M449.4 437.4h0M463.8 440.4h0M459.4 445.9h0M444.1 454.1h0M446.2 462.2h0M453.3 465.9h0M448.0 447.5h0M446.1 453.1h0M444.1 449.5h0M435.9 453.9h0M447.4 454.2h0M435.1 453.5h0M434.1 474.9h0M431.0 450.0h0M450.4 442.3h0M447.2 451.5h0M456.7 436.9h0M456.2 444.5h0M456.5 461.1h0M443.7 447.7h0M446.0 467.1h0M445.5 441.1h0M435.3 458.6h0M451.6 446.0h0M465.3 448.7h0M443.4 451.5h0M455.1 462.3h0M436.5 450.1h0M440.1 460.4h0M448.0 455.1h0M443.8 456.6h0M441.5 463.8h0M456.4 458.2h0M439.1 449.2h0M449.4 453.4h0M444.8 448.6h0M452.8 449.8h0M447.0 457.0h0M457.8 451.6h0M444.6 457.3h0M447.3 465.8h0M458.0 434.2h0M448.3 451.6h0M449.1 445.2h0M444.3 459.0h0M449.8 445.7h0M446.3 448.4h0M446.7 448.3h0M447.2 458.8h0M440.7 459.0h0M441.6 448.1h0M450.0 458.8h0M448.4 456.1h0M454.9 450.7h0M445.5 449.7h0M452.4 455.8h0M444.3 444.8h0M457.4 443.8h0M437.4 454.9h0M446.2 429.2h0M447.3 450.5h0M451.2 449.8h0M444.4 455.1h0M449.0 451.0h0M446.7 457.3h0M445.9 449.1h0M454.1 454.4h0M443.0 458.8h0M453.7 453.8h0M449.0 442.8h0M469.7 451.7h0M439.4 447.7h0M446.2 453.1h0M451.9 448.1h0M451.1 452.3h0M449.1 450.6h0M444.7 444.8h0M452.5 456.2h0M445.8 452.1h0M440.5 442.8h0M453.1 449.5h0M444.7 458.5h0M451.3 432.8h0M448.7 459.1h0M439.5 449.4h0M441.5 461.5h0M450.3 453.3h0M454.8 454.5h0M454.4 440.2h0M443.1 445.7h0M446.5 468.1h0M446.2 447.4h0M453.2 453.5h0M452.8 447.2h0M449.6 454.4h0M446.2 444.7h0M447.9 443.5h0M443.1 452.8h0M457.6 445.1h0M470.0 447.3h0M446.0 452.7h0M455.1 464.8h0M444.8 447.2h0M457.8 449.9h0M463.6 456.1h0M441.6 451.2h0M450.9 449.0h0M449.7 452.7h0M449.7 449.7h0M442.1 453.3h0M445.7 455.7h0M445.7 459.6h0M449.8 449.9h0M451.1 450.3h0M449.3 446.5h0M443.2 450.3h0M454.4 449.5h0M454.1 446.4h0M445.7 452.5h0M435.9 453.5h0M443.5 453.2h0M452.2 451.7h0M448.4 449.5h0M453.6 453.6h0M435.9 456.1h0M456.1 460.6h0M438.7 448.4h0M452.0 451.7h0M439.6 451.1h0M448.6 447.4h0M452.0 447.7h0M447.9 458.8h0M444.8 463.6h0M440.8 458.6h0M455.6 434.6h0M454.7 439.7h0M465.0 446.1h0M441.1 444.7h0M443.5 449.7h0M453.7 455.6h0M445.3 451.5h0M447.0 456.7h0M457.4 445.9h0M445.5 446.5h0M450.5 450.5h0M444.8 468.9h0M444.1 446.3h0M444.1 451.9h0M454.6 449.9h0M437.5 455.6h0M445.2 460.4h0M442.3 455.7h0M459.6 460.8h0M451.3 461.2h0M449.8 456.8h0M453.5 463.3h0M449.2 434.4h0M443.5 453.1h0M452.2 446.0h0M455.8 446.2h0M448.1 441.7h0M449.5 450.5h0M449.9 448.0h0M454.9 443.2h0M459.6 448.2h0M452.9 444.8h0M440.5 448.5h0M443.6 448.0h0M454.7 462.5h0M445.7 451.0h0M460.6 443.5h0M441.9 452.1h0M442.0 460.5h0M452.8 456.7h0M446.5 444.5h0M449.4 435.8h0M462.2 438.5h0M448.3 456.7h0M442.8 456.3h0M469.4 443.7h0M457.5 447.4h0M435.3 453.4h0M444.4 453.8h0M455.5 451.7h0M444.3 457.3h0M445.8 452.1h0M452.9 436.4h0M442.7 451.3h0M447.7 452.2h0M449.6 444.0h0M444.5 441.4h0M449.9 446.5h0M450.6 446.6h0M453.0 448.0h0M458.3 453.9h0M423.9 451.8h0M442.5 450.5h0M445.5 454.3h0M451.5 449.5h0M451.0 451.1h0M445.3 446.9h0M438.7 456.8h0M444.4 448.3h0M441.9 434.0h0M452.2 465.3h0M470.6 440.3h0M441.6 428.4h0M446.5 441.9h0M454.3 457.3h0M445.8 448.9h0M434.5 459.0h0M448.5 451.1h0M447.2 457.0h0M436.2 456.1h0M449.3 447.5h0M451.8 453.7h0M447.7 446.5h0M455.1 443.8h0M449.5 468.4h0M438.8 465.3h0M455.8 437.0h0M423.8 441.3h0M454.8 451.7h0M443.4 446.3h0M440.7 455.6h0M455.6 446.9h0M450.2 455.9h0M450.2 451.2h0M447.2 442.0h0M443.5 446.4h0M441.7 460.1h0M440.0 452.6h0M447.6 455.3h0M442.1 445.4h0M454.8 443.5h0M445.2 457.8h0M449.4 444.1h0M443.0 443.7h0M451.9 450.8h0M454.3 462.8h0M449.4 443.0h0M457.1 442.0h0M445.3 453.1h0M444.1 455.4h0M456.3 450.3h0M453.0 449.5h0M458.0 448.9h0M440.5 486.4h0M451.1 456.3h0M451.4 459.8h0M448.1 460.4h0M460.1 439.5h0M445.1 431.7h0M453.2 443.2h0M457.9 452.8h0M444.4 443.6h0M436.7 458.6h0M445.7 447.4h0M443.7 454.3h0M453.7 455.3h0M431.5 446.7h0M432.3 453.4h0M444.1 445.1h0M449.2 449.0h0M444.9 448.4h0M460.2 451.9h0M448.1 455.6h0M441.6 443.2h0M446.2 457.5h0M447.9 431.3h0M447.5 456.2h0M450.4 450.4h0M450.0 445.9h0M437.1 455.3h0M444.8 442.6h0M440.0 452.3h0M443.8 451.9h0M441.7 443.7h0M445.3 445.8h0M454.8 440.2h0M465.2 451.4h0M457.9 457.5h0M452.9 451.7h0M442.9 445.1h0M445.7 453.7h0M445.3 459.3h0M447.6 453.6h0M445.9 466.5h0M451.3 458.7h0M449.0 453.0h0M449.4 447.7h0M452.8 436.1h0M445.5 445.3h0M448.6 449.1h0M445.6 453.7h0M444.2 450.6h0M447.9 458.6h0M446.3 443.8h0M460.5 450.9h0M442.3 454.5h0M451.8 440.8h0M444.5 461.0h0M454.7 454.5h0M449.7 447.8h0M458.2 448.0h0M434.2 455.6h0M452.5 452.3h0M450.8 444.8h0M462.4 459.2h0M443.5 458.7h0M442.9 445.7h0M448.1 444.2h0M457.2 445.0h0M451.2 446.2h0M452.5 449.3h0M447.5 447.1h0M440.7 470.9h0M449.7 448.6h0M448.5 448.7h0M449.7 448.7h0M450.9 454.1h0M451.9 456.5h0M451.1 452.3h0M439.4 457.1h0M451.8 441.0h0M449.6 450.6h0M440.3 453.3h0M446.0 442.9h0M449.1 447.2h0M448.5 461.2h0M446.5 445.5h0M446.3 449.2h0M451.0 459.4h0M442.4 460.8h0M446.3 442.3h0M441.3 450.9h0M456.4 451.4h0M449.3 453.5h0M440.1 447.6h0M451.6 454.9h0M450.6 450.7h0M445.9 459.7h0M447.6 447.8h0M450.4 447.0h0M442.5 449.6h0M441.8 447.2h0M451.0 459.3h0M446.2 438.1h0M454.0 459.3h0M456.6 455.9h0M442.6 461.8h0M449.4 453.8h0M454.9 453.9h0M439.5 448.7h0M454.0 451.4h0M445.1 451.3h0M439.0 459.0h0M447.3 445.4h0M447.7 445.1h0M448.8 446.3h0M454.7 450.0h0M446.9 440.8h0M445.8 453.8h0M441.3 460.0h0M450.6 434.3h0M441.2 448.2h0M448.3 453.1h0M446.3 447.1h0M442.6 448.6h0M449.1 451.4h0M437.5 453.3h0M450.6 458.5h0M446.9 451.2h0M440.7 446.3h0M450.0 446.3h0M453.4 444.9h0M445.1 452.8h0M440.1 449.1h0M441.5 446.7h0M443.3 446.5h0M451.8 429.1h0M446.4 453.5h0M433.7 461.9h0M459.4 453.5h0M454.6 449.7h0M434.5 465.7h0M446.9 439.8h0M452.2 448.4h0M446.2 461.5h0M447.0 454.6h0M451.8 446.9h0M449.3 438.0h0M456.9 454.7h0M453.4 451.5h0M452.6 438.3h0M449.1 451.4h0M444.1 462.3h0M449.5 456.3h0M444.4 455.9h0M450.3 445.3h0M447.9 452.0h0M448.9 446.5h0M464.0 458.2h0M446.7 454.0h0M450.3 468.1h0M444.7 437.1h0M447.8 454.5h0M447.3 470.7h0M454.5 452.2h0M447.6 454.1h0M450.1 442.4h0M455.4 452.9h0M455.9 452.4h0M449.9 446.4h0M453.0 448.2h0M440.6 460.3h0M440.7 441.0h0M442.7 450.9h0M448.1 457.5h0M446.3 461.5h0M448.9 456.4h0M461.7 455.0h0M433.8 456.4h0M441.7 450.1h0M448.6 457.9h0M442.2 442.9h0M447.9 431.4h0M439.1 448.1h0M450.7 454.3h0M442.6 451.1h0M450.2 446.3h0M449.4 451.4h0M447.9 466.3h0M446.9 459.0h0M457.1 447.1h0M439.5 452.5h0M446.6 440.9h0M449.0 443.0h0M448.1 440.2h0M452.5 447.1h0M446.8 436.3h0M449.5 443.4h0M452.5 447.4h0M444.7 457.2h0M438.6 452.3h0M450.2 450.1h0M442.0 468.0h0M452.8 449.0h0M443.0 460.4h0M452.4 451.6h0M453.5 452.6h0M450.6 448.5h0M452.9 452.5h0M451.5 449.3h0M454.1 447.5h0M455.7 471.3h0M455.5 464.0h0M441.7 455.6h0M450.6 447.7h0M451.1 447.3h0M453.3 459.0h0M448.3 444.7h0M444.0 441.1h0M446.9 450.3h0M427.3 446.4h0M449.5 452.3h0M449.2 450.6h0M437.4 456.2h0M441.1 454.5h0M440.3 450.7h0M453.3 444.0h0M455.0 446.5h0M451.7 450.4h0M456.8 453.6h0M446.5 446.2h0M451.1 455.4h0M452.3 447.6h0M464.7 425.7h0M440.2 457.9h0M442.2 450.3h0M450.7 448.5h0M443.6 436.5h0M447.2 455.8h0M441.8 447.3h0M446.5 465.0h0M443.1 456.2h0M444.4 443.4h0M475.9 442.7h0M450.8 450.6h0M458.8 444.1h0M438.5 454.9h0M453.3 455.7h0M448.0 449.7h0M438.9 454.2h0M445.1 450.6h0M442.1 458.9h0M463.7 453.2h0M441.2 449.8h0M446.0 445.0h0M453.4 450.4h0M448.0 448.6h0M442.2 452.3h0M442.6 455.2h0M448.9 455.3h0M461.1 446.3h0M447.3 444.4h0M446.4 451.9h0M453.3 457.7h0M440.7 451.5h0M442.5 454.9h0M448.7 448.1h0M442.4 455.6h0M443.2 450.3h0M446.3 455.3h0M450.3 452.9h0M446.0 458.9h0M446.2 448.8h0M456.7 462.0h0M450.6 447.1h0M447.4 454.6h0M448.7 451.9h0M450.3 448.8h0M446.4 445.6h0M451.1 439.3h0M457.5 450.6h0M455.4 443.9h0M447.9 444.0h0M440.5 446.9h0M445.3 459.0h0M450.2 451.9h0M446.1 451.2h0M459.7 455.7h0M455.4 446.9h0M452.7 453.7h0M440.5 446.5h0M445.7 454.2h0M444.9 448.4h0M437.1 468.2h0M457.5 441.0h0M447.1 449.9h0M448.9 443.8h0M452.3 461.6h0M458.5 435.8h0M457.1 446.2h0M456.9 444.2h0M456.9 449.6h0M455.0 439.8h0M448.9 449.4h0M442.0 447.2h0M452.1 450.7h0M450.4 457.0h0M452.3 448.7h0M439.3 465.8h0M448.6 453.3h0M452.7 451.6h0M447.5 455.2h0M456.7 446.0h0M445.7 443.9h0M443.4 446.7h0M444.4 459.8h0M448.6 449.7h0M448.4 446.4h0M452.4 448.2h0M451.7 446.0h0M452.5 463.1h0M441.2 469.6h0M447.4 462.4h0M451.4 461.2h0M452.1 449.2h0M453.2 443.6h0M451.2 440.3h0M450.1 444.1h0M438.6 444.4h0M452.2 445.9h0M447.7 452.4h0M449.5 451.1h0M451.1 445.8h0M453.6 455.8h0M447.7 446.4h0M443.0 443.1h0M454.9 450.3h0M453.1 450.7h0M443.8 447.2h0M451.2 449.9h0M447.0 446.1h0M441.7 442.1h0M459.8 452.3h0M446.8 446.9h0M460.2 455.4h0M452.6 454.6h0M443.5 459.7h0M453.5 458.1h0M445.6 447.0h0M445.9 456.7h0M448.5 455.0h0M442.0 451.6h0M455.8 428.0h0M449.6 461.3h0M450.2 469.8h0M453.6 453.6h0M458.1 446.6h0M439.8 460.6h0M452.1 451.1h0M459.8 449.6h0M438.7 449.0h0M442.3 455.9h0M451.1 455.0h0M455.9 448.9h0M452.3 446.3h0M444.9 438.3h0M452.3 449.5h0M447.7 443.9h0M452.1 441.8h0M448.6 448.8h0M440.5 458.5h0M465.9 444.3h0M450.8 447.8h0M445.5 455.8h0M452.8 462.4h0M453.3 451.5h0M449.3 458.9h0M459.6 437.9h0M459.1 450.5h0M450.1 449.6h0M448.4 451.9h0M448.7 448.6h0M454.2 455.0h0M448.1 455.8h0M445.3 466.1h0M438.8 461.2h0M446.2 448.8h0M452.5 455.9h0M451.7 453.7h0M452.6 446.7h0M438.9 446.6h0M428.9 456.9h0M453.3 459.8h0M450.8 446.2h0M448.1 473.8h0M448.8 456.1h0M451.7 456.0h0M452.3 451.2h0M452.9 440.2h0M450.4 449.3h0M449.0 441.1h0M446.4 449.0h0M447.5 445.5h0M443.0 471.1h0M442.4 467.4h0M439.9 457.5h0M460.2 456.5h0M445.4 445.4h0M446.9 450.0h0M447.5 454.5h0M456.0 456.2h0M440.1 447.5h0M459.0 444.5h0M448.2 453.0h0M446.8 431.4h0M458.7 447.2h0M446.5 454.3h0M448.0 449.3h0M438.4 453.0h0M441.8 455.2h0M448.4 442.9h0M447.2 467.0h0M449.8 449.9h0M448.1 448.6h0M457.0 460.2h0M441.6 455.5h0M449.9 444.5h0M444.7 441.4h0M453.4 448.0h0M444.5 452.0h0M452.1 447.7h0M450.9 443.6h0M448.2 446.7h0M453.0 448.3h0M464.6 454.0h0M444.9 459.3h0M453.4 444.5h0M431.4 445.8h0M448.9 442.9h0M441.3 454.2h0M432.4 459.6h0M438.9 460.8h0M449.3 443.7h0M452.0 450.2h0M446.1 451.7h0M451.8 450.5h0M460.2 448.5h0M450.1 449.7h0M441.9 461.5h0M434.4 450.0h0M440.9 451.4h0M446.0 465.2h0M450.9 457.4h0M445.5 451.3h0M450.8 447.8h0M448.8 425.5h0M440.4 442.8h0M450.0 451.8h0M444.3 435.1h0M448.6 478.5h0M453.0 454.7h0M446.7 453.5h0M446.9 420.9h0M452.7 436.0h0M448.6 447.5h0M449.4 461.3h0M454.4 442.6h0M441.5 457.4h0M448.2 451.7h0M438.8 469.3h0M440.6 460.3h0M445.3 450.1h0M441.2 459.6h0M449.8 436.6h0M439.9 451.7h0M442.5 459.2h0M445.0 464.1h0M448.8 452.3h0M444.8 444.6h0M441.9 449.3h0M448.1 445.3h0M438.2 446.6h0M446.4 462.9h0M439.5 455.7h0M459.2 453.6h0M449.3 455.2h0M444.7 449.9h0M453.0 454.2h0M452.2 443.8h0M444.7 449.9h0M445.5 444.3h0M453.1 447.0h0M441.4 445.9h0M451.8 460.8h0M449.3 448.0h0M444.3 458.9h0M447.8 446.5h0M445.0 452.5h0M450.5 459.8h0M442.1 444.1h0M452.8 443.0h0M441.1 437.8h0M453.8 443.2h0M446.1 464.9h0M446.9 468.9h0M449.0 455.4h0M445.8 455.9h0M446.5 447.9h0M452.6 442.5h0M449.5 445.0h0M442.1 447.0h0M451.0 442.4h0M448.5 452.3h0M430.9 456.9h0M452.0 455.4h0M451.8 443.6h0M445.0 452.1h0M444.1 456.4h0M442.6 455.4h0M447.7 441.3h0M450.0 445.5h0M452.7 450.7h0M451.2 452.7h0M454.6 461.2h0M443.6 449.1h0M452.7 459.5h0M460.1 455.7h0M447.8 451.9h0M443.8 464.1h0M443.9 447.3h0M459.7 442.8h0M446.7 463.1h0M443.3 453.6h0M448.7 455.8h0M457.6 447.4h0M455.4 446.3h0M443.6 451.8h0M443.2 456.2h0M451.2 439.8h0M446.9 462.9h0M442.0 456.4h0M450.9 434.2h0M446.0 453.0h0M463.7 458.3h0M447.4 436.4h0M453.2 446.1h0M446.0 452.4h0M451.7 448.3h0M446.6 447.1h0M451.1 463.4h0M453.2 448.0h0M450.8 454.4h0M448.5 451.9h0M439.1 452.3h0M450.5 459.7h0M448.4 448.9h0M447.7 467.0h0M456.7 470.4h0M443.2 459.6h0M444.4 446.4h0M447.9 445.6h0M444.7 442.1h0M441.9 439.9h0M452.6 446.5h0M443.2 424.8h0M450.9 450.1h0M444.6 450.1h0M452.1 433.6h0M458.3 451.9h0M460.3 433.3h0M453.3 471.4h0M449.7 450.0h0M450.1 448.3h0M462.2 449.5h0M456.0 433.6h0M441.8 446.8h0M455.7 451.2h0M453.5 458.2h0M445.9 454.5h0M437.4 464.2h0M445.3 459.1h0M450.0 463.9h0M443.8 461.6h0M453.2 457.0h0M441.7 455.3h0M446.3 455.7h0M453.6 447.7h0M453.6 462.7h0M451.3 474.4h0M457.7 448.1h0M453.6 451.1h0M453.6 453.2h0M448.0 440.0h0M442.1 455.0h0M445.6 453.6h0M447.1 451.5h0M448.0 448.9h0M450.9 443.4h0M452.6 434.3h0M456.0 448.9h0M442.3 447.0h0M454.3 460.9h0M447.8 449.7h0M448.5 445.8h0M449.5 445.4h0M460.5 442.4h0M449.6 449.3h0M441.3 453.7h0M451.1 453.7h0M456.9 454.3h0M450.8 462.4h0M437.2 448.3h0M456.5 444.3h0M440.8 446.6h0M446.0 453.3h0M454.4 450.5h0M450.9 445.8h0M459.8 454.8h0M453.0 438.9h0M449.6 445.8h0M451.6 448.8h0M445.5 449.6h0M454.9 440.7h0M446.0 447.7h0M452.0 459.5h0M451.3 443.1h0M448.7 454.3h0M440.8 454.1h0M446.0 448.2h0M439.5 450.6h0M457.0 457.2h0M456.1 442.5h0M440.1 454.3h0M457.2 443.2h0M450.7 451.3h0M452.8 460.2h0M446.3 441.8h0M432.7 460.4h0M446.1 447.4h0M444.3 454.8h0M443.1 452.9h0M449.8 434.2h0M453.3 462.0h0M444.6 441.4h0M445.8 451.7h0M448.5 450.8h0M443.8 455.4h0M452.9 463.1h0M453.6 445.0h0M455.2 440.5h0M450.3 447.3h0M445.0 428.0h0M444.8 450.6h0M456.5 451.3h0M445.0 452.2h0M435.5 450.5h0M444.8 466.5h0M442.7 452.7h0M449.8 433.2h0M445.9 448.5h0M441.0 459.1h0M451.0 456.5h0M458.2 445.3h0M446.6 461.3h0M441.2 461.2h0M455.5 450.7h0M450.2 443.3h0M451.1 457.3h0M451.4 449.6h0M446.9 453.1h0M444.8 436.9h0M438.2 438.3h0M445.5 453.4h0M455.7 445.1h0M446.2 456.6h0M445.8 448.9h0M449.7 458.4h0M445.2 459.5h0M449.8 452.7h0M443.5 455.2h0M451.8 449.7h0M438.9 447.6h0M445.0 449.6h0M451.1 432.6h0M444.2 456.0h0M451.2 439.2h0M450.1 453.4h0M439.7 442.2h0M444.3 459.7h0M454.9 452.8h0M456.8 449.7h0M437.4 459.3h0M452.5 454.3h0M456.1 451.1h0M435.4 448.9h0M451.2 447.3h0M453.0 444.3h0M446.1 449.3h0M452.5 455.4h0M450.7 437.6h0M443.7 454.2h0M447.0 452.0h0M447.0 440.3h0M448.3 451.9h0M456.8 464.3h0M453.2 447.9h0M456.8 450.6h0M446.6 449.7h0M440.3 444.5h0M448.2 437.9h0M449.9 449.6h0M447.6 460.6h0M446.9 446.0h0M446.7 435.1h0M448.9 446.0h0M455.4 454.5h0M450.5 458.1h0M447.8 447.6h0M429.8 455.7h0M446.0 449.2h0M454.0 458.6h0M443.1 460.3h0M460.5 454.6h0M438.5 455.4h0M445.4 445.4h0M444.1 442.9h0M445.1 459.6h0M444.3 449.7h0M457.3 451.6h0M441.7 440.3h0M450.8 450.9h0M452.4 456.7h0M446.5 441.3h0M447.7 441.9h0M446.5 443.7h0M448.9 466.6h0M449.1 454.9h0M444.0 448.9h0M451.7 441.9h0M460.9 450.9h0M449.0 455.1h0M443.7 436.8h0M452.3 455.1h0M446.6 473.8h0M444.9 458.1h0M444.9 427.6h0M452.1 453.7h0M441.5 455.0h0M450.2 449.1h0M452.2 457.1h0M452.6 456.3h0M450.7 436.3h0M451.4 454.2h0M450.1 450.9h0M450.0 443.6h0M440.1 449.1h0M447.0 448.3h0M455.5 443.9h0M454.3 458.0h0M436.6 448.2h0M431.0 445.7h0M453.4 453.7h0M454.9 426.7h0M453.9 452.8h0M453.0 443.9h0M456.0 438.5h0M444.2 447.6h0M451.9 460.0h0M449.5 445.8h0M446.1 446.2h0M449.2 461.7h0M454.1 449.4h0M453.4 422.3h0M441.6 452.6h0M462.9 442.0h0M436.2 452.7h0M448.2 452.0h0M455.6 439.9h0M446.0 453.2h0M442.2 441.6h0M452.8 447.3h0M449.3 442.6h0M445.4 452.5h0M447.3 457.6h0M466.0 451.2h0M450.2 448.6h0M442.3 445.2h0M448.4 447.7h0M457.1 451.6h0M443.8 458.0h0M459.4 445.3h0M447.7 451.6h0M441.9 455.4h0M457.5 442.6h0M453.5 457.4h0M448.6 453.1h0M448.8 452.8h0M455.6 447.3h0M443.7 447.1h0M460.9 445.1h0M452.8 457.0h0M440.2 437.6h0M448.8 454.3h0M461.3 441.2h0M451.6 448.4h0M457.9 447.7h0M439.5 451.5h0M446.7 453.1h0M451.7 446.3h0M452.2 448.7h0M445.8 458.5h0M445.8 457.8h0M449.5 456.8h0M451.2 449.2h0M452.7 451.6h0M459.1 453.2h0M456.6 447.9h0M444.8 452.1h0M455.2 453.2h0M447.5 452.6h0M437.3 444.5h0M451.0 459.9h0M431.7 447.4h0M448.9 460.0h0M442.8 457.3h0M440.9 441.8h0M449.9 455.8h0M445.4 460.5h0M439.3 454.8h0M457.8 445.1h0M450.2 449.8h0M435.6 456.3h0M451.6 459.1h0M460.1 445.8h0M448.3 451.3h0M452.9 450.8h0M460.3 442.5h0M452.7 454.2h0M450.0 448.9h0M451.3 456.0h0M455.1 451.5h0M449.7 447.2h0M446.3 455.3h0M453.4 448.0h0M465.0 439.2h0M445.8 450.3h0M455.0 449.0h0M451.5 457.2h0M458.5 437.3h0M459.6 456.2h0M448.7 451.4h0M450.9 444.6h0M453.2 440.0h0M441.7 456.7h0M450.0 451.2h0M454.6 455.4h0M455.1 447.5h0M456.0 439.4h0M451.4 444.2h0M447.2 453.4h0M449.6 462.9h0M447.8 458.1h0M448.0 436.0h0M460.0 435.6h0M447.3 462.2h0M453.2 438.3h0M450.8 441.8h0M450.7 442.1h0M454.3 444.8h0M442.1 459.8h0M448.6 442.5h0M457.0 451.1h0M444.4 455.7h0M449.6 449.9h0M444.3 459.2h0M445.2 454.1h0M451.9 455.7h0M444.7 458.5h0M447.5 456.1h0M450.7 462.8h0M448.4 455.2h0M444.4 453.9h0M442.6 451.0h0M449.0 458.5h0M450.3 451.3h0M451.2 461.7h0M449.4 461.2h0M453.1 446.2h0M450.8 465.5h0M447.3 455.7h0M457.2 440.8h0M438.6 453.5h0M437.7 457.3h0M448.5 451.5h0M450.9 446.1h0M448.5 449.7h0M449.6 442.9h0M447.8 457.0h0M441.4 460.7h0M428.8 465.1h0M440.2 449.6h0M448.5 445.8h0M455.1 448.4h0M454.8 441.3h0M445.6 448.7h0M446.4 445.9h0M445.8 450.1h0M448.4 457.8h0M440.2 465.1h0M454.0 452.0h0M445.9 451.8h0M450.1 435.1h0M432.9 453.0h0M447.1 452.2h0M443.7 453.2h0M447.9 452.8h0M447.9 458.6h0M444.7 442.4h0M460.3 445.5h0M450.5 458.2h0M451.3 447.1h0M449.2 453.5h0M454.9 448.2h0M453.3 453.4h0M445.9 452.0h0M451.8 450.1h0M449.4 454.2h0M448.1 466.4h0M453.4 450.2h0M465.3 450.8h0M450.8 462.1h0M439.8 474.8h0M428.0 450.6h0M444.6 435.0h0M450.6 448.8h0M440.2 443.7h0M450.1 445.0h0M467.0 437.3h0M453.5 457.0h0M452.6 433.4h0M441.0 430.9h0M448.5 433.5h0M428.8 460.4h0M442.9 454.9h0M470.7 452.7h0M450.7 438.7h0M442.3 446.8h0M459.7 448.5h0M435.3 446.0h0M450.6 430.2h0M450.6 450.2h0M443.7 452.3h0M443.4 441.6h0M445.5 445.2h0M453.5 442.3h0M447.1 458.7h0M459.6 445.6h0M453.4 430.3h0M449.3 456.6h0M448.0 446.1h0M442.2 444.2h0M461.0 443.3h0M450.7 452.7h0M458.9 444.6h0M445.0 454.8h0M447.7 455.5h0M445.8 451.3h0M446.8 440.1h0M449.3 454.8h0M452.1 453.2h0M444.3 463.3h0M445.9 460.8h0M442.0 455.8h0M443.6 460.8h0M444.0 438.5h0M446.0 442.2h0M453.4 455.5h0M442.4 454.1h0M454.4 450.7h0M447.3 447.7h0M447.5 444.8h0M449.7 455.9h0M450.7 449.6h0M451.1 450.2h0M458.4 445.4h0M446.9 442.1h0M446.6 438.5h0M457.6 440.3h0M449.4 452.8h0M445.2 454.0h0M444.0 450.7h0M448.1 445.9h0M448.7 454.8h0M427.6 462.2h0M452.0 452.0h0M441.5 455.3h0M452.5 461.1h0M454.6 458.9h0M446.1 446.1h0M437.6 456.7h0M460.2 445.5h0M438.6 456.5h0M440.9 449.2h0M447.1 460.6h0M437.5 447.4h0M452.0 444.9h0M448.2 455.3h0M453.7 446.2h0M445.8 452.5h0M455.2 446.8h0M442.7 437.3h0M453.2 445.8h0M436.5 451.1h0M447.7 449.6h0M444.2 454.8h0M453.3 444.3h0M450.9 451.9h0M452.2 452.2h0M448.4 449.3h0M457.4 438.8h0M445.9 453.3h0M448.7 444.3h0M444.0 463.0h0M447.5 445.0h0M453.3 452.2h0M449.9 439.0h0M452.9 453.9h0M447.7 456.6h0M440.8 448.1h0M436.7 454.1h0M456.2 444.2h0M451.8 448.6h0M450.1 448.9h0M442.7 450.9h0M458.1 442.2h0M448.9 447.2h0M453.1 450.1h0M449.7 450.2h0M446.9 461.1h0M449.1 450.0h0M445.8 457.9h0M442.7 461.1h0M447.3 447.3h0M456.1 444.7h0M445.1 452.4h0M448.0 441.3h0M449.0 449.6h0M455.4 445.0h0M453.8 440.5h0M446.8 446.5h0M450.9 456.5h0M438.6 459.9h0M451.5 434.1h0M446.7 450.4h0M438.8 475.7h0M449.1 448.4h0M449.9 454.8h0M438.7 458.4h0M444.8 443.0h0M441.2 440.2h0M448.6 443.7h0M467.3 453.7h0M442.1 456.0h0M457.5 440.7h0M452.6 430.0h0M452.5 444.8h0M455.3 461.3h0M441.9 451.7h0M452.1 458.4h0M449.4 440.7h0M454.5 442.3h0M448.9 438.5h0M440.8 453.4h0M457.7 441.7h0M449.5 453.4h0M447.3 452.7h0M441.0 458.7h0M450.9 440.5h0M435.6 457.2h0M452.1 437.4h0M454.5 434.7h0M447.9 468.8h0M453.3 440.5h0M444.0 457.3h0M453.7 452.9h0M456.0 456.9h0M449.1 444.3h0M443.0 452.1h0M448.1 445.3h0M459.4 451.9h0M447.7 446.8h0M450.5 441.0h0M440.8 450.4h0M442.9 467.7h0M440.7 457.3h0M453.4 451.9h0M451.9 439.1h0M449.3 448.5h0M453.6 446.5h0M457.5 436.1h0M449.8 435.9h0M463.6 442.2h0M449.3 459.1h0M461.7 436.1h0M447.9 447.5h0M440.0 450.5h0M454.8 443.3h0M459.9 448.3h0M453.1 459.3h0M455.6 454.5h0M438.8 450.7h0M446.6 446.6h0M445.7 450.5h0M445.2 450.8h0M451.4 411.6h0M450.1 444.9h0M453.8 448.6h0M446.1 457.1h0M450.6 448.2h0M453.2 448.0h0M444.0 464.5h0M443.0 462.0h0M453.5 450.3h0M450.2 457.3h0M453.7 446.0h0M440.5 459.5h0M443.7 437.7h0M456.4 446.8h0M431.2 458.9h0M451.7 445.2h0M447.0 455.4h0M459.6 443.4h0M449.2 451.0h0M440.7 452.1h0M444.6 459.0h0M444.8 461.8h0M447.9 449.4h0M450.1 443.0h0M452.9 454.6h0M441.9 445.3h0M449.1 449.1h0M445.2 454.0h0M452.8 439.6h0M441.7 446.8h0M456.6 451.0h0M442.3 447.6h0M457.4 452.6h0M457.6 437.8h0M446.8 445.6h0M448.4 460.4h0M443.9 458.0h0M450.8 451.7h0M446.0 450.8h0M449.9 451.6h0M463.0 450.3h0M451.2 446.3h0M443.5 447.2h0M438.0 447.1h0M452.5 441.7h0M451.8 469.4h0M459.4 443.4h0M444.9 449.2h0M448.9 453.3h0M454.5 458.7h0M442.8 451.3h0M453.9 441.6h0M450.7 455.5h0M452.6 471.2h0M448.6 458.4h0M454.4 450.4h0M451.0 457.3h0M447.4 443.4h0M455.4 440.7h0M451.5 444.7h0M448.6 441.7h0M448.5 450.5h0M450.4 453.3h0M437.9 463.4h0M451.7 442.1h0M447.2 447.5h0M449.0 448.0h0M449.8 439.8h0M456.8 443.7h0M441.0 460.5h0M450.8 449.4h0M448.4 457.7h0M449.0 451.4h0M446.9 451.2h0M443.3 455.5h0M446.5 435.8h0M456.2 455.0h0M448.3 446.5h0M446.7 466.2h0M444.5 458.6h0M452.2 449.4h0M442.2 452.5h0M451.9 445.2h0M460.5 445.8h0M450.6 448.9h0M447.8 450.6h0M444.4 449.1h0M449.0 453.3h0M454.1 453.6h0M448.9 455.2h0M448.0 450.7h0M446.5 448.3h0M449.3 451.0h0M457.5 437.7h0M449.3 444.5h0M442.8 440.1h0M451.4 447.8h0M449.9 456.9h0M457.6 452.3h0M450.8 447.2h0M451.5 457.7h0M464.4 448.5h0M442.5 445.1h0M454.9 440.2h0M462.4 431.3h0M452.6 468.3h0M457.0 462.0h0M451.2 459.4h0M449.4 443.1h0M440.8 471.1h0M444.5 443.0h0M444.3 457.6h0M451.8 446.4h0M442.1 458.6h0M449.1 448.5h0M448.7 452.5h0M451.9 463.6h0M446.8 454.1h0M448.0 456.1h0M445.5 453.6h0M450.9 455.9h0M457.9 466.9h0M450.3 452.6h0M444.6 474.6h0M449.8 430.8h0M446.2 445.6h0M449.0 453.9h0M452.6 460.2h0M443.1 442.1h0M442.8 442.5h0M450.7 451.9h0M444.9 457.5h0M448.7 455.0h0M448.7 436.4h0M447.0 451.7h0M447.0 449.6h0M450.0 458.6h0M453.8 452.6h0M444.6 444.8h0M437.9 461.8h0M445.2 440.8h0M452.3 449.5h0M449.5 449.1h0M451.4 441.2h0M445.6 453.8h0M442.0 461.6h0M437.3 457.3h0M449.2 454.6h0M454.1 445.3h0M448.4 455.1h0M443.6 445.1h0M453.7 449.1h0M449.2 454.5h0M445.3 452.5h0M454.4 454.3h0M454.2 455.2h0M445.2 452.1h0M451.7 465.1h0M451.5 443.8h0M454.4 458.4h0M443.3 458.1h0M445.8 458.3h0M447.4 449.3h0M456.8 451.6h0M445.6 454.4h0M457.2 441.8h0M444.6 445.0h0M449.7 452.3h0M449.1 452.8h0M443.5 450.1h0M453.0 460.6h0M443.1 428.8h0M441.5 452.3h0M451.8 457.9h0M454.3 444.1h0M446.6 445.3h0M455.3 432.6h0M446.8 444.4h0M455.7 457.0h0M430.3 452.0h0M448.0 455.6h0M448.0 470.3h0M458.8 448.1h0M449.6 451.4h0M451.4 443.8h0M447.3 445.5h0M448.1 458.8h0M449.1 449.7h0M446.9 441.6h0M453.8 448.2h0M442.2 451.6h0M443.8 451.9h0M446.5 445.7h0M447.3 455.0h0M452.8 465.7h0M435.3 465.8h0M457.3 459.0h0M447.7 451.0h0M455.2 440.9h0M443.1 448.0h0M445.8 458.1h0M447.0 455.4h0M440.8 440.6h0M447.1 444.5h0M448.5 454.6h0M453.8 448.6h0M453.6 447.2h0M437.1 456.6h0M452.0 451.2h0M446.5 456.2h0M449.6 439.8h0M450.9 451.2h0M451.4 455.5h0M446.1 448.9h0M452.1 460.3h0M460.3 442.7h0M443.2 464.8h0M449.2 449.1h0M451.3 451.7h0M441.0 449.4h0M448.9 439.4h0M445.4 474.9h0M451.4 452.9h0M458.7 440.9h0M447.1 444.8h0M450.5 443.2h0M444.6 450.1h0M454.4 439.0h0M447.8 453.0h0M439.1 457.5h0M446.7 459.8h0M460.7 453.5h0M448.1 458.3h0M450.1 439.5h0M448.5 448.6h0M445.9 453.4h0M441.9 454.4h0M443.9 459.2h0M459.3 443.7h0M445.7 449.1h0M448.1 472.2h0M447.9 454.7h0M444.7 445.6h0M446.4 449.0h0M456.6 446.5h0M451.5 447.6h0M452.9 442.5h0M446.8 454.7h0M447.7 448.2h0M448.3 458.9h0M448.3 446.7h0M439.1 450.4h0M448.7 457.4h0M441.1 454.3h0M468.4 444.8h0M449.5 446.0h0M442.9 470.0h0M438.4 451.2h0M456.5 457.5h0M455.2 442.7h0M457.7 465.7h0M460.0 445.8h0M441.3 460.1h0M457.5 465.7h0M447.7 458.3h0M446.4 447.5h0M447.7 448.3h0M460.8 448.8h0M448.0 456.1h0M448.5 450.3h0M451.4 450.8h0M445.3 461.1h0M443.9 446.4h0M468.8 451.6h0M449.7 437.4h0M443.2 444.5h0M455.7 449.0h0M436.6 456.3h0M450.8 437.9h0M453.2 455.5h0M446.0 446.5h0M456.3 446.6h0M454.0 444.0h0M444.5 448.1h0M446.4 439.9h0M447.5 436.4h0M439.0 454.6h0M454.3 441.7h0M452.4 442.2h0M453.2 468.6h0M451.8 454.7h0M453.3 446.2h0M460.0 448.2h0M445.3 444.0h0M449.6 451.3h0M447.6 468.6h0M457.8 442.8h0M451.5 445.3h0M449.3 446.1h0M452.0 446.2h0M453.5 446.9h0M448.5 453.9h0M448.2 445.1h0M461.7 444.7h0M451.3 442.6h0M460.3 422.2h0M453.2 458.9h0M452.9 446.5h0M449.9 447.2h0M452.0 443.1h0M444.6 456.5h0M452.8 442.7h0M446.5 449.3h0M447.6 453.8h0M457.1 462.6h0M459.2 441.3h0M445.4 448.0h0M434.6 458.9h0M443.3 448.8h0M449.9 457.4h0M451.6 464.2h0M458.9 442.2h0M457.2 452.8h0M449.7 460.6h0M448.8 446.7h0M451.9 435.9h0M442.5 435.8h0M444.0 458.9h0M449.5 451.9h0M451.0 450.0h0M457.1 450.5h0M448.0 455.2h0M450.7 445.9h0M441.0 455.6h0M451.1 448.8h0M451.0 445.5h0M456.5 455.7h0M453.3 450.9h0M452.3 436.0h0M451.7 443.8h0M454.9 452.9h0M448.6 444.4h0M447.1 442.1h0M453.7 444.7h0M449.6 430.9h0M454.0 449.1h0M443.5 454.2h0M441.1 440.4h0M449.8 448.6h0M451.6 470.0h0M442.1 460.6h0M452.0 425.8h0M445.1 450.0h0M452.1 446.0h0M458.7 450.4h0M443.2 468.6h0M456.6 455.4h0M449.8 457.2h0M438.3 452.1h0M452.2 449.9h0M444.4 458.7h0M448.3 451.1h0M443.2 453.4h0M446.7 446.5h0M453.1 452.8h0M447.5 447.2h0M455.9 448.1h0M453.3 444.2h0M459.7 451.6h0M457.4 434.4h0M451.4 447.2h0M455.1 441.8h0M439.0 482.8h0M441.5 447.4h0M454.2 443.7h0M447.0 453.0h0M446.6 462.2h0M444.4 451.5h0M449.7 453.2h0M448.2 452.0h0M443.7 463.8h0M436.8 458.0h0M443.8 455.2h0M449.6 450.0h0M446.3 451.4h0M453.6 445.2h0M442.9 444.4h0M441.6 449.2h0M450.9 453.7h0M451.0 451.6h0M447.4 461.4h0M441.3 473.5h0M447.4 448.6h0M442.4 443.8h0M449.5 442.5h0M453.4 443.2h0M448.9 452.6h0M446.6 449.3h0M443.7 450.1h0M451.1 452.8h0M441.7 451.2h0M449.8 454.9h0M456.3 439.2h0M450.9 452.2h0M453.0 459.1h0M450.8 451.6h0M453.8 451.8h0M451.1 453.1h0M445.6 450.1h0M450.4 446.1h0M455.6 445.8h0M452.8 455.7h0M449.1 465.4h0M450.0 456.6h0M444.4 450.2h0M443.6 451.3h0M445.6 450.9h0M446.6 461.3h0M446.8 434.1h0M451.6 446.9h0M443.3 456.9h0M445.3 446.1h0M450.3 458.7h0M453.4 443.3h0M444.6 441.5h0M450.3 459.6h0M450.9 444.7h0M450.1 449.2h0M453.8 446.9h0M449.6 443.7h0M448.8 455.6h0M448.7 450.8h0M458.9 446.7h0M447.4 452.4h0M447.1 449.9h0M462.4 449.1h0M455.7 450.4h0M454.5 449.6h0M450.4 459.8h0M452.3 445.3h0M456.7 435.7h0M448.3 450.0h0M458.6 451.9h0M453.3 463.5h0M455.7 444.9h0M443.9 456.0h0M452.3 438.4h0M447.4 453.8h0M438.5 459.9h0M452.0 455.0h0M448.0 450.8h0M467.0 448.0h0M448.0 446.7h0M450.1 455.9h0M451.7 460.5h0M445.8 452.5h0M444.0 443.5h0M451.8 445.5h0M442.3 440.4h0M448.3 457.3h0M450.1 447.1h0M456.0 448.2h0M448.9 462.1h0M447.2 441.5h0M455.3 444.1h0M448.4 451.8h0M453.5 446.2h0M448.7 456.2h0M450.8 457.9h0M441.8 447.6h0M452.9 455.0h0M448.7 450.9h0M441.3 452.6h0M447.7 444.9h0M435.4 462.1h0M461.2 443.4h0M444.3 450.5h0M440.5 454.6h0M446.1 450.0h0M459.8 450.3h0M445.1 463.9h0M445.5 443.3h0M447.1 448.0h0M451.4 455.0h0M443.1 455.8h0M449.5 453.4h0M455.7 448.6h0M455.1 446.3h0M447.6 452.3h0M439.3 461.8h0M453.3 433.0h0M425.6 437.3h0M453.9 460.2h0M456.4 457.3h0M452.2 441.7h0M451.3 457.4h0M444.8 452.4h0M452.5 450.7h0M434.9 448.8h0M449.5 457.7h0M446.5 444.9h0M443.2 449.8h0M445.6 448.3h0M454.1 445.6h0M448.3 447.3h0M449.3 456.5h0M452.6 439.4h0M457.3 456.1h0M445.5 445.1h0M446.0 456.7h0M460.2 461.5h0M449.1 448.3h0M449.1 453.6h0M446.2 454.7h0M441.4 446.6h0M447.1 448.3h0M439.9 463.7h0M444.8 451.0h0M449.0 453.4h0M447.1 438.2h0M460.4 450.8h0M451.1 456.4h0M451.2 439.0h0M445.9 457.2h0M448.4 460.9h0M436.0 454.3h0M438.8 452.3h0M452.3 444.7h0M457.5 450.8h0M447.3 459.4h0M449.7 447.0h0M447.0 448.6h0M452.2 447.6h0M450.9 437.5h0M455.8 458.1h0M439.0 453.9h0M451.3 447.4h0M451.8 455.5h0M447.4 461.1h0M448.0 448.6h0M452.3 437.2h0M439.7 446.2h0M438.1 449.4h0M451.9 443.6h0M451.1 451.2h0M453.6 428.4h0M450.6 429.9h0M451.4 454.9h0M459.9 435.7h0M443.8 447.8h0M446.0 464.1h0M445.8 451.2h0M436.1 464.5h0M448.8 451.2h0M440.3 451.1h0M455.4 445.8h0M450.4 430.9h0M464.3 432.4h0M455.1 455.2h0M453.3 458.3h0M449.9 442.0h0M453.2 451.3h0M451.1 451.1h0M459.6 452.0h0M454.5 441.8h0M444.9 446.5h0M442.2 454.7h0M443.8 453.9h0M451.0 453.1h0M441.0 462.7h0M442.8 442.7h0M453.2 453.4h0M439.9 446.7h0M454.9 445.0h0M461.1 446.7h0M460.9 443.5h0M450.7 445.4h0M456.0 446.1h0M450.5 440.7h0M448.0 451.9h0M432.3 448.2h0M457.5 452.2h0M453.2 453.4h0M454.4 453.1h0M452.7 452.7h0M436.5 451.9h0M448.7 459.5h0M447.1 459.8h0M449.8 442.5h0M447.4 448.4h0M441.0 441.0h0M442.9 452.1h0M445.0 440.7h0M444.3 452.4h0M447.9 433.8h0M447.2 437.3h0M451.7 442.8h0M444.7 458.2h0M456.5 452.4h0M439.7 465.0h0M442.5 454.0h0M446.8 464.4h0M451.0 459.8h0M450.6 445.1h0M448.7 456.2h0M449.0 453.0h0M446.7 455.4h0M457.9 461.2h0M442.0 444.4h0M460.7 458.8h0M461.3 456.5h0M447.8 444.6h0M447.9 445.4h0M446.6 446.7h0M453.6 460.3h0M456.5 455.9h0M450.8 444.4h0M450.2 447.6h0M441.2 445.0h0M447.6 457.5h0M442.8 448.6h0M449.1 450.2h0M448.8 450.1h0M454.2 437.6h0M450.4 447.8h0M452.1 455.5h0M457.0 461.0h0M450.3 447.8h0M441.0 461.4h0M445.8 461.1h0M445.6 454.8h0M454.9 456.2h0M451.4 448.4h0M448.1 451.5h0M445.3 452.9h0M446.4 457.3h0M447.0 461.9h0M448.4 451.4h0M440.8 450.8h0M451.8 449.6h0M454.3 448.1h0M447.3 441.4h0M451.6 443.5h0M451.0 454.5h0M446.5 445.9h0M447.7 440.9h0M443.9 443.9h0M446.9 461.8h0M450.1 455.2h0M450.9 437.6h0M449.9 454.2h0M441.9 458.7h0M456.7 444.0h0M449.4 464.0h0M456.6 444.6h0M443.9 452.3h0M442.4 456.2h0M448.2 445.5h0M444.4 435.8h0M454.9 452.5h0M443.7 438.6h0M444.5 444.6h0M449.2 453.5h0M461.5 464.0h0M457.8 450.8h0M449.3 445.1h0M437.9 449.1h0M439.2 439.3h0M447.2 470.1h0M447.9 450.5h0M457.3 456.3h0M447.7 443.6h0M452.9 452.6h0M454.5 453.4h0M449.3 442.4h0M461.8 452.7h0M450.5 462.2h0M441.9 473.0h0M442.3 451.9h0M442.9 448.6h0M448.9 449.5h0M452.8 466.6h0M445.2 455.7h0M444.2 455.8h0M451.5 462.7h0M451.7 439.3h0M447.1 459.4h0M453.7 465.6h0M446.5 451.5h0" stroke="#1e8fff" stroke-width="1.90" stroke-linecap="round"/>
<path d="M389.20 508.59L389.78 508.59L390.37 508.59L390.95 508.59L391.53 508.59L392.11 508.59L392.70 508.59L393.28 508.59L393.86 508.59L394.45 508.59L395.03 508.59L395.61 508.58L396.19 508.58L396.78 508.58L397.36 508.58L397.94 508.58L398.53 508.57L399.11 508.57L399.69 508.57L400.28 508.56L400.86 508.56L401.44 508.56L402.02 508.55L402.61 508.55L403.19 508.54L403.77 508.54L404.36 508.53L404.94 508.52L405.52 508.51L406.10 508.50L406.69 508.49L407.27 508.48L407.85 508.47L408.44 508.46L409.02 508.44L409.60 508.42L410.18 508.40L410.77 508.38L411.35 508.36L411.93 508.34L412.52 508.31L413.10 508.28L413.68 508.24L414.27 508.21L414.85 508.16L415.43 508.12L416.01 508.07L416.60 508.01L417.18 507.95L417.76 507.88L418.35 507.81L418.93 507.72L419.51 507.63L420.09 507.53L420.68 507.42L421.26 507.30L421.84 507.16L422.43 507.01L423.01 506.84L423.59 506.66L424.17 506.46L424.76 506.24L425.34 505.99L425.92 505.73L426.51 505.43L427.09 505.11L427.67 504.75L428.26 504.36L428.84 503.93L429.42 503.45L430.00 502.94L430.59 502.37L431.17 501.75L431.75 501.07L432.34 500.33L432.92 499.53L433.50 498.65L434.08 497.70L434.67 496.67L435.25 495.55L435.83 494.34L436.42 493.03L437.00 491.63L437.58 490.12L438.16 488.51L438.75 486.78L439.33 484.95L439.91 483.00L440.50 480.95L441.08 478.78L441.66 476.50L442.25 474.12L442.83 471.64L443.41 469.07L443.99 466.42L444.58 463.69L445.16 460.90L445.74 458.07L446.33 455.19L446.91 452.30L447.49 449.40L448.07 446.51L448.66 443.63L449.24 440.80L449.82 438.01L450.41 435.28L450.99 432.63L451.57 430.06L452.15 427.58L452.74 425.20L453.32 422.92L453.90 420.75L454.49 418.70L455.07 416.75L455.65 414.92L456.24 413.19L456.82 411.58L457.40 410.07L457.98 408.67L458.57 407.36L459.15 406.15L459.73 405.03L460.32 404.00L460.90 403.05L461.48 402.17L462.06 401.37L462.65 400.63L463.23 399.95L463.81 399.33L464.40 398.76L464.98 398.25L465.56 397.77L466.14 397.34L466.73 396.95L467.31 396.59L467.89 396.27L468.48 395.97L469.06 395.71L469.64 395.46L470.23 395.24L470.81 395.04L471.39 394.86L471.97 394.69L472.56 394.54L473.14 394.40L473.72 394.28L474.31 394.17L474.89 394.07L475.47 393.98L476.05 393.89L476.64 393.82L477.22 393.75L477.80 393.69L478.39 393.63L478.97 393.58L479.55 393.54L480.13 393.49L480.72 393.46L481.30 393.42L481.88 393.39L482.47 393.36L483.05 393.34L483.63 393.32L484.22 393.30L484.80 393.28L485.38 393.26L485.96 393.24L486.55 393.23L487.13 393.22L487.71 393.21L488.30 393.20L488.88 393.19L489.46 393.18L490.04 393.17L490.63 393.16L491.21 393.16L491.79 393.15L492.38 393.15L492.96 393.14L493.54 393.14L494.12 393.14L494.71 393.13L495.29 393.13L495.87 393.13L496.46 393.12L497.04 393.12L497.62 393.12L498.21 393.12L498.79 393.12L499.37 393.11L499.95 393.11L500.54 393.11L501.12 393.11L501.70 393.11L502.29 393.11L502.87 393.11L503.45 393.11L504.03 393.11L504.62 393.11L505.20 393.11" fill="none" stroke="#222" stroke-width="0.8" stroke-dasharray="2.8,1.8"/>
<line x1="389.20" y1="393.10" x2="389.20" y2="508.60" stroke="#555555" stroke-width="0.8"/>
<line x1="389.20" y1="508.60" x2="505.20" y2="508.60" stroke="#555555" stroke-width="0.8"/>
<line x1="386.80" y1="508.60" x2="389.20" y2="508.60" stroke="#555555" stroke-width="0.8"/>
<text x="383.80" y="511.20" font-size="7.6" text-anchor="end" fill="#231f20">0</text>
<line x1="386.80" y1="485.50" x2="389.20" y2="485.50" stroke="#555555" stroke-width="0.8"/>
<text x="383.80" y="488.10" font-size="7.6" text-anchor="end" fill="#231f20">0.2</text>
<line x1="386.80" y1="462.40" x2="389.20" y2="462.40" stroke="#555555" stroke-width="0.8"/>
<text x="383.80" y="465.00" font-size="7.6" text-anchor="end" fill="#231f20">0.4</text>
<line x1="386.80" y1="439.30" x2="389.20" y2="439.30" stroke="#555555" stroke-width="0.8"/>
<text x="383.80" y="441.90" font-size="7.6" text-anchor="end" fill="#231f20">0.6</text>
<line x1="386.80" y1="416.20" x2="389.20" y2="416.20" stroke="#555555" stroke-width="0.8"/>
<text x="383.80" y="418.80" font-size="7.6" text-anchor="end" fill="#231f20">0.8</text>
<line x1="386.80" y1="393.10" x2="389.20" y2="393.10" stroke="#555555" stroke-width="0.8"/>
<text x="383.80" y="395.70" font-size="7.6" text-anchor="end" fill="#231f20">1.0</text>
<line x1="389.20" y1="508.60" x2="389.20" y2="511.00" stroke="#555555" stroke-width="0.8"/>
<text x="389.20" y="521.20" font-size="7.6" text-anchor="middle" fill="#231f20">−10</text>
<line x1="418.20" y1="508.60" x2="418.20" y2="511.00" stroke="#555555" stroke-width="0.8"/>
<text x="418.20" y="521.20" font-size="7.6" text-anchor="middle" fill="#231f20">−5</text>
<line x1="447.20" y1="508.60" x2="447.20" y2="511.00" stroke="#555555" stroke-width="0.8"/>
<text x="447.20" y="521.20" font-size="7.6" text-anchor="middle" fill="#231f20">0</text>
<line x1="476.20" y1="508.60" x2="476.20" y2="511.00" stroke="#555555" stroke-width="0.8"/>
<text x="476.20" y="521.20" font-size="7.6" text-anchor="middle" fill="#231f20">5</text>
<line x1="505.20" y1="508.60" x2="505.20" y2="511.00" stroke="#555555" stroke-width="0.8"/>
<text x="505.20" y="521.20" font-size="7.6" text-anchor="middle" fill="#231f20">10</text>
<text x="366.20" y="450.85" font-size="8.9" text-anchor="middle" fill="#231f20" transform="rotate(-90 366.20 450.85)">Probability</text>
<text x="447.20" y="533.00" font-size="8.9" text-anchor="middle" fill="#231f20">Logit</text>
<path d="M531.20 508.60L531.20 508.60L531.20 506.29L531.20 506.29L531.20 503.98L531.20 503.98L531.20 501.67L531.20 501.67L531.20 499.36L531.20 499.36L531.20 497.05L531.20 497.05L531.20 494.74L531.20 494.74L531.20 492.43L531.20 492.43L531.20 490.12L531.20 490.12L531.20 487.81L531.20 487.81L531.20 485.50L531.20 485.50L531.20 483.19L531.20 483.19L531.20 480.88L531.22 480.88L531.22 478.57L531.25 478.57L531.25 476.26L531.34 476.26L531.34 473.95L531.56 473.95L531.56 471.64L532.02 471.64L532.02 469.33L532.99 469.33L532.99 467.02L534.57 467.02L534.57 464.71L537.08 464.71L537.08 462.40L540.56 462.40L540.56 460.09L544.70 460.09L544.70 457.78L548.89 457.78L548.89 455.47L552.70 455.47L552.70 453.16L554.88 453.16L554.88 450.85L554.84 450.85L554.84 448.54L552.61 448.54L552.61 446.23L548.99 446.23L548.99 443.92L544.67 443.92L544.67 441.61L540.32 441.61L540.32 439.30L537.12 439.30L537.12 436.99L534.53 436.99L534.53 434.68L532.93 434.68L532.93 432.37L532.06 432.37L532.06 430.06L531.55 430.06L531.55 427.75L531.33 427.75L531.33 425.44L531.26 425.44L531.26 423.13L531.22 423.13L531.22 420.82L531.21 420.82L531.21 418.51L531.20 418.51L531.20 416.20L531.20 416.20L531.20 413.89L531.20 413.89L531.20 411.58L531.20 411.58L531.20 409.27L531.20 409.27L531.20 406.96L531.20 406.96L531.20 404.65L531.20 404.65L531.20 402.34L531.20 402.34L531.20 400.03L531.20 400.03L531.20 397.72L531.20 397.72L531.20 395.41L531.20 395.41L531.20 393.10L531.20 393.10Z" fill="#80bfff"/>
<line x1="531.20" y1="450.85" x2="570.40" y2="450.85" stroke="#444" stroke-width="0.8" stroke-dasharray="2.2,1.6"/>
<line x1="531.20" y1="393.10" x2="531.20" y2="508.60" stroke="#555555" stroke-width="0.8"/>
<line x1="531.20" y1="508.60" x2="570.40" y2="508.60" stroke="#555555" stroke-width="0.8"/>
<line x1="528.80" y1="508.60" x2="531.20" y2="508.60" stroke="#555555" stroke-width="0.8"/>
<text x="525.80" y="511.20" font-size="7.6" text-anchor="end" fill="#231f20">0</text>
<line x1="528.80" y1="485.50" x2="531.20" y2="485.50" stroke="#555555" stroke-width="0.8"/>
<text x="525.80" y="488.10" font-size="7.6" text-anchor="end" fill="#231f20">0.2</text>
<line x1="528.80" y1="462.40" x2="531.20" y2="462.40" stroke="#555555" stroke-width="0.8"/>
<text x="525.80" y="465.00" font-size="7.6" text-anchor="end" fill="#231f20">0.4</text>
<line x1="528.80" y1="439.30" x2="531.20" y2="439.30" stroke="#555555" stroke-width="0.8"/>
<text x="525.80" y="441.90" font-size="7.6" text-anchor="end" fill="#231f20">0.6</text>
<line x1="528.80" y1="416.20" x2="531.20" y2="416.20" stroke="#555555" stroke-width="0.8"/>
<text x="525.80" y="418.80" font-size="7.6" text-anchor="end" fill="#231f20">0.8</text>
<line x1="528.80" y1="393.10" x2="531.20" y2="393.10" stroke="#555555" stroke-width="0.8"/>
<text x="525.80" y="395.70" font-size="7.6" text-anchor="end" fill="#231f20">1.0</text>
<line x1="531.20" y1="508.60" x2="531.20" y2="511.00" stroke="#555555" stroke-width="0.8"/>
<text x="531.20" y="521.20" font-size="7.6" text-anchor="middle" fill="#231f20">0</text>
<line x1="570.40" y1="508.60" x2="570.40" y2="511.00" stroke="#555555" stroke-width="0.8"/>
<text x="570.40" y="521.20" font-size="7.6" text-anchor="middle" fill="#231f20">10</text>
<text x="550.80" y="533.00" font-size="8.9" text-anchor="middle" fill="#231f20">Density</text>
<text x="585.60" y="394.00" font-size="13" text-anchor="start" fill="#000" font-weight="bold" stroke="#000" stroke-width="0.45">j</text>
<path d="M622.10 508.60L657.57 508.60L657.57 504.48L654.92 504.48L654.92 500.35L650.25 500.35L650.25 496.23L644.74 496.23L644.74 492.10L638.83 492.10L638.83 487.98L633.67 487.98L633.67 483.85L629.62 483.85L629.62 479.73L626.54 479.73L626.54 475.60L624.55 475.60L624.55 471.48L623.37 471.48L623.37 467.35L622.70 467.35L622.70 463.23L622.35 463.23L622.35 459.10L622.22 459.10L622.22 454.98L622.14 454.98L622.14 450.85L622.11 450.85L622.11 446.73L622.10 446.73L622.10 442.60L622.10 442.60L622.10 438.48L622.10 438.48L622.10 434.35L622.10 434.35L622.10 430.23L622.10 430.23L622.10 426.10L622.10 426.10L622.10 421.98L622.10 421.98L622.10 417.85L622.10 417.85L622.10 413.73L622.10 413.73L622.10 409.60L622.10 409.60L622.10 405.48L622.10 405.48L622.10 401.35L622.10 401.35L622.10 397.23L622.10 397.23L622.10 393.10L622.10 393.10Z" fill="#80bfff"/>
<line x1="622.10" y1="393.10" x2="622.10" y2="508.60" stroke="#555555" stroke-width="0.8"/>
<line x1="622.10" y1="508.60" x2="680.70" y2="508.60" stroke="#555555" stroke-width="0.8"/>
<line x1="619.70" y1="393.10" x2="622.10" y2="393.10" stroke="#555555" stroke-width="0.8"/>
<text x="616.70" y="395.70" font-size="7.6" text-anchor="end" fill="#231f20">1.00</text>
<line x1="619.70" y1="450.85" x2="622.10" y2="450.85" stroke="#555555" stroke-width="0.8"/>
<text x="616.70" y="453.45" font-size="7.6" text-anchor="end" fill="#231f20">0.75</text>
<line x1="619.70" y1="508.60" x2="622.10" y2="508.60" stroke="#555555" stroke-width="0.8"/>
<text x="616.70" y="511.20" font-size="7.6" text-anchor="end" fill="#231f20">0.50</text>
<line x1="622.10" y1="508.60" x2="622.10" y2="511.00" stroke="#555555" stroke-width="0.8"/>
<text x="622.10" y="521.20" font-size="7.6" text-anchor="middle" fill="#231f20">0</text>
<line x1="651.40" y1="508.60" x2="651.40" y2="511.00" stroke="#555555" stroke-width="0.8"/>
<text x="651.40" y="521.20" font-size="7.6" text-anchor="middle" fill="#231f20">10</text>
<line x1="680.70" y1="508.60" x2="680.70" y2="511.00" stroke="#555555" stroke-width="0.8"/>
<text x="680.70" y="521.20" font-size="7.6" text-anchor="middle" fill="#231f20">20</text>
<text x="595.00" y="450.85" font-size="8.9" text-anchor="middle" fill="#231f20" transform="rotate(-90 595.00 450.85)">Confidence</text>
<text x="651.40" y="533.00" font-size="8.9" text-anchor="middle" fill="#231f20">Density</text>
</svg></body></html>
